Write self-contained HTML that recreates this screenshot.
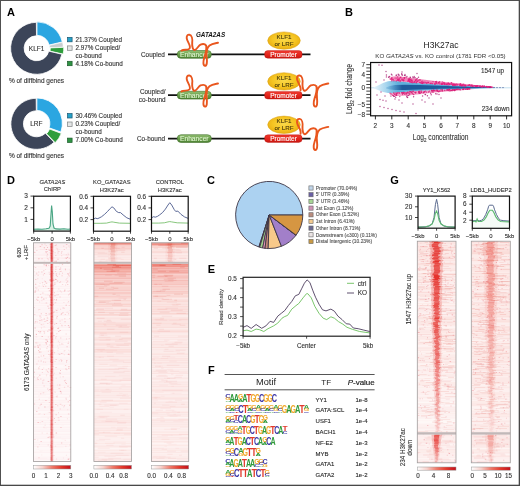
<!DOCTYPE html><html><head><meta charset="utf-8"><style>
html,body{margin:0;padding:0;background:#fff;}
svg{display:block;filter:blur(0.35px)}
text{font-family:"Liberation Sans",sans-serif;}
</style></head><body>
<svg width="520" height="486" viewBox="0 0 520 486">
<defs>
<linearGradient id="cbar" x1="0" x2="1" y1="0" y2="0"><stop offset="0" stop-color="#ffffff"/><stop offset="0.25" stop-color="#f8d2cc"/><stop offset="0.5" stop-color="#f07a6a"/><stop offset="0.75" stop-color="#e4392c"/><stop offset="1" stop-color="#c40f1a"/></linearGradient>
<linearGradient id="eg" x1="0" x2="0" y1="0" y2="1"><stop offset="0" stop-color="#94c274"/><stop offset="0.5" stop-color="#6a9e4c"/><stop offset="1" stop-color="#4c8232"/></linearGradient>
<linearGradient id="pg" x1="0" x2="0" y1="0" y2="1"><stop offset="0" stop-color="#ee3a30"/><stop offset="0.6" stop-color="#e2231a"/><stop offset="1" stop-color="#c81812"/></linearGradient>
<radialGradient id="yg" cx="0.5" cy="0.45" r="0.6"><stop offset="0" stop-color="#fad94a"/><stop offset="0.6" stop-color="#f5c421"/><stop offset="1" stop-color="#e6a90f"/></radialGradient>
</defs>
<rect x="0" y="0" width="520" height="486" fill="#fff"/>

<text x="7" y="16" font-size="11" text-anchor="start" fill="#000" font-weight="bold" font-style="normal" >A</text>
<text x="345" y="16.3" font-size="11" text-anchor="start" fill="#000" font-weight="bold" font-style="normal" >B</text>
<text x="7" y="184.2" font-size="11" text-anchor="start" fill="#000" font-weight="bold" font-style="normal" >D</text>
<text x="207" y="184.2" font-size="11" text-anchor="start" fill="#000" font-weight="bold" font-style="normal" >C</text>
<text x="390.3" y="184.3" font-size="11" text-anchor="start" fill="#000" font-weight="bold" font-style="normal" >G</text>
<text x="207.8" y="273.2" font-size="11" text-anchor="start" fill="#000" font-weight="bold" font-style="normal" >E</text>
<text x="208" y="373.8" font-size="11" text-anchor="start" fill="#000" font-weight="bold" font-style="normal" >F</text>
<path d="M36.97,21.83A26,26 0 0 1 62.30,41.95L49.15,45.00A12.5,12.5 0 0 0 36.97,35.33Z" fill="#2ba6e1" stroke="#fff" stroke-width="0.8"/><path d="M62.52,42.34A26,26 0 0 1 63.17,47.14L49.68,47.70A12.5,12.5 0 0 0 49.37,45.39Z" fill="#c9cdd0" stroke="#fff" stroke-width="0.5"/><path d="M63.77,47.33A26,26 0 0 1 63.16,54.11L49.99,51.15A12.5,12.5 0 0 0 50.28,47.89Z" fill="#2f9e3c" stroke="#fff" stroke-width="0.8"/><path d="M61.92,54.22A26,26 0 1 1 36.37,22.30L36.49,35.80A12.5,12.5 0 1 0 48.77,51.15Z" fill="#3c4559" stroke="#fff" stroke-width="0.8"/><text x="36.6" y="50.599999999999994" font-size="6.5" text-anchor="middle" fill="#333" font-weight="normal" font-style="normal" stroke="#333" stroke-width="0.12" >KLF1</text>
<path d="M36.89,97.95A25.5,25.5 0 0 1 60.90,132.03L49.13,127.83A13,13 0 0 0 36.89,110.45Z" fill="#2ba6e1" stroke="#fff" stroke-width="0.8"/><path d="M60.98,132.58A25.5,25.5 0 0 1 60.85,132.93L49.14,128.56A13,13 0 0 0 49.21,128.38Z" fill="#c9cdd0" stroke="#fff" stroke-width="0.5"/><path d="M61.29,133.38A25.5,25.5 0 0 1 55.22,142.70L46.49,133.76A13,13 0 0 0 49.58,129.00Z" fill="#2f9e3c" stroke="#fff" stroke-width="0.8"/><path d="M54.05,142.20A25.5,25.5 0 1 1 36.18,98.30L36.29,110.80A13,13 0 1 0 45.40,133.18Z" fill="#3c4559" stroke="#fff" stroke-width="0.8"/><text x="36.4" y="126.1" font-size="6.5" text-anchor="middle" fill="#333" font-weight="normal" font-style="normal" stroke="#333" stroke-width="0.12" >LRF</text>
<text x="36.5" y="82.6" font-size="6.5" text-anchor="middle" fill="#333" font-weight="normal" font-style="normal" stroke="#333" stroke-width="0.12" >% of diffbind genes</text>
<text x="36.5" y="158.3" font-size="6.5" text-anchor="middle" fill="#333" font-weight="normal" font-style="normal" stroke="#333" stroke-width="0.12" >% of diffbind genes</text>
<rect x="67.5" y="37.4" width="4.6" height="4.4" fill="#27a2c8" stroke="#1a5672" stroke-width="0.7"/><text x="75.5" y="41.8" font-size="6.3" text-anchor="start" fill="#333" font-weight="normal" font-style="normal" stroke="#333" stroke-width="0.12" >21.37% Coupled</text><rect x="67.5" y="45.9" width="4.6" height="4.4" fill="#e4e6e6" stroke="#7d8283" stroke-width="0.7"/><text x="75.5" y="50.2" font-size="6.3" text-anchor="start" fill="#333" font-weight="normal" font-style="normal" stroke="#333" stroke-width="0.12" >2.97% Coupled/</text><text x="75.5" y="57.6" font-size="6.3" text-anchor="start" fill="#333" font-weight="normal" font-style="normal" stroke="#333" stroke-width="0.12" >co-bound</text><rect x="67.5" y="61.3" width="4.6" height="4.4" fill="#2f9444" stroke="#1c5a2a" stroke-width="0.7"/><text x="75.5" y="65.7" font-size="6.3" text-anchor="start" fill="#333" font-weight="normal" font-style="normal" stroke="#333" stroke-width="0.12" >4.18% Co-bound</text>
<rect x="67.5" y="113.6" width="4.6" height="4.4" fill="#27a2c8" stroke="#1a5672" stroke-width="0.7"/><text x="75.5" y="118.1" font-size="6.3" text-anchor="start" fill="#333" font-weight="normal" font-style="normal" stroke="#333" stroke-width="0.12" >30.46% Coupled</text><rect x="67.5" y="122.0" width="4.6" height="4.4" fill="#e4e6e6" stroke="#7d8283" stroke-width="0.7"/><text x="75.5" y="126.3" font-size="6.3" text-anchor="start" fill="#333" font-weight="normal" font-style="normal" stroke="#333" stroke-width="0.12" >0.23% Coupled/</text><text x="75.5" y="133.6" font-size="6.3" text-anchor="start" fill="#333" font-weight="normal" font-style="normal" stroke="#333" stroke-width="0.12" >co-bound</text><rect x="67.5" y="138.1" width="4.6" height="4.4" fill="#2f9444" stroke="#1c5a2a" stroke-width="0.7"/><text x="75.5" y="142.3" font-size="6.3" text-anchor="start" fill="#333" font-weight="normal" font-style="normal" stroke="#333" stroke-width="0.12" >7.00% Co-bound</text>
<line x1="168" y1="54.4" x2="310.5" y2="54.4" stroke="#111" stroke-width="1.7"/><rect x="177.2" y="50.5" width="34.2" height="7.8" rx="3.9" fill="url(#eg)" stroke="#3f6f2a" stroke-width="0.6"/><text x="194.3" y="56.8" font-size="6.7" text-anchor="middle" fill="#dff3cf" font-weight="normal" font-style="normal" stroke="#dff3cf" stroke-width="0.12" >Enhancer</text><rect x="264.6" y="50.6" width="37.5" height="7.6" rx="3.3" fill="url(#pg)" stroke="#b81410" stroke-width="0.4"/><text x="283.5" y="56.8" font-size="6.5" text-anchor="middle" fill="#fff" font-weight="normal" font-style="normal" stroke="#fff" stroke-width="0.12" >Promoter</text><ellipse cx="284" cy="40.599999999999994" rx="16.3" ry="8.7" fill="url(#yg)" stroke="#dba010" stroke-width="0.5"/><text x="284" y="39.099999999999994" font-size="6.2" text-anchor="middle" fill="#4a3c0c" font-weight="normal" font-style="normal" stroke="#4a3c0c" stroke-width="0.12" >KLF1</text><text x="284" y="46.0" font-size="6.2" text-anchor="middle" fill="#4a3c0c" font-weight="normal" font-style="normal" stroke="#4a3c0c" stroke-width="0.12" >or LRF</text><path d="M181.5,50.5 C184,49 187.5,50.5 189.5,48.5 C191.5,46 187,41.5 186.7,38 C186.5,35.3 187.8,34.4 189.4,34.6 C191.8,35 192.6,39 192.2,42.5 C191.9,46.5 193,50.5 195,49.8 C197,49 198.5,45.5 200.5,44.5 C202.5,43.8 205,43.8 206.2,45.5 C206.8,49.5 205.5,54 204.3,57.5 C203,61.5 203,65.5 205,65.7 C207,65.8 207.2,61.5 206.7,57.5 C206.2,53 206.8,47.5 209.5,45.3 C212,43.5 215,43.2 218,42.6" transform="translate(0,0.10000000000000142)" fill="none" stroke="#e9561e" stroke-width="1.9" stroke-linecap="round" stroke-linejoin="round"/>
<line x1="168" y1="95.2" x2="310.5" y2="95.2" stroke="#111" stroke-width="1.7"/><rect x="177.2" y="91.3" width="34.2" height="7.8" rx="3.9" fill="url(#eg)" stroke="#3f6f2a" stroke-width="0.6"/><text x="194.3" y="97.60000000000001" font-size="6.7" text-anchor="middle" fill="#dff3cf" font-weight="normal" font-style="normal" stroke="#dff3cf" stroke-width="0.12" >Enhancer</text><rect x="264.6" y="91.4" width="37.5" height="7.6" rx="3.3" fill="url(#pg)" stroke="#b81410" stroke-width="0.4"/><text x="283.5" y="97.60000000000001" font-size="6.5" text-anchor="middle" fill="#fff" font-weight="normal" font-style="normal" stroke="#fff" stroke-width="0.12" >Promoter</text><ellipse cx="284" cy="81.4" rx="16.3" ry="8.7" fill="url(#yg)" stroke="#dba010" stroke-width="0.5"/><text x="284" y="79.9" font-size="6.2" text-anchor="middle" fill="#4a3c0c" font-weight="normal" font-style="normal" stroke="#4a3c0c" stroke-width="0.12" >KLF1</text><text x="284" y="86.8" font-size="6.2" text-anchor="middle" fill="#4a3c0c" font-weight="normal" font-style="normal" stroke="#4a3c0c" stroke-width="0.12" >or LRF</text><path d="M181.5,50.5 C184,49 187.5,50.5 189.5,48.5 C191.5,46 187,41.5 186.7,38 C186.5,35.3 187.8,34.4 189.4,34.6 C191.8,35 192.6,39 192.2,42.5 C191.9,46.5 193,50.5 195,49.8 C197,49 198.5,45.5 200.5,44.5 C202.5,43.8 205,43.8 206.2,45.5 C206.8,49.5 205.5,54 204.3,57.5 C203,61.5 203,65.5 205,65.7 C207,65.8 207.2,61.5 206.7,57.5 C206.2,53 206.8,47.5 209.5,45.3 C212,43.5 215,43.2 218,42.6" transform="translate(0,40.900000000000006)" fill="none" stroke="#e9561e" stroke-width="1.9" stroke-linecap="round" stroke-linejoin="round"/><path d="M190.2,49.5 C191.5,46 187,41.5 186.7,38 C186.5,35.3 187.8,34.4 189.4,34.6 C191.8,35 192.6,39 192.2,42.5 C191.9,46.5 193,50.5 195,49.8 C197,49 198.5,45.5 200.5,44.5 C202.5,43.8 205,43.8 206.2,45.5 C206.8,49.5 205.5,54 204.3,57.5 C203,61.5 203,65.5 205,65.7 C207,65.8 207.2,61.5 206.7,57.5 C206.2,53 206.8,47.5 209.5,45.3 C212,43.5 215,43.2 218,42.6" transform="translate(110.3,40.900000000000006)" fill="none" stroke="#e9561e" stroke-width="1.9" stroke-linecap="round" stroke-linejoin="round"/>
<line x1="168" y1="138.6" x2="310.5" y2="138.6" stroke="#111" stroke-width="1.7"/><rect x="177.2" y="134.7" width="34.2" height="7.8" rx="3.9" fill="url(#eg)" stroke="#3f6f2a" stroke-width="0.6"/><text x="194.3" y="141.0" font-size="6.7" text-anchor="middle" fill="#dff3cf" font-weight="normal" font-style="normal" stroke="#dff3cf" stroke-width="0.12" >Enhancer</text><rect x="264.6" y="134.79999999999998" width="37.5" height="7.6" rx="3.3" fill="url(#pg)" stroke="#b81410" stroke-width="0.4"/><text x="283.5" y="141.0" font-size="6.5" text-anchor="middle" fill="#fff" font-weight="normal" font-style="normal" stroke="#fff" stroke-width="0.12" >Promoter</text><ellipse cx="284" cy="124.8" rx="16.3" ry="8.7" fill="url(#yg)" stroke="#dba010" stroke-width="0.5"/><text x="284" y="123.3" font-size="6.2" text-anchor="middle" fill="#4a3c0c" font-weight="normal" font-style="normal" stroke="#4a3c0c" stroke-width="0.12" >KLF1</text><text x="284" y="130.2" font-size="6.2" text-anchor="middle" fill="#4a3c0c" font-weight="normal" font-style="normal" stroke="#4a3c0c" stroke-width="0.12" >or LRF</text><path d="M190.2,49.5 C191.5,46 187,41.5 186.7,38 C186.5,35.3 187.8,34.4 189.4,34.6 C191.8,35 192.6,39 192.2,42.5 C191.9,46.5 193,50.5 195,49.8 C197,49 198.5,45.5 200.5,44.5 C202.5,43.8 205,43.8 206.2,45.5 C206.8,49.5 205.5,54 204.3,57.5 C203,61.5 203,65.5 205,65.7 C207,65.8 207.2,61.5 206.7,57.5 C206.2,53 206.8,47.5 209.5,45.3 C212,43.5 215,43.2 218,42.6" transform="translate(110.3,84.3)" fill="none" stroke="#e9561e" stroke-width="1.9" stroke-linecap="round" stroke-linejoin="round"/>
<text x="164.8" y="56.6" font-size="6.4" text-anchor="end" fill="#333" font-weight="normal" font-style="normal" stroke="#333" stroke-width="0.12" >Coupled</text>
<text x="165.5" y="94.2" font-size="6.4" text-anchor="end" fill="#333" font-weight="normal" font-style="normal" stroke="#333" stroke-width="0.12" >Coupled/</text>
<text x="165.5" y="101.6" font-size="6.4" text-anchor="end" fill="#333" font-weight="normal" font-style="normal" stroke="#333" stroke-width="0.12" >co-bound</text>
<text x="165.0" y="140.8" font-size="6.4" text-anchor="end" fill="#333" font-weight="normal" font-style="normal" stroke="#333" stroke-width="0.12" >Co-bound</text>
<text x="210.5" y="37.2" font-size="6.3" text-anchor="middle" fill="#111" font-weight="bold" font-style="italic" >GATA2AS</text>
<text x="441" y="48" font-size="8.5" text-anchor="middle" fill="#222" font-weight="normal" font-style="normal" >H3K27ac</text>
<text x="440.5" y="58.2" font-size="6.2" text-anchor="middle" fill="#333">KO <tspan font-style="italic">GATA2AS</tspan> vs. KO control (1781 FDR &lt;0.05)</text>
<defs><linearGradient id="lb" x1="374" x2="398" y1="0" y2="0" gradientUnits="userSpaceOnUse"><stop offset="0" stop-color="#e4f2fa"/><stop offset="0.5" stop-color="#a8d6ee"/><stop offset="1" stop-color="#5fb0dc"/></linearGradient><linearGradient id="cb" x1="386" x2="402" y1="0" y2="0" gradientUnits="userSpaceOnUse"><stop offset="0" stop-color="#4f9ccf" stop-opacity="0.3"/><stop offset="1" stop-color="#1d5c9c"/></linearGradient><linearGradient id="pk" x1="384" x2="396" y1="0" y2="0" gradientUnits="userSpaceOnUse"><stop offset="0" stop-color="#e5217f" stop-opacity="0.15"/><stop offset="1" stop-color="#e5217f" stop-opacity="0.92"/></linearGradient></defs>
<line x1="370.6" y1="87.8" x2="511.6" y2="87.8" stroke="#c4e0f0" stroke-width="1"/>
<polygon points="389,78 392,76.5 397,76.2 405,77 415,78.5 425,79.8 435,81 445,82 455,83 465,84 475,85 485,86 495,87 495,87.5 480,86.8 465,86 450,85.2 435,84.3 420,83.3 410,82.5 400,81.6 393,80.8" fill="url(#pk)" opacity="0.6"/>
<polygon points="393,93 400,92.3 410,91.4 420,90.7 435,89.9 450,89.3 465,88.8 480,88.4 470,89.6 460,90.4 450,91.2 440,92 430,93 420,94.2 410,95.2 400,96 393,96 389,95" fill="url(#pk)" opacity="0.45"/>
<polygon points="374,87.2 378,85.5 383,83 388,81.2 393,80.8 400,81.6 410,82.5 420,83.3 435,84.3 450,85.2 465,86 480,86.8 495,87.5 495,88.1 480,88.4 465,88.8 450,89.3 435,89.9 420,90.7 410,91.4 400,92.3 393,93 388,93 383,92 378,90 374,88.4" fill="url(#lb)" opacity="1"/>
<polygon points="386,87.4 390,86 395,84.9 405,84.7 420,85.1 440,85.7 460,86.4 480,87 492,87.5 492,87.9 480,88.1 460,88.4 440,88.8 420,89.4 405,89.9 395,90 390,89.4 386,88.4" fill="url(#cb)" opacity="1"/>
<circle cx="436.1" cy="83.4" r="0.7" fill="#e0207c" opacity="0.85"/>
<circle cx="484.3" cy="86.6" r="0.7" fill="#e0207c" opacity="0.85"/>
<circle cx="441.8" cy="83.9" r="0.7" fill="#e0207c" opacity="0.85"/>
<circle cx="408.8" cy="80.8" r="0.7" fill="#e0207c" opacity="0.85"/>
<circle cx="454.2" cy="85.1" r="0.7" fill="#e0207c" opacity="0.85"/>
<circle cx="399.6" cy="79.0" r="0.7" fill="#e0207c" opacity="0.85"/>
<circle cx="399.2" cy="80.9" r="0.7" fill="#e0207c" opacity="0.85"/>
<circle cx="460.7" cy="83.9" r="0.7" fill="#e0207c" opacity="0.85"/>
<circle cx="490.2" cy="87.3" r="0.7" fill="#e0207c" opacity="0.85"/>
<circle cx="456.7" cy="85.0" r="0.7" fill="#e0207c" opacity="0.85"/>
<circle cx="406.1" cy="77.6" r="0.7" fill="#e0207c" opacity="0.85"/>
<circle cx="443.9" cy="82.4" r="0.7" fill="#e0207c" opacity="0.85"/>
<circle cx="409.4" cy="79.7" r="0.7" fill="#e0207c" opacity="0.85"/>
<circle cx="393.1" cy="79.2" r="0.7" fill="#e0207c" opacity="0.85"/>
<circle cx="434.9" cy="84.0" r="0.7" fill="#e0207c" opacity="0.85"/>
<circle cx="443.0" cy="84.1" r="0.7" fill="#e0207c" opacity="0.85"/>
<circle cx="441.0" cy="84.0" r="0.7" fill="#e0207c" opacity="0.85"/>
<circle cx="436.6" cy="82.7" r="0.7" fill="#e0207c" opacity="0.85"/>
<circle cx="491.8" cy="87.3" r="0.7" fill="#e0207c" opacity="0.85"/>
<circle cx="475.7" cy="86.3" r="0.7" fill="#e0207c" opacity="0.85"/>
<circle cx="422.2" cy="81.1" r="0.7" fill="#e0207c" opacity="0.85"/>
<circle cx="419.5" cy="79.9" r="0.7" fill="#e0207c" opacity="0.85"/>
<circle cx="468.2" cy="85.4" r="0.7" fill="#e0207c" opacity="0.85"/>
<circle cx="476.4" cy="86.0" r="0.7" fill="#e0207c" opacity="0.85"/>
<circle cx="487.7" cy="87.1" r="0.7" fill="#e0207c" opacity="0.85"/>
<circle cx="390.1" cy="78.9" r="0.7" fill="#e0207c" opacity="0.85"/>
<circle cx="482.8" cy="86.5" r="0.7" fill="#e0207c" opacity="0.85"/>
<circle cx="490.0" cy="86.9" r="0.7" fill="#e0207c" opacity="0.85"/>
<circle cx="397.4" cy="80.1" r="0.7" fill="#e0207c" opacity="0.85"/>
<circle cx="469.4" cy="85.3" r="0.7" fill="#e0207c" opacity="0.85"/>
<circle cx="398.9" cy="79.0" r="0.7" fill="#e0207c" opacity="0.85"/>
<circle cx="488.3" cy="87.1" r="0.7" fill="#e0207c" opacity="0.85"/>
<circle cx="402.0" cy="78.9" r="0.7" fill="#e0207c" opacity="0.85"/>
<circle cx="400.3" cy="77.5" r="0.7" fill="#e0207c" opacity="0.85"/>
<circle cx="471.3" cy="85.2" r="0.7" fill="#e0207c" opacity="0.85"/>
<circle cx="447.0" cy="83.9" r="0.7" fill="#e0207c" opacity="0.85"/>
<circle cx="409.4" cy="81.6" r="0.7" fill="#e0207c" opacity="0.85"/>
<circle cx="403.4" cy="80.7" r="0.7" fill="#e0207c" opacity="0.85"/>
<circle cx="401.9" cy="79.7" r="0.7" fill="#e0207c" opacity="0.85"/>
<circle cx="411.7" cy="80.1" r="0.7" fill="#e0207c" opacity="0.85"/>
<circle cx="489.0" cy="87.1" r="0.7" fill="#e0207c" opacity="0.85"/>
<circle cx="421.0" cy="83.1" r="0.7" fill="#e0207c" opacity="0.85"/>
<circle cx="411.5" cy="80.6" r="0.7" fill="#e0207c" opacity="0.85"/>
<circle cx="477.1" cy="86.3" r="0.7" fill="#e0207c" opacity="0.85"/>
<circle cx="400.2" cy="81.6" r="0.7" fill="#e0207c" opacity="0.85"/>
<circle cx="411.8" cy="80.1" r="0.7" fill="#e0207c" opacity="0.85"/>
<circle cx="468.8" cy="85.3" r="0.7" fill="#e0207c" opacity="0.85"/>
<circle cx="420.2" cy="80.0" r="0.7" fill="#e0207c" opacity="0.85"/>
<circle cx="399.2" cy="80.1" r="0.7" fill="#e0207c" opacity="0.85"/>
<circle cx="414.8" cy="81.7" r="0.7" fill="#e0207c" opacity="0.85"/>
<circle cx="427.9" cy="82.4" r="0.7" fill="#e0207c" opacity="0.85"/>
<circle cx="487.8" cy="86.9" r="0.7" fill="#e0207c" opacity="0.85"/>
<circle cx="448.6" cy="84.9" r="0.7" fill="#e0207c" opacity="0.85"/>
<circle cx="408.6" cy="79.1" r="0.7" fill="#e0207c" opacity="0.85"/>
<circle cx="482.7" cy="86.8" r="0.7" fill="#e0207c" opacity="0.85"/>
<circle cx="415.4" cy="80.2" r="0.7" fill="#e0207c" opacity="0.85"/>
<circle cx="465.4" cy="86.0" r="0.7" fill="#e0207c" opacity="0.85"/>
<circle cx="410.1" cy="82.4" r="0.7" fill="#e0207c" opacity="0.85"/>
<circle cx="480.0" cy="86.5" r="0.7" fill="#e0207c" opacity="0.85"/>
<circle cx="433.0" cy="81.6" r="0.7" fill="#e0207c" opacity="0.85"/>
<circle cx="393.9" cy="80.8" r="0.7" fill="#e0207c" opacity="0.85"/>
<circle cx="414.3" cy="82.0" r="0.7" fill="#e0207c" opacity="0.85"/>
<circle cx="416.2" cy="82.5" r="0.7" fill="#e0207c" opacity="0.85"/>
<circle cx="450.8" cy="83.9" r="0.7" fill="#e0207c" opacity="0.85"/>
<circle cx="407.9" cy="81.4" r="0.7" fill="#e0207c" opacity="0.85"/>
<circle cx="397.0" cy="78.3" r="0.7" fill="#e0207c" opacity="0.85"/>
<circle cx="447.1" cy="84.8" r="0.7" fill="#e0207c" opacity="0.85"/>
<circle cx="452.7" cy="84.0" r="0.7" fill="#e0207c" opacity="0.85"/>
<circle cx="483.6" cy="86.3" r="0.7" fill="#e0207c" opacity="0.85"/>
<circle cx="391.7" cy="78.6" r="0.7" fill="#e0207c" opacity="0.85"/>
<circle cx="435.5" cy="81.7" r="0.7" fill="#e0207c" opacity="0.85"/>
<circle cx="408.0" cy="80.1" r="0.7" fill="#e0207c" opacity="0.85"/>
<circle cx="448.4" cy="83.2" r="0.7" fill="#e0207c" opacity="0.85"/>
<circle cx="426.9" cy="83.5" r="0.7" fill="#e0207c" opacity="0.85"/>
<circle cx="490.0" cy="87.1" r="0.7" fill="#e0207c" opacity="0.85"/>
<circle cx="460.5" cy="85.2" r="0.7" fill="#e0207c" opacity="0.85"/>
<circle cx="404.3" cy="77.6" r="0.7" fill="#e0207c" opacity="0.85"/>
<circle cx="391.8" cy="80.7" r="0.7" fill="#e0207c" opacity="0.85"/>
<circle cx="461.5" cy="85.8" r="0.7" fill="#e0207c" opacity="0.85"/>
<circle cx="392.2" cy="79.8" r="0.7" fill="#e0207c" opacity="0.85"/>
<circle cx="439.2" cy="84.0" r="0.7" fill="#e0207c" opacity="0.85"/>
<circle cx="422.5" cy="83.5" r="0.7" fill="#e0207c" opacity="0.85"/>
<circle cx="397.7" cy="79.8" r="0.7" fill="#e0207c" opacity="0.85"/>
<circle cx="465.2" cy="85.9" r="0.7" fill="#e0207c" opacity="0.85"/>
<circle cx="465.2" cy="85.6" r="0.7" fill="#e0207c" opacity="0.85"/>
<circle cx="470.9" cy="86.2" r="0.7" fill="#e0207c" opacity="0.85"/>
<circle cx="425.9" cy="82.9" r="0.7" fill="#e0207c" opacity="0.85"/>
<circle cx="481.9" cy="86.8" r="0.7" fill="#e0207c" opacity="0.85"/>
<circle cx="432.5" cy="83.7" r="0.7" fill="#e0207c" opacity="0.85"/>
<circle cx="478.1" cy="86.3" r="0.7" fill="#e0207c" opacity="0.85"/>
<circle cx="453.7" cy="84.3" r="0.7" fill="#e0207c" opacity="0.85"/>
<circle cx="449.4" cy="84.5" r="0.7" fill="#e0207c" opacity="0.85"/>
<circle cx="398.2" cy="80.2" r="0.7" fill="#e0207c" opacity="0.85"/>
<circle cx="491.3" cy="87.3" r="0.7" fill="#e0207c" opacity="0.85"/>
<circle cx="464.3" cy="85.1" r="0.7" fill="#e0207c" opacity="0.85"/>
<circle cx="465.0" cy="85.4" r="0.7" fill="#e0207c" opacity="0.85"/>
<circle cx="434.9" cy="84.0" r="0.7" fill="#e0207c" opacity="0.85"/>
<circle cx="398.5" cy="80.6" r="0.7" fill="#e0207c" opacity="0.85"/>
<circle cx="393.0" cy="79.7" r="0.7" fill="#e0207c" opacity="0.85"/>
<circle cx="439.1" cy="82.7" r="0.7" fill="#e0207c" opacity="0.85"/>
<circle cx="461.2" cy="85.1" r="0.7" fill="#e0207c" opacity="0.85"/>
<circle cx="452.7" cy="85.2" r="0.7" fill="#e0207c" opacity="0.85"/>
<circle cx="416.1" cy="78.9" r="0.7" fill="#e0207c" opacity="0.85"/>
<circle cx="420.7" cy="82.5" r="0.7" fill="#e0207c" opacity="0.85"/>
<circle cx="410.7" cy="79.5" r="0.7" fill="#e0207c" opacity="0.85"/>
<circle cx="482.4" cy="86.7" r="0.7" fill="#e0207c" opacity="0.85"/>
<circle cx="435.1" cy="84.1" r="0.7" fill="#e0207c" opacity="0.85"/>
<circle cx="423.3" cy="82.7" r="0.7" fill="#e0207c" opacity="0.85"/>
<circle cx="410.2" cy="80.6" r="0.7" fill="#e0207c" opacity="0.85"/>
<circle cx="472.2" cy="86.3" r="0.7" fill="#e0207c" opacity="0.85"/>
<circle cx="479.8" cy="86.2" r="0.7" fill="#e0207c" opacity="0.85"/>
<circle cx="449.5" cy="83.8" r="0.7" fill="#e0207c" opacity="0.85"/>
<circle cx="403.9" cy="80.2" r="0.7" fill="#e0207c" opacity="0.85"/>
<circle cx="475.4" cy="86.4" r="0.7" fill="#e0207c" opacity="0.85"/>
<circle cx="462.5" cy="85.8" r="0.7" fill="#e0207c" opacity="0.85"/>
<circle cx="418.2" cy="80.4" r="0.7" fill="#e0207c" opacity="0.85"/>
<circle cx="436.0" cy="82.6" r="0.7" fill="#e0207c" opacity="0.85"/>
<circle cx="411.8" cy="80.7" r="0.7" fill="#e0207c" opacity="0.85"/>
<circle cx="453.8" cy="84.5" r="0.7" fill="#e0207c" opacity="0.85"/>
<circle cx="422.2" cy="83.0" r="0.7" fill="#e0207c" opacity="0.85"/>
<circle cx="490.2" cy="87.0" r="0.7" fill="#e0207c" opacity="0.85"/>
<circle cx="397.6" cy="76.9" r="0.7" fill="#e0207c" opacity="0.85"/>
<circle cx="479.0" cy="85.6" r="0.7" fill="#e0207c" opacity="0.85"/>
<circle cx="462.3" cy="85.2" r="0.7" fill="#e0207c" opacity="0.85"/>
<circle cx="421.5" cy="82.9" r="0.7" fill="#e0207c" opacity="0.85"/>
<circle cx="391.9" cy="77.8" r="0.7" fill="#e0207c" opacity="0.85"/>
<circle cx="436.4" cy="81.5" r="0.7" fill="#e0207c" opacity="0.85"/>
<circle cx="474.6" cy="85.6" r="0.7" fill="#e0207c" opacity="0.85"/>
<circle cx="404.4" cy="77.7" r="0.7" fill="#e0207c" opacity="0.85"/>
<circle cx="454.2" cy="84.5" r="0.7" fill="#e0207c" opacity="0.85"/>
<circle cx="454.3" cy="84.9" r="0.7" fill="#e0207c" opacity="0.85"/>
<circle cx="472.4" cy="86.4" r="0.7" fill="#e0207c" opacity="0.85"/>
<circle cx="459.8" cy="84.3" r="0.7" fill="#e0207c" opacity="0.85"/>
<circle cx="438.5" cy="82.5" r="0.7" fill="#e0207c" opacity="0.85"/>
<circle cx="391.1" cy="79.5" r="0.7" fill="#e0207c" opacity="0.85"/>
<circle cx="462.8" cy="84.5" r="0.7" fill="#e0207c" opacity="0.85"/>
<circle cx="417.8" cy="81.1" r="0.7" fill="#e0207c" opacity="0.85"/>
<circle cx="461.1" cy="85.1" r="0.7" fill="#e0207c" opacity="0.85"/>
<circle cx="452.7" cy="84.9" r="0.7" fill="#e0207c" opacity="0.85"/>
<circle cx="430.1" cy="83.5" r="0.7" fill="#e0207c" opacity="0.85"/>
<circle cx="482.4" cy="86.0" r="0.7" fill="#e0207c" opacity="0.85"/>
<circle cx="485.1" cy="86.9" r="0.7" fill="#e0207c" opacity="0.85"/>
<circle cx="403.3" cy="80.0" r="0.7" fill="#e0207c" opacity="0.85"/>
<circle cx="453.8" cy="85.3" r="0.7" fill="#e0207c" opacity="0.85"/>
<circle cx="428.4" cy="82.8" r="0.7" fill="#e0207c" opacity="0.85"/>
<circle cx="479.7" cy="86.6" r="0.7" fill="#e0207c" opacity="0.85"/>
<circle cx="486.3" cy="86.7" r="0.7" fill="#e0207c" opacity="0.85"/>
<circle cx="456.4" cy="84.1" r="0.7" fill="#e0207c" opacity="0.85"/>
<circle cx="463.6" cy="85.7" r="0.7" fill="#e0207c" opacity="0.85"/>
<circle cx="455.4" cy="85.0" r="0.7" fill="#e0207c" opacity="0.85"/>
<circle cx="411.8" cy="82.4" r="0.7" fill="#e0207c" opacity="0.85"/>
<circle cx="490.0" cy="87.3" r="0.7" fill="#e0207c" opacity="0.85"/>
<circle cx="444.8" cy="84.5" r="0.7" fill="#e0207c" opacity="0.85"/>
<circle cx="422.7" cy="83.3" r="0.7" fill="#e0207c" opacity="0.85"/>
<circle cx="477.3" cy="86.0" r="0.7" fill="#e0207c" opacity="0.85"/>
<circle cx="398.4" cy="79.5" r="0.7" fill="#e0207c" opacity="0.85"/>
<circle cx="446.1" cy="84.6" r="0.7" fill="#e0207c" opacity="0.85"/>
<circle cx="439.7" cy="81.8" r="0.7" fill="#e0207c" opacity="0.85"/>
<circle cx="472.5" cy="85.1" r="0.7" fill="#e0207c" opacity="0.85"/>
<circle cx="471.6" cy="85.2" r="0.7" fill="#e0207c" opacity="0.85"/>
<circle cx="424.2" cy="83.1" r="0.7" fill="#e0207c" opacity="0.85"/>
<circle cx="404.3" cy="78.5" r="0.7" fill="#e0207c" opacity="0.85"/>
<circle cx="442.7" cy="84.2" r="0.7" fill="#e0207c" opacity="0.85"/>
<circle cx="475.7" cy="86.3" r="0.7" fill="#e0207c" opacity="0.85"/>
<circle cx="486.5" cy="86.8" r="0.7" fill="#e0207c" opacity="0.85"/>
<circle cx="486.8" cy="86.4" r="0.7" fill="#e0207c" opacity="0.85"/>
<circle cx="412.6" cy="81.2" r="0.7" fill="#e0207c" opacity="0.85"/>
<circle cx="419.6" cy="82.5" r="0.7" fill="#e0207c" opacity="0.85"/>
<circle cx="455.2" cy="84.7" r="0.7" fill="#e0207c" opacity="0.85"/>
<circle cx="476.0" cy="86.2" r="0.7" fill="#e0207c" opacity="0.85"/>
<circle cx="421.8" cy="81.6" r="0.7" fill="#e0207c" opacity="0.85"/>
<circle cx="476.2" cy="86.5" r="0.7" fill="#e0207c" opacity="0.85"/>
<circle cx="411.2" cy="82.2" r="0.7" fill="#e0207c" opacity="0.85"/>
<circle cx="488.8" cy="86.9" r="0.7" fill="#e0207c" opacity="0.85"/>
<circle cx="448.4" cy="83.4" r="0.7" fill="#e0207c" opacity="0.85"/>
<circle cx="444.7" cy="83.9" r="0.7" fill="#e0207c" opacity="0.85"/>
<circle cx="451.7" cy="83.0" r="0.7" fill="#e0207c" opacity="0.85"/>
<circle cx="488.9" cy="86.9" r="0.7" fill="#e0207c" opacity="0.85"/>
<circle cx="430.9" cy="83.6" r="0.7" fill="#e0207c" opacity="0.85"/>
<circle cx="447.4" cy="84.1" r="0.7" fill="#e0207c" opacity="0.85"/>
<circle cx="460.5" cy="84.0" r="0.7" fill="#e0207c" opacity="0.85"/>
<circle cx="444.9" cy="83.7" r="0.7" fill="#e0207c" opacity="0.85"/>
<circle cx="487.6" cy="87.1" r="0.7" fill="#e0207c" opacity="0.85"/>
<circle cx="417.5" cy="81.5" r="0.7" fill="#e0207c" opacity="0.85"/>
<circle cx="403.0" cy="79.9" r="0.7" fill="#e0207c" opacity="0.85"/>
<circle cx="473.2" cy="86.3" r="0.7" fill="#e0207c" opacity="0.85"/>
<circle cx="438.6" cy="82.9" r="0.7" fill="#e0207c" opacity="0.85"/>
<circle cx="409.5" cy="81.3" r="0.7" fill="#e0207c" opacity="0.85"/>
<circle cx="484.4" cy="86.3" r="0.7" fill="#e0207c" opacity="0.85"/>
<circle cx="469.5" cy="84.6" r="0.7" fill="#e0207c" opacity="0.85"/>
<circle cx="409.8" cy="79.7" r="0.7" fill="#e0207c" opacity="0.85"/>
<circle cx="460.1" cy="84.6" r="0.7" fill="#e0207c" opacity="0.85"/>
<circle cx="426.2" cy="82.8" r="0.7" fill="#e0207c" opacity="0.85"/>
<circle cx="400.7" cy="80.8" r="0.7" fill="#e0207c" opacity="0.85"/>
<circle cx="402.5" cy="80.1" r="0.7" fill="#e0207c" opacity="0.85"/>
<circle cx="415.6" cy="80.2" r="0.7" fill="#e0207c" opacity="0.85"/>
<circle cx="444.1" cy="83.7" r="0.7" fill="#e0207c" opacity="0.85"/>
<circle cx="428.3" cy="82.4" r="0.7" fill="#e0207c" opacity="0.85"/>
<circle cx="444.0" cy="82.9" r="0.7" fill="#e0207c" opacity="0.85"/>
<circle cx="410.8" cy="81.4" r="0.7" fill="#e0207c" opacity="0.85"/>
<circle cx="455.1" cy="84.7" r="0.7" fill="#e0207c" opacity="0.85"/>
<circle cx="476.8" cy="86.3" r="0.7" fill="#e0207c" opacity="0.85"/>
<circle cx="477.4" cy="85.8" r="0.7" fill="#e0207c" opacity="0.85"/>
<circle cx="465.6" cy="85.8" r="0.7" fill="#e0207c" opacity="0.85"/>
<circle cx="482.1" cy="86.3" r="0.7" fill="#e0207c" opacity="0.85"/>
<circle cx="422.1" cy="83.3" r="0.7" fill="#e0207c" opacity="0.85"/>
<circle cx="412.3" cy="82.7" r="0.7" fill="#e0207c" opacity="0.85"/>
<circle cx="480.5" cy="85.9" r="0.7" fill="#e0207c" opacity="0.85"/>
<circle cx="414.4" cy="82.1" r="0.7" fill="#e0207c" opacity="0.85"/>
<circle cx="416.5" cy="79.8" r="0.7" fill="#e0207c" opacity="0.85"/>
<circle cx="474.9" cy="85.9" r="0.7" fill="#e0207c" opacity="0.85"/>
<circle cx="470.6" cy="85.1" r="0.7" fill="#e0207c" opacity="0.85"/>
<circle cx="431.1" cy="83.3" r="0.7" fill="#e0207c" opacity="0.85"/>
<circle cx="391.8" cy="78.2" r="0.7" fill="#e0207c" opacity="0.85"/>
<circle cx="459.6" cy="85.6" r="0.7" fill="#e0207c" opacity="0.85"/>
<circle cx="488.8" cy="86.6" r="0.7" fill="#e0207c" opacity="0.85"/>
<circle cx="441.6" cy="84.2" r="0.7" fill="#e0207c" opacity="0.85"/>
<circle cx="441.3" cy="84.1" r="0.7" fill="#e0207c" opacity="0.85"/>
<circle cx="409.3" cy="78.6" r="0.7" fill="#e0207c" opacity="0.85"/>
<circle cx="400.8" cy="77.3" r="0.7" fill="#e0207c" opacity="0.85"/>
<circle cx="446.3" cy="84.0" r="0.7" fill="#e0207c" opacity="0.85"/>
<circle cx="448.0" cy="83.2" r="0.7" fill="#e0207c" opacity="0.85"/>
<circle cx="408.8" cy="79.4" r="0.7" fill="#e0207c" opacity="0.85"/>
<circle cx="475.7" cy="86.6" r="0.7" fill="#e0207c" opacity="0.85"/>
<circle cx="484.5" cy="86.2" r="0.7" fill="#e0207c" opacity="0.85"/>
<circle cx="396.3" cy="81.0" r="0.7" fill="#e0207c" opacity="0.85"/>
<circle cx="437.1" cy="83.9" r="0.7" fill="#e0207c" opacity="0.85"/>
<circle cx="423.3" cy="82.1" r="0.7" fill="#e0207c" opacity="0.85"/>
<circle cx="442.6" cy="83.6" r="0.7" fill="#e0207c" opacity="0.85"/>
<circle cx="451.3" cy="82.8" r="0.7" fill="#e0207c" opacity="0.85"/>
<circle cx="461.5" cy="85.6" r="0.7" fill="#e0207c" opacity="0.85"/>
<circle cx="408.5" cy="80.5" r="0.7" fill="#e0207c" opacity="0.85"/>
<circle cx="465.4" cy="85.2" r="0.7" fill="#e0207c" opacity="0.85"/>
<circle cx="409.9" cy="79.3" r="0.7" fill="#e0207c" opacity="0.85"/>
<circle cx="442.3" cy="82.0" r="0.7" fill="#e0207c" opacity="0.85"/>
<circle cx="481.1" cy="86.7" r="0.7" fill="#e0207c" opacity="0.85"/>
<circle cx="461.9" cy="85.6" r="0.7" fill="#e0207c" opacity="0.85"/>
<circle cx="454.2" cy="84.4" r="0.7" fill="#e0207c" opacity="0.85"/>
<circle cx="451.2" cy="84.4" r="0.7" fill="#e0207c" opacity="0.85"/>
<circle cx="490.2" cy="87.2" r="0.7" fill="#e0207c" opacity="0.85"/>
<circle cx="416.3" cy="82.8" r="0.7" fill="#e0207c" opacity="0.85"/>
<circle cx="465.9" cy="85.8" r="0.7" fill="#e0207c" opacity="0.85"/>
<circle cx="473.1" cy="85.8" r="0.7" fill="#e0207c" opacity="0.85"/>
<circle cx="481.4" cy="86.8" r="0.7" fill="#e0207c" opacity="0.85"/>
<circle cx="460.9" cy="85.5" r="0.7" fill="#e0207c" opacity="0.85"/>
<circle cx="468.1" cy="85.4" r="0.7" fill="#e0207c" opacity="0.85"/>
<circle cx="463.7" cy="84.3" r="0.7" fill="#e0207c" opacity="0.85"/>
<circle cx="424.9" cy="82.2" r="0.7" fill="#e0207c" opacity="0.85"/>
<circle cx="391.1" cy="79.1" r="0.7" fill="#e0207c" opacity="0.85"/>
<circle cx="455.1" cy="84.9" r="0.7" fill="#e0207c" opacity="0.85"/>
<circle cx="413.7" cy="82.6" r="0.7" fill="#e0207c" opacity="0.85"/>
<circle cx="457.9" cy="84.5" r="0.7" fill="#e0207c" opacity="0.85"/>
<circle cx="457.3" cy="84.9" r="0.7" fill="#e0207c" opacity="0.85"/>
<circle cx="444.4" cy="83.6" r="0.7" fill="#e0207c" opacity="0.85"/>
<circle cx="492.0" cy="87.2" r="0.7" fill="#e0207c" opacity="0.85"/>
<circle cx="461.5" cy="85.5" r="0.7" fill="#e0207c" opacity="0.85"/>
<circle cx="490.0" cy="86.6" r="0.7" fill="#e0207c" opacity="0.85"/>
<circle cx="452.8" cy="84.9" r="0.7" fill="#e0207c" opacity="0.85"/>
<circle cx="416.2" cy="81.2" r="0.7" fill="#e0207c" opacity="0.85"/>
<circle cx="395.1" cy="78.1" r="0.7" fill="#e0207c" opacity="0.85"/>
<circle cx="420.1" cy="93.3" r="0.7" fill="#d82078" opacity="0.85"/>
<circle cx="410.1" cy="91.6" r="0.7" fill="#d82078" opacity="0.85"/>
<circle cx="434.0" cy="90.8" r="0.7" fill="#d82078" opacity="0.85"/>
<circle cx="467.4" cy="89.0" r="0.7" fill="#d82078" opacity="0.85"/>
<circle cx="469.6" cy="88.9" r="0.7" fill="#d82078" opacity="0.85"/>
<circle cx="454.8" cy="90.5" r="0.7" fill="#d82078" opacity="0.85"/>
<circle cx="437.8" cy="90.2" r="0.7" fill="#d82078" opacity="0.85"/>
<circle cx="393.6" cy="93.1" r="0.7" fill="#d82078" opacity="0.85"/>
<circle cx="402.8" cy="93.4" r="0.7" fill="#d82078" opacity="0.85"/>
<circle cx="403.5" cy="93.3" r="0.7" fill="#d82078" opacity="0.85"/>
<circle cx="438.9" cy="91.7" r="0.7" fill="#d82078" opacity="0.85"/>
<circle cx="465.6" cy="89.3" r="0.7" fill="#d82078" opacity="0.85"/>
<circle cx="432.1" cy="90.8" r="0.7" fill="#d82078" opacity="0.85"/>
<circle cx="419.2" cy="92.6" r="0.7" fill="#d82078" opacity="0.85"/>
<circle cx="442.4" cy="90.3" r="0.7" fill="#d82078" opacity="0.85"/>
<circle cx="412.7" cy="91.9" r="0.7" fill="#d82078" opacity="0.85"/>
<circle cx="413.7" cy="94.5" r="0.7" fill="#d82078" opacity="0.85"/>
<circle cx="409.6" cy="94.7" r="0.7" fill="#d82078" opacity="0.85"/>
<circle cx="402.5" cy="92.7" r="0.7" fill="#d82078" opacity="0.85"/>
<circle cx="421.2" cy="90.9" r="0.7" fill="#d82078" opacity="0.85"/>
<circle cx="449.9" cy="90.9" r="0.7" fill="#d82078" opacity="0.85"/>
<circle cx="469.1" cy="88.7" r="0.7" fill="#d82078" opacity="0.85"/>
<circle cx="395.9" cy="92.9" r="0.7" fill="#d82078" opacity="0.85"/>
<circle cx="424.4" cy="91.6" r="0.7" fill="#d82078" opacity="0.85"/>
<circle cx="467.9" cy="89.3" r="0.7" fill="#d82078" opacity="0.85"/>
<circle cx="431.9" cy="90.2" r="0.7" fill="#d82078" opacity="0.85"/>
<circle cx="447.8" cy="90.1" r="0.7" fill="#d82078" opacity="0.85"/>
<circle cx="468.3" cy="88.8" r="0.7" fill="#d82078" opacity="0.85"/>
<circle cx="438.3" cy="91.5" r="0.7" fill="#d82078" opacity="0.85"/>
<circle cx="439.9" cy="90.6" r="0.7" fill="#d82078" opacity="0.85"/>
<circle cx="406.3" cy="94.9" r="0.7" fill="#d82078" opacity="0.85"/>
<circle cx="432.2" cy="92.0" r="0.7" fill="#d82078" opacity="0.85"/>
<circle cx="425.4" cy="91.1" r="0.7" fill="#d82078" opacity="0.85"/>
<circle cx="426.4" cy="92.1" r="0.7" fill="#d82078" opacity="0.85"/>
<circle cx="436.6" cy="90.9" r="0.7" fill="#d82078" opacity="0.85"/>
<circle cx="452.2" cy="89.8" r="0.7" fill="#d82078" opacity="0.85"/>
<circle cx="469.8" cy="88.7" r="0.7" fill="#d82078" opacity="0.85"/>
<circle cx="448.7" cy="90.5" r="0.7" fill="#d82078" opacity="0.85"/>
<circle cx="399.1" cy="92.6" r="0.7" fill="#d82078" opacity="0.85"/>
<circle cx="452.7" cy="89.6" r="0.7" fill="#d82078" opacity="0.85"/>
<circle cx="418.7" cy="92.7" r="0.7" fill="#d82078" opacity="0.85"/>
<circle cx="444.8" cy="90.1" r="0.7" fill="#d82078" opacity="0.85"/>
<circle cx="437.3" cy="90.4" r="0.7" fill="#d82078" opacity="0.85"/>
<circle cx="450.3" cy="90.5" r="0.7" fill="#d82078" opacity="0.85"/>
<circle cx="409.9" cy="91.5" r="0.7" fill="#d82078" opacity="0.85"/>
<circle cx="463.3" cy="89.0" r="0.7" fill="#d82078" opacity="0.85"/>
<circle cx="393.2" cy="95.4" r="0.7" fill="#d82078" opacity="0.85"/>
<circle cx="411.7" cy="92.8" r="0.7" fill="#d82078" opacity="0.85"/>
<circle cx="439.9" cy="91.4" r="0.7" fill="#d82078" opacity="0.85"/>
<circle cx="433.3" cy="92.1" r="0.7" fill="#d82078" opacity="0.85"/>
<circle cx="396.9" cy="93.3" r="0.7" fill="#d82078" opacity="0.85"/>
<circle cx="434.1" cy="90.6" r="0.7" fill="#d82078" opacity="0.85"/>
<circle cx="419.9" cy="92.0" r="0.7" fill="#d82078" opacity="0.85"/>
<circle cx="406.9" cy="93.5" r="0.7" fill="#d82078" opacity="0.85"/>
<circle cx="449.6" cy="89.5" r="0.7" fill="#d82078" opacity="0.85"/>
<circle cx="395.9" cy="95.1" r="0.7" fill="#d82078" opacity="0.85"/>
<circle cx="454.7" cy="89.6" r="0.7" fill="#d82078" opacity="0.85"/>
<circle cx="451.5" cy="90.4" r="0.7" fill="#d82078" opacity="0.85"/>
<circle cx="423.9" cy="92.3" r="0.7" fill="#d82078" opacity="0.85"/>
<circle cx="454.8" cy="89.9" r="0.7" fill="#d82078" opacity="0.85"/>
<circle cx="442.3" cy="89.6" r="0.7" fill="#d82078" opacity="0.85"/>
<circle cx="416.0" cy="92.1" r="0.7" fill="#d82078" opacity="0.85"/>
<circle cx="449.7" cy="89.4" r="0.7" fill="#d82078" opacity="0.85"/>
<circle cx="424.2" cy="91.9" r="0.7" fill="#d82078" opacity="0.85"/>
<circle cx="397.8" cy="92.8" r="0.7" fill="#d82078" opacity="0.85"/>
<circle cx="396.3" cy="95.3" r="0.7" fill="#d82078" opacity="0.85"/>
<circle cx="435.1" cy="90.8" r="0.7" fill="#d82078" opacity="0.85"/>
<circle cx="444.8" cy="90.6" r="0.7" fill="#d82078" opacity="0.85"/>
<circle cx="452.0" cy="90.7" r="0.7" fill="#d82078" opacity="0.85"/>
<circle cx="407.1" cy="92.5" r="0.7" fill="#d82078" opacity="0.85"/>
<circle cx="396.5" cy="94.4" r="0.7" fill="#d82078" opacity="0.85"/>
<circle cx="448.0" cy="89.8" r="0.7" fill="#d82078" opacity="0.85"/>
<circle cx="412.6" cy="93.8" r="0.7" fill="#d82078" opacity="0.85"/>
<circle cx="418.6" cy="91.4" r="0.7" fill="#d82078" opacity="0.85"/>
<circle cx="419.3" cy="93.3" r="0.7" fill="#d82078" opacity="0.85"/>
<circle cx="446.7" cy="90.0" r="0.7" fill="#d82078" opacity="0.85"/>
<circle cx="463.5" cy="88.9" r="0.7" fill="#d82078" opacity="0.85"/>
<circle cx="463.1" cy="89.4" r="0.7" fill="#d82078" opacity="0.85"/>
<circle cx="454.2" cy="90.0" r="0.7" fill="#d82078" opacity="0.85"/>
<circle cx="415.4" cy="92.6" r="0.7" fill="#d82078" opacity="0.85"/>
<circle cx="464.8" cy="88.9" r="0.7" fill="#d82078" opacity="0.85"/>
<circle cx="409.9" cy="93.1" r="0.7" fill="#d82078" opacity="0.85"/>
<circle cx="419.2" cy="92.4" r="0.7" fill="#d82078" opacity="0.85"/>
<circle cx="421.6" cy="92.1" r="0.7" fill="#d82078" opacity="0.85"/>
<circle cx="405.6" cy="92.9" r="0.7" fill="#d82078" opacity="0.85"/>
<circle cx="453.8" cy="89.7" r="0.7" fill="#d82078" opacity="0.85"/>
<circle cx="456.9" cy="89.5" r="0.7" fill="#d82078" opacity="0.85"/>
<circle cx="404.1" cy="92.5" r="0.7" fill="#d82078" opacity="0.85"/>
<circle cx="460.5" cy="89.7" r="0.7" fill="#d82078" opacity="0.85"/>
<circle cx="391.8" cy="93.9" r="0.7" fill="#d82078" opacity="0.85"/>
<circle cx="433.5" cy="90.7" r="0.7" fill="#d82078" opacity="0.85"/>
<circle cx="467.3" cy="89.0" r="0.7" fill="#d82078" opacity="0.85"/>
<circle cx="454.3" cy="90.5" r="0.7" fill="#d82078" opacity="0.85"/>
<circle cx="433.7" cy="90.3" r="0.7" fill="#d82078" opacity="0.85"/>
<circle cx="396.7" cy="95.2" r="0.7" fill="#d82078" opacity="0.85"/>
<circle cx="449.0" cy="89.5" r="0.7" fill="#d82078" opacity="0.85"/>
<circle cx="396.8" cy="93.4" r="0.7" fill="#d82078" opacity="0.85"/>
<circle cx="401.5" cy="92.8" r="0.7" fill="#d82078" opacity="0.85"/>
<circle cx="441.9" cy="90.9" r="0.7" fill="#d82078" opacity="0.85"/>
<circle cx="407.6" cy="92.2" r="0.7" fill="#d82078" opacity="0.85"/>
<circle cx="431.7" cy="90.5" r="0.7" fill="#d82078" opacity="0.85"/>
<circle cx="421.6" cy="92.2" r="0.7" fill="#d82078" opacity="0.85"/>
<circle cx="467.5" cy="89.0" r="0.7" fill="#d82078" opacity="0.85"/>
<circle cx="429.5" cy="91.1" r="0.7" fill="#d82078" opacity="0.85"/>
<circle cx="447.7" cy="89.8" r="0.7" fill="#d82078" opacity="0.85"/>
<circle cx="463.2" cy="89.4" r="0.7" fill="#d82078" opacity="0.85"/>
<circle cx="456.1" cy="89.4" r="0.7" fill="#d82078" opacity="0.85"/>
<circle cx="458.3" cy="89.2" r="0.7" fill="#d82078" opacity="0.85"/>
<circle cx="456.7" cy="89.2" r="0.7" fill="#d82078" opacity="0.85"/>
<circle cx="466.6" cy="89.0" r="0.7" fill="#d82078" opacity="0.85"/>
<circle cx="431.9" cy="90.6" r="0.7" fill="#d82078" opacity="0.85"/>
<circle cx="454.2" cy="89.9" r="0.7" fill="#d82078" opacity="0.85"/>
<circle cx="423.6" cy="92.7" r="0.7" fill="#d82078" opacity="0.85"/>
<circle cx="449.3" cy="89.3" r="0.7" fill="#d82078" opacity="0.85"/>
<circle cx="420.0" cy="93.0" r="0.7" fill="#d82078" opacity="0.85"/>
<circle cx="406.3" cy="93.2" r="0.7" fill="#d82078" opacity="0.85"/>
<circle cx="413.4" cy="91.2" r="0.7" fill="#d82078" opacity="0.85"/>
<circle cx="394.7" cy="94.4" r="0.7" fill="#d82078" opacity="0.85"/>
<circle cx="399.2" cy="93.2" r="0.7" fill="#d82078" opacity="0.85"/>
<circle cx="452.1" cy="90.4" r="0.7" fill="#d82078" opacity="0.85"/>
<circle cx="395.0" cy="94.0" r="0.7" fill="#d82078" opacity="0.85"/>
<circle cx="436.7" cy="90.0" r="0.7" fill="#d82078" opacity="0.85"/>
<circle cx="392.9" cy="95.2" r="0.7" fill="#d82078" opacity="0.85"/>
<circle cx="404.8" cy="94.1" r="0.7" fill="#d82078" opacity="0.85"/>
<circle cx="408.8" cy="92.2" r="0.7" fill="#d82078" opacity="0.85"/>
<circle cx="437.6" cy="91.2" r="0.7" fill="#d82078" opacity="0.85"/>
<circle cx="404.8" cy="93.9" r="0.7" fill="#d82078" opacity="0.85"/>
<circle cx="403.8" cy="92.5" r="0.7" fill="#d82078" opacity="0.85"/>
<circle cx="414.9" cy="92.2" r="0.7" fill="#d82078" opacity="0.85"/>
<circle cx="455.4" cy="89.7" r="0.7" fill="#d82078" opacity="0.85"/>
<circle cx="410.8" cy="91.6" r="0.7" fill="#d82078" opacity="0.85"/>
<circle cx="463.1" cy="89.5" r="0.7" fill="#d82078" opacity="0.85"/>
<circle cx="433.8" cy="90.0" r="0.7" fill="#d82078" opacity="0.85"/>
<circle cx="428.6" cy="92.0" r="0.7" fill="#d82078" opacity="0.85"/>
<circle cx="394.0" cy="93.0" r="0.7" fill="#d82078" opacity="0.85"/>
<circle cx="454.1" cy="89.9" r="0.7" fill="#d82078" opacity="0.85"/>
<circle cx="432.2" cy="90.9" r="0.7" fill="#d82078" opacity="0.85"/>
<circle cx="412.0" cy="91.3" r="0.7" fill="#d82078" opacity="0.85"/>
<circle cx="442.6" cy="90.9" r="0.7" fill="#d82078" opacity="0.85"/>
<circle cx="390.9" cy="93.9" r="0.7" fill="#d82078" opacity="0.85"/>
<circle cx="419.7" cy="91.2" r="0.7" fill="#d82078" opacity="0.85"/>
<circle cx="447.1" cy="89.9" r="0.7" fill="#d82078" opacity="0.85"/>
<circle cx="402.6" cy="94.6" r="0.7" fill="#d82078" opacity="0.85"/>
<circle cx="415.7" cy="93.0" r="0.7" fill="#d82078" opacity="0.85"/>
<circle cx="459.5" cy="89.5" r="0.7" fill="#d82078" opacity="0.85"/>
<circle cx="441.0" cy="89.7" r="0.7" fill="#d82078" opacity="0.85"/>
<circle cx="411.3" cy="92.5" r="0.7" fill="#d82078" opacity="0.85"/>
<circle cx="402.1" cy="92.7" r="0.7" fill="#d82078" opacity="0.85"/>
<circle cx="390.1" cy="93.3" r="0.7" fill="#d82078" opacity="0.85"/>
<circle cx="457.7" cy="89.2" r="0.7" fill="#d82078" opacity="0.85"/>
<circle cx="388.8" cy="77.2" r="0.7" fill="#b02a7a" opacity="0.85"/>
<circle cx="410.4" cy="77.5" r="0.7" fill="#b02a7a" opacity="0.85"/>
<circle cx="402.3" cy="75.3" r="0.7" fill="#b02a7a" opacity="0.85"/>
<circle cx="418.5" cy="77.2" r="0.7" fill="#b02a7a" opacity="0.85"/>
<circle cx="415.1" cy="77.6" r="0.7" fill="#b02a7a" opacity="0.85"/>
<circle cx="412.8" cy="76.9" r="0.7" fill="#b02a7a" opacity="0.85"/>
<circle cx="417.2" cy="78.5" r="0.7" fill="#b02a7a" opacity="0.85"/>
<circle cx="414.1" cy="77.7" r="0.7" fill="#b02a7a" opacity="0.85"/>
<circle cx="404.5" cy="75.4" r="0.7" fill="#b02a7a" opacity="0.85"/>
<circle cx="391.4" cy="74.3" r="0.7" fill="#b02a7a" opacity="0.85"/>
<circle cx="396.6" cy="75.3" r="0.7" fill="#b02a7a" opacity="0.85"/>
<circle cx="388.6" cy="77.1" r="0.7" fill="#b02a7a" opacity="0.85"/>
<circle cx="401.9" cy="74.5" r="0.7" fill="#b02a7a" opacity="0.85"/>
<circle cx="398.2" cy="74.3" r="0.7" fill="#b02a7a" opacity="0.85"/>
<circle cx="389.6" cy="76.5" r="0.7" fill="#b02a7a" opacity="0.85"/>
<circle cx="401.7" cy="73.8" r="0.7" fill="#b02a7a" opacity="0.85"/>
<circle cx="414.2" cy="76.4" r="0.7" fill="#b02a7a" opacity="0.85"/>
<circle cx="386.4" cy="76.9" r="0.7" fill="#b02a7a" opacity="0.85"/>
<circle cx="410.1" cy="77.1" r="0.7" fill="#b02a7a" opacity="0.85"/>
<circle cx="405.2" cy="75.7" r="0.7" fill="#b02a7a" opacity="0.85"/>
<circle cx="386.4" cy="75.0" r="0.7" fill="#b02a7a" opacity="0.85"/>
<circle cx="413.2" cy="77.6" r="0.7" fill="#b02a7a" opacity="0.85"/>
<circle cx="406.9" cy="76.4" r="0.7" fill="#b02a7a" opacity="0.85"/>
<circle cx="398.8" cy="74.8" r="0.7" fill="#b02a7a" opacity="0.85"/>
<circle cx="396.1" cy="75.2" r="0.7" fill="#b02a7a" opacity="0.85"/>
<circle cx="407.2" cy="97.4" r="0.7" fill="#b02a7a" opacity="0.85"/>
<circle cx="399.8" cy="96.6" r="0.7" fill="#b02a7a" opacity="0.85"/>
<circle cx="425.5" cy="94.5" r="0.7" fill="#b02a7a" opacity="0.85"/>
<circle cx="437.0" cy="94.0" r="0.7" fill="#b02a7a" opacity="0.85"/>
<circle cx="425.1" cy="94.6" r="0.7" fill="#b02a7a" opacity="0.85"/>
<circle cx="430.7" cy="93.2" r="0.7" fill="#b02a7a" opacity="0.85"/>
<circle cx="393.6" cy="96.3" r="0.7" fill="#b02a7a" opacity="0.85"/>
<circle cx="422.6" cy="96.0" r="0.7" fill="#b02a7a" opacity="0.85"/>
<circle cx="395.7" cy="97.2" r="0.7" fill="#b02a7a" opacity="0.85"/>
<circle cx="431.2" cy="94.7" r="0.7" fill="#b02a7a" opacity="0.85"/>
<circle cx="390.9" cy="96.1" r="0.7" fill="#b02a7a" opacity="0.85"/>
<circle cx="394.5" cy="96.4" r="0.7" fill="#b02a7a" opacity="0.85"/>
<circle cx="408.0" cy="95.6" r="0.7" fill="#b02a7a" opacity="0.85"/>
<circle cx="435.7" cy="93.7" r="0.7" fill="#b02a7a" opacity="0.85"/>
<circle cx="413.6" cy="96.8" r="0.7" fill="#b02a7a" opacity="0.85"/>
<circle cx="427.4" cy="95.8" r="0.7" fill="#b02a7a" opacity="0.85"/>
<circle cx="406.8" cy="96.4" r="0.7" fill="#b02a7a" opacity="0.85"/>
<circle cx="408.3" cy="95.4" r="0.7" fill="#b02a7a" opacity="0.85"/>
<circle cx="407.6" cy="97.5" r="0.7" fill="#b02a7a" opacity="0.85"/>
<circle cx="439.0" cy="94.5" r="0.7" fill="#b02a7a" opacity="0.85"/>
<circle cx="380.0" cy="99.5" r="0.7" fill="#a8307a" opacity="0.85"/>
<circle cx="383.0" cy="100.2" r="0.7" fill="#a8307a" opacity="0.85"/>
<circle cx="386.0" cy="101.0" r="0.7" fill="#a8307a" opacity="0.85"/>
<circle cx="380.0" cy="106.5" r="0.7" fill="#a8307a" opacity="0.85"/>
<circle cx="384.0" cy="107.5" r="0.7" fill="#a8307a" opacity="0.85"/>
<circle cx="388.0" cy="108.5" r="0.7" fill="#a8307a" opacity="0.85"/>
<circle cx="392.0" cy="109.5" r="0.7" fill="#a8307a" opacity="0.85"/>
<circle cx="396.0" cy="110.5" r="0.7" fill="#a8307a" opacity="0.85"/>
<circle cx="400.0" cy="111.3" r="0.7" fill="#a8307a" opacity="0.85"/>
<circle cx="404.0" cy="112.0" r="0.7" fill="#a8307a" opacity="0.85"/>
<circle cx="379.0" cy="65.0" r="0.7" fill="#a8307a" opacity="0.85"/>
<circle cx="382.0" cy="65.3" r="0.7" fill="#a8307a" opacity="0.85"/>
<circle cx="386.0" cy="71.5" r="0.7" fill="#a8307a" opacity="0.85"/>
<circle cx="402.0" cy="72.0" r="0.7" fill="#a8307a" opacity="0.85"/>
<circle cx="405.0" cy="74.5" r="0.7" fill="#a8307a" opacity="0.85"/>
<circle cx="392.0" cy="75.0" r="0.7" fill="#a8307a" opacity="0.85"/>
<circle cx="399.0" cy="75.5" r="0.7" fill="#a8307a" opacity="0.85"/>
<circle cx="417.0" cy="73.5" r="0.7" fill="#a8307a" opacity="0.85"/>
<circle cx="409.0" cy="93.5" r="0.7" fill="#a8307a" opacity="0.85"/>
<circle cx="402.0" cy="103.0" r="0.7" fill="#a8307a" opacity="0.85"/>
<circle cx="422.0" cy="100.0" r="0.7" fill="#a8307a" opacity="0.85"/>
<circle cx="425.0" cy="102.0" r="0.7" fill="#a8307a" opacity="0.85"/>
<circle cx="429.0" cy="98.0" r="0.7" fill="#a8307a" opacity="0.85"/>
<circle cx="413.0" cy="104.0" r="0.7" fill="#a8307a" opacity="0.85"/>
<circle cx="441.0" cy="98.0" r="0.7" fill="#a8307a" opacity="0.85"/>
<circle cx="377.0" cy="95.0" r="0.7" fill="#a8307a" opacity="0.85"/>
<circle cx="376.0" cy="82.0" r="0.7" fill="#a8307a" opacity="0.85"/>
<circle cx="395.0" cy="99.0" r="0.7" fill="#a8307a" opacity="0.85"/>
<circle cx="399.0" cy="100.0" r="0.7" fill="#a8307a" opacity="0.85"/>
<circle cx="416.0" cy="113.5" r="0.7" fill="#a8307a" opacity="0.85"/>
<circle cx="433.0" cy="104.0" r="0.7" fill="#a8307a" opacity="0.85"/>
<circle cx="384.0" cy="80.0" r="0.7" fill="#a8307a" opacity="0.85"/>
<circle cx="385.0" cy="96.0" r="0.7" fill="#a8307a" opacity="0.85"/>
<circle cx="381.0" cy="92.0" r="0.7" fill="#a8307a" opacity="0.85"/>
<circle cx="490" cy="87.6" r="0.55" fill="#3a4a8a"/>
<circle cx="494" cy="87.6" r="0.55" fill="#3a4a8a"/>
<circle cx="497" cy="87.6" r="0.55" fill="#3a4a8a"/>
<circle cx="500" cy="87.6" r="0.55" fill="#3a4a8a"/>
<circle cx="503" cy="87.6" r="0.55" fill="#3a4a8a"/>
<rect x="370.6" y="62.5" width="141.0" height="53.3" fill="none" stroke="#111" stroke-width="1.2"/>
<line x1="366.3" y1="114.30" x2="370.6" y2="114.30" stroke="#111" stroke-width="0.8"/>
<line x1="366.3" y1="110.99" x2="370.6" y2="110.99" stroke="#111" stroke-width="0.8"/>
<line x1="366.3" y1="107.68" x2="370.6" y2="107.68" stroke="#111" stroke-width="0.8"/>
<line x1="366.3" y1="104.36" x2="370.6" y2="104.36" stroke="#111" stroke-width="0.8"/>
<line x1="366.3" y1="101.05" x2="370.6" y2="101.05" stroke="#111" stroke-width="0.8"/>
<line x1="366.3" y1="97.74" x2="370.6" y2="97.74" stroke="#111" stroke-width="0.8"/>
<line x1="366.3" y1="94.43" x2="370.6" y2="94.43" stroke="#111" stroke-width="0.8"/>
<line x1="366.3" y1="91.11" x2="370.6" y2="91.11" stroke="#111" stroke-width="0.8"/>
<line x1="366.3" y1="87.80" x2="370.6" y2="87.80" stroke="#111" stroke-width="0.8"/>
<line x1="366.3" y1="84.49" x2="370.6" y2="84.49" stroke="#111" stroke-width="0.8"/>
<line x1="366.3" y1="81.17" x2="370.6" y2="81.17" stroke="#111" stroke-width="0.8"/>
<line x1="366.3" y1="77.86" x2="370.6" y2="77.86" stroke="#111" stroke-width="0.8"/>
<line x1="366.3" y1="74.55" x2="370.6" y2="74.55" stroke="#111" stroke-width="0.8"/>
<line x1="366.3" y1="71.23" x2="370.6" y2="71.23" stroke="#111" stroke-width="0.8"/>
<line x1="366.3" y1="67.92" x2="370.6" y2="67.92" stroke="#111" stroke-width="0.8"/>
<line x1="366.3" y1="64.61" x2="370.6" y2="64.61" stroke="#111" stroke-width="0.8"/>
<text x="365" y="66.809" font-size="6.4" text-anchor="end" fill="#333" font-weight="normal" font-style="normal" stroke="#333" stroke-width="0.12" >7</text>
<text x="365" y="76.748" font-size="6.4" text-anchor="end" fill="#333" font-weight="normal" font-style="normal" stroke="#333" stroke-width="0.12" >4</text>
<text x="365" y="90.0" font-size="6.4" text-anchor="end" fill="#333" font-weight="normal" font-style="normal" stroke="#333" stroke-width="0.12" >0</text>
<text x="365" y="106.565" font-size="6.4" text-anchor="end" fill="#333" font-weight="normal" font-style="normal" stroke="#333" stroke-width="0.12" >−5</text>
<text x="365" y="116.504" font-size="6.4" text-anchor="end" fill="#333" font-weight="normal" font-style="normal" stroke="#333" stroke-width="0.12" >−8</text>
<line x1="375.40" y1="115.8" x2="375.40" y2="119.39999999999999" stroke="#111" stroke-width="0.9"/>
<text x="375.4" y="127.7" font-size="6.4" text-anchor="middle" fill="#333" font-weight="normal" font-style="normal" stroke="#333" stroke-width="0.12" >2</text>
<line x1="391.80" y1="115.8" x2="391.80" y2="119.39999999999999" stroke="#111" stroke-width="0.9"/>
<text x="391.79999999999995" y="127.7" font-size="6.4" text-anchor="middle" fill="#333" font-weight="normal" font-style="normal" stroke="#333" stroke-width="0.12" >3</text>
<line x1="408.20" y1="115.8" x2="408.20" y2="119.39999999999999" stroke="#111" stroke-width="0.9"/>
<text x="408.2" y="127.7" font-size="6.4" text-anchor="middle" fill="#333" font-weight="normal" font-style="normal" stroke="#333" stroke-width="0.12" >4</text>
<line x1="424.60" y1="115.8" x2="424.60" y2="119.39999999999999" stroke="#111" stroke-width="0.9"/>
<text x="424.59999999999997" y="127.7" font-size="6.4" text-anchor="middle" fill="#333" font-weight="normal" font-style="normal" stroke="#333" stroke-width="0.12" >5</text>
<line x1="441.00" y1="115.8" x2="441.00" y2="119.39999999999999" stroke="#111" stroke-width="0.9"/>
<text x="441.0" y="127.7" font-size="6.4" text-anchor="middle" fill="#333" font-weight="normal" font-style="normal" stroke="#333" stroke-width="0.12" >6</text>
<line x1="457.40" y1="115.8" x2="457.40" y2="119.39999999999999" stroke="#111" stroke-width="0.9"/>
<text x="457.4" y="127.7" font-size="6.4" text-anchor="middle" fill="#333" font-weight="normal" font-style="normal" stroke="#333" stroke-width="0.12" >7</text>
<line x1="473.80" y1="115.8" x2="473.80" y2="119.39999999999999" stroke="#111" stroke-width="0.9"/>
<text x="473.79999999999995" y="127.7" font-size="6.4" text-anchor="middle" fill="#333" font-weight="normal" font-style="normal" stroke="#333" stroke-width="0.12" >8</text>
<line x1="490.20" y1="115.8" x2="490.20" y2="119.39999999999999" stroke="#111" stroke-width="0.9"/>
<text x="490.19999999999993" y="127.7" font-size="6.4" text-anchor="middle" fill="#333" font-weight="normal" font-style="normal" stroke="#333" stroke-width="0.12" >9</text>
<line x1="506.60" y1="115.8" x2="506.60" y2="119.39999999999999" stroke="#111" stroke-width="0.9"/>
<text x="506.59999999999997" y="127.7" font-size="6.4" text-anchor="middle" fill="#333" font-weight="normal" font-style="normal" stroke="#333" stroke-width="0.12" >10</text>
<text x="481" y="72.6" font-size="6.4" text-anchor="start" fill="#333" font-weight="normal" font-style="normal" stroke="#333" stroke-width="0.12" >1547 up</text>
<text x="509.5" y="111.3" font-size="6.4" text-anchor="end" fill="#333" font-weight="normal" font-style="normal" stroke="#333" stroke-width="0.12" >234 down</text>
<text x="440.6" y="139.6" font-size="8.2" text-anchor="middle" fill="#333" stroke="#333" stroke-width="0.1" textLength="55.5" lengthAdjust="spacingAndGlyphs">Log<tspan font-size="5.6" dy="2">2</tspan><tspan dy="-2"> concentration</tspan></text>
<text transform="translate(352,89) rotate(-90)" x="0" y="0" font-size="8.2" text-anchor="middle" fill="#333" stroke="#333" stroke-width="0.1" textLength="50" lengthAdjust="spacingAndGlyphs">Log<tspan font-size="5.6" dy="2">2</tspan><tspan dy="-2"> fold change</tspan></text>
<text x="52.4" y="184" font-size="5.8" text-anchor="middle" fill="#333" font-weight="normal" font-style="italic" stroke="#333" stroke-width="0.12" >GATA2AS</text>
<text x="52.4" y="191.4" font-size="5.8" text-anchor="middle" fill="#333" font-weight="normal" font-style="normal" stroke="#333" stroke-width="0.12" >ChIRP</text>
<text x="111.8" y="183.8" font-size="5.8" text-anchor="middle" fill="#333" font-weight="normal" font-style="normal" stroke="#333" stroke-width="0.12" >KO_GATA2AS</text>
<text x="111.8" y="191.5" font-size="5.8" text-anchor="middle" fill="#333" font-weight="normal" font-style="normal" stroke="#333" stroke-width="0.12" >H3K27ac</text>
<text x="169.8" y="183.8" font-size="5.8" text-anchor="middle" fill="#333" font-weight="normal" font-style="normal" stroke="#333" stroke-width="0.12" >CONTROL</text>
<text x="169.8" y="191.5" font-size="5.8" text-anchor="middle" fill="#333" font-weight="normal" font-style="normal" stroke="#333" stroke-width="0.12" >H3K27ac</text>
<polygon points="33.7,229.3 38,229.0 42,229.2 46,228.8 49,228.3 50.2,226 51,214 51.6,205.6 52.3,212 53,224 54,228 56,228.9 60,229.1 64,228.8 68,229.2 70.4,229 70.4,231.1 33.7,231.1" fill="#d8f1e4"/>
<polyline points="33.7,229.3 38,229.0 42,229.2 46,228.8 49,228.3 50.2,226 51,214 51.6,205.6 52.3,212 53,224 54,228 56,228.9 60,229.1 64,228.8 68,229.2 70.4,229" fill="none" stroke="#4aa584" stroke-width="1.1"/>
<rect x="33.7" y="196.2" width="36.7" height="34.900000000000006" fill="none" stroke="#111" stroke-width="1.2"/>
<line x1="30.5" y1="196.1" x2="33.7" y2="196.1" stroke="#111" stroke-width="0.8"/>
<text x="27.8" y="198.45" font-size="6.5" text-anchor="end" fill="#333" font-weight="normal" font-style="normal" stroke="#333" stroke-width="0.12" >3</text>
<line x1="30.5" y1="207.8" x2="33.7" y2="207.8" stroke="#111" stroke-width="0.8"/>
<text x="27.8" y="210.1" font-size="6.5" text-anchor="end" fill="#333" font-weight="normal" font-style="normal" stroke="#333" stroke-width="0.12" >2</text>
<line x1="30.5" y1="219.4" x2="33.7" y2="219.4" stroke="#111" stroke-width="0.8"/>
<text x="27.8" y="221.75" font-size="6.5" text-anchor="end" fill="#333" font-weight="normal" font-style="normal" stroke="#333" stroke-width="0.12" >1</text>
<line x1="33.7" y1="231.1" x2="33.7" y2="233.6" stroke="#111" stroke-width="0.8"/><line x1="52.1" y1="231.1" x2="52.1" y2="233.6" stroke="#111" stroke-width="0.8"/><line x1="70.4" y1="231.1" x2="70.4" y2="233.6" stroke="#111" stroke-width="0.8"/><text x="33.7" y="241.1" font-size="5.9" text-anchor="middle" fill="#333" font-weight="normal" font-style="normal" stroke="#333" stroke-width="0.12" >−5kb</text><text x="52.050000000000004" y="241.1" font-size="5.9" text-anchor="middle" fill="#333" font-weight="normal" font-style="normal" stroke="#333" stroke-width="0.12" >0</text><text x="70.4" y="241.1" font-size="5.9" text-anchor="middle" fill="#333" font-weight="normal" font-style="normal" stroke="#333" stroke-width="0.12" >5kb</text>
<polyline points="93.5,223.3 100.9,223.3 106.5,223.1 110.2,222.2 112.0,221.9 113.8,222.2 119.4,223.1 130.5,223.3" fill="none" stroke="#79bf6e" stroke-width="0.9"/><polyline points="93.5,219.0 95.7,218.1 97.2,218.7 99.0,218.1 101.6,216.7 104.6,214.3 107.6,211.4 110.2,208.5 112.0,206.8 113.8,207.9 116.4,211.4 118.7,212.6 120.5,212.6 123.1,214.9 126.8,217.8 130.5,219.3" fill="none" stroke="#4c5a8c" stroke-width="0.9"/><rect x="93.5" y="196.3" width="37.0" height="34.89999999999998" fill="none" stroke="#111" stroke-width="1.2"/><line x1="90.5" y1="196.3" x2="93.5" y2="196.3" stroke="#111" stroke-width="0.8"/><text x="88.1" y="198.60000000000002" font-size="6.4" text-anchor="end" fill="#333" font-weight="normal" font-style="normal" stroke="#333" stroke-width="0.12" >0.6</text><line x1="90.5" y1="207.9" x2="93.5" y2="207.9" stroke="#111" stroke-width="0.8"/><text x="88.1" y="210.23333333333335" font-size="6.4" text-anchor="end" fill="#333" font-weight="normal" font-style="normal" stroke="#333" stroke-width="0.12" >0.4</text><line x1="90.5" y1="219.6" x2="93.5" y2="219.6" stroke="#111" stroke-width="0.8"/><text x="88.1" y="221.86666666666667" font-size="6.4" text-anchor="end" fill="#333" font-weight="normal" font-style="normal" stroke="#333" stroke-width="0.12" >0.2</text><line x1="93.5" y1="231.2" x2="93.5" y2="233.7" stroke="#111" stroke-width="0.8"/><line x1="112.0" y1="231.2" x2="112.0" y2="233.7" stroke="#111" stroke-width="0.8"/><line x1="130.5" y1="231.2" x2="130.5" y2="233.7" stroke="#111" stroke-width="0.8"/><text x="93.5" y="241.2" font-size="5.9" text-anchor="middle" fill="#333" font-weight="normal" font-style="normal" stroke="#333" stroke-width="0.12" >−5kb</text><text x="112.0" y="241.2" font-size="5.9" text-anchor="middle" fill="#333" font-weight="normal" font-style="normal" stroke="#333" stroke-width="0.12" >0</text><text x="130.5" y="241.2" font-size="5.9" text-anchor="middle" fill="#333" font-weight="normal" font-style="normal" stroke="#333" stroke-width="0.12" >5kb</text>
<polyline points="151.5,223.1 158.8,223.1 164.3,222.8 168.0,221.9 169.8,221.6 171.7,221.9 177.2,222.8 188.2,223.1" fill="none" stroke="#79bf6e" stroke-width="0.9"/><polyline points="151.5,217.8 153.7,216.7 155.2,217.2 157.4,216.4 159.6,214.9 162.5,212.6 165.4,209.1 168.0,205.0 169.8,202.7 171.7,205.0 174.3,209.7 175.7,211.4 177.9,211.1 180.9,214.3 184.5,216.9 188.2,218.4" fill="none" stroke="#4c5a8c" stroke-width="0.9"/><rect x="151.5" y="196.3" width="36.69999999999999" height="34.89999999999998" fill="none" stroke="#111" stroke-width="1.2"/><line x1="148.5" y1="196.3" x2="151.5" y2="196.3" stroke="#111" stroke-width="0.8"/><text x="146.1" y="198.60000000000002" font-size="6.4" text-anchor="end" fill="#333" font-weight="normal" font-style="normal" stroke="#333" stroke-width="0.12" >0.6</text><line x1="148.5" y1="207.9" x2="151.5" y2="207.9" stroke="#111" stroke-width="0.8"/><text x="146.1" y="210.23333333333335" font-size="6.4" text-anchor="end" fill="#333" font-weight="normal" font-style="normal" stroke="#333" stroke-width="0.12" >0.4</text><line x1="148.5" y1="219.6" x2="151.5" y2="219.6" stroke="#111" stroke-width="0.8"/><text x="146.1" y="221.86666666666667" font-size="6.4" text-anchor="end" fill="#333" font-weight="normal" font-style="normal" stroke="#333" stroke-width="0.12" >0.2</text><line x1="151.5" y1="231.2" x2="151.5" y2="233.7" stroke="#111" stroke-width="0.8"/><line x1="169.8" y1="231.2" x2="169.8" y2="233.7" stroke="#111" stroke-width="0.8"/><line x1="188.2" y1="231.2" x2="188.2" y2="233.7" stroke="#111" stroke-width="0.8"/><text x="151.5" y="241.2" font-size="5.9" text-anchor="middle" fill="#333" font-weight="normal" font-style="normal" stroke="#333" stroke-width="0.12" >−5kb</text><text x="169.85" y="241.2" font-size="5.9" text-anchor="middle" fill="#333" font-weight="normal" font-style="normal" stroke="#333" stroke-width="0.12" >0</text><text x="188.2" y="241.2" font-size="5.9" text-anchor="middle" fill="#333" font-weight="normal" font-style="normal" stroke="#333" stroke-width="0.12" >5kb</text>
<rect x="33.4" y="242.8" width="37.4" height="218.7" fill="#fff"/><path d="M33.4 242.8h37.4v1.1h-37.4zM33.4 243.8h37.4v1.1h-37.4zM33.4 245.8h37.4v1.1h-37.4zM33.4 249.8h37.4v1.1h-37.4zM33.4 250.8h37.4v1.1h-37.4zM33.4 251.8h37.4v1.1h-37.4zM33.4 252.8h37.4v1.1h-37.4zM33.4 253.8h37.4v1.1h-37.4zM33.4 256.8h37.4v1.1h-37.4zM33.4 258.8h37.4v1.1h-37.4zM33.4 259.8h37.4v1.1h-37.4z" fill="#e04a55" fill-opacity="0.06"/><path d="M50.0 242.8h3.4v1.1h-3.4zM49.9 243.8h3.4v1.1h-3.4zM50.0 246.8h3.4v1.1h-3.4zM50.0 248.8h3.4v1.1h-3.4zM50.0 249.8h3.4v1.1h-3.4zM50.0 252.8h3.4v1.1h-3.4zM50.0 254.8h3.4v1.1h-3.4zM50.1 255.8h3.4v1.1h-3.4zM50.0 256.8h3.4v1.1h-3.4zM50.0 257.8h3.4v1.1h-3.4z" fill="#dd3b3b" fill-opacity="0.28"/><path d="M50.9 242.8h1.7v1.1h-1.7zM50.8 246.8h1.7v1.1h-1.7zM50.8 248.8h1.7v1.1h-1.7zM50.8 249.8h1.7v1.1h-1.7zM50.8 252.8h1.7v1.1h-1.7zM50.8 254.8h1.7v1.1h-1.7zM50.9 255.8h1.7v1.1h-1.7zM50.9 256.8h1.7v1.1h-1.7zM50.9 257.8h1.7v1.1h-1.7z" fill="#dd3b3b" fill-opacity="0.9"/><path d="M50.8 243.8h1.7v1.1h-1.7z" fill="#dd3b3b" fill-opacity="0.88"/><path d="M33.4 244.8h37.4v1.1h-37.4zM33.4 246.8h37.4v1.1h-37.4zM33.4 248.8h37.4v1.1h-37.4zM33.4 254.8h37.4v1.1h-37.4zM33.4 257.8h37.4v1.1h-37.4z" fill="#e04a55" fill-opacity="0.08"/><path d="M50.0 244.8h3.4v1.1h-3.4zM50.1 259.8h3.4v1.1h-3.4z" fill="#dd3b3b" fill-opacity="0.24"/><path d="M50.9 244.8h1.7v1.1h-1.7z" fill="#dd3b3b" fill-opacity="0.76"/><path d="M49.7 245.8h8.4v0.9h-8.4zM37.8 251.8h2.7v0.9h-2.7zM42.7 252.8h11.1v0.9h-11.1zM50.7 254.8h2.1v0.9h-2.1zM49.1 256.8h10.6v0.9h-10.6zM61.7 257.8h3.0v0.9h-3.0zM35.7 259.8h3.7v0.9h-3.7z" fill="#dc3a2e" fill-opacity="0.02"/><path d="M50.0 245.8h3.4v1.1h-3.4zM50.0 250.8h3.4v1.1h-3.4zM50.0 258.8h3.4v1.1h-3.4zM50.0 260.8h3.4v1.1h-3.4z" fill="#dd3b3b" fill-opacity="0.26"/><path d="M50.8 245.8h1.7v1.1h-1.7zM50.9 250.8h1.7v1.1h-1.7z" fill="#dd3b3b" fill-opacity="0.82"/><path d="M33.4 247.8h37.4v1.1h-37.4zM33.4 255.8h37.4v1.1h-37.4zM33.4 260.8h37.4v1.1h-37.4z" fill="#e04a55" fill-opacity="0.04"/><path d="M50.0 247.8h3.4v1.1h-3.4zM50.0 251.8h3.4v1.1h-3.4zM50.0 253.8h3.4v1.1h-3.4z" fill="#dd3b3b" fill-opacity="0.22"/><path d="M50.8 247.8h1.7v1.1h-1.7zM50.9 251.8h1.7v1.1h-1.7zM50.9 253.8h1.7v1.1h-1.7z" fill="#dd3b3b" fill-opacity="0.72"/><path d="M39.8 248.8h12.9v0.9h-12.9zM62.6 253.8h2.3v0.9h-2.3z" fill="#dc3a2e" fill-opacity="0.04"/><path d="M50.9 258.8h1.7v1.1h-1.7z" fill="#dd3b3b" fill-opacity="0.84"/><path d="M50.9 259.8h1.7v1.1h-1.7z" fill="#dd3b3b" fill-opacity="0.78"/><path d="M50.9 260.8h1.7v1.1h-1.7z" fill="#dd3b3b" fill-opacity="0.86"/><path d="M33.4 263.8h37.4v1.1h-37.4zM33.4 264.8h37.4v1.1h-37.4zM33.4 266.8h37.4v1.1h-37.4zM33.4 269.8h37.4v1.1h-37.4zM33.4 270.8h37.4v1.1h-37.4zM33.4 274.8h37.4v1.1h-37.4zM33.4 282.8h37.4v1.1h-37.4zM33.4 283.8h37.4v1.1h-37.4zM33.4 284.8h37.4v1.1h-37.4zM33.4 286.8h37.4v1.1h-37.4zM33.4 288.8h37.4v1.1h-37.4zM33.4 289.8h37.4v1.1h-37.4zM33.4 291.8h37.4v1.1h-37.4zM33.4 292.8h37.4v1.1h-37.4zM33.4 294.8h37.4v1.1h-37.4zM33.4 295.8h37.4v1.1h-37.4zM33.4 297.8h37.4v1.1h-37.4zM33.4 298.8h37.4v1.1h-37.4zM33.4 300.8h37.4v1.1h-37.4zM33.4 303.8h37.4v1.1h-37.4zM33.4 305.8h37.4v1.1h-37.4zM33.4 312.8h37.4v1.1h-37.4zM33.4 315.8h37.4v1.1h-37.4zM33.4 316.8h37.4v1.1h-37.4zM33.4 317.8h37.4v1.1h-37.4zM33.4 319.8h37.4v1.1h-37.4zM33.4 323.8h37.4v1.1h-37.4zM33.4 327.8h37.4v1.1h-37.4zM33.4 328.8h37.4v1.1h-37.4zM33.4 330.8h37.4v1.1h-37.4zM33.4 331.8h37.4v1.1h-37.4zM33.4 332.8h37.4v1.1h-37.4zM33.4 333.8h37.4v1.1h-37.4zM33.4 334.8h37.4v1.1h-37.4zM33.4 336.8h37.4v1.1h-37.4zM33.4 339.8h37.4v1.1h-37.4zM33.4 340.8h37.4v1.1h-37.4zM33.4 342.8h37.4v1.1h-37.4zM33.4 343.8h37.4v1.1h-37.4zM33.4 347.8h37.4v1.1h-37.4zM33.4 348.8h37.4v1.1h-37.4zM33.4 349.8h37.4v1.1h-37.4zM33.4 350.8h37.4v1.1h-37.4zM33.4 354.8h37.4v1.1h-37.4zM33.4 355.8h37.4v1.1h-37.4zM33.4 359.8h37.4v1.1h-37.4zM33.4 364.8h37.4v1.1h-37.4zM33.4 365.8h37.4v1.1h-37.4zM33.4 366.8h37.4v1.1h-37.4zM33.4 367.8h37.4v1.1h-37.4zM33.4 369.8h37.4v1.1h-37.4zM33.4 370.8h37.4v1.1h-37.4zM33.4 374.8h37.4v1.1h-37.4zM33.4 375.8h37.4v1.1h-37.4zM33.4 385.8h37.4v1.1h-37.4zM33.4 387.8h37.4v1.1h-37.4zM33.4 391.8h37.4v1.1h-37.4zM33.4 394.8h37.4v1.1h-37.4zM33.4 395.8h37.4v1.1h-37.4zM33.4 397.8h37.4v1.1h-37.4zM33.4 398.8h37.4v1.1h-37.4zM33.4 400.8h37.4v1.1h-37.4zM33.4 402.8h37.4v1.1h-37.4zM33.4 404.8h37.4v1.1h-37.4zM33.4 410.8h37.4v1.1h-37.4zM33.4 411.8h37.4v1.1h-37.4zM33.4 412.8h37.4v1.1h-37.4zM33.4 414.8h37.4v1.1h-37.4zM33.4 415.8h37.4v1.1h-37.4zM33.4 417.8h37.4v1.1h-37.4zM33.4 418.8h37.4v1.1h-37.4zM33.4 420.8h37.4v1.1h-37.4zM33.4 422.8h37.4v1.1h-37.4zM33.4 424.8h37.4v1.1h-37.4zM33.4 425.8h37.4v1.1h-37.4zM33.4 427.8h37.4v1.1h-37.4zM33.4 431.8h37.4v1.1h-37.4zM33.4 432.8h37.4v1.1h-37.4zM33.4 434.8h37.4v1.1h-37.4zM33.4 438.8h37.4v1.1h-37.4zM33.4 439.8h37.4v1.1h-37.4zM33.4 440.8h37.4v1.1h-37.4zM33.4 442.8h37.4v1.1h-37.4zM33.4 444.8h37.4v1.1h-37.4zM33.4 446.8h37.4v1.1h-37.4zM33.4 447.8h37.4v1.1h-37.4zM33.4 448.8h37.4v1.1h-37.4zM33.4 449.8h37.4v1.1h-37.4zM33.4 450.8h37.4v1.1h-37.4zM33.4 452.8h37.4v1.1h-37.4zM33.4 453.8h37.4v1.1h-37.4zM33.4 454.8h37.4v1.1h-37.4zM33.4 455.8h37.4v1.1h-37.4zM33.4 459.8h37.4v1.1h-37.4zM33.4 460.8h37.4v1.1h-37.4z" fill="#e04a55" fill-opacity="0.04"/><path d="M50.0 263.8h3.4v1.1h-3.4zM50.0 267.8h3.4v1.1h-3.4zM50.0 268.8h3.4v1.1h-3.4zM49.9 273.8h3.4v1.1h-3.4zM50.0 280.8h3.4v1.1h-3.4zM50.0 284.8h3.4v1.1h-3.4zM49.9 296.8h3.4v1.1h-3.4zM50.0 298.8h3.4v1.1h-3.4zM50.0 301.8h3.4v1.1h-3.4zM50.0 303.8h3.4v1.1h-3.4zM50.1 311.8h3.4v1.1h-3.4zM50.0 312.8h3.4v1.1h-3.4zM50.0 319.8h3.4v1.1h-3.4zM50.0 320.8h3.4v1.1h-3.4zM50.0 322.8h3.4v1.1h-3.4zM50.0 327.8h3.4v1.1h-3.4zM50.0 332.8h3.4v1.1h-3.4zM50.0 334.8h3.4v1.1h-3.4zM50.0 335.8h3.4v1.1h-3.4zM50.0 339.8h3.4v1.1h-3.4zM50.0 340.8h3.4v1.1h-3.4zM50.0 341.8h3.4v1.1h-3.4zM50.0 356.8h3.4v1.1h-3.4zM50.0 361.8h3.4v1.1h-3.4z" fill="#dd3b3b" fill-opacity="0.26"/><path d="M50.9 263.8h1.7v1.1h-1.7zM50.8 267.8h1.7v1.1h-1.7zM50.8 298.8h1.7v1.1h-1.7zM50.8 322.8h1.7v1.1h-1.7zM50.8 332.8h1.7v1.1h-1.7zM50.8 341.8h1.7v1.1h-1.7z" fill="#dd3b3b" fill-opacity="0.84"/><path d="M60.8 264.8h2.4v0.9h-2.4zM37.9 266.8h11.4v0.9h-11.4zM63.0 269.8h7.8v0.9h-7.8zM56.8 270.8h11.6v0.9h-11.6zM47.9 272.8h10.5v0.9h-10.5zM56.7 280.8h8.4v0.9h-8.4zM52.9 282.8h4.4v0.9h-4.4zM35.0 283.8h3.5v0.9h-3.5zM60.4 285.8h2.0v0.9h-2.0zM49.7 287.8h5.8v0.9h-5.8zM50.3 291.8h8.8v0.9h-8.8zM40.2 292.8h5.2v0.9h-5.2zM42.9 294.8h12.9v0.9h-12.9zM63.0 298.8h5.3v0.9h-5.3zM41.0 302.8h7.1v0.9h-7.1zM58.9 305.8h4.2v0.9h-4.2zM51.7 314.8h6.6v0.9h-6.6zM35.6 315.8h2.6v0.9h-2.6zM42.8 316.8h8.7v0.9h-8.7zM40.4 320.8h6.1v0.9h-6.1zM53.4 321.8h3.0v0.9h-3.0zM40.4 326.8h5.7v0.9h-5.7zM34.6 330.8h11.9v0.9h-11.9zM38.0 332.8h3.8v0.9h-3.8zM41.7 333.8h3.8v0.9h-3.8zM39.4 337.8h2.3v0.9h-2.3zM42.7 338.8h7.2v0.9h-7.2zM53.5 339.8h12.4v0.9h-12.4zM56.7 340.8h6.5v0.9h-6.5zM36.2 341.8h2.8v0.9h-2.8zM34.9 342.8h6.4v0.9h-6.4zM34.5 343.8h12.8v0.9h-12.8zM42.8 344.8h3.2v0.9h-3.2zM33.9 345.8h8.0v0.9h-8.0zM56.5 348.8h11.1v0.9h-11.1zM46.2 349.8h8.4v0.9h-8.4zM42.0 350.8h6.1v0.9h-6.1zM41.3 355.8h9.5v0.9h-9.5zM34.9 356.8h3.4v0.9h-3.4zM46.2 357.8h6.0v0.9h-6.0zM42.9 360.8h12.1v0.9h-12.1zM57.8 362.8h6.7v0.9h-6.7zM39.4 364.8h8.2v0.9h-8.2zM62.8 365.8h8.0v0.9h-8.0zM54.9 367.8h12.0v0.9h-12.0zM48.7 369.8h8.5v0.9h-8.5zM44.9 370.8h7.3v0.9h-7.3zM50.8 374.8h10.4v0.9h-10.4zM33.5 379.8h6.3v0.9h-6.3zM42.5 382.8h5.0v0.9h-5.0zM49.2 385.8h12.0v0.9h-12.0zM34.3 386.8h3.3v0.9h-3.3zM47.9 388.8h11.3v0.9h-11.3zM37.9 391.8h8.8v0.9h-8.8zM39.6 394.8h6.2v0.9h-6.2zM49.7 395.8h6.2v0.9h-6.2zM42.1 399.8h7.5v0.9h-7.5zM58.8 400.8h7.8v0.9h-7.8zM41.5 401.8h3.1v0.9h-3.1zM56.3 403.8h6.0v0.9h-6.0zM47.5 405.8h2.9v0.9h-2.9zM45.2 406.8h10.6v0.9h-10.6zM59.6 408.8h11.2v0.9h-11.2zM47.5 411.8h5.2v0.9h-5.2zM44.8 412.8h12.0v0.9h-12.0zM41.4 415.8h10.4v0.9h-10.4zM49.7 419.8h10.1v0.9h-10.1zM43.7 422.8h2.2v0.9h-2.2zM49.3 423.8h9.9v0.9h-9.9zM61.3 424.8h2.9v0.9h-2.9zM43.9 426.8h7.5v0.9h-7.5zM43.6 427.8h3.6v0.9h-3.6zM52.2 429.8h4.7v0.9h-4.7zM37.5 430.8h2.6v0.9h-2.6zM53.9 434.8h3.0v0.9h-3.0zM56.0 436.8h4.9v0.9h-4.9zM61.7 438.8h4.3v0.9h-4.3zM56.9 443.8h11.3v0.9h-11.3zM52.3 446.8h11.4v0.9h-11.4zM36.3 448.8h2.7v0.9h-2.7zM38.8 449.8h12.5v0.9h-12.5zM40.2 450.8h2.3v0.9h-2.3zM35.0 457.8h12.4v0.9h-12.4zM54.2 460.8h10.1v0.9h-10.1z" fill="#dc3a2e" fill-opacity="0.02"/><path d="M50.0 264.8h3.4v1.1h-3.4zM50.0 283.8h3.4v1.1h-3.4zM50.0 295.8h3.4v1.1h-3.4zM50.0 297.8h3.4v1.1h-3.4zM50.0 300.8h3.4v1.1h-3.4zM50.0 306.8h3.4v1.1h-3.4zM49.9 309.8h3.4v1.1h-3.4zM50.0 313.8h3.4v1.1h-3.4zM50.1 316.8h3.4v1.1h-3.4zM50.0 326.8h3.4v1.1h-3.4zM50.0 331.8h3.4v1.1h-3.4zM50.0 333.8h3.4v1.1h-3.4zM49.9 337.8h3.4v1.1h-3.4zM50.0 342.8h3.4v1.1h-3.4zM50.0 343.8h3.4v1.1h-3.4zM50.1 344.8h3.4v1.1h-3.4zM50.0 351.8h3.4v1.1h-3.4zM49.9 357.8h3.4v1.1h-3.4zM50.0 358.8h3.4v1.1h-3.4zM50.0 371.8h3.4v1.1h-3.4zM50.0 372.8h3.4v1.1h-3.4zM49.9 375.8h3.4v1.1h-3.4zM50.0 376.8h3.4v1.1h-3.4zM50.0 384.8h3.4v1.1h-3.4zM50.0 387.8h3.4v1.1h-3.4zM50.0 388.8h3.4v1.1h-3.4zM50.0 391.8h3.4v1.1h-3.4zM50.0 392.8h3.4v1.1h-3.4zM50.0 394.8h3.4v1.1h-3.4zM50.1 396.8h3.4v1.1h-3.4zM50.0 406.8h3.4v1.1h-3.4zM50.0 408.8h3.4v1.1h-3.4z" fill="#dd3b3b" fill-opacity="0.22"/><path d="M50.9 264.8h1.7v1.1h-1.7zM50.8 283.8h1.7v1.1h-1.7zM50.9 297.8h1.7v1.1h-1.7zM50.8 300.8h1.7v1.1h-1.7zM50.8 306.8h1.7v1.1h-1.7zM50.9 316.8h1.7v1.1h-1.7zM50.9 331.8h1.7v1.1h-1.7zM50.8 333.8h1.7v1.1h-1.7zM50.8 375.8h1.7v1.1h-1.7zM50.8 388.8h1.7v1.1h-1.7zM50.9 392.8h1.7v1.1h-1.7zM50.9 396.8h1.7v1.1h-1.7z" fill="#dd3b3b" fill-opacity="0.72"/><path d="M33.4 265.8h37.4v1.1h-37.4zM33.4 267.8h37.4v1.1h-37.4zM33.4 268.8h37.4v1.1h-37.4zM33.4 271.8h37.4v1.1h-37.4zM33.4 272.8h37.4v1.1h-37.4zM33.4 273.8h37.4v1.1h-37.4zM33.4 275.8h37.4v1.1h-37.4zM33.4 276.8h37.4v1.1h-37.4zM33.4 277.8h37.4v1.1h-37.4zM33.4 278.8h37.4v1.1h-37.4zM33.4 279.8h37.4v1.1h-37.4zM33.4 280.8h37.4v1.1h-37.4zM33.4 281.8h37.4v1.1h-37.4zM33.4 285.8h37.4v1.1h-37.4zM33.4 287.8h37.4v1.1h-37.4zM33.4 290.8h37.4v1.1h-37.4zM33.4 293.8h37.4v1.1h-37.4zM33.4 296.8h37.4v1.1h-37.4zM33.4 299.8h37.4v1.1h-37.4zM33.4 301.8h37.4v1.1h-37.4zM33.4 302.8h37.4v1.1h-37.4zM33.4 304.8h37.4v1.1h-37.4zM33.4 306.8h37.4v1.1h-37.4zM33.4 307.8h37.4v1.1h-37.4zM33.4 308.8h37.4v1.1h-37.4zM33.4 309.8h37.4v1.1h-37.4zM33.4 310.8h37.4v1.1h-37.4zM33.4 311.8h37.4v1.1h-37.4zM33.4 313.8h37.4v1.1h-37.4zM33.4 314.8h37.4v1.1h-37.4zM33.4 318.8h37.4v1.1h-37.4zM33.4 320.8h37.4v1.1h-37.4zM33.4 321.8h37.4v1.1h-37.4zM33.4 322.8h37.4v1.1h-37.4zM33.4 324.8h37.4v1.1h-37.4zM33.4 325.8h37.4v1.1h-37.4zM33.4 326.8h37.4v1.1h-37.4zM33.4 329.8h37.4v1.1h-37.4zM33.4 335.8h37.4v1.1h-37.4zM33.4 337.8h37.4v1.1h-37.4zM33.4 338.8h37.4v1.1h-37.4zM33.4 341.8h37.4v1.1h-37.4zM33.4 344.8h37.4v1.1h-37.4zM33.4 345.8h37.4v1.1h-37.4zM33.4 346.8h37.4v1.1h-37.4zM33.4 351.8h37.4v1.1h-37.4zM33.4 352.8h37.4v1.1h-37.4zM33.4 353.8h37.4v1.1h-37.4zM33.4 356.8h37.4v1.1h-37.4zM33.4 357.8h37.4v1.1h-37.4zM33.4 358.8h37.4v1.1h-37.4zM33.4 360.8h37.4v1.1h-37.4zM33.4 361.8h37.4v1.1h-37.4zM33.4 362.8h37.4v1.1h-37.4zM33.4 363.8h37.4v1.1h-37.4zM33.4 368.8h37.4v1.1h-37.4zM33.4 371.8h37.4v1.1h-37.4zM33.4 372.8h37.4v1.1h-37.4zM33.4 373.8h37.4v1.1h-37.4zM33.4 376.8h37.4v1.1h-37.4zM33.4 377.8h37.4v1.1h-37.4zM33.4 378.8h37.4v1.1h-37.4zM33.4 379.8h37.4v1.1h-37.4zM33.4 380.8h37.4v1.1h-37.4zM33.4 381.8h37.4v1.1h-37.4zM33.4 382.8h37.4v1.1h-37.4zM33.4 383.8h37.4v1.1h-37.4zM33.4 384.8h37.4v1.1h-37.4zM33.4 386.8h37.4v1.1h-37.4zM33.4 388.8h37.4v1.1h-37.4zM33.4 389.8h37.4v1.1h-37.4zM33.4 390.8h37.4v1.1h-37.4zM33.4 392.8h37.4v1.1h-37.4zM33.4 393.8h37.4v1.1h-37.4zM33.4 396.8h37.4v1.1h-37.4zM33.4 399.8h37.4v1.1h-37.4zM33.4 401.8h37.4v1.1h-37.4zM33.4 403.8h37.4v1.1h-37.4zM33.4 405.8h37.4v1.1h-37.4zM33.4 406.8h37.4v1.1h-37.4zM33.4 407.8h37.4v1.1h-37.4zM33.4 408.8h37.4v1.1h-37.4zM33.4 409.8h37.4v1.1h-37.4zM33.4 413.8h37.4v1.1h-37.4zM33.4 416.8h37.4v1.1h-37.4zM33.4 419.8h37.4v1.1h-37.4zM33.4 421.8h37.4v1.1h-37.4zM33.4 423.8h37.4v1.1h-37.4zM33.4 426.8h37.4v1.1h-37.4zM33.4 428.8h37.4v1.1h-37.4zM33.4 429.8h37.4v1.1h-37.4zM33.4 430.8h37.4v1.1h-37.4zM33.4 433.8h37.4v1.1h-37.4zM33.4 435.8h37.4v1.1h-37.4zM33.4 436.8h37.4v1.1h-37.4zM33.4 437.8h37.4v1.1h-37.4zM33.4 441.8h37.4v1.1h-37.4zM33.4 443.8h37.4v1.1h-37.4zM33.4 445.8h37.4v1.1h-37.4zM33.4 451.8h37.4v1.1h-37.4zM33.4 456.8h37.4v1.1h-37.4zM33.4 457.8h37.4v1.1h-37.4zM33.4 458.8h37.4v1.1h-37.4z" fill="#e04a55" fill-opacity="0.06"/><path d="M50.0 265.8h3.4v1.1h-3.4zM50.0 266.8h3.4v1.1h-3.4zM50.0 270.8h3.4v1.1h-3.4zM50.0 272.8h3.4v1.1h-3.4zM50.0 274.8h3.4v1.1h-3.4zM50.0 275.8h3.4v1.1h-3.4zM50.0 276.8h3.4v1.1h-3.4zM50.1 277.8h3.4v1.1h-3.4zM50.0 278.8h3.4v1.1h-3.4zM50.0 279.8h3.4v1.1h-3.4zM50.1 287.8h3.4v1.1h-3.4zM50.0 289.8h3.4v1.1h-3.4zM50.0 290.8h3.4v1.1h-3.4zM50.0 291.8h3.4v1.1h-3.4zM50.0 292.8h3.4v1.1h-3.4zM50.0 293.8h3.4v1.1h-3.4zM50.0 299.8h3.4v1.1h-3.4zM50.0 304.8h3.4v1.1h-3.4zM50.0 315.8h3.4v1.1h-3.4z" fill="#dd3b3b" fill-opacity="0.28"/><path d="M50.9 265.8h1.7v1.1h-1.7zM50.8 266.8h1.7v1.1h-1.7zM50.9 270.8h1.7v1.1h-1.7zM50.8 272.8h1.7v1.1h-1.7zM50.8 274.8h1.7v1.1h-1.7zM50.8 276.8h1.7v1.1h-1.7zM50.9 277.8h1.7v1.1h-1.7zM50.8 278.8h1.7v1.1h-1.7zM50.9 279.8h1.7v1.1h-1.7zM50.9 287.8h1.7v1.1h-1.7zM50.9 289.8h1.7v1.1h-1.7zM50.8 290.8h1.7v1.1h-1.7zM50.9 291.8h1.7v1.1h-1.7zM50.8 292.8h1.7v1.1h-1.7zM50.8 293.8h1.7v1.1h-1.7zM50.8 304.8h1.7v1.1h-1.7z" fill="#dd3b3b" fill-opacity="0.9"/><path d="M50.8 268.8h1.7v1.1h-1.7zM50.9 311.8h1.7v1.1h-1.7zM50.8 312.8h1.7v1.1h-1.7zM50.8 319.8h1.7v1.1h-1.7zM50.8 320.8h1.7v1.1h-1.7zM50.9 327.8h1.7v1.1h-1.7z" fill="#dd3b3b" fill-opacity="0.82"/><path d="M50.0 269.8h3.4v1.1h-3.4zM50.0 271.8h3.4v1.1h-3.4zM50.0 285.8h3.4v1.1h-3.4zM50.0 288.8h3.4v1.1h-3.4zM50.0 294.8h3.4v1.1h-3.4zM50.0 302.8h3.4v1.1h-3.4zM50.0 307.8h3.4v1.1h-3.4zM50.0 317.8h3.4v1.1h-3.4zM50.0 318.8h3.4v1.1h-3.4zM50.0 328.8h3.4v1.1h-3.4zM50.0 336.8h3.4v1.1h-3.4zM50.0 338.8h3.4v1.1h-3.4zM49.9 349.8h3.4v1.1h-3.4zM50.0 352.8h3.4v1.1h-3.4zM50.0 353.8h3.4v1.1h-3.4zM49.9 355.8h3.4v1.1h-3.4zM50.0 359.8h3.4v1.1h-3.4zM50.0 368.8h3.4v1.1h-3.4zM50.0 370.8h3.4v1.1h-3.4zM50.0 374.8h3.4v1.1h-3.4zM50.0 378.8h3.4v1.1h-3.4zM50.0 379.8h3.4v1.1h-3.4z" fill="#dd3b3b" fill-opacity="0.24"/><path d="M50.8 269.8h1.7v1.1h-1.7zM50.8 285.8h1.7v1.1h-1.7zM50.8 336.8h1.7v1.1h-1.7zM50.9 338.8h1.7v1.1h-1.7zM50.8 352.8h1.7v1.1h-1.7zM50.8 370.8h1.7v1.1h-1.7z" fill="#dd3b3b" fill-opacity="0.78"/><path d="M50.9 271.8h1.7v1.1h-1.7zM50.8 294.8h1.7v1.1h-1.7zM50.8 296.8h1.7v1.1h-1.7zM50.9 302.8h1.7v1.1h-1.7zM50.8 303.8h1.7v1.1h-1.7zM50.8 317.8h1.7v1.1h-1.7zM50.9 318.8h1.7v1.1h-1.7zM50.9 356.8h1.7v1.1h-1.7zM50.8 359.8h1.7v1.1h-1.7zM50.9 361.8h1.7v1.1h-1.7z" fill="#dd3b3b" fill-opacity="0.8"/><path d="M50.8 273.8h1.7v1.1h-1.7zM50.8 280.8h1.7v1.1h-1.7zM50.8 284.8h1.7v1.1h-1.7zM50.8 301.8h1.7v1.1h-1.7zM50.8 334.8h1.7v1.1h-1.7zM50.8 335.8h1.7v1.1h-1.7zM50.8 339.8h1.7v1.1h-1.7zM50.9 340.8h1.7v1.1h-1.7z" fill="#dd3b3b" fill-opacity="0.86"/><path d="M50.8 275.8h1.7v1.1h-1.7zM50.8 299.8h1.7v1.1h-1.7zM50.9 315.8h1.7v1.1h-1.7z" fill="#dd3b3b" fill-opacity="0.88"/><path d="M50.0 281.8h3.4v1.1h-3.4zM50.0 282.8h3.4v1.1h-3.4zM50.0 286.8h3.4v1.1h-3.4zM50.0 305.8h3.4v1.1h-3.4zM50.0 308.8h3.4v1.1h-3.4zM50.0 310.8h3.4v1.1h-3.4zM50.0 314.8h3.4v1.1h-3.4zM50.0 321.8h3.4v1.1h-3.4zM49.9 323.8h3.4v1.1h-3.4zM50.0 324.8h3.4v1.1h-3.4zM50.0 325.8h3.4v1.1h-3.4zM50.0 329.8h3.4v1.1h-3.4zM50.0 345.8h3.4v1.1h-3.4zM50.0 346.8h3.4v1.1h-3.4zM50.0 350.8h3.4v1.1h-3.4zM50.0 360.8h3.4v1.1h-3.4zM50.0 363.8h3.4v1.1h-3.4zM50.0 365.8h3.4v1.1h-3.4zM50.0 367.8h3.4v1.1h-3.4zM50.0 369.8h3.4v1.1h-3.4zM50.0 385.8h3.4v1.1h-3.4zM50.0 389.8h3.4v1.1h-3.4zM50.0 398.8h3.4v1.1h-3.4zM50.0 399.8h3.4v1.1h-3.4zM50.1 401.8h3.4v1.1h-3.4zM50.1 405.8h3.4v1.1h-3.4zM50.0 409.8h3.4v1.1h-3.4zM50.0 419.8h3.4v1.1h-3.4zM50.1 423.8h3.4v1.1h-3.4zM50.0 428.8h3.4v1.1h-3.4zM50.0 431.8h3.4v1.1h-3.4zM50.0 433.8h3.4v1.1h-3.4zM49.9 446.8h3.4v1.1h-3.4z" fill="#dd3b3b" fill-opacity="0.2"/><path d="M50.9 281.8h1.7v1.1h-1.7zM50.8 286.8h1.7v1.1h-1.7zM50.8 308.8h1.7v1.1h-1.7zM50.8 360.8h1.7v1.1h-1.7zM50.8 385.8h1.7v1.1h-1.7zM50.8 398.8h1.7v1.1h-1.7zM50.8 409.8h1.7v1.1h-1.7z" fill="#dd3b3b" fill-opacity="0.66"/><path d="M50.9 282.8h1.7v1.1h-1.7zM50.8 309.8h1.7v1.1h-1.7zM50.9 321.8h1.7v1.1h-1.7zM50.8 342.8h1.7v1.1h-1.7zM50.9 343.8h1.7v1.1h-1.7zM50.9 345.8h1.7v1.1h-1.7zM50.8 372.8h1.7v1.1h-1.7zM50.9 387.8h1.7v1.1h-1.7zM50.8 389.8h1.7v1.1h-1.7zM50.9 391.8h1.7v1.1h-1.7zM50.9 394.8h1.7v1.1h-1.7zM50.9 423.8h1.7v1.1h-1.7z" fill="#dd3b3b" fill-opacity="0.68"/><path d="M50.9 288.8h1.7v1.1h-1.7zM50.8 307.8h1.7v1.1h-1.7zM50.9 328.8h1.7v1.1h-1.7zM50.8 349.8h1.7v1.1h-1.7zM50.8 355.8h1.7v1.1h-1.7zM50.8 374.8h1.7v1.1h-1.7zM50.8 378.8h1.7v1.1h-1.7z" fill="#dd3b3b" fill-opacity="0.76"/><path d="M50.8 295.8h1.7v1.1h-1.7zM50.9 344.8h1.7v1.1h-1.7zM50.9 351.8h1.7v1.1h-1.7zM50.9 353.8h1.7v1.1h-1.7zM50.9 368.8h1.7v1.1h-1.7zM50.9 379.8h1.7v1.1h-1.7z" fill="#dd3b3b" fill-opacity="0.74"/><path d="M50.9 305.8h1.7v1.1h-1.7zM50.8 323.8h1.7v1.1h-1.7zM50.9 325.8h1.7v1.1h-1.7zM50.9 346.8h1.7v1.1h-1.7zM50.8 350.8h1.7v1.1h-1.7zM50.9 363.8h1.7v1.1h-1.7zM50.9 365.8h1.7v1.1h-1.7zM50.9 405.8h1.7v1.1h-1.7zM50.8 431.8h1.7v1.1h-1.7zM50.8 433.8h1.7v1.1h-1.7z" fill="#dd3b3b" fill-opacity="0.64"/><path d="M50.9 310.8h1.7v1.1h-1.7zM50.9 314.8h1.7v1.1h-1.7zM50.8 324.8h1.7v1.1h-1.7zM50.8 329.8h1.7v1.1h-1.7zM50.9 367.8h1.7v1.1h-1.7zM50.8 369.8h1.7v1.1h-1.7zM50.9 399.8h1.7v1.1h-1.7zM50.9 401.8h1.7v1.1h-1.7zM50.8 419.8h1.7v1.1h-1.7zM50.8 428.8h1.7v1.1h-1.7zM50.8 446.8h1.7v1.1h-1.7z" fill="#dd3b3b" fill-opacity="0.62"/><path d="M50.8 313.8h1.7v1.1h-1.7zM50.8 326.8h1.7v1.1h-1.7zM50.8 337.8h1.7v1.1h-1.7zM50.8 357.8h1.7v1.1h-1.7zM50.8 358.8h1.7v1.1h-1.7zM50.9 371.8h1.7v1.1h-1.7zM50.9 376.8h1.7v1.1h-1.7zM50.9 384.8h1.7v1.1h-1.7zM50.9 406.8h1.7v1.1h-1.7zM50.8 408.8h1.7v1.1h-1.7z" fill="#dd3b3b" fill-opacity="0.7"/><path d="M50.0 330.8h3.4v1.1h-3.4zM50.0 347.8h3.4v1.1h-3.4zM50.0 348.8h3.4v1.1h-3.4zM50.0 354.8h3.4v1.1h-3.4zM50.1 362.8h3.4v1.1h-3.4zM50.0 364.8h3.4v1.1h-3.4zM50.0 377.8h3.4v1.1h-3.4zM50.0 381.8h3.4v1.1h-3.4zM50.0 382.8h3.4v1.1h-3.4zM50.0 386.8h3.4v1.1h-3.4zM50.0 390.8h3.4v1.1h-3.4zM50.0 395.8h3.4v1.1h-3.4zM50.0 397.8h3.4v1.1h-3.4zM50.0 402.8h3.4v1.1h-3.4zM50.0 403.8h3.4v1.1h-3.4zM50.0 420.8h3.4v1.1h-3.4zM49.9 421.8h3.4v1.1h-3.4zM50.0 422.8h3.4v1.1h-3.4zM50.0 424.8h3.4v1.1h-3.4zM50.0 425.8h3.4v1.1h-3.4zM50.0 426.8h3.4v1.1h-3.4zM50.0 432.8h3.4v1.1h-3.4zM50.0 434.8h3.4v1.1h-3.4zM49.9 435.8h3.4v1.1h-3.4zM49.9 436.8h3.4v1.1h-3.4zM50.0 444.8h3.4v1.1h-3.4zM50.0 445.8h3.4v1.1h-3.4zM50.0 448.8h3.4v1.1h-3.4zM50.0 456.8h3.4v1.1h-3.4zM50.0 457.8h3.4v1.1h-3.4zM50.0 458.8h3.4v1.1h-3.4z" fill="#dd3b3b" fill-opacity="0.18"/><path d="M50.9 330.8h1.7v1.1h-1.7zM50.8 348.8h1.7v1.1h-1.7zM50.8 354.8h1.7v1.1h-1.7zM50.9 377.8h1.7v1.1h-1.7zM50.9 395.8h1.7v1.1h-1.7zM50.8 420.8h1.7v1.1h-1.7zM50.8 425.8h1.7v1.1h-1.7zM50.8 434.8h1.7v1.1h-1.7zM50.8 435.8h1.7v1.1h-1.7zM50.8 445.8h1.7v1.1h-1.7zM50.8 457.8h1.7v1.1h-1.7z" fill="#dd3b3b" fill-opacity="0.58"/><path d="M50.8 347.8h1.7v1.1h-1.7zM50.9 364.8h1.7v1.1h-1.7zM50.9 381.8h1.7v1.1h-1.7zM50.8 403.8h1.7v1.1h-1.7zM50.8 422.8h1.7v1.1h-1.7zM50.8 432.8h1.7v1.1h-1.7zM50.8 436.8h1.7v1.1h-1.7zM50.8 448.8h1.7v1.1h-1.7z" fill="#dd3b3b" fill-opacity="0.6"/><path d="M50.9 362.8h1.7v1.1h-1.7zM50.8 366.8h1.7v1.1h-1.7zM50.8 373.8h1.7v1.1h-1.7zM50.8 380.8h1.7v1.1h-1.7zM50.8 390.8h1.7v1.1h-1.7zM50.8 400.8h1.7v1.1h-1.7zM50.8 404.8h1.7v1.1h-1.7zM50.8 417.8h1.7v1.1h-1.7zM50.8 426.8h1.7v1.1h-1.7zM50.9 429.8h1.7v1.1h-1.7zM50.9 442.8h1.7v1.1h-1.7zM50.8 458.8h1.7v1.1h-1.7z" fill="#dd3b3b" fill-opacity="0.54"/><path d="M50.0 366.8h3.4v1.1h-3.4zM50.0 373.8h3.4v1.1h-3.4zM50.0 380.8h3.4v1.1h-3.4zM50.0 383.8h3.4v1.1h-3.4zM50.1 393.8h3.4v1.1h-3.4zM50.0 400.8h3.4v1.1h-3.4zM49.9 404.8h3.4v1.1h-3.4zM50.1 410.8h3.4v1.1h-3.4zM50.0 411.8h3.4v1.1h-3.4zM50.0 413.8h3.4v1.1h-3.4zM50.0 415.8h3.4v1.1h-3.4zM50.0 417.8h3.4v1.1h-3.4zM50.1 418.8h3.4v1.1h-3.4zM50.0 427.8h3.4v1.1h-3.4zM50.0 429.8h3.4v1.1h-3.4zM50.0 440.8h3.4v1.1h-3.4zM50.0 442.8h3.4v1.1h-3.4zM50.0 449.8h3.4v1.1h-3.4zM50.1 451.8h3.4v1.1h-3.4zM50.0 452.8h3.4v1.1h-3.4zM50.0 453.8h3.4v1.1h-3.4zM50.1 454.8h3.4v1.1h-3.4zM50.0 459.8h3.4v1.1h-3.4z" fill="#dd3b3b" fill-opacity="0.16"/><path d="M50.9 382.8h1.7v1.1h-1.7zM50.9 386.8h1.7v1.1h-1.7zM50.9 397.8h1.7v1.1h-1.7zM50.8 402.8h1.7v1.1h-1.7zM50.8 421.8h1.7v1.1h-1.7zM50.9 424.8h1.7v1.1h-1.7zM50.8 444.8h1.7v1.1h-1.7zM50.8 456.8h1.7v1.1h-1.7z" fill="#dd3b3b" fill-opacity="0.56"/><path d="M50.8 383.8h1.7v1.1h-1.7zM50.9 393.8h1.7v1.1h-1.7zM50.9 410.8h1.7v1.1h-1.7zM50.9 418.8h1.7v1.1h-1.7zM50.9 440.8h1.7v1.1h-1.7zM50.9 449.8h1.7v1.1h-1.7zM50.8 452.8h1.7v1.1h-1.7zM50.9 459.8h1.7v1.1h-1.7z" fill="#dd3b3b" fill-opacity="0.52"/><path d="M49.9 407.8h3.4v1.1h-3.4zM50.0 412.8h3.4v1.1h-3.4zM50.1 414.8h3.4v1.1h-3.4zM50.0 416.8h3.4v1.1h-3.4zM50.0 430.8h3.4v1.1h-3.4zM50.0 437.8h3.4v1.1h-3.4zM50.0 438.8h3.4v1.1h-3.4zM50.0 439.8h3.4v1.1h-3.4zM50.0 441.8h3.4v1.1h-3.4zM50.0 443.8h3.4v1.1h-3.4zM50.0 447.8h3.4v1.1h-3.4zM50.0 450.8h3.4v1.1h-3.4zM50.1 455.8h3.4v1.1h-3.4zM50.1 460.8h3.4v1.1h-3.4z" fill="#dd3b3b" fill-opacity="0.14"/><path d="M50.8 407.8h1.7v1.1h-1.7zM50.8 412.8h1.7v1.1h-1.7zM50.9 414.8h1.7v1.1h-1.7zM50.9 416.8h1.7v1.1h-1.7zM50.8 441.8h1.7v1.1h-1.7zM50.8 443.8h1.7v1.1h-1.7zM50.9 447.8h1.7v1.1h-1.7zM50.9 455.8h1.7v1.1h-1.7z" fill="#dd3b3b" fill-opacity="0.48"/><path d="M50.8 411.8h1.7v1.1h-1.7zM50.9 413.8h1.7v1.1h-1.7zM50.9 415.8h1.7v1.1h-1.7zM50.8 427.8h1.7v1.1h-1.7zM50.9 451.8h1.7v1.1h-1.7zM50.9 453.8h1.7v1.1h-1.7zM50.9 454.8h1.7v1.1h-1.7z" fill="#dd3b3b" fill-opacity="0.5"/><path d="M50.9 430.8h1.7v1.1h-1.7zM50.8 438.8h1.7v1.1h-1.7zM50.8 450.8h1.7v1.1h-1.7z" fill="#dd3b3b" fill-opacity="0.44"/><path d="M50.8 437.8h1.7v1.1h-1.7zM50.9 439.8h1.7v1.1h-1.7z" fill="#dd3b3b" fill-opacity="0.46"/><path d="M50.9 460.8h1.7v1.1h-1.7z" fill="#dd3b3b" fill-opacity="0.42"/><path d="M49.6 279.3h1.2v1h-1.2zM67.7 401.3h1.0v1h-1.0zM51.4 416.1h0.8v1h-0.8zM48.2 263.3h1.0v1h-1.0zM68.2 313.3h0.9v1h-0.9zM58.3 327.6h0.8v1h-0.8zM37.5 421.9h1.4v1h-1.4zM40.6 360.4h1.1v1h-1.1zM58.9 384.5h1.5v1h-1.5zM39.3 320.1h1.3v1h-1.3zM50.6 285.8h1.3v1h-1.3zM68.6 326.7h1.3v1h-1.3zM60.1 267.6h1.1v1h-1.1zM34.5 292.0h1.1v1h-1.1zM42.2 282.2h0.9v1h-0.9zM68.5 245.5h0.8v1h-0.8zM49.9 424.5h0.8v1h-0.8zM55.6 432.4h1.3v1h-1.3zM56.2 262.3h1.2v1h-1.2zM53.1 335.1h1.5v1h-1.5zM42.9 286.1h0.9v1h-0.9zM53.0 273.2h1.1v1h-1.1zM36.1 334.1h0.9v1h-0.9zM45.8 282.7h1.4v1h-1.4zM59.5 372.2h0.8v1h-0.8zM41.1 319.4h1.3v1h-1.3zM56.1 317.6h1.2v1h-1.2zM58.9 353.7h1.4v1h-1.4zM54.8 422.0h0.9v1h-0.9zM56.0 299.3h1.0v1h-1.0zM48.4 353.9h1.0v1h-1.0zM56.2 310.1h1.2v1h-1.2z" fill="#e04050" fill-opacity="0.26"/><path d="M37.2 278.3h1.2v1h-1.2zM56.9 384.5h1.0v1h-1.0zM46.6 263.4h0.9v1h-0.9zM49.4 280.0h1.4v1h-1.4zM49.5 354.5h0.9v1h-0.9zM57.9 340.7h1.0v1h-1.0zM41.7 432.6h1.0v1h-1.0zM59.9 271.1h1.1v1h-1.1zM67.3 280.5h1.1v1h-1.1zM55.7 377.7h1.1v1h-1.1zM66.2 369.3h1.3v1h-1.3zM51.3 281.0h0.8v1h-0.8zM43.7 326.2h0.8v1h-0.8zM33.7 307.1h1.2v1h-1.2zM44.1 247.3h0.8v1h-0.8zM40.3 351.6h1.5v1h-1.5zM48.8 252.3h0.8v1h-0.8zM67.9 341.5h1.1v1h-1.1zM48.8 412.1h0.9v1h-0.9zM45.7 245.0h1.0v1h-1.0zM52.4 278.9h1.0v1h-1.0zM54.4 260.8h1.4v1h-1.4zM53.9 324.0h1.3v1h-1.3zM68.6 304.9h1.3v1h-1.3zM65.5 333.4h1.4v1h-1.4zM66.5 311.8h0.9v1h-0.9zM44.0 283.9h1.0v1h-1.0zM44.6 424.7h1.0v1h-1.0zM38.3 457.2h1.4v1h-1.4zM59.0 263.3h1.2v1h-1.2zM69.1 271.7h0.9v1h-0.9zM35.9 273.6h1.3v1h-1.3zM40.6 316.7h1.2v1h-1.2zM44.0 413.9h0.8v1h-0.8zM37.8 360.6h1.4v1h-1.4zM60.8 291.5h1.4v1h-1.4zM44.7 361.8h1.4v1h-1.4zM35.1 342.2h1.2v1h-1.2zM69.7 350.6h0.9v1h-0.9zM58.3 419.8h1.2v1h-1.2zM45.4 315.1h1.4v1h-1.4zM45.5 297.8h1.3v1h-1.3zM53.1 327.5h0.9v1h-0.9zM43.3 323.7h0.9v1h-0.9zM61.3 251.0h1.2v1h-1.2zM51.5 320.7h0.9v1h-0.9zM63.8 354.3h0.9v1h-0.9zM36.2 287.3h1.2v1h-1.2zM36.7 262.0h0.9v1h-0.9zM55.6 335.9h1.3v1h-1.3zM54.2 323.5h0.9v1h-0.9zM64.5 324.9h1.4v1h-1.4zM49.6 256.5h1.1v1h-1.1zM53.3 455.0h1.5v1h-1.5zM45.7 369.6h1.3v1h-1.3zM38.5 413.5h1.0v1h-1.0zM47.7 417.8h0.8v1h-0.8zM56.5 312.2h0.9v1h-0.9zM54.7 361.0h0.9v1h-0.9zM69.1 317.9h0.9v1h-0.9zM42.3 284.5h1.1v1h-1.1zM56.3 432.5h0.9v1h-0.9zM46.5 432.8h1.1v1h-1.1zM37.4 439.4h0.8v1h-0.8zM63.7 291.0h1.5v1h-1.5zM36.2 272.6h1.1v1h-1.1zM66.9 418.3h0.9v1h-0.9z" fill="#e04050" fill-opacity="0.14"/><path d="M59.6 320.4h0.9v1h-0.9zM34.3 346.6h1.4v1h-1.4zM45.3 339.3h1.0v1h-1.0zM37.4 296.7h1.5v1h-1.5zM57.5 252.4h1.0v1h-1.0zM51.3 407.0h1.2v1h-1.2zM66.6 256.9h1.5v1h-1.5zM54.4 261.4h1.0v1h-1.0zM65.8 383.0h1.2v1h-1.2zM43.9 273.0h1.2v1h-1.2zM50.6 350.9h1.1v1h-1.1zM68.2 368.0h1.2v1h-1.2zM41.2 271.5h1.3v1h-1.3zM68.0 274.6h1.1v1h-1.1zM55.6 244.5h1.4v1h-1.4zM65.9 243.9h1.5v1h-1.5zM38.7 351.5h1.5v1h-1.5zM61.2 343.6h1.3v1h-1.3zM34.9 321.3h1.5v1h-1.5zM61.9 264.0h1.2v1h-1.2zM39.9 330.9h1.3v1h-1.3zM56.8 275.9h1.0v1h-1.0zM38.0 350.0h1.1v1h-1.1zM36.2 411.1h1.2v1h-1.2zM51.6 361.6h0.8v1h-0.8zM54.2 311.6h0.9v1h-0.9zM47.3 305.7h1.3v1h-1.3zM48.7 436.5h0.9v1h-0.9zM54.3 284.0h1.2v1h-1.2zM49.5 329.5h1.4v1h-1.4zM46.8 320.0h1.3v1h-1.3zM52.0 279.6h1.2v1h-1.2zM37.2 345.2h1.3v1h-1.3zM66.5 346.3h1.2v1h-1.2zM55.6 359.0h1.1v1h-1.1zM60.9 252.7h0.9v1h-0.9zM40.4 378.5h0.9v1h-0.9zM69.1 275.5h0.8v1h-0.8zM45.3 400.1h1.3v1h-1.3zM57.3 405.3h0.9v1h-0.9zM62.0 272.7h0.8v1h-0.8zM60.3 416.1h1.3v1h-1.3zM44.7 281.0h1.0v1h-1.0zM50.9 430.7h1.4v1h-1.4zM35.2 279.0h1.1v1h-1.1zM39.0 374.7h1.5v1h-1.5zM69.6 444.5h1.0v1h-1.0zM65.5 304.7h1.5v1h-1.5zM33.4 266.2h0.9v1h-0.9zM56.8 280.5h1.3v1h-1.3zM47.2 388.4h1.0v1h-1.0zM53.9 292.3h1.0v1h-1.0zM58.0 330.9h1.4v1h-1.4zM64.4 321.3h1.3v1h-1.3zM47.9 350.7h0.9v1h-0.9zM39.6 332.2h0.9v1h-0.9zM40.7 313.3h1.2v1h-1.2zM40.5 441.1h1.3v1h-1.3zM46.9 253.8h1.2v1h-1.2zM50.5 288.8h1.4v1h-1.4zM37.6 346.9h1.2v1h-1.2zM59.7 290.6h1.0v1h-1.0z" fill="#e04050" fill-opacity="0.24"/><path d="M56.7 316.0h1.1v1h-1.1zM38.2 331.1h1.1v1h-1.1zM60.0 370.0h0.9v1h-0.9zM55.8 322.9h1.3v1h-1.3zM50.4 244.2h1.4v1h-1.4zM43.1 355.2h1.1v1h-1.1zM34.7 290.6h1.5v1h-1.5zM49.3 389.0h1.3v1h-1.3zM52.9 436.4h1.4v1h-1.4zM66.0 361.6h0.9v1h-0.9zM43.1 298.4h1.4v1h-1.4zM61.0 360.6h1.1v1h-1.1zM50.1 297.2h1.1v1h-1.1zM57.3 328.1h1.4v1h-1.4zM48.2 307.7h1.2v1h-1.2zM54.4 282.5h1.0v1h-1.0zM55.4 268.8h1.0v1h-1.0zM49.3 296.2h0.9v1h-0.9zM47.7 381.0h1.5v1h-1.5zM38.2 258.3h1.4v1h-1.4zM64.0 289.8h1.3v1h-1.3zM53.9 417.9h0.9v1h-0.9zM34.9 283.8h1.4v1h-1.4zM54.2 352.3h0.9v1h-0.9zM60.6 359.2h0.8v1h-0.8zM59.5 329.9h1.3v1h-1.3zM55.8 273.3h1.0v1h-1.0zM55.8 260.7h1.2v1h-1.2zM68.1 366.3h1.5v1h-1.5zM58.9 273.6h0.9v1h-0.9zM44.2 406.6h1.3v1h-1.3zM34.0 371.8h0.8v1h-0.8zM46.9 340.7h1.0v1h-1.0zM69.8 448.8h0.9v1h-0.9zM41.5 336.1h1.4v1h-1.4zM39.7 246.0h1.4v1h-1.4zM45.9 343.4h1.2v1h-1.2zM39.2 344.6h1.2v1h-1.2zM61.2 442.4h1.0v1h-1.0zM47.6 436.9h1.0v1h-1.0zM66.5 261.0h0.9v1h-0.9zM59.8 390.8h0.9v1h-0.9zM55.3 403.9h1.1v1h-1.1zM67.9 324.9h1.2v1h-1.2zM46.5 347.8h0.8v1h-0.8zM67.2 273.3h1.5v1h-1.5zM69.1 404.7h1.3v1h-1.3zM69.4 399.9h1.1v1h-1.1zM41.1 296.8h1.3v1h-1.3zM62.7 376.3h0.8v1h-0.8zM65.9 258.1h1.0v1h-1.0zM43.5 264.3h1.4v1h-1.4z" fill="#e04050" fill-opacity="0.28"/><path d="M48.5 271.7h1.5v1h-1.5zM69.4 247.2h0.9v1h-0.9zM38.9 444.1h0.8v1h-0.8zM67.3 262.6h1.0v1h-1.0zM60.9 251.8h1.4v1h-1.4zM45.0 281.4h1.2v1h-1.2zM39.6 413.2h1.0v1h-1.0zM55.8 396.1h1.2v1h-1.2zM57.3 350.2h1.2v1h-1.2zM46.6 314.3h0.8v1h-0.8zM56.3 297.2h1.1v1h-1.1zM38.6 356.8h1.3v1h-1.3zM64.4 350.1h1.1v1h-1.1zM67.5 252.8h1.3v1h-1.3zM57.3 345.4h1.0v1h-1.0zM39.5 405.0h1.2v1h-1.2zM59.1 271.5h0.9v1h-0.9zM39.7 422.2h1.0v1h-1.0zM43.1 367.6h1.1v1h-1.1zM53.7 302.6h1.2v1h-1.2zM65.9 454.8h1.1v1h-1.1zM46.7 257.8h0.8v1h-0.8zM50.5 253.4h1.3v1h-1.3zM66.7 256.8h1.0v1h-1.0zM67.6 311.4h0.8v1h-0.8zM61.7 360.0h0.9v1h-0.9zM41.4 454.6h0.9v1h-0.9zM65.4 367.9h1.0v1h-1.0zM50.4 293.9h1.2v1h-1.2zM64.7 440.0h1.0v1h-1.0zM61.9 353.0h1.4v1h-1.4zM38.5 395.6h0.9v1h-0.9zM54.9 445.8h1.3v1h-1.3zM39.8 318.2h0.9v1h-0.9zM43.2 426.7h1.3v1h-1.3zM68.6 338.1h1.5v1h-1.5zM35.5 288.5h1.4v1h-1.4zM62.9 457.6h0.9v1h-0.9zM61.6 405.1h1.3v1h-1.3zM59.9 322.9h1.0v1h-1.0zM50.9 409.6h0.9v1h-0.9zM68.3 458.2h1.5v1h-1.5zM39.0 309.0h1.4v1h-1.4zM55.6 247.8h1.5v1h-1.5zM34.2 271.3h0.8v1h-0.8zM41.1 300.3h1.4v1h-1.4zM67.2 276.4h1.2v1h-1.2zM57.8 347.7h1.3v1h-1.3zM48.0 389.9h1.3v1h-1.3zM67.5 255.5h1.1v1h-1.1zM58.0 288.6h1.5v1h-1.5zM69.3 269.4h1.1v1h-1.1zM38.1 376.2h1.1v1h-1.1z" fill="#e04050" fill-opacity="0.1"/><path d="M63.9 386.8h1.3v1h-1.3zM44.3 243.5h1.3v1h-1.3zM52.8 410.3h1.4v1h-1.4zM36.3 342.4h1.0v1h-1.0zM66.5 277.9h0.9v1h-0.9zM61.4 275.2h1.5v1h-1.5zM34.5 322.6h0.9v1h-0.9zM38.2 368.2h1.3v1h-1.3zM60.6 270.8h1.3v1h-1.3zM43.1 379.5h1.3v1h-1.3zM52.8 284.8h1.5v1h-1.5zM35.1 286.9h0.8v1h-0.8zM39.5 282.9h1.0v1h-1.0zM48.8 401.9h1.1v1h-1.1zM47.8 336.4h1.1v1h-1.1zM57.8 417.3h1.4v1h-1.4zM47.1 323.1h1.3v1h-1.3zM38.2 309.3h0.9v1h-0.9zM64.1 307.8h0.9v1h-0.9zM36.3 250.0h1.1v1h-1.1zM48.1 329.2h1.4v1h-1.4zM59.3 344.3h1.1v1h-1.1zM65.7 254.3h1.2v1h-1.2zM59.8 403.8h1.5v1h-1.5zM68.8 257.7h1.5v1h-1.5zM61.9 284.1h1.3v1h-1.3zM53.0 374.6h1.0v1h-1.0zM34.8 266.9h1.5v1h-1.5zM41.0 327.6h0.9v1h-0.9zM65.0 284.5h1.1v1h-1.1zM39.2 351.5h1.1v1h-1.1zM41.6 421.0h1.5v1h-1.5zM48.3 259.2h0.8v1h-0.8zM64.8 257.5h1.2v1h-1.2zM53.2 275.2h0.8v1h-0.8zM40.7 324.0h0.9v1h-0.9zM65.4 279.5h1.5v1h-1.5zM54.8 278.8h1.1v1h-1.1zM35.5 333.7h1.5v1h-1.5zM50.8 265.3h1.1v1h-1.1zM47.7 444.6h1.0v1h-1.0zM48.9 250.1h1.5v1h-1.5zM69.3 292.9h1.5v1h-1.5zM49.4 321.9h1.1v1h-1.1zM45.9 320.2h0.9v1h-0.9zM54.5 252.2h1.3v1h-1.3zM39.3 365.9h0.8v1h-0.8z" fill="#e04050" fill-opacity="0.16"/><path d="M50.8 252.2h0.9v1h-0.9zM42.9 392.2h1.4v1h-1.4zM46.8 316.8h0.9v1h-0.9zM55.4 309.4h1.2v1h-1.2zM52.5 351.5h0.8v1h-0.8zM34.6 290.9h0.9v1h-0.9zM49.6 383.1h1.2v1h-1.2zM46.0 251.3h0.9v1h-0.9zM65.4 445.8h0.9v1h-0.9zM59.7 376.6h1.1v1h-1.1zM46.8 318.0h1.5v1h-1.5zM68.2 290.7h1.2v1h-1.2zM67.5 301.8h1.1v1h-1.1zM55.0 391.7h0.9v1h-0.9zM42.5 298.7h0.9v1h-0.9zM45.9 375.2h1.2v1h-1.2zM53.8 372.8h1.2v1h-1.2zM68.2 294.8h0.8v1h-0.8zM49.4 304.2h1.4v1h-1.4zM63.3 406.4h0.9v1h-0.9zM68.2 349.8h0.9v1h-0.9zM51.3 399.3h1.0v1h-1.0zM57.8 353.2h1.0v1h-1.0zM38.4 285.4h1.4v1h-1.4zM54.6 295.2h1.4v1h-1.4zM61.5 325.6h1.1v1h-1.1zM69.3 273.0h1.0v1h-1.0zM69.2 354.3h1.2v1h-1.2zM51.9 346.2h1.1v1h-1.1zM44.4 280.2h0.8v1h-0.8zM45.1 269.1h0.9v1h-0.9zM38.0 367.3h1.4v1h-1.4zM59.3 388.2h1.1v1h-1.1zM41.2 324.3h1.5v1h-1.5zM38.2 356.6h0.9v1h-0.9zM63.6 350.6h1.3v1h-1.3zM54.3 391.6h1.3v1h-1.3zM63.4 302.0h1.0v1h-1.0zM42.1 380.3h1.4v1h-1.4zM65.7 399.1h1.3v1h-1.3zM67.3 409.3h0.9v1h-0.9zM69.1 290.1h0.8v1h-0.8zM58.7 360.2h1.2v1h-1.2zM45.8 249.0h0.9v1h-0.9zM61.7 262.8h0.9v1h-0.9zM50.2 304.3h1.0v1h-1.0zM50.3 321.2h1.5v1h-1.5zM41.8 278.2h0.8v1h-0.8zM39.2 322.6h1.1v1h-1.1zM51.9 403.0h1.2v1h-1.2zM49.5 375.0h1.1v1h-1.1zM67.7 254.1h1.4v1h-1.4zM56.1 458.6h1.0v1h-1.0z" fill="#e04050" fill-opacity="0.12"/><path d="M54.6 245.0h1.3v1h-1.3zM58.1 412.3h0.9v1h-0.9zM45.5 342.2h1.3v1h-1.3zM40.2 393.2h1.1v1h-1.1zM46.0 263.5h1.1v1h-1.1zM36.4 363.5h1.1v1h-1.1zM41.9 372.0h0.8v1h-0.8zM44.4 320.9h1.2v1h-1.2zM69.4 395.4h0.9v1h-0.9zM54.9 302.3h1.4v1h-1.4zM52.6 311.8h1.4v1h-1.4zM49.4 273.8h0.9v1h-0.9zM48.6 249.6h1.1v1h-1.1zM45.7 252.3h1.4v1h-1.4zM42.1 382.4h1.2v1h-1.2zM47.3 258.2h1.1v1h-1.1zM59.7 408.5h0.9v1h-0.9zM50.0 353.8h1.3v1h-1.3zM52.7 251.2h1.2v1h-1.2zM65.0 382.0h1.1v1h-1.1zM45.8 249.1h1.1v1h-1.1zM66.0 360.1h1.5v1h-1.5zM49.1 294.9h0.9v1h-0.9zM37.9 346.6h0.9v1h-0.9zM54.1 299.1h0.8v1h-0.8zM59.3 282.0h1.0v1h-1.0zM47.9 368.2h1.3v1h-1.3zM67.0 284.0h1.4v1h-1.4zM38.3 271.5h1.0v1h-1.0zM60.9 313.0h1.5v1h-1.5zM60.6 392.6h1.3v1h-1.3zM55.8 299.4h0.9v1h-0.9zM68.0 353.5h0.9v1h-0.9zM34.3 314.1h1.0v1h-1.0zM52.9 303.9h1.0v1h-1.0zM45.0 251.3h1.0v1h-1.0zM66.0 338.5h0.9v1h-0.9zM58.8 342.3h0.8v1h-0.8zM61.7 319.4h0.8v1h-0.8zM47.6 294.5h0.8v1h-0.8zM52.5 365.9h1.1v1h-1.1zM65.5 397.8h1.2v1h-1.2zM58.5 388.1h1.0v1h-1.0zM49.8 304.3h1.0v1h-1.0zM43.1 270.3h1.3v1h-1.3zM37.5 274.7h1.3v1h-1.3zM47.0 370.7h1.0v1h-1.0zM33.5 376.4h1.3v1h-1.3zM60.9 353.0h1.1v1h-1.1zM51.4 361.9h1.1v1h-1.1zM48.3 264.9h0.9v1h-0.9zM48.9 344.6h0.8v1h-0.8zM56.7 395.5h0.9v1h-0.9zM43.0 361.5h1.0v1h-1.0zM55.4 367.1h1.4v1h-1.4zM68.8 353.8h0.8v1h-0.8zM37.7 289.4h1.3v1h-1.3zM55.1 337.5h1.2v1h-1.2zM47.0 330.8h1.5v1h-1.5zM42.3 292.5h1.2v1h-1.2z" fill="#e04050" fill-opacity="0.2"/><path d="M60.2 337.5h1.1v1h-1.1zM41.4 258.2h1.3v1h-1.3zM47.7 371.8h1.0v1h-1.0zM41.7 244.0h0.9v1h-0.9zM43.6 385.5h1.1v1h-1.1zM51.1 298.9h0.9v1h-0.9zM57.3 258.8h1.4v1h-1.4zM50.1 445.0h1.0v1h-1.0zM45.4 312.9h1.5v1h-1.5zM55.2 266.6h1.5v1h-1.5zM41.8 369.1h1.2v1h-1.2zM46.5 250.9h1.3v1h-1.3zM60.0 391.0h1.4v1h-1.4zM36.1 298.8h1.2v1h-1.2zM67.6 343.0h1.2v1h-1.2zM47.8 288.0h1.5v1h-1.5zM64.9 268.5h1.0v1h-1.0zM45.2 285.8h1.1v1h-1.1zM54.8 271.1h1.4v1h-1.4zM46.1 339.4h1.3v1h-1.3zM65.5 368.8h0.9v1h-0.9zM56.4 294.4h1.0v1h-1.0zM64.9 269.2h1.1v1h-1.1zM39.4 348.6h1.5v1h-1.5zM47.3 345.9h0.8v1h-0.8zM59.6 268.9h0.8v1h-0.8zM48.7 290.2h1.3v1h-1.3zM56.8 248.5h1.4v1h-1.4zM63.8 249.1h1.0v1h-1.0zM43.8 332.5h1.3v1h-1.3zM51.6 337.9h1.1v1h-1.1zM39.3 315.6h1.4v1h-1.4zM41.4 244.3h1.1v1h-1.1zM67.3 263.0h1.4v1h-1.4zM59.5 372.9h1.3v1h-1.3zM47.2 341.0h0.9v1h-0.9zM55.5 414.2h1.4v1h-1.4zM50.3 354.6h1.1v1h-1.1zM51.7 361.4h0.8v1h-0.8zM63.8 405.2h1.3v1h-1.3zM33.7 251.7h1.2v1h-1.2zM63.9 380.3h1.2v1h-1.2zM34.1 403.6h1.0v1h-1.0zM59.6 296.6h1.0v1h-1.0zM50.6 293.9h1.1v1h-1.1zM36.9 377.5h1.2v1h-1.2zM64.8 313.9h0.9v1h-0.9zM46.6 255.5h0.9v1h-0.9zM67.4 385.7h1.2v1h-1.2zM62.3 312.2h1.3v1h-1.3z" fill="#e04050" fill-opacity="0.22"/><path d="M61.3 255.2h0.9v1h-0.9zM41.0 261.9h1.3v1h-1.3zM45.3 264.2h1.3v1h-1.3zM64.2 318.3h1.2v1h-1.2zM57.4 250.5h1.0v1h-1.0zM59.1 268.7h1.3v1h-1.3zM43.6 247.3h1.4v1h-1.4zM54.1 295.3h1.4v1h-1.4zM66.0 282.3h1.4v1h-1.4zM67.9 413.5h1.4v1h-1.4zM43.5 318.7h1.3v1h-1.3zM60.7 313.9h1.3v1h-1.3zM61.2 324.7h1.3v1h-1.3zM60.0 281.3h1.1v1h-1.1zM42.9 274.4h1.1v1h-1.1zM37.2 446.4h1.3v1h-1.3zM45.7 302.6h1.4v1h-1.4zM45.8 265.5h1.3v1h-1.3zM60.1 308.7h1.0v1h-1.0zM43.9 318.0h0.8v1h-0.8zM43.4 331.0h1.3v1h-1.3zM56.6 396.4h0.9v1h-0.9zM34.4 251.9h1.2v1h-1.2zM58.2 251.1h1.4v1h-1.4zM65.2 379.8h0.9v1h-0.9zM40.5 355.6h1.3v1h-1.3zM37.2 321.6h0.8v1h-0.8zM56.2 333.3h1.2v1h-1.2zM66.9 280.8h1.2v1h-1.2zM64.9 365.1h1.3v1h-1.3zM40.3 294.0h0.8v1h-0.8zM38.8 398.8h1.0v1h-1.0zM69.7 387.0h1.5v1h-1.5zM60.2 427.0h1.5v1h-1.5zM39.2 301.6h0.9v1h-0.9zM68.2 300.9h0.9v1h-0.9zM65.8 247.4h1.1v1h-1.1zM63.2 245.8h1.1v1h-1.1zM44.6 357.9h0.9v1h-0.9zM57.7 294.3h1.3v1h-1.3zM49.3 279.5h1.5v1h-1.5zM45.3 342.3h1.2v1h-1.2zM34.2 439.1h1.4v1h-1.4zM38.1 407.5h1.3v1h-1.3zM68.5 294.0h1.1v1h-1.1zM55.1 254.9h1.3v1h-1.3zM50.0 361.0h1.0v1h-1.0zM52.8 434.4h1.1v1h-1.1z" fill="#e04050" fill-opacity="0.18"/><path d="M49.8 290.0h1.1v1h-1.1zM48.9 244.3h0.9v1h-0.9zM66.7 260.8h1.2v1h-1.2zM43.8 260.5h1.3v1h-1.3zM39.3 316.5h1.5v1h-1.5zM48.6 397.8h0.9v1h-0.9zM42.7 392.4h0.8v1h-0.8zM46.8 317.3h1.5v1h-1.5zM67.1 290.5h1.2v1h-1.2zM45.5 294.5h0.9v1h-0.9zM35.4 336.2h1.2v1h-1.2zM62.5 343.7h1.4v1h-1.4zM34.5 274.9h1.0v1h-1.0zM41.2 298.2h0.8v1h-0.8zM46.2 374.0h1.0v1h-1.0zM57.6 266.1h1.5v1h-1.5zM34.7 247.6h1.3v1h-1.3zM51.7 427.0h1.5v1h-1.5zM64.9 289.5h0.9v1h-0.9zM36.0 336.6h1.4v1h-1.4zM43.7 413.6h0.9v1h-0.9zM57.3 290.4h1.0v1h-1.0zM58.8 248.7h0.9v1h-0.9zM57.3 308.4h1.0v1h-1.0zM69.3 310.0h1.1v1h-1.1zM53.1 257.2h1.3v1h-1.3z" fill="#e04050" fill-opacity="0.08"/><path d="M55.8 274.7h1.3v1h-1.3zM37.3 299.8h1.0v1h-1.0zM51.2 309.8h1.5v1h-1.5zM40.5 403.7h1.3v1h-1.3zM67.7 458.8h1.4v1h-1.4zM34.6 327.4h1.1v1h-1.1zM55.2 278.9h1.5v1h-1.5zM62.6 307.4h1.2v1h-1.2zM67.8 354.0h0.9v1h-0.9zM45.7 265.0h1.3v1h-1.3zM53.0 279.7h1.4v1h-1.4zM37.6 378.9h1.0v1h-1.0zM48.6 313.6h1.2v1h-1.2zM50.8 284.4h1.4v1h-1.4zM47.0 246.9h0.9v1h-0.9z" fill="#e04050" fill-opacity="0.3"/><rect x="33.4" y="261.8" width="37.4" height="2.0" fill="#c2b8b8"/><rect x="33.4" y="242.8" width="37.4" height="218.7" fill="none" stroke="#a09c9c" stroke-width="0.8"/>
<rect x="93.9" y="242.8" width="37.599999999999994" height="218.7" fill="#fff"/><path d="M93.9 242.8h37.6v1.1h-37.6z" fill="#e6402e" fill-opacity="0.58"/><path d="M108.4 242.8h9.0v1.1h-9.0zM108.1 245.8h9.0v1.1h-9.0zM108.4 246.8h9.0v1.1h-9.0zM108.5 250.8h9.0v1.1h-9.0z" fill="#e0402e" fill-opacity="0.06"/><path d="M110.7 242.8h4.5v1.1h-4.5zM110.3 245.8h4.5v1.1h-4.5z" fill="#e0402e" fill-opacity="0.22"/><path d="M93.9 243.8h37.6v1.1h-37.6z" fill="#e6402e" fill-opacity="0.42"/><path d="M108.5 243.8h9.0v1.1h-9.0zM108.5 244.8h9.0v1.1h-9.0z" fill="#e0402e" fill-opacity="0.08"/><path d="M110.9 243.8h4.5v1.1h-4.5z" fill="#e0402e" fill-opacity="0.24"/><path d="M93.9 244.8h37.6v1.1h-37.6zM93.9 246.8h37.6v1.1h-37.6zM93.9 247.8h37.6v1.1h-37.6z" fill="#e6402e" fill-opacity="0.22"/><path d="M110.9 244.8h4.5v1.1h-4.5z" fill="#e0402e" fill-opacity="0.26"/><path d="M93.9 245.8h37.6v1.1h-37.6zM93.9 248.8h37.6v1.1h-37.6z" fill="#e6402e" fill-opacity="0.18"/><path d="M121.6 246.8h3.0v0.9h-3.0zM112.3 247.8h7.4v0.9h-7.4zM115.9 249.8h9.4v0.9h-9.4zM121.2 251.8h3.4v0.9h-3.4z" fill="#dc3a2e" fill-opacity="0.1"/><path d="M110.7 246.8h4.5v1.1h-4.5z" fill="#e0402e" fill-opacity="0.2"/><path d="M101.4 247.8h2.4v0.9h-2.4z" fill="#dc3a2e" fill-opacity="0.14"/><path d="M108.1 247.8h9.0v1.1h-9.0zM108.1 248.8h9.0v1.1h-9.0zM108.4 249.8h9.0v1.1h-9.0zM108.4 251.8h9.0v1.1h-9.0zM108.0 252.8h9.0v1.1h-9.0zM108.3 253.8h9.0v1.1h-9.0zM108.4 254.8h9.0v1.1h-9.0zM108.0 255.8h9.0v1.1h-9.0zM108.3 256.8h9.0v1.1h-9.0zM108.3 257.8h9.0v1.1h-9.0zM108.5 259.8h9.0v1.1h-9.0zM108.5 260.8h9.0v1.1h-9.0z" fill="#e0402e" fill-opacity="0.04"/><path d="M110.2 247.8h4.5v1.1h-4.5zM110.3 248.8h4.5v1.1h-4.5zM110.8 249.8h4.5v1.1h-4.5z" fill="#e0402e" fill-opacity="0.16"/><path d="M104.3 248.8h8.0v0.9h-8.0zM108.2 257.8h13.0v0.9h-13.0zM100.6 258.8h4.3v0.9h-4.3zM105.7 259.8h7.6v0.9h-7.6zM98.7 260.8h2.9v0.9h-2.9z" fill="#dc3a2e" fill-opacity="0.06"/><path d="M93.9 249.8h37.6v1.1h-37.6zM93.9 258.8h37.6v1.1h-37.6z" fill="#e6402e" fill-opacity="0.12"/><path d="M93.9 250.8h37.6v1.1h-37.6zM93.9 251.8h37.6v1.1h-37.6zM93.9 252.8h37.6v1.1h-37.6zM93.9 253.8h37.6v1.1h-37.6z" fill="#e6402e" fill-opacity="0.14"/><path d="M108.0 250.8h6.0v0.9h-6.0zM94.4 251.8h10.5v0.9h-10.5zM120.7 258.8h3.0v0.9h-3.0z" fill="#dc3a2e" fill-opacity="0.04"/><path d="M110.9 250.8h4.5v1.1h-4.5z" fill="#e0402e" fill-opacity="0.18"/><path d="M110.8 251.8h4.5v1.1h-4.5zM110.8 254.8h4.5v1.1h-4.5zM110.6 256.8h4.5v1.1h-4.5zM110.6 257.8h4.5v1.1h-4.5zM110.9 260.8h4.5v1.1h-4.5z" fill="#e0402e" fill-opacity="0.12"/><path d="M97.7 252.8h9.7v0.9h-9.7zM97.5 255.8h10.9v0.9h-10.9zM99.5 260.8h8.2v0.9h-8.2z" fill="#dc3a2e" fill-opacity="0.08"/><path d="M110.1 252.8h4.5v1.1h-4.5zM110.6 253.8h4.5v1.1h-4.5z" fill="#e0402e" fill-opacity="0.14"/><path d="M93.9 254.8h37.6v1.1h-37.6zM93.9 256.8h37.6v1.1h-37.6zM93.9 260.8h37.6v1.1h-37.6z" fill="#e6402e" fill-opacity="0.1"/><path d="M93.9 255.8h37.6v1.1h-37.6zM93.9 257.8h37.6v1.1h-37.6z" fill="#e6402e" fill-opacity="0.08"/><path d="M110.1 255.8h4.5v1.1h-4.5zM110.7 258.8h4.5v1.1h-4.5zM110.9 259.8h4.5v1.1h-4.5z" fill="#e0402e" fill-opacity="0.1"/><path d="M108.3 258.8h9.0v1.1h-9.0z" fill="#e0402e" fill-opacity="0.02"/><path d="M93.9 259.8h37.6v1.1h-37.6z" fill="#e6402e" fill-opacity="0.06"/><path d="M93.9 263.8h37.6v1.1h-37.6zM93.9 268.8h37.6v1.1h-37.6z" fill="#e6402e" fill-opacity="0.38"/><path d="M107.4 263.8h8.7v0.9h-8.7z" fill="#dc3a2e" fill-opacity="0.42"/><path d="M93.9 264.8h37.6v1.1h-37.6z" fill="#e6402e" fill-opacity="0.58"/><path d="M122.8 264.8h8.6v0.9h-8.6zM115.6 265.8h3.4v0.9h-3.4z" fill="#dc3a2e" fill-opacity="0.36"/><path d="M112.9 264.8h10.1v0.9h-10.1z" fill="#dc3a2e" fill-opacity="0.4"/><path d="M93.9 265.8h37.6v1.1h-37.6zM93.9 266.8h37.6v1.1h-37.6z" fill="#e6402e" fill-opacity="0.52"/><path d="M112.0 266.8h9.1v0.9h-9.1z" fill="#dc3a2e" fill-opacity="0.3"/><path d="M93.9 267.8h37.6v1.1h-37.6z" fill="#e6402e" fill-opacity="0.46"/><path d="M99.9 267.8h2.0v0.9h-2.0z" fill="#dc3a2e" fill-opacity="0.32"/><path d="M103.7 268.8h9.3v0.9h-9.3zM111.4 269.8h8.1v0.9h-8.1zM104.0 280.8h8.6v0.9h-8.6z" fill="#dc3a2e" fill-opacity="0.18"/><path d="M93.9 269.8h37.6v1.1h-37.6zM93.9 270.8h37.6v1.1h-37.6z" fill="#e6402e" fill-opacity="0.4"/><path d="M110.5 270.8h8.7v0.9h-8.7zM112.4 282.8h10.1v0.9h-10.1zM109.5 282.8h9.1v0.9h-9.1zM113.5 287.8h4.8v0.9h-4.8z" fill="#dc3a2e" fill-opacity="0.16"/><path d="M106.6 270.8h8.6v0.9h-8.6z" fill="#dc3a2e" fill-opacity="0.24"/><path d="M93.9 271.8h37.6v1.1h-37.6z" fill="#e6402e" fill-opacity="0.32"/><path d="M93.9 272.8h37.6v1.1h-37.6zM93.9 275.8h37.6v1.1h-37.6zM93.9 291.8h37.6v1.1h-37.6zM93.9 295.8h37.6v1.1h-37.6z" fill="#e6402e" fill-opacity="0.22"/><path d="M117.1 272.8h9.2v0.9h-9.2zM104.1 284.8h5.5v0.9h-5.5zM105.9 288.8h8.0v0.9h-8.0zM94.4 295.8h3.9v0.9h-3.9zM114.3 302.8h6.9v0.9h-6.9zM112.0 304.8h10.6v0.9h-10.6zM119.7 312.8h8.7v0.9h-8.7z" fill="#dc3a2e" fill-opacity="0.12"/><path d="M93.9 273.8h37.6v1.1h-37.6z" fill="#e6402e" fill-opacity="0.36"/><path d="M93.9 274.8h37.6v1.1h-37.6zM93.9 278.8h37.6v1.1h-37.6zM93.9 279.8h37.6v1.1h-37.6zM93.9 281.8h37.6v1.1h-37.6zM93.9 288.8h37.6v1.1h-37.6zM93.9 289.8h37.6v1.1h-37.6zM93.9 292.8h37.6v1.1h-37.6z" fill="#e6402e" fill-opacity="0.24"/><path d="M105.1 274.8h6.7v0.9h-6.7zM114.6 274.8h11.4v0.9h-11.4zM95.7 285.8h11.5v0.9h-11.5zM111.1 286.8h2.9v0.9h-2.9zM123.5 298.8h2.5v0.9h-2.5zM111.6 299.8h9.5v0.9h-9.5zM121.0 308.8h6.3v0.9h-6.3zM96.0 308.8h8.0v0.9h-8.0zM98.1 311.8h6.8v0.9h-6.8zM109.2 312.8h4.7v0.9h-4.7zM118.9 314.8h9.5v0.9h-9.5zM96.7 317.8h7.9v0.9h-7.9zM106.8 319.8h3.9v0.9h-3.9z" fill="#dc3a2e" fill-opacity="0.1"/><path d="M118.8 275.8h7.3v0.9h-7.3zM114.0 281.8h10.6v0.9h-10.6zM95.4 283.8h9.1v0.9h-9.1zM98.9 287.8h5.2v0.9h-5.2zM112.5 293.8h3.1v0.9h-3.1zM98.7 301.8h6.9v0.9h-6.9z" fill="#dc3a2e" fill-opacity="0.14"/><path d="M93.9 276.8h37.6v1.1h-37.6zM93.9 277.8h37.6v1.1h-37.6z" fill="#e6402e" fill-opacity="0.3"/><path d="M93.9 280.8h37.6v1.1h-37.6zM93.9 285.8h37.6v1.1h-37.6zM93.9 287.8h37.6v1.1h-37.6zM93.9 293.8h37.6v1.1h-37.6zM93.9 296.8h37.6v1.1h-37.6zM93.9 299.8h37.6v1.1h-37.6zM93.9 304.8h37.6v1.1h-37.6zM93.9 305.8h37.6v1.1h-37.6zM93.9 309.8h37.6v1.1h-37.6zM93.9 311.8h37.6v1.1h-37.6zM93.9 313.8h37.6v1.1h-37.6z" fill="#e6402e" fill-opacity="0.18"/><path d="M93.9 282.8h37.6v1.1h-37.6z" fill="#e6402e" fill-opacity="0.26"/><path d="M93.9 283.8h37.6v1.1h-37.6z" fill="#e6402e" fill-opacity="0.28"/><path d="M100.4 283.8h9.4v0.9h-9.4zM116.4 294.8h3.7v0.9h-3.7zM114.4 299.8h6.3v0.9h-6.3zM99.2 300.8h11.7v0.9h-11.7zM95.9 301.8h13.0v0.9h-13.0zM106.2 302.8h8.8v0.9h-8.8zM104.6 307.8h8.5v0.9h-8.5zM120.3 309.8h11.2v0.9h-11.2zM120.7 318.8h10.8v0.9h-10.8zM103.8 320.8h8.1v0.9h-8.1zM115.8 324.8h11.4v0.9h-11.4zM118.4 326.8h10.8v0.9h-10.8zM106.9 328.8h7.7v0.9h-7.7zM119.8 331.8h8.5v0.9h-8.5zM99.5 334.8h4.3v0.9h-4.3zM115.1 335.8h6.0v0.9h-6.0zM98.5 336.8h12.0v0.9h-12.0zM121.5 337.8h10.0v0.9h-10.0zM118.9 338.8h3.7v0.9h-3.7zM114.9 340.8h12.7v0.9h-12.7zM106.5 343.8h3.7v0.9h-3.7zM116.3 344.8h12.6v0.9h-12.6zM106.8 345.8h6.7v0.9h-6.7zM95.5 348.8h9.4v0.9h-9.4zM118.4 367.8h8.9v0.9h-8.9zM109.3 368.8h10.0v0.9h-10.0zM113.5 371.8h11.0v0.9h-11.0zM99.7 382.8h12.7v0.9h-12.7zM101.4 399.8h11.6v0.9h-11.6zM109.9 404.8h8.7v0.9h-8.7zM120.3 414.8h4.5v0.9h-4.5zM105.4 420.8h12.9v0.9h-12.9zM94.8 442.8h2.5v0.9h-2.5z" fill="#dc3a2e" fill-opacity="0.08"/><path d="M93.9 284.8h37.6v1.1h-37.6zM93.9 297.8h37.6v1.1h-37.6zM93.9 314.8h37.6v1.1h-37.6zM93.9 323.8h37.6v1.1h-37.6zM93.9 325.8h37.6v1.1h-37.6zM93.9 331.8h37.6v1.1h-37.6z" fill="#e6402e" fill-opacity="0.16"/><path d="M93.9 286.8h37.6v1.1h-37.6zM93.9 303.8h37.6v1.1h-37.6z" fill="#e6402e" fill-opacity="0.2"/><path d="M93.9 290.8h37.6v1.1h-37.6zM93.9 294.8h37.6v1.1h-37.6zM93.9 300.8h37.6v1.1h-37.6zM93.9 302.8h37.6v1.1h-37.6zM93.9 322.8h37.6v1.1h-37.6zM93.9 327.8h37.6v1.1h-37.6zM93.9 328.8h37.6v1.1h-37.6zM93.9 332.8h37.6v1.1h-37.6zM93.9 337.8h37.6v1.1h-37.6zM93.9 338.8h37.6v1.1h-37.6zM93.9 343.8h37.6v1.1h-37.6zM93.9 348.8h37.6v1.1h-37.6zM93.9 350.8h37.6v1.1h-37.6z" fill="#e6402e" fill-opacity="0.14"/><path d="M118.6 297.8h8.5v0.9h-8.5zM96.5 307.8h7.9v0.9h-7.9zM97.8 320.8h4.1v0.9h-4.1zM104.0 324.8h2.5v0.9h-2.5zM119.7 325.8h2.2v0.9h-2.2zM99.9 332.8h6.8v0.9h-6.8zM101.2 334.8h6.1v0.9h-6.1zM99.4 339.8h11.0v0.9h-11.0zM124.0 342.8h7.5v0.9h-7.5zM110.3 346.8h9.2v0.9h-9.2zM106.2 349.8h11.0v0.9h-11.0zM97.4 349.8h9.9v0.9h-9.9zM100.3 350.8h2.3v0.9h-2.3zM106.7 351.8h6.2v0.9h-6.2zM116.0 352.8h7.4v0.9h-7.4zM107.2 355.8h6.7v0.9h-6.7zM98.7 356.8h5.3v0.9h-5.3zM109.4 358.8h9.3v0.9h-9.3zM112.5 360.8h11.7v0.9h-11.7zM123.2 361.8h8.3v0.9h-8.3zM99.3 363.8h8.4v0.9h-8.4zM109.6 364.8h7.6v0.9h-7.6zM98.3 368.8h11.3v0.9h-11.3zM123.5 370.8h6.2v0.9h-6.2zM122.7 377.8h8.8v0.9h-8.8zM100.8 378.8h5.9v0.9h-5.9zM119.7 379.8h11.8v0.9h-11.8zM111.3 380.8h10.0v0.9h-10.0zM99.5 382.8h8.2v0.9h-8.2zM106.1 383.8h3.9v0.9h-3.9zM105.6 388.8h3.7v0.9h-3.7zM100.3 389.8h11.3v0.9h-11.3zM101.7 391.8h9.1v0.9h-9.1zM116.5 394.8h9.2v0.9h-9.2zM120.0 397.8h11.0v0.9h-11.0zM120.6 397.8h7.5v0.9h-7.5zM99.8 401.8h6.8v0.9h-6.8zM119.2 402.8h8.4v0.9h-8.4zM98.5 403.8h2.8v0.9h-2.8zM104.4 404.8h12.2v0.9h-12.2zM99.4 405.8h9.9v0.9h-9.9zM96.5 408.8h6.5v0.9h-6.5zM98.5 415.8h10.8v0.9h-10.8zM99.6 416.8h7.7v0.9h-7.7zM105.9 418.8h11.2v0.9h-11.2zM117.6 421.8h8.8v0.9h-8.8zM117.0 422.8h8.9v0.9h-8.9zM116.9 428.8h5.9v0.9h-5.9zM116.2 429.8h6.5v0.9h-6.5zM94.0 430.8h4.8v0.9h-4.8zM102.8 431.8h7.7v0.9h-7.7zM94.2 433.8h4.8v0.9h-4.8zM123.9 433.8h7.6v0.9h-7.6zM104.7 435.8h12.5v0.9h-12.5zM121.2 437.8h3.0v0.9h-3.0zM99.2 438.8h11.2v0.9h-11.2zM106.3 444.8h7.1v0.9h-7.1zM119.2 445.8h12.3v0.9h-12.3zM97.7 447.8h12.0v0.9h-12.0zM119.2 449.8h7.2v0.9h-7.2zM110.5 452.8h12.9v0.9h-12.9zM115.6 454.8h13.1v0.9h-13.1zM110.8 455.8h4.9v0.9h-4.9zM104.4 455.8h6.3v0.9h-6.3zM94.4 456.8h4.3v0.9h-4.3zM108.2 457.8h12.8v0.9h-12.8zM101.7 458.8h11.6v0.9h-11.6zM98.0 459.8h9.0v0.9h-9.0zM104.1 460.8h12.7v0.9h-12.7z" fill="#dc3a2e" fill-opacity="0.06"/><path d="M93.9 298.8h37.6v1.1h-37.6zM93.9 301.8h37.6v1.1h-37.6zM93.9 306.8h37.6v1.1h-37.6zM93.9 307.8h37.6v1.1h-37.6zM93.9 308.8h37.6v1.1h-37.6zM93.9 317.8h37.6v1.1h-37.6zM93.9 319.8h37.6v1.1h-37.6zM93.9 320.8h37.6v1.1h-37.6zM93.9 321.8h37.6v1.1h-37.6zM93.9 324.8h37.6v1.1h-37.6zM93.9 326.8h37.6v1.1h-37.6zM93.9 330.8h37.6v1.1h-37.6zM93.9 333.8h37.6v1.1h-37.6zM93.9 339.8h37.6v1.1h-37.6zM93.9 341.8h37.6v1.1h-37.6zM93.9 342.8h37.6v1.1h-37.6zM93.9 344.8h37.6v1.1h-37.6zM93.9 346.8h37.6v1.1h-37.6zM93.9 349.8h37.6v1.1h-37.6zM93.9 351.8h37.6v1.1h-37.6zM93.9 355.8h37.6v1.1h-37.6zM93.9 359.8h37.6v1.1h-37.6zM93.9 379.8h37.6v1.1h-37.6zM93.9 390.8h37.6v1.1h-37.6zM93.9 400.8h37.6v1.1h-37.6zM93.9 420.8h37.6v1.1h-37.6zM93.9 421.8h37.6v1.1h-37.6zM93.9 429.8h37.6v1.1h-37.6zM93.9 432.8h37.6v1.1h-37.6z" fill="#e6402e" fill-opacity="0.12"/><path d="M93.9 310.8h37.6v1.1h-37.6zM93.9 312.8h37.6v1.1h-37.6zM93.9 315.8h37.6v1.1h-37.6zM93.9 316.8h37.6v1.1h-37.6zM93.9 318.8h37.6v1.1h-37.6zM93.9 329.8h37.6v1.1h-37.6zM93.9 335.8h37.6v1.1h-37.6zM93.9 336.8h37.6v1.1h-37.6zM93.9 352.8h37.6v1.1h-37.6zM93.9 353.8h37.6v1.1h-37.6zM93.9 357.8h37.6v1.1h-37.6zM93.9 358.8h37.6v1.1h-37.6zM93.9 361.8h37.6v1.1h-37.6zM93.9 363.8h37.6v1.1h-37.6zM93.9 365.8h37.6v1.1h-37.6zM93.9 368.8h37.6v1.1h-37.6zM93.9 370.8h37.6v1.1h-37.6zM93.9 372.8h37.6v1.1h-37.6zM93.9 374.8h37.6v1.1h-37.6zM93.9 375.8h37.6v1.1h-37.6zM93.9 377.8h37.6v1.1h-37.6zM93.9 378.8h37.6v1.1h-37.6zM93.9 383.8h37.6v1.1h-37.6zM93.9 386.8h37.6v1.1h-37.6zM93.9 388.8h37.6v1.1h-37.6zM93.9 391.8h37.6v1.1h-37.6zM93.9 392.8h37.6v1.1h-37.6zM93.9 393.8h37.6v1.1h-37.6zM93.9 394.8h37.6v1.1h-37.6zM93.9 396.8h37.6v1.1h-37.6zM93.9 399.8h37.6v1.1h-37.6zM93.9 403.8h37.6v1.1h-37.6zM93.9 407.8h37.6v1.1h-37.6zM93.9 408.8h37.6v1.1h-37.6zM93.9 413.8h37.6v1.1h-37.6zM93.9 414.8h37.6v1.1h-37.6zM93.9 415.8h37.6v1.1h-37.6zM93.9 417.8h37.6v1.1h-37.6zM93.9 419.8h37.6v1.1h-37.6zM93.9 423.8h37.6v1.1h-37.6zM93.9 424.8h37.6v1.1h-37.6zM93.9 426.8h37.6v1.1h-37.6zM93.9 427.8h37.6v1.1h-37.6zM93.9 431.8h37.6v1.1h-37.6zM93.9 433.8h37.6v1.1h-37.6zM93.9 434.8h37.6v1.1h-37.6zM93.9 442.8h37.6v1.1h-37.6zM93.9 445.8h37.6v1.1h-37.6zM93.9 449.8h37.6v1.1h-37.6zM93.9 451.8h37.6v1.1h-37.6zM93.9 452.8h37.6v1.1h-37.6zM93.9 454.8h37.6v1.1h-37.6zM93.9 458.8h37.6v1.1h-37.6zM93.9 460.8h37.6v1.1h-37.6z" fill="#e6402e" fill-opacity="0.1"/><path d="M106.2 321.8h9.4v0.9h-9.4zM103.1 323.8h2.9v0.9h-2.9zM105.7 338.8h5.0v0.9h-5.0zM95.3 356.8h5.7v0.9h-5.7zM122.4 365.8h5.9v0.9h-5.9zM114.6 367.8h10.0v0.9h-10.0zM118.8 374.8h11.7v0.9h-11.7zM104.9 375.8h10.5v0.9h-10.5zM121.6 384.8h3.9v0.9h-3.9zM120.6 385.8h10.9v0.9h-10.9zM118.8 387.8h2.9v0.9h-2.9zM94.5 389.8h4.8v0.9h-4.8zM119.1 392.8h3.6v0.9h-3.6zM122.8 393.8h5.3v0.9h-5.3zM96.4 394.8h3.2v0.9h-3.2zM122.0 395.8h7.1v0.9h-7.1zM109.3 406.8h4.5v0.9h-4.5zM123.7 408.8h4.8v0.9h-4.8zM99.9 411.8h12.1v0.9h-12.1zM97.1 416.8h7.4v0.9h-7.4zM94.1 418.8h2.3v0.9h-2.3zM101.4 420.8h10.9v0.9h-10.9zM116.9 426.8h10.3v0.9h-10.3zM111.0 426.8h4.5v0.9h-4.5zM98.7 431.8h5.7v0.9h-5.7zM114.0 432.8h6.0v0.9h-6.0zM96.0 439.8h8.8v0.9h-8.8zM113.3 441.8h12.6v0.9h-12.6zM105.0 442.8h9.7v0.9h-9.7zM121.3 443.8h4.4v0.9h-4.4zM119.6 446.8h8.1v0.9h-8.1zM120.8 449.8h3.4v0.9h-3.4zM97.9 451.8h7.5v0.9h-7.5zM123.3 458.8h8.2v0.9h-8.2z" fill="#dc3a2e" fill-opacity="0.04"/><path d="M93.9 334.8h37.6v1.1h-37.6zM93.9 340.8h37.6v1.1h-37.6zM93.9 345.8h37.6v1.1h-37.6zM93.9 347.8h37.6v1.1h-37.6zM93.9 354.8h37.6v1.1h-37.6zM93.9 356.8h37.6v1.1h-37.6zM93.9 360.8h37.6v1.1h-37.6zM93.9 362.8h37.6v1.1h-37.6zM93.9 366.8h37.6v1.1h-37.6zM93.9 367.8h37.6v1.1h-37.6zM93.9 369.8h37.6v1.1h-37.6zM93.9 371.8h37.6v1.1h-37.6zM93.9 373.8h37.6v1.1h-37.6zM93.9 376.8h37.6v1.1h-37.6zM93.9 380.8h37.6v1.1h-37.6zM93.9 381.8h37.6v1.1h-37.6zM93.9 382.8h37.6v1.1h-37.6zM93.9 384.8h37.6v1.1h-37.6zM93.9 385.8h37.6v1.1h-37.6zM93.9 387.8h37.6v1.1h-37.6zM93.9 389.8h37.6v1.1h-37.6zM93.9 395.8h37.6v1.1h-37.6zM93.9 397.8h37.6v1.1h-37.6zM93.9 402.8h37.6v1.1h-37.6zM93.9 404.8h37.6v1.1h-37.6zM93.9 405.8h37.6v1.1h-37.6zM93.9 409.8h37.6v1.1h-37.6zM93.9 410.8h37.6v1.1h-37.6zM93.9 411.8h37.6v1.1h-37.6zM93.9 412.8h37.6v1.1h-37.6zM93.9 416.8h37.6v1.1h-37.6zM93.9 418.8h37.6v1.1h-37.6zM93.9 422.8h37.6v1.1h-37.6zM93.9 428.8h37.6v1.1h-37.6zM93.9 436.8h37.6v1.1h-37.6zM93.9 438.8h37.6v1.1h-37.6zM93.9 439.8h37.6v1.1h-37.6zM93.9 440.8h37.6v1.1h-37.6zM93.9 444.8h37.6v1.1h-37.6zM93.9 446.8h37.6v1.1h-37.6zM93.9 453.8h37.6v1.1h-37.6zM93.9 455.8h37.6v1.1h-37.6zM93.9 456.8h37.6v1.1h-37.6zM93.9 457.8h37.6v1.1h-37.6zM93.9 459.8h37.6v1.1h-37.6z" fill="#e6402e" fill-opacity="0.08"/><path d="M93.9 364.8h37.6v1.1h-37.6zM93.9 398.8h37.6v1.1h-37.6zM93.9 401.8h37.6v1.1h-37.6zM93.9 406.8h37.6v1.1h-37.6zM93.9 425.8h37.6v1.1h-37.6zM93.9 430.8h37.6v1.1h-37.6zM93.9 435.8h37.6v1.1h-37.6zM93.9 437.8h37.6v1.1h-37.6zM93.9 441.8h37.6v1.1h-37.6zM93.9 443.8h37.6v1.1h-37.6zM93.9 447.8h37.6v1.1h-37.6zM93.9 448.8h37.6v1.1h-37.6zM93.9 450.8h37.6v1.1h-37.6z" fill="#e6402e" fill-opacity="0.06"/><rect x="93.9" y="261.8" width="37.599999999999994" height="2.0" fill="#c2b8b8"/><rect x="93.9" y="242.8" width="37.599999999999994" height="218.7" fill="none" stroke="#a09c9c" stroke-width="0.8"/>
<rect x="151.4" y="242.8" width="37.29999999999998" height="218.7" fill="#fff"/><path d="M151.4 242.8h37.3v1.1h-37.3zM151.4 243.8h37.3v1.1h-37.3z" fill="#e6402e" fill-opacity="0.54"/><path d="M181.0 242.8h7.7v0.9h-7.7z" fill="#dc3a2e" fill-opacity="0.36"/><path d="M165.5 242.8h9.0v1.1h-9.0zM165.5 243.8h9.0v1.1h-9.0z" fill="#e0402e" fill-opacity="0.08"/><path d="M167.7 242.8h4.5v1.1h-4.5zM167.6 243.8h4.5v1.1h-4.5z" fill="#e0402e" fill-opacity="0.28"/><path d="M151.4 244.8h37.3v1.1h-37.3z" fill="#e6402e" fill-opacity="0.32"/><path d="M158.3 244.8h12.6v0.9h-12.6z" fill="#dc3a2e" fill-opacity="0.26"/><path d="M165.5 244.8h9.0v1.1h-9.0zM165.6 245.8h9.0v1.1h-9.0zM165.4 246.8h9.0v1.1h-9.0zM165.4 247.8h9.0v1.1h-9.0zM165.8 248.8h9.0v1.1h-9.0zM165.8 249.8h9.0v1.1h-9.0zM165.3 251.8h9.0v1.1h-9.0z" fill="#e0402e" fill-opacity="0.06"/><path d="M167.7 244.8h4.5v1.1h-4.5zM168.0 245.8h4.5v1.1h-4.5zM167.5 246.8h4.5v1.1h-4.5z" fill="#e0402e" fill-opacity="0.2"/><path d="M151.4 245.8h37.3v1.1h-37.3z" fill="#e6402e" fill-opacity="0.18"/><path d="M170.0 245.8h9.0v0.9h-9.0zM178.8 245.8h9.9v0.9h-9.9z" fill="#dc3a2e" fill-opacity="0.2"/><path d="M151.4 246.8h37.3v1.1h-37.3z" fill="#e6402e" fill-opacity="0.2"/><path d="M176.0 246.8h11.4v0.9h-11.4z" fill="#dc3a2e" fill-opacity="0.14"/><path d="M151.4 247.8h37.3v1.1h-37.3zM151.4 248.8h37.3v1.1h-37.3zM151.4 254.8h37.3v1.1h-37.3zM151.4 256.8h37.3v1.1h-37.3zM151.4 257.8h37.3v1.1h-37.3zM151.4 260.8h37.3v1.1h-37.3z" fill="#e6402e" fill-opacity="0.12"/><path d="M153.9 247.8h4.1v0.9h-4.1zM175.2 249.8h6.0v0.9h-6.0z" fill="#dc3a2e" fill-opacity="0.1"/><path d="M162.2 247.8h6.9v0.9h-6.9zM170.5 251.8h11.5v0.9h-11.5zM154.0 257.8h2.9v0.9h-2.9zM179.1 257.8h7.2v0.9h-7.2zM174.4 258.8h2.2v0.9h-2.2z" fill="#dc3a2e" fill-opacity="0.08"/><path d="M167.5 247.8h4.5v1.1h-4.5z" fill="#e0402e" fill-opacity="0.22"/><path d="M168.3 248.8h11.2v0.9h-11.2zM170.1 258.8h5.9v0.9h-5.9zM168.1 260.8h2.9v0.9h-2.9z" fill="#dc3a2e" fill-opacity="0.06"/><path d="M168.2 248.8h4.5v1.1h-4.5zM168.2 249.8h4.5v1.1h-4.5zM167.4 251.8h4.5v1.1h-4.5z" fill="#e0402e" fill-opacity="0.16"/><path d="M151.4 249.8h37.3v1.1h-37.3zM151.4 252.8h37.3v1.1h-37.3zM151.4 255.8h37.3v1.1h-37.3zM151.4 258.8h37.3v1.1h-37.3zM151.4 259.8h37.3v1.1h-37.3z" fill="#e6402e" fill-opacity="0.1"/><path d="M151.4 250.8h37.3v1.1h-37.3z" fill="#e6402e" fill-opacity="0.14"/><path d="M165.8 250.8h9.0v1.1h-9.0zM165.5 252.8h9.0v1.1h-9.0zM165.7 253.8h9.0v1.1h-9.0zM165.6 254.8h9.0v1.1h-9.0zM165.7 255.8h9.0v1.1h-9.0zM165.6 256.8h9.0v1.1h-9.0zM165.5 257.8h9.0v1.1h-9.0zM165.3 259.8h9.0v1.1h-9.0zM165.8 260.8h9.0v1.1h-9.0z" fill="#e0402e" fill-opacity="0.04"/><path d="M168.3 250.8h4.5v1.1h-4.5zM167.7 257.8h4.5v1.1h-4.5zM168.2 260.8h4.5v1.1h-4.5z" fill="#e0402e" fill-opacity="0.12"/><path d="M151.4 251.8h37.3v1.1h-37.3z" fill="#e6402e" fill-opacity="0.16"/><path d="M176.6 252.8h5.2v0.9h-5.2zM165.6 254.8h4.1v0.9h-4.1z" fill="#dc3a2e" fill-opacity="0.04"/><path d="M167.7 252.8h4.5v1.1h-4.5zM168.0 253.8h4.5v1.1h-4.5zM167.9 254.8h4.5v1.1h-4.5zM168.0 255.8h4.5v1.1h-4.5z" fill="#e0402e" fill-opacity="0.14"/><path d="M151.4 253.8h37.3v1.1h-37.3z" fill="#e6402e" fill-opacity="0.08"/><path d="M167.8 256.8h4.5v1.1h-4.5zM167.5 258.8h4.5v1.1h-4.5zM167.4 259.8h4.5v1.1h-4.5z" fill="#e0402e" fill-opacity="0.1"/><path d="M165.4 258.8h9.0v1.1h-9.0z" fill="#e0402e" fill-opacity="0.02"/><path d="M151.4 263.8h37.3v1.1h-37.3z" fill="#e6402e" fill-opacity="0.54"/><path d="M172.5 263.8h8.7v0.9h-8.7z" fill="#dc3a2e" fill-opacity="0.32"/><path d="M151.4 264.8h37.3v1.1h-37.3z" fill="#e6402e" fill-opacity="0.48"/><path d="M159.6 264.8h6.3v0.9h-6.3z" fill="#dc3a2e" fill-opacity="0.38"/><path d="M152.6 264.8h12.2v0.9h-12.2z" fill="#dc3a2e" fill-opacity="0.34"/><path d="M151.4 265.8h37.3v1.1h-37.3z" fill="#e6402e" fill-opacity="0.52"/><path d="M151.4 266.8h37.3v1.1h-37.3z" fill="#e6402e" fill-opacity="0.32"/><path d="M180.1 266.8h4.5v0.9h-4.5zM157.5 275.8h10.0v0.9h-10.0zM154.3 283.8h3.2v0.9h-3.2z" fill="#dc3a2e" fill-opacity="0.18"/><path d="M151.4 267.8h37.3v1.1h-37.3z" fill="#e6402e" fill-opacity="0.38"/><path d="M151.4 268.8h37.3v1.1h-37.3zM151.4 269.8h37.3v1.1h-37.3z" fill="#e6402e" fill-opacity="0.36"/><path d="M152.5 268.8h5.3v0.9h-5.3zM163.8 278.8h9.8v0.9h-9.8zM164.5 278.8h2.9v0.9h-2.9zM162.5 288.8h7.4v0.9h-7.4z" fill="#dc3a2e" fill-opacity="0.16"/><path d="M151.4 270.8h37.3v1.1h-37.3z" fill="#e6402e" fill-opacity="0.34"/><path d="M169.3 270.8h9.8v0.9h-9.8z" fill="#dc3a2e" fill-opacity="0.22"/><path d="M157.8 270.8h8.2v0.9h-8.2zM163.8 274.8h9.4v0.9h-9.4z" fill="#dc3a2e" fill-opacity="0.2"/><path d="M151.4 271.8h37.3v1.1h-37.3z" fill="#e6402e" fill-opacity="0.4"/><path d="M151.4 272.8h37.3v1.1h-37.3zM151.4 279.8h37.3v1.1h-37.3z" fill="#e6402e" fill-opacity="0.3"/><path d="M151.4 273.8h37.3v1.1h-37.3zM151.4 274.8h37.3v1.1h-37.3zM151.4 285.8h37.3v1.1h-37.3zM151.4 290.8h37.3v1.1h-37.3z" fill="#e6402e" fill-opacity="0.24"/><path d="M151.8 274.8h3.5v0.9h-3.5zM164.9 275.8h7.7v0.9h-7.7zM180.5 293.8h2.5v0.9h-2.5zM174.1 293.8h6.1v0.9h-6.1zM153.0 295.8h5.1v0.9h-5.1zM174.3 299.8h2.8v0.9h-2.8z" fill="#dc3a2e" fill-opacity="0.14"/><path d="M151.4 275.8h37.3v1.1h-37.3zM151.4 277.8h37.3v1.1h-37.3z" fill="#e6402e" fill-opacity="0.26"/><path d="M151.4 276.8h37.3v1.1h-37.3zM151.4 281.8h37.3v1.1h-37.3zM151.4 282.8h37.3v1.1h-37.3zM151.4 283.8h37.3v1.1h-37.3z" fill="#e6402e" fill-opacity="0.28"/><path d="M152.3 276.8h2.7v0.9h-2.7zM158.5 283.8h3.5v0.9h-3.5zM160.1 289.8h5.8v0.9h-5.8zM153.1 290.8h11.9v0.9h-11.9zM151.8 297.8h11.6v0.9h-11.6zM175.5 303.8h5.2v0.9h-5.2zM157.4 308.8h9.9v0.9h-9.9zM170.9 309.8h11.8v0.9h-11.8zM159.7 311.8h9.8v0.9h-9.8zM176.5 312.8h9.4v0.9h-9.4zM152.6 322.8h8.9v0.9h-8.9zM179.7 324.8h5.7v0.9h-5.7z" fill="#dc3a2e" fill-opacity="0.1"/><path d="M167.5 277.8h8.5v0.9h-8.5zM168.3 279.8h8.2v0.9h-8.2zM164.7 280.8h8.7v0.9h-8.7zM161.8 285.8h6.5v0.9h-6.5zM166.6 294.8h3.7v0.9h-3.7zM154.5 295.8h11.9v0.9h-11.9zM161.5 298.8h10.6v0.9h-10.6z" fill="#dc3a2e" fill-opacity="0.12"/><path d="M151.4 278.8h37.3v1.1h-37.3zM151.4 287.8h37.3v1.1h-37.3zM151.4 295.8h37.3v1.1h-37.3zM151.4 312.8h37.3v1.1h-37.3z" fill="#e6402e" fill-opacity="0.18"/><path d="M151.4 280.8h37.3v1.1h-37.3zM151.4 292.8h37.3v1.1h-37.3z" fill="#e6402e" fill-opacity="0.22"/><path d="M151.4 284.8h37.3v1.1h-37.3zM151.4 294.8h37.3v1.1h-37.3zM151.4 300.8h37.3v1.1h-37.3zM151.4 305.8h37.3v1.1h-37.3zM151.4 307.8h37.3v1.1h-37.3zM151.4 308.8h37.3v1.1h-37.3zM151.4 310.8h37.3v1.1h-37.3zM151.4 330.8h37.3v1.1h-37.3z" fill="#e6402e" fill-opacity="0.16"/><path d="M151.4 286.8h37.3v1.1h-37.3zM151.4 288.8h37.3v1.1h-37.3zM151.4 291.8h37.3v1.1h-37.3z" fill="#e6402e" fill-opacity="0.2"/><path d="M151.4 289.8h37.3v1.1h-37.3zM151.4 293.8h37.3v1.1h-37.3zM151.4 296.8h37.3v1.1h-37.3zM151.4 299.8h37.3v1.1h-37.3zM151.4 301.8h37.3v1.1h-37.3zM151.4 302.8h37.3v1.1h-37.3zM151.4 303.8h37.3v1.1h-37.3zM151.4 313.8h37.3v1.1h-37.3zM151.4 317.8h37.3v1.1h-37.3zM151.4 318.8h37.3v1.1h-37.3zM151.4 320.8h37.3v1.1h-37.3zM151.4 321.8h37.3v1.1h-37.3zM151.4 322.8h37.3v1.1h-37.3zM151.4 325.8h37.3v1.1h-37.3zM151.4 326.8h37.3v1.1h-37.3zM151.4 346.8h37.3v1.1h-37.3z" fill="#e6402e" fill-opacity="0.14"/><path d="M156.3 290.8h4.7v0.9h-4.7zM162.6 298.8h6.4v0.9h-6.4zM165.5 307.8h12.6v0.9h-12.6zM161.7 315.8h10.5v0.9h-10.5zM160.2 317.8h3.9v0.9h-3.9zM154.5 318.8h9.2v0.9h-9.2zM173.1 322.8h3.5v0.9h-3.5zM171.7 323.8h9.1v0.9h-9.1zM156.3 324.8h4.2v0.9h-4.2zM158.7 328.8h5.4v0.9h-5.4zM157.6 330.8h12.5v0.9h-12.5zM154.1 335.8h4.9v0.9h-4.9zM174.5 341.8h7.9v0.9h-7.9zM168.3 343.8h9.1v0.9h-9.1zM165.4 343.8h12.3v0.9h-12.3zM168.5 345.8h5.3v0.9h-5.3zM164.5 348.8h3.9v0.9h-3.9zM175.6 349.8h10.0v0.9h-10.0zM163.6 350.8h9.8v0.9h-9.8zM178.9 352.8h2.8v0.9h-2.8zM176.8 352.8h7.8v0.9h-7.8zM161.9 355.8h8.3v0.9h-8.3zM166.7 364.8h12.7v0.9h-12.7zM155.0 365.8h5.7v0.9h-5.7zM155.7 369.8h11.3v0.9h-11.3zM158.4 371.8h9.0v0.9h-9.0zM156.2 375.8h11.6v0.9h-11.6zM174.3 376.8h7.6v0.9h-7.6zM167.0 377.8h8.6v0.9h-8.6zM161.4 379.8h6.1v0.9h-6.1zM166.0 380.8h11.1v0.9h-11.1zM181.1 403.8h3.7v0.9h-3.7z" fill="#dc3a2e" fill-opacity="0.08"/><path d="M151.4 297.8h37.3v1.1h-37.3zM151.4 298.8h37.3v1.1h-37.3zM151.4 306.8h37.3v1.1h-37.3zM151.4 309.8h37.3v1.1h-37.3zM151.4 319.8h37.3v1.1h-37.3zM151.4 323.8h37.3v1.1h-37.3zM151.4 329.8h37.3v1.1h-37.3zM151.4 331.8h37.3v1.1h-37.3zM151.4 336.8h37.3v1.1h-37.3zM151.4 341.8h37.3v1.1h-37.3zM151.4 342.8h37.3v1.1h-37.3zM151.4 343.8h37.3v1.1h-37.3zM151.4 353.8h37.3v1.1h-37.3zM151.4 357.8h37.3v1.1h-37.3zM151.4 359.8h37.3v1.1h-37.3zM151.4 361.8h37.3v1.1h-37.3zM151.4 366.8h37.3v1.1h-37.3zM151.4 372.8h37.3v1.1h-37.3zM151.4 385.8h37.3v1.1h-37.3zM151.4 389.8h37.3v1.1h-37.3zM151.4 397.8h37.3v1.1h-37.3zM151.4 406.8h37.3v1.1h-37.3zM151.4 411.8h37.3v1.1h-37.3zM151.4 419.8h37.3v1.1h-37.3zM151.4 433.8h37.3v1.1h-37.3z" fill="#e6402e" fill-opacity="0.12"/><path d="M157.4 300.8h3.7v0.9h-3.7zM166.8 301.8h10.0v0.9h-10.0zM171.7 303.8h3.3v0.9h-3.3zM172.3 304.8h6.2v0.9h-6.2zM178.9 318.8h8.8v0.9h-8.8zM155.6 319.8h11.5v0.9h-11.5zM151.9 327.8h5.5v0.9h-5.5zM177.9 335.8h10.8v0.9h-10.8zM177.4 339.8h10.0v0.9h-10.0zM164.2 339.8h5.3v0.9h-5.3zM152.9 340.8h10.0v0.9h-10.0zM163.0 340.8h4.4v0.9h-4.4zM160.7 357.8h7.4v0.9h-7.4zM152.1 358.8h2.9v0.9h-2.9zM169.3 360.8h7.4v0.9h-7.4zM154.1 362.8h2.1v0.9h-2.1zM161.1 367.8h2.5v0.9h-2.5zM170.3 370.8h8.8v0.9h-8.8zM171.2 373.8h2.2v0.9h-2.2zM158.3 374.8h8.1v0.9h-8.1zM175.5 374.8h7.5v0.9h-7.5zM164.0 377.8h6.0v0.9h-6.0zM169.1 382.8h8.2v0.9h-8.2zM172.8 389.8h9.9v0.9h-9.9zM162.3 389.8h12.1v0.9h-12.1zM172.3 392.8h2.2v0.9h-2.2zM151.9 396.8h8.6v0.9h-8.6zM175.0 399.8h7.0v0.9h-7.0zM165.5 401.8h11.5v0.9h-11.5zM153.9 402.8h2.0v0.9h-2.0zM162.1 404.8h7.4v0.9h-7.4zM169.8 405.8h5.8v0.9h-5.8zM160.3 407.8h10.5v0.9h-10.5zM165.7 409.8h8.6v0.9h-8.6zM155.6 409.8h7.2v0.9h-7.2zM177.3 411.8h2.7v0.9h-2.7zM151.6 412.8h6.6v0.9h-6.6zM168.2 414.8h12.6v0.9h-12.6zM167.4 414.8h11.1v0.9h-11.1zM160.4 416.8h3.1v0.9h-3.1zM156.6 417.8h7.8v0.9h-7.8zM160.3 420.8h4.6v0.9h-4.6zM171.0 428.8h5.7v0.9h-5.7zM178.9 433.8h9.8v0.9h-9.8zM161.7 434.8h10.8v0.9h-10.8zM161.5 438.8h7.8v0.9h-7.8zM166.5 442.8h4.9v0.9h-4.9zM161.7 448.8h5.1v0.9h-5.1zM167.1 450.8h8.7v0.9h-8.7zM180.7 450.8h8.0v0.9h-8.0zM167.3 453.8h5.4v0.9h-5.4zM179.0 454.8h2.8v0.9h-2.8zM152.6 456.8h5.0v0.9h-5.0zM158.5 456.8h12.1v0.9h-12.1zM156.4 457.8h8.1v0.9h-8.1zM168.2 457.8h7.9v0.9h-7.9z" fill="#dc3a2e" fill-opacity="0.06"/><path d="M151.4 304.8h37.3v1.1h-37.3zM151.4 311.8h37.3v1.1h-37.3zM151.4 314.8h37.3v1.1h-37.3zM151.4 315.8h37.3v1.1h-37.3zM151.4 316.8h37.3v1.1h-37.3zM151.4 324.8h37.3v1.1h-37.3zM151.4 327.8h37.3v1.1h-37.3zM151.4 328.8h37.3v1.1h-37.3zM151.4 333.8h37.3v1.1h-37.3zM151.4 334.8h37.3v1.1h-37.3zM151.4 338.8h37.3v1.1h-37.3zM151.4 344.8h37.3v1.1h-37.3zM151.4 347.8h37.3v1.1h-37.3zM151.4 348.8h37.3v1.1h-37.3zM151.4 350.8h37.3v1.1h-37.3zM151.4 351.8h37.3v1.1h-37.3zM151.4 352.8h37.3v1.1h-37.3zM151.4 354.8h37.3v1.1h-37.3zM151.4 355.8h37.3v1.1h-37.3zM151.4 358.8h37.3v1.1h-37.3zM151.4 362.8h37.3v1.1h-37.3zM151.4 364.8h37.3v1.1h-37.3zM151.4 369.8h37.3v1.1h-37.3zM151.4 370.8h37.3v1.1h-37.3zM151.4 377.8h37.3v1.1h-37.3zM151.4 381.8h37.3v1.1h-37.3zM151.4 383.8h37.3v1.1h-37.3zM151.4 387.8h37.3v1.1h-37.3zM151.4 388.8h37.3v1.1h-37.3zM151.4 390.8h37.3v1.1h-37.3zM151.4 393.8h37.3v1.1h-37.3zM151.4 395.8h37.3v1.1h-37.3zM151.4 396.8h37.3v1.1h-37.3zM151.4 398.8h37.3v1.1h-37.3zM151.4 401.8h37.3v1.1h-37.3zM151.4 403.8h37.3v1.1h-37.3zM151.4 405.8h37.3v1.1h-37.3zM151.4 412.8h37.3v1.1h-37.3zM151.4 413.8h37.3v1.1h-37.3zM151.4 415.8h37.3v1.1h-37.3zM151.4 418.8h37.3v1.1h-37.3zM151.4 421.8h37.3v1.1h-37.3zM151.4 423.8h37.3v1.1h-37.3zM151.4 425.8h37.3v1.1h-37.3zM151.4 431.8h37.3v1.1h-37.3zM151.4 436.8h37.3v1.1h-37.3zM151.4 438.8h37.3v1.1h-37.3zM151.4 440.8h37.3v1.1h-37.3zM151.4 444.8h37.3v1.1h-37.3zM151.4 448.8h37.3v1.1h-37.3zM151.4 449.8h37.3v1.1h-37.3zM151.4 451.8h37.3v1.1h-37.3zM151.4 455.8h37.3v1.1h-37.3zM151.4 456.8h37.3v1.1h-37.3zM151.4 457.8h37.3v1.1h-37.3zM151.4 460.8h37.3v1.1h-37.3z" fill="#e6402e" fill-opacity="0.1"/><path d="M169.3 319.8h12.2v0.9h-12.2zM153.6 332.8h6.6v0.9h-6.6zM171.7 342.8h9.9v0.9h-9.9zM161.0 344.8h2.7v0.9h-2.7zM173.3 350.8h6.7v0.9h-6.7zM167.2 356.8h8.1v0.9h-8.1zM153.5 356.8h5.2v0.9h-5.2zM157.1 362.8h4.8v0.9h-4.8zM159.1 365.8h4.0v0.9h-4.0zM166.8 368.8h6.0v0.9h-6.0zM167.7 369.8h5.7v0.9h-5.7zM153.6 370.8h12.6v0.9h-12.6zM179.2 371.8h8.0v0.9h-8.0zM152.1 378.8h11.5v0.9h-11.5zM158.8 380.8h8.6v0.9h-8.6zM164.0 381.8h7.4v0.9h-7.4zM170.5 383.8h10.7v0.9h-10.7zM159.4 384.8h8.4v0.9h-8.4zM171.4 385.8h2.6v0.9h-2.6zM155.0 391.8h8.6v0.9h-8.6zM170.5 392.8h10.9v0.9h-10.9zM160.7 395.8h3.7v0.9h-3.7zM154.4 396.8h3.1v0.9h-3.1zM154.4 397.8h2.8v0.9h-2.8zM152.2 399.8h5.9v0.9h-5.9zM168.4 400.8h4.3v0.9h-4.3zM171.8 410.8h4.7v0.9h-4.7zM166.3 412.8h3.1v0.9h-3.1zM173.6 413.8h2.4v0.9h-2.4zM169.5 415.8h7.9v0.9h-7.9zM178.3 418.8h10.0v0.9h-10.0zM173.3 420.8h10.2v0.9h-10.2zM180.0 426.8h8.7v0.9h-8.7zM170.8 427.8h9.5v0.9h-9.5zM164.1 428.8h12.9v0.9h-12.9zM171.6 434.8h10.1v0.9h-10.1zM157.2 435.8h10.6v0.9h-10.6zM179.3 437.8h9.4v0.9h-9.4zM163.8 441.8h9.8v0.9h-9.8zM168.3 443.8h8.4v0.9h-8.4zM164.4 445.8h2.6v0.9h-2.6zM153.1 447.8h10.7v0.9h-10.7zM175.6 447.8h3.4v0.9h-3.4zM153.1 455.8h12.6v0.9h-12.6zM176.7 458.8h11.1v0.9h-11.1z" fill="#dc3a2e" fill-opacity="0.04"/><path d="M151.4 332.8h37.3v1.1h-37.3zM151.4 335.8h37.3v1.1h-37.3zM151.4 337.8h37.3v1.1h-37.3zM151.4 339.8h37.3v1.1h-37.3zM151.4 340.8h37.3v1.1h-37.3zM151.4 345.8h37.3v1.1h-37.3zM151.4 349.8h37.3v1.1h-37.3zM151.4 356.8h37.3v1.1h-37.3zM151.4 360.8h37.3v1.1h-37.3zM151.4 363.8h37.3v1.1h-37.3zM151.4 365.8h37.3v1.1h-37.3zM151.4 367.8h37.3v1.1h-37.3zM151.4 368.8h37.3v1.1h-37.3zM151.4 371.8h37.3v1.1h-37.3zM151.4 373.8h37.3v1.1h-37.3zM151.4 374.8h37.3v1.1h-37.3zM151.4 376.8h37.3v1.1h-37.3zM151.4 378.8h37.3v1.1h-37.3zM151.4 380.8h37.3v1.1h-37.3zM151.4 382.8h37.3v1.1h-37.3zM151.4 384.8h37.3v1.1h-37.3zM151.4 386.8h37.3v1.1h-37.3zM151.4 391.8h37.3v1.1h-37.3zM151.4 394.8h37.3v1.1h-37.3zM151.4 399.8h37.3v1.1h-37.3zM151.4 400.8h37.3v1.1h-37.3zM151.4 402.8h37.3v1.1h-37.3zM151.4 404.8h37.3v1.1h-37.3zM151.4 407.8h37.3v1.1h-37.3zM151.4 408.8h37.3v1.1h-37.3zM151.4 409.8h37.3v1.1h-37.3zM151.4 410.8h37.3v1.1h-37.3zM151.4 414.8h37.3v1.1h-37.3zM151.4 420.8h37.3v1.1h-37.3zM151.4 422.8h37.3v1.1h-37.3zM151.4 424.8h37.3v1.1h-37.3zM151.4 427.8h37.3v1.1h-37.3zM151.4 428.8h37.3v1.1h-37.3zM151.4 430.8h37.3v1.1h-37.3zM151.4 434.8h37.3v1.1h-37.3zM151.4 437.8h37.3v1.1h-37.3zM151.4 441.8h37.3v1.1h-37.3zM151.4 446.8h37.3v1.1h-37.3zM151.4 447.8h37.3v1.1h-37.3zM151.4 452.8h37.3v1.1h-37.3zM151.4 453.8h37.3v1.1h-37.3zM151.4 458.8h37.3v1.1h-37.3zM151.4 459.8h37.3v1.1h-37.3z" fill="#e6402e" fill-opacity="0.08"/><path d="M151.4 375.8h37.3v1.1h-37.3zM151.4 379.8h37.3v1.1h-37.3zM151.4 392.8h37.3v1.1h-37.3zM151.4 416.8h37.3v1.1h-37.3zM151.4 417.8h37.3v1.1h-37.3zM151.4 426.8h37.3v1.1h-37.3zM151.4 429.8h37.3v1.1h-37.3zM151.4 432.8h37.3v1.1h-37.3zM151.4 435.8h37.3v1.1h-37.3zM151.4 439.8h37.3v1.1h-37.3zM151.4 442.8h37.3v1.1h-37.3zM151.4 443.8h37.3v1.1h-37.3zM151.4 445.8h37.3v1.1h-37.3zM151.4 450.8h37.3v1.1h-37.3zM151.4 454.8h37.3v1.1h-37.3z" fill="#e6402e" fill-opacity="0.06"/><rect x="151.4" y="261.8" width="37.29999999999998" height="2.0" fill="#c2b8b8"/><rect x="151.4" y="242.8" width="37.29999999999998" height="218.7" fill="none" stroke="#a09c9c" stroke-width="0.8"/>
<rect x="33.4" y="465.3" width="37.4" height="3.7" fill="url(#cbar)" stroke="#999" stroke-width="0.5"/>
<rect x="93.9" y="465.3" width="37.599999999999994" height="3.7" fill="url(#cbar)" stroke="#999" stroke-width="0.5"/>
<rect x="151.4" y="465.3" width="37.29999999999998" height="3.7" fill="url(#cbar)" stroke="#999" stroke-width="0.5"/>
<text x="33.4" y="478.1" font-size="6.3" text-anchor="middle" fill="#333" font-weight="normal" font-style="normal" stroke="#333" stroke-width="0.12" >0</text>
<text x="45.9" y="478.1" font-size="6.3" text-anchor="middle" fill="#333" font-weight="normal" font-style="normal" stroke="#333" stroke-width="0.12" >1</text>
<text x="58.4" y="478.1" font-size="6.3" text-anchor="middle" fill="#333" font-weight="normal" font-style="normal" stroke="#333" stroke-width="0.12" >2</text>
<text x="70.8" y="478.1" font-size="6.3" text-anchor="middle" fill="#333" font-weight="normal" font-style="normal" stroke="#333" stroke-width="0.12" >3</text>
<text x="93.9" y="478.1" font-size="6.3" text-anchor="middle" fill="#333" font-weight="normal" font-style="normal" stroke="#333" stroke-width="0.12" >0.0</text>
<text x="110.1" y="478.1" font-size="6.3" text-anchor="middle" fill="#333" font-weight="normal" font-style="normal" stroke="#333" stroke-width="0.12" >0.4</text>
<text x="123.6" y="478.1" font-size="6.3" text-anchor="middle" fill="#333" font-weight="normal" font-style="normal" stroke="#333" stroke-width="0.12" >0.8</text>
<text x="151.6" y="478.1" font-size="6.3" text-anchor="middle" fill="#333" font-weight="normal" font-style="normal" stroke="#333" stroke-width="0.12" >0.0</text>
<text x="168.4" y="478.1" font-size="6.3" text-anchor="middle" fill="#333" font-weight="normal" font-style="normal" stroke="#333" stroke-width="0.12" >0.4</text>
<text x="181.6" y="478.1" font-size="6.3" text-anchor="middle" fill="#333" font-weight="normal" font-style="normal" stroke="#333" stroke-width="0.12" >0.8</text>
<text transform="translate(21.2,252.6) rotate(-90)" font-size="6.1" text-anchor="middle" fill="#333" stroke="#333" stroke-width="0.12">620</text>
<text transform="translate(27.8,252.6) rotate(-90)" font-size="6.1" text-anchor="middle" fill="#333" stroke="#333" stroke-width="0.12">+LRF</text>
<text transform="translate(29.3,362.3) rotate(-90)" font-size="6.3" text-anchor="middle" fill="#333" stroke="#333" stroke-width="0.1">6173 <tspan font-style="italic">GATA2AS</tspan> only</text>
<path d="M269.2,215.0L302.80,215.00A33.6,33.6 0 1 0 258.90,246.98Z" fill="#acd2f1" stroke="#3d3545" stroke-width="0.9" stroke-linejoin="round"/>
<path d="M269.2,215.0L258.90,246.98A33.6,33.6 0 0 0 259.68,247.22Z" fill="#5c4f94" stroke="#3d3545" stroke-width="0.9" stroke-linejoin="round"/>
<path d="M269.2,215.0L259.68,247.22A33.6,33.6 0 0 0 262.68,247.96Z" fill="#9fd08c" stroke="#3d3545" stroke-width="0.9" stroke-linejoin="round"/>
<path d="M269.2,215.0L262.68,247.96A33.6,33.6 0 0 0 265.01,248.34Z" fill="#e596b6" stroke="#3d3545" stroke-width="0.9" stroke-linejoin="round"/>
<path d="M269.2,215.0L265.01,248.34A33.6,33.6 0 0 0 268.21,248.59Z" fill="#c78a7a" stroke="#3d3545" stroke-width="0.9" stroke-linejoin="round"/>
<path d="M269.2,215.0L268.21,248.59A33.6,33.6 0 0 0 281.45,246.29Z" fill="#f8c98a" stroke="#3d3545" stroke-width="0.9" stroke-linejoin="round"/>
<path d="M269.2,215.0L281.45,246.29A33.6,33.6 0 0 0 295.94,235.34Z" fill="#a27fc9" stroke="#3d3545" stroke-width="0.9" stroke-linejoin="round"/>
<path d="M269.2,215.0L295.94,235.34A33.6,33.6 0 0 0 296.08,235.16Z" fill="#e6dada" stroke="#3d3545" stroke-width="0.9" stroke-linejoin="round"/>
<path d="M269.2,215.0L296.08,235.16A33.6,33.6 0 0 0 302.80,215.02Z" fill="#d69642" stroke="#3d3545" stroke-width="0.9" stroke-linejoin="round"/>
<rect x="308.9" y="185.9" width="4.2" height="4.2" fill="#c2d6ea" stroke="#666" stroke-width="0.6"/>
<text x="315.8" y="189.7" font-size="4.9" text-anchor="start" fill="#555" font-weight="normal" font-style="normal" stroke="#555" stroke-width="0.12" >Promoter (70.04%)</text>
<rect x="308.9" y="192.6" width="4.2" height="4.2" fill="#6a5fa6" stroke="#666" stroke-width="0.6"/>
<text x="315.8" y="196.39" font-size="4.9" text-anchor="start" fill="#555" font-weight="normal" font-style="normal" stroke="#555" stroke-width="0.12" >5′ UTR (0.39%)</text>
<rect x="308.9" y="199.3" width="4.2" height="4.2" fill="#a7d595" stroke="#666" stroke-width="0.6"/>
<text x="315.8" y="203.07999999999998" font-size="4.9" text-anchor="start" fill="#555" font-weight="normal" font-style="normal" stroke="#555" stroke-width="0.12" >3′ UTR (1.46%)</text>
<rect x="308.9" y="206.0" width="4.2" height="4.2" fill="#cf93b5" stroke="#666" stroke-width="0.6"/>
<text x="315.8" y="209.76999999999998" font-size="4.9" text-anchor="start" fill="#555" font-weight="normal" font-style="normal" stroke="#555" stroke-width="0.12" >1st Exon (1.12%)</text>
<rect x="308.9" y="212.7" width="4.2" height="4.2" fill="#b98c7e" stroke="#666" stroke-width="0.6"/>
<text x="315.8" y="216.45999999999998" font-size="4.9" text-anchor="start" fill="#555" font-weight="normal" font-style="normal" stroke="#555" stroke-width="0.12" >Other Exon (1.52%)</text>
<rect x="308.9" y="219.3" width="4.2" height="4.2" fill="#f2c98f" stroke="#666" stroke-width="0.6"/>
<text x="315.8" y="223.14999999999998" font-size="4.9" text-anchor="start" fill="#555" font-weight="normal" font-style="normal" stroke="#555" stroke-width="0.12" >1st Intron (6.41%)</text>
<rect x="308.9" y="226.0" width="4.2" height="4.2" fill="#6c6a92" stroke="#666" stroke-width="0.6"/>
<text x="315.8" y="229.83999999999997" font-size="4.9" text-anchor="start" fill="#555" font-weight="normal" font-style="normal" stroke="#555" stroke-width="0.12" >Other Intron (8.71%)</text>
<rect x="308.9" y="232.7" width="4.2" height="4.2" fill="#ebe4e4" stroke="#666" stroke-width="0.6"/>
<text x="315.8" y="236.53" font-size="4.9" text-anchor="start" fill="#555" font-weight="normal" font-style="normal" stroke="#555" stroke-width="0.12" >Downstream (≤300) (0.11%)</text>
<rect x="308.9" y="239.4" width="4.2" height="4.2" fill="#c99a45" stroke="#666" stroke-width="0.6"/>
<text x="315.8" y="243.22" font-size="4.9" text-anchor="start" fill="#555" font-weight="normal" font-style="normal" stroke="#555" stroke-width="0.12" >Distal Intergenic (10.23%)</text>
<polyline points="243.1,330.8 247,330.1 251.2,331.5 256.1,329.1 259.6,329.7 263.8,331.5 268,328.7 273.6,325.9 277.8,323.1 282,318.2 284.8,316.5 287.6,315.4 291.8,309.1 296,305.6 298.8,303.5 303,297.9 306.5,293.7 307.8,293.7 311.3,297.9 314.8,306.3 319,313.3 323.2,318.2 326.7,319.6 330.9,316.8 334.4,318.2 338.6,321.7 342.8,324.1 347,327.3 352.6,329.4 359.6,331.5 369.7,332.9" fill="none" stroke="#6cc05c" stroke-width="0.9" stroke-linejoin="round"/>
<polyline points="243.1,327.3 247,325.6 251.2,328.4 256.1,324.5 261.7,328.3 265.9,325.9 270.1,321.3 273.6,322.4 277.8,316.1 281.3,313.3 284.8,310.5 288.3,305.6 291.8,301.4 295.3,295.8 298.8,294.4 301.6,288.8 304.4,283.2 307.1,279.9 309.9,282.5 312.7,290.2 315.5,297.2 319,304.2 322.5,309.8 326,310.9 330.9,309.1 334.4,311.2 337.9,316.1 342.1,319.6 346.3,323.8 349.8,324.1 353.3,328 358.2,328.7 363.8,330.1 369.7,331.5" fill="none" stroke="#4d3d5e" stroke-width="0.9" stroke-linejoin="round"/>
<rect x="243.1" y="277.3" width="127.00000000000003" height="58.89999999999998" fill="none" stroke="#222" stroke-width="1.2"/>
<line x1="240.1" y1="335.6" x2="243.1" y2="335.6" stroke="#222" stroke-width="0.8"/>
<text x="236.9" y="337.90000000000003" font-size="6.4" text-anchor="end" fill="#333" font-weight="normal" font-style="normal" stroke="#333" stroke-width="0.12" >0.2</text>
<line x1="240.1" y1="326.1" x2="243.1" y2="326.1" stroke="#222" stroke-width="0.8"/>
<line x1="240.1" y1="316.6" x2="243.1" y2="316.6" stroke="#222" stroke-width="0.8"/>
<text x="236.9" y="318.90000000000003" font-size="6.4" text-anchor="end" fill="#333" font-weight="normal" font-style="normal" stroke="#333" stroke-width="0.12" >0.3</text>
<line x1="240.1" y1="307.1" x2="243.1" y2="307.1" stroke="#222" stroke-width="0.8"/>
<line x1="240.1" y1="297.6" x2="243.1" y2="297.6" stroke="#222" stroke-width="0.8"/>
<text x="236.9" y="299.90000000000003" font-size="6.4" text-anchor="end" fill="#333" font-weight="normal" font-style="normal" stroke="#333" stroke-width="0.12" >0.4</text>
<line x1="240.1" y1="288.1" x2="243.1" y2="288.1" stroke="#222" stroke-width="0.8"/>
<line x1="240.1" y1="278.6" x2="243.1" y2="278.6" stroke="#222" stroke-width="0.8"/>
<text x="236.9" y="280.90000000000003" font-size="6.4" text-anchor="end" fill="#333" font-weight="normal" font-style="normal" stroke="#333" stroke-width="0.12" >0.5</text>
<line x1="243.1" y1="336.2" x2="243.1" y2="338.7" stroke="#222" stroke-width="0.8"/>
<line x1="306.6" y1="336.2" x2="306.6" y2="338.7" stroke="#222" stroke-width="0.8"/>
<line x1="370.1" y1="336.2" x2="370.1" y2="338.7" stroke="#222" stroke-width="0.8"/>
<text x="243.2" y="348" font-size="6.3" text-anchor="middle" fill="#333" font-weight="normal" font-style="normal" stroke="#333" stroke-width="0.12" >−5kb</text>
<text x="306.5" y="348" font-size="6.3" text-anchor="middle" fill="#333" font-weight="normal" font-style="normal" stroke="#333" stroke-width="0.12" >Center</text>
<text x="368.2" y="348" font-size="6.3" text-anchor="middle" fill="#333" font-weight="normal" font-style="normal" stroke="#333" stroke-width="0.12" >5kb</text>
<text transform="translate(223.3,307) rotate(-90)" font-size="6.2" text-anchor="middle" fill="#333" stroke="#333" stroke-width="0.1">Read density</text>
<line x1="347" y1="283.3" x2="354" y2="283.3" stroke="#6cc05c" stroke-width="0.9"/>
<line x1="347" y1="293" x2="354" y2="293" stroke="#4d3d5e" stroke-width="0.9"/>
<text x="357.8" y="285.7" font-size="6.4" text-anchor="start" fill="#333" font-weight="normal" font-style="normal" stroke="#333" stroke-width="0.12" >ctrl</text>
<text x="357.8" y="295.4" font-size="6.4" text-anchor="start" fill="#333" font-weight="normal" font-style="normal" stroke="#333" stroke-width="0.12" >KO</text>
<line x1="224.6" y1="374.5" x2="374.6" y2="374.5" stroke="#555" stroke-width="1"/>
<line x1="224.6" y1="389.8" x2="374.6" y2="389.8" stroke="#555" stroke-width="1"/>
<text x="266" y="385" font-size="8.2" text-anchor="middle" fill="#222" font-weight="normal" font-style="normal" textLength="20" lengthAdjust="spacingAndGlyphs">Motif</text>
<text x="326.2" y="385" font-size="8" text-anchor="middle" fill="#222" font-weight="normal" font-style="normal" >TF</text>
<text x="361.2" y="385" font-size="8" text-anchor="middle" fill="#222" stroke="#222" stroke-width="0.18"><tspan font-style="italic">P</tspan>-value</text>
<text transform="translate(225.20,397.92) scale(0.733,0.503)" font-size="10" font-weight="bold" fill="#3b35a6">C</text><text transform="translate(225.20,400.19) scale(0.680,0.302)" font-size="10" font-weight="bold" fill="#f0a728">G</text><text transform="translate(225.20,401.70) scale(0.733,0.201)" font-size="10" font-weight="bold" fill="#2f9a3a">A</text><text transform="translate(229.43,401.70) scale(0.733,1.070)" font-size="10" font-weight="bold" fill="#2f9a3a">A</text><text transform="translate(233.67,401.70) scale(0.733,1.070)" font-size="10" font-weight="bold" fill="#2f9a3a">A</text><text transform="translate(237.90,398.86) scale(0.680,0.629)" font-size="10" font-weight="bold" fill="#f0a728">G</text><text transform="translate(237.90,401.70) scale(0.733,0.378)" font-size="10" font-weight="bold" fill="#2f9a3a">A</text><text transform="translate(242.13,401.70) scale(0.733,1.070)" font-size="10" font-weight="bold" fill="#2f9a3a">A</text><text transform="translate(246.37,401.70) scale(0.866,1.070)" font-size="10" font-weight="bold" fill="#e13a2c">T</text><text transform="translate(250.60,401.70) scale(0.680,1.070)" font-size="10" font-weight="bold" fill="#f0a728">G</text><text transform="translate(254.83,401.70) scale(0.680,1.070)" font-size="10" font-weight="bold" fill="#f0a728">G</text><text transform="translate(259.07,401.70) scale(0.733,1.070)" font-size="10" font-weight="bold" fill="#3b35a6">C</text><text transform="translate(263.30,401.70) scale(0.680,1.070)" font-size="10" font-weight="bold" fill="#f0a728">G</text><text transform="translate(267.53,401.70) scale(0.680,1.070)" font-size="10" font-weight="bold" fill="#f0a728">G</text><text transform="translate(271.77,401.70) scale(0.733,1.070)" font-size="10" font-weight="bold" fill="#3b35a6">C</text>
<text x="315.6" y="401.5" font-size="6" text-anchor="start" fill="#2a2a2a" font-weight="normal" font-style="normal" stroke="#2a2a2a" stroke-width="0.12" >YY1</text>
<text x="361.5" y="401.5" font-size="6" text-anchor="middle" fill="#2a2a2a" font-weight="normal" font-style="normal" stroke="#2a2a2a" stroke-width="0.12" >1e-8</text>
<text transform="translate(225.20,408.72) scale(0.700,0.503)" font-size="10" font-weight="bold" fill="#f0a728">G</text><text transform="translate(225.20,410.99) scale(0.754,0.302)" font-size="10" font-weight="bold" fill="#3b35a6">C</text><text transform="translate(225.20,412.50) scale(0.754,0.201)" font-size="10" font-weight="bold" fill="#2f9a3a">A</text><text transform="translate(229.56,408.72) scale(0.700,0.503)" font-size="10" font-weight="bold" fill="#f0a728">G</text><text transform="translate(229.56,410.99) scale(0.754,0.302)" font-size="10" font-weight="bold" fill="#2f9a3a">A</text><text transform="translate(229.56,412.50) scale(0.754,0.201)" font-size="10" font-weight="bold" fill="#3b35a6">C</text><text transform="translate(233.92,408.72) scale(0.700,0.503)" font-size="10" font-weight="bold" fill="#f0a728">G</text><text transform="translate(233.92,410.99) scale(0.754,0.302)" font-size="10" font-weight="bold" fill="#3b35a6">C</text><text transform="translate(233.92,412.50) scale(0.892,0.201)" font-size="10" font-weight="bold" fill="#e13a2c">T</text><text transform="translate(238.27,412.50) scale(0.754,1.070)" font-size="10" font-weight="bold" fill="#3b35a6">C</text><text transform="translate(242.63,412.50) scale(0.892,1.070)" font-size="10" font-weight="bold" fill="#e13a2c">T</text><text transform="translate(246.99,408.72) scale(0.700,0.503)" font-size="10" font-weight="bold" fill="#f0a728">G</text><text transform="translate(246.99,410.99) scale(0.754,0.302)" font-size="10" font-weight="bold" fill="#2f9a3a">A</text><text transform="translate(246.99,412.50) scale(0.754,0.201)" font-size="10" font-weight="bold" fill="#3b35a6">C</text><text transform="translate(251.35,408.72) scale(0.700,0.503)" font-size="10" font-weight="bold" fill="#f0a728">G</text><text transform="translate(251.35,410.99) scale(0.754,0.302)" font-size="10" font-weight="bold" fill="#3b35a6">C</text><text transform="translate(251.35,412.50) scale(0.754,0.201)" font-size="10" font-weight="bold" fill="#2f9a3a">A</text><text transform="translate(255.71,408.72) scale(0.754,0.503)" font-size="10" font-weight="bold" fill="#2f9a3a">A</text><text transform="translate(255.71,410.99) scale(0.700,0.302)" font-size="10" font-weight="bold" fill="#f0a728">G</text><text transform="translate(255.71,412.50) scale(0.754,0.201)" font-size="10" font-weight="bold" fill="#3b35a6">C</text><text transform="translate(260.06,408.72) scale(0.700,0.503)" font-size="10" font-weight="bold" fill="#f0a728">G</text><text transform="translate(260.06,410.99) scale(0.754,0.302)" font-size="10" font-weight="bold" fill="#3b35a6">C</text><text transform="translate(260.06,412.50) scale(0.754,0.201)" font-size="10" font-weight="bold" fill="#2f9a3a">A</text><text transform="translate(264.42,408.72) scale(0.700,0.503)" font-size="10" font-weight="bold" fill="#f0a728">G</text><text transform="translate(264.42,410.99) scale(0.754,0.302)" font-size="10" font-weight="bold" fill="#2f9a3a">A</text><text transform="translate(264.42,412.50) scale(0.754,0.201)" font-size="10" font-weight="bold" fill="#3b35a6">C</text><text transform="translate(268.78,408.72) scale(0.700,0.503)" font-size="10" font-weight="bold" fill="#f0a728">G</text><text transform="translate(268.78,410.99) scale(0.754,0.302)" font-size="10" font-weight="bold" fill="#3b35a6">C</text><text transform="translate(268.78,412.50) scale(0.754,0.201)" font-size="10" font-weight="bold" fill="#2f9a3a">A</text><text transform="translate(273.14,408.72) scale(0.754,0.503)" font-size="10" font-weight="bold" fill="#2f9a3a">A</text><text transform="translate(273.14,410.99) scale(0.700,0.302)" font-size="10" font-weight="bold" fill="#f0a728">G</text><text transform="translate(273.14,412.50) scale(0.754,0.201)" font-size="10" font-weight="bold" fill="#3b35a6">C</text><text transform="translate(277.49,408.72) scale(0.700,0.503)" font-size="10" font-weight="bold" fill="#f0a728">G</text><text transform="translate(277.49,410.99) scale(0.754,0.302)" font-size="10" font-weight="bold" fill="#3b35a6">C</text><text transform="translate(277.49,412.50) scale(0.754,0.201)" font-size="10" font-weight="bold" fill="#2f9a3a">A</text><text transform="translate(281.85,412.50) scale(0.700,1.070)" font-size="10" font-weight="bold" fill="#f0a728">G</text><text transform="translate(286.21,412.50) scale(0.754,1.070)" font-size="10" font-weight="bold" fill="#2f9a3a">A</text><text transform="translate(290.57,412.50) scale(0.700,1.070)" font-size="10" font-weight="bold" fill="#f0a728">G</text><text transform="translate(294.93,412.50) scale(0.754,1.070)" font-size="10" font-weight="bold" fill="#2f9a3a">A</text><text transform="translate(299.28,412.50) scale(0.892,1.070)" font-size="10" font-weight="bold" fill="#e13a2c">T</text><text transform="translate(303.64,408.72) scale(0.754,0.503)" font-size="10" font-weight="bold" fill="#2f9a3a">A</text><text transform="translate(303.64,410.99) scale(0.700,0.302)" font-size="10" font-weight="bold" fill="#f0a728">G</text><text transform="translate(303.64,412.50) scale(0.754,0.201)" font-size="10" font-weight="bold" fill="#3b35a6">C</text>
<text x="315.6" y="412.3" font-size="6" text-anchor="start" fill="#2a2a2a" font-weight="normal" font-style="normal" stroke="#2a2a2a" stroke-width="0.12" >GATA:SCL</text>
<text x="361.5" y="412.3" font-size="6" text-anchor="middle" fill="#2a2a2a" font-weight="normal" font-style="normal" stroke="#2a2a2a" stroke-width="0.12" >1e-4</text>
<text transform="translate(225.20,419.52) scale(0.672,0.503)" font-size="10" font-weight="bold" fill="#f0a728">G</text><text transform="translate(225.20,421.79) scale(0.724,0.302)" font-size="10" font-weight="bold" fill="#2f9a3a">A</text><text transform="translate(225.20,423.30) scale(0.724,0.201)" font-size="10" font-weight="bold" fill="#3b35a6">C</text><text transform="translate(229.38,419.52) scale(0.672,0.503)" font-size="10" font-weight="bold" fill="#f0a728">G</text><text transform="translate(229.38,421.79) scale(0.724,0.302)" font-size="10" font-weight="bold" fill="#3b35a6">C</text><text transform="translate(229.38,423.30) scale(0.724,0.201)" font-size="10" font-weight="bold" fill="#2f9a3a">A</text><text transform="translate(233.56,420.46) scale(0.855,0.629)" font-size="10" font-weight="bold" fill="#e13a2c">T</text><text transform="translate(233.56,423.30) scale(0.724,0.378)" font-size="10" font-weight="bold" fill="#3b35a6">C</text><text transform="translate(237.74,423.30) scale(0.724,1.070)" font-size="10" font-weight="bold" fill="#3b35a6">C</text><text transform="translate(241.92,423.30) scale(0.724,1.070)" font-size="10" font-weight="bold" fill="#2f9a3a">A</text><text transform="translate(246.10,423.30) scale(0.724,1.070)" font-size="10" font-weight="bold" fill="#3b35a6">C</text><text transform="translate(250.28,423.30) scale(0.672,1.070)" font-size="10" font-weight="bold" fill="#f0a728">G</text><text transform="translate(254.46,423.30) scale(0.855,1.070)" font-size="10" font-weight="bold" fill="#e13a2c">T</text><text transform="translate(258.64,423.30) scale(0.672,1.070)" font-size="10" font-weight="bold" fill="#f0a728">G</text><text transform="translate(262.82,420.46) scale(0.672,0.629)" font-size="10" font-weight="bold" fill="#f0a728">G</text><text transform="translate(262.82,423.30) scale(0.724,0.378)" font-size="10" font-weight="bold" fill="#2f9a3a">A</text>
<text x="315.6" y="423.1" font-size="6" text-anchor="start" fill="#2a2a2a" font-weight="normal" font-style="normal" stroke="#2a2a2a" stroke-width="0.12" >USF1</text>
<text x="361.5" y="423.1" font-size="6" text-anchor="middle" fill="#2a2a2a" font-weight="normal" font-style="normal" stroke="#2a2a2a" stroke-width="0.12" >1e-4</text>
<text transform="translate(225.20,430.32) scale(0.657,0.503)" font-size="10" font-weight="bold" fill="#f0a728">G</text><text transform="translate(225.20,432.59) scale(0.708,0.302)" font-size="10" font-weight="bold" fill="#3b35a6">C</text><text transform="translate(225.20,434.10) scale(0.708,0.201)" font-size="10" font-weight="bold" fill="#2f9a3a">A</text><text transform="translate(229.29,430.32) scale(0.657,0.503)" font-size="10" font-weight="bold" fill="#f0a728">G</text><text transform="translate(229.29,432.59) scale(0.708,0.302)" font-size="10" font-weight="bold" fill="#2f9a3a">A</text><text transform="translate(229.29,434.10) scale(0.708,0.201)" font-size="10" font-weight="bold" fill="#3b35a6">C</text><text transform="translate(233.37,430.32) scale(0.657,0.503)" font-size="10" font-weight="bold" fill="#f0a728">G</text><text transform="translate(233.37,432.59) scale(0.708,0.302)" font-size="10" font-weight="bold" fill="#3b35a6">C</text><text transform="translate(233.37,434.10) scale(0.708,0.201)" font-size="10" font-weight="bold" fill="#2f9a3a">A</text><text transform="translate(237.46,430.32) scale(0.708,0.503)" font-size="10" font-weight="bold" fill="#2f9a3a">A</text><text transform="translate(237.46,432.59) scale(0.657,0.302)" font-size="10" font-weight="bold" fill="#f0a728">G</text><text transform="translate(237.46,434.10) scale(0.708,0.201)" font-size="10" font-weight="bold" fill="#3b35a6">C</text><text transform="translate(241.55,434.10) scale(0.836,1.070)" font-size="10" font-weight="bold" fill="#e13a2c">T</text><text transform="translate(245.63,434.10) scale(0.657,1.070)" font-size="10" font-weight="bold" fill="#f0a728">G</text><text transform="translate(249.72,434.10) scale(0.708,1.070)" font-size="10" font-weight="bold" fill="#3b35a6">C</text><text transform="translate(253.81,434.10) scale(0.836,1.070)" font-size="10" font-weight="bold" fill="#e13a2c">T</text><text transform="translate(257.89,434.10) scale(0.657,1.070)" font-size="10" font-weight="bold" fill="#f0a728">G</text><text transform="translate(261.98,434.10) scale(0.708,1.070)" font-size="10" font-weight="bold" fill="#2f9a3a">A</text><text transform="translate(266.07,434.10) scale(0.657,1.070)" font-size="10" font-weight="bold" fill="#f0a728">G</text><text transform="translate(270.15,434.10) scale(0.836,1.070)" font-size="10" font-weight="bold" fill="#e13a2c">T</text><text transform="translate(274.24,434.10) scale(0.708,1.070)" font-size="10" font-weight="bold" fill="#3b35a6">C</text><text transform="translate(278.33,434.10) scale(0.708,1.070)" font-size="10" font-weight="bold" fill="#2f9a3a">A</text><text transform="translate(282.41,431.26) scale(0.836,0.629)" font-size="10" font-weight="bold" fill="#e13a2c">T</text><text transform="translate(282.41,434.10) scale(0.708,0.378)" font-size="10" font-weight="bold" fill="#3b35a6">C</text>
<text x="315.6" y="433.9" font-size="6" text-anchor="start" fill="#2a2a2a" font-weight="normal" font-style="normal" stroke="#2a2a2a" stroke-width="0.12" >BACH1</text>
<text x="361.5" y="433.9" font-size="6" text-anchor="middle" fill="#2a2a2a" font-weight="normal" font-style="normal" stroke="#2a2a2a" stroke-width="0.12" >1e-4</text>
<text transform="translate(225.20,441.12) scale(0.660,0.503)" font-size="10" font-weight="bold" fill="#f0a728">G</text><text transform="translate(225.20,443.39) scale(0.711,0.302)" font-size="10" font-weight="bold" fill="#2f9a3a">A</text><text transform="translate(225.20,444.90) scale(0.711,0.201)" font-size="10" font-weight="bold" fill="#3b35a6">C</text><text transform="translate(229.31,444.90) scale(0.711,1.070)" font-size="10" font-weight="bold" fill="#2f9a3a">A</text><text transform="translate(233.42,444.90) scale(0.840,1.070)" font-size="10" font-weight="bold" fill="#e13a2c">T</text><text transform="translate(237.52,444.90) scale(0.660,1.070)" font-size="10" font-weight="bold" fill="#f0a728">G</text><text transform="translate(241.63,444.90) scale(0.711,1.070)" font-size="10" font-weight="bold" fill="#2f9a3a">A</text><text transform="translate(245.74,444.90) scale(0.711,1.070)" font-size="10" font-weight="bold" fill="#3b35a6">C</text><text transform="translate(249.85,444.90) scale(0.840,1.070)" font-size="10" font-weight="bold" fill="#e13a2c">T</text><text transform="translate(253.96,444.90) scale(0.711,1.070)" font-size="10" font-weight="bold" fill="#3b35a6">C</text><text transform="translate(258.07,444.90) scale(0.711,1.070)" font-size="10" font-weight="bold" fill="#2f9a3a">A</text><text transform="translate(262.18,442.06) scale(0.660,0.629)" font-size="10" font-weight="bold" fill="#f0a728">G</text><text transform="translate(262.18,444.90) scale(0.711,0.378)" font-size="10" font-weight="bold" fill="#2f9a3a">A</text><text transform="translate(266.28,444.90) scale(0.711,1.070)" font-size="10" font-weight="bold" fill="#3b35a6">C</text><text transform="translate(270.39,444.90) scale(0.711,1.070)" font-size="10" font-weight="bold" fill="#2f9a3a">A</text>
<text x="315.6" y="444.7" font-size="6" text-anchor="start" fill="#2a2a2a" font-weight="normal" font-style="normal" stroke="#2a2a2a" stroke-width="0.12" >NF-E2</text>
<text x="361.5" y="444.7" font-size="6" text-anchor="middle" fill="#2a2a2a" font-weight="normal" font-style="normal" stroke="#2a2a2a" stroke-width="0.12" >1e-3</text>
<text transform="translate(225.20,451.92) scale(0.695,0.503)" font-size="10" font-weight="bold" fill="#f0a728">G</text><text transform="translate(225.20,454.19) scale(0.749,0.302)" font-size="10" font-weight="bold" fill="#3b35a6">C</text><text transform="translate(225.20,455.70) scale(0.749,0.201)" font-size="10" font-weight="bold" fill="#2f9a3a">A</text><text transform="translate(229.52,452.86) scale(0.695,0.629)" font-size="10" font-weight="bold" fill="#f0a728">G</text><text transform="translate(229.52,455.70) scale(0.749,0.378)" font-size="10" font-weight="bold" fill="#3b35a6">C</text><text transform="translate(233.85,455.70) scale(0.749,1.070)" font-size="10" font-weight="bold" fill="#3b35a6">C</text><text transform="translate(238.18,452.86) scale(0.749,0.629)" font-size="10" font-weight="bold" fill="#2f9a3a">A</text><text transform="translate(238.18,455.70) scale(0.695,0.378)" font-size="10" font-weight="bold" fill="#f0a728">G</text><text transform="translate(242.50,455.70) scale(0.695,1.070)" font-size="10" font-weight="bold" fill="#f0a728">G</text><text transform="translate(246.82,455.70) scale(0.885,1.070)" font-size="10" font-weight="bold" fill="#e13a2c">T</text><text transform="translate(251.15,455.70) scale(0.885,1.070)" font-size="10" font-weight="bold" fill="#e13a2c">T</text><text transform="translate(255.48,452.86) scale(0.695,0.629)" font-size="10" font-weight="bold" fill="#f0a728">G</text><text transform="translate(255.48,455.70) scale(0.749,0.378)" font-size="10" font-weight="bold" fill="#2f9a3a">A</text>
<text x="315.6" y="455.5" font-size="6" text-anchor="start" fill="#2a2a2a" font-weight="normal" font-style="normal" stroke="#2a2a2a" stroke-width="0.12" >MYB</text>
<text x="361.5" y="455.5" font-size="6" text-anchor="middle" fill="#2a2a2a" font-weight="normal" font-style="normal" stroke="#2a2a2a" stroke-width="0.12" >1e-2</text>
<text transform="translate(225.20,462.72) scale(0.718,0.503)" font-size="10" font-weight="bold" fill="#3b35a6">C</text><text transform="translate(225.20,464.99) scale(0.718,0.302)" font-size="10" font-weight="bold" fill="#2f9a3a">A</text><text transform="translate(225.20,466.50) scale(0.667,0.201)" font-size="10" font-weight="bold" fill="#f0a728">G</text><text transform="translate(229.35,466.50) scale(0.718,1.070)" font-size="10" font-weight="bold" fill="#2f9a3a">A</text><text transform="translate(233.50,466.50) scale(0.667,1.070)" font-size="10" font-weight="bold" fill="#f0a728">G</text><text transform="translate(237.65,466.50) scale(0.718,1.070)" font-size="10" font-weight="bold" fill="#2f9a3a">A</text><text transform="translate(241.80,466.50) scale(0.849,1.070)" font-size="10" font-weight="bold" fill="#e13a2c">T</text><text transform="translate(245.95,466.50) scale(0.718,1.070)" font-size="10" font-weight="bold" fill="#2f9a3a">A</text><text transform="translate(250.10,466.50) scale(0.718,1.070)" font-size="10" font-weight="bold" fill="#2f9a3a">A</text><text transform="translate(254.25,463.66) scale(0.667,0.629)" font-size="10" font-weight="bold" fill="#f0a728">G</text><text transform="translate(254.25,466.50) scale(0.718,0.378)" font-size="10" font-weight="bold" fill="#3b35a6">C</text><text transform="translate(258.40,462.72) scale(0.667,0.503)" font-size="10" font-weight="bold" fill="#f0a728">G</text><text transform="translate(258.40,464.99) scale(0.718,0.302)" font-size="10" font-weight="bold" fill="#3b35a6">C</text><text transform="translate(258.40,466.50) scale(0.718,0.201)" font-size="10" font-weight="bold" fill="#2f9a3a">A</text><text transform="translate(262.55,463.66) scale(0.718,0.629)" font-size="10" font-weight="bold" fill="#3b35a6">C</text><text transform="translate(262.55,466.50) scale(0.667,0.378)" font-size="10" font-weight="bold" fill="#f0a728">G</text>
<text x="315.6" y="466.3" font-size="6" text-anchor="start" fill="#2a2a2a" font-weight="normal" font-style="normal" stroke="#2a2a2a" stroke-width="0.12" >GATA1</text>
<text x="361.5" y="466.3" font-size="6" text-anchor="middle" fill="#2a2a2a" font-weight="normal" font-style="normal" stroke="#2a2a2a" stroke-width="0.12" >1e-2</text>
<text transform="translate(225.20,473.52) scale(0.758,0.503)" font-size="10" font-weight="bold" fill="#2f9a3a">A</text><text transform="translate(225.20,475.79) scale(0.704,0.302)" font-size="10" font-weight="bold" fill="#f0a728">G</text><text transform="translate(225.20,477.30) scale(0.758,0.201)" font-size="10" font-weight="bold" fill="#3b35a6">C</text><text transform="translate(229.58,473.52) scale(0.704,0.503)" font-size="10" font-weight="bold" fill="#f0a728">G</text><text transform="translate(229.58,475.79) scale(0.758,0.302)" font-size="10" font-weight="bold" fill="#3b35a6">C</text><text transform="translate(229.58,477.30) scale(0.896,0.201)" font-size="10" font-weight="bold" fill="#e13a2c">T</text><text transform="translate(233.96,477.30) scale(0.758,1.070)" font-size="10" font-weight="bold" fill="#3b35a6">C</text><text transform="translate(238.34,477.30) scale(0.896,1.070)" font-size="10" font-weight="bold" fill="#e13a2c">T</text><text transform="translate(242.72,477.30) scale(0.896,1.070)" font-size="10" font-weight="bold" fill="#e13a2c">T</text><text transform="translate(247.10,477.30) scale(0.758,1.070)" font-size="10" font-weight="bold" fill="#2f9a3a">A</text><text transform="translate(251.48,477.30) scale(0.896,1.070)" font-size="10" font-weight="bold" fill="#e13a2c">T</text><text transform="translate(255.86,477.30) scale(0.758,1.070)" font-size="10" font-weight="bold" fill="#3b35a6">C</text><text transform="translate(260.24,477.30) scale(0.896,1.070)" font-size="10" font-weight="bold" fill="#e13a2c">T</text><text transform="translate(264.62,473.52) scale(0.704,0.503)" font-size="10" font-weight="bold" fill="#f0a728">G</text><text transform="translate(264.62,475.79) scale(0.758,0.302)" font-size="10" font-weight="bold" fill="#3b35a6">C</text><text transform="translate(264.62,477.30) scale(0.758,0.201)" font-size="10" font-weight="bold" fill="#2f9a3a">A</text>
<text x="315.6" y="477.1" font-size="6" text-anchor="start" fill="#2a2a2a" font-weight="normal" font-style="normal" stroke="#2a2a2a" stroke-width="0.12" >GATA2</text>
<text x="361.5" y="477.1" font-size="6" text-anchor="middle" fill="#2a2a2a" font-weight="normal" font-style="normal" stroke="#2a2a2a" stroke-width="0.12" >1e-2</text>
<text x="436.5" y="191.5" font-size="5.8" text-anchor="middle" fill="#333" font-weight="normal" font-style="normal" stroke="#333" stroke-width="0.12" >YY1_K562</text>
<text x="491" y="191.5" font-size="5.8" text-anchor="middle" fill="#333" font-weight="normal" font-style="normal" stroke="#333" stroke-width="0.12" >LDB1_HUDEP2</text>
<polygon points="418.0,227.1 425.4,226.7 429.1,225.8 432.1,224.1 434.0,219.6 435.4,213.2 436.6,211.1 437.7,213.8 439.1,220.2 441.0,224.1 444.0,225.8 447.7,226.7 455.1,227.1 455.1,228.2 418,228.2" fill="#eef8f1" opacity="0.6"/><polyline points="418.0,227.1 425.4,226.8 429.1,226.1 432.1,223.9 434.0,217.5 435.4,204.7 436.6,199.3 437.7,204.7 439.1,217.5 441.0,223.9 444.0,226.1 447.7,226.8 455.1,227.1" fill="none" stroke="#5b6b8f" stroke-width="1"/><polyline points="418.0,227.1 425.4,226.7 429.1,225.8 432.1,224.1 434.0,219.6 435.4,213.2 436.6,211.1 437.7,213.8 439.1,220.2 441.0,224.1 444.0,225.8 447.7,226.7 455.1,227.1" fill="none" stroke="#5cb870" stroke-width="1.1"/><rect x="418" y="196.1" width="37.10000000000002" height="32.099999999999994" fill="none" stroke="#111" stroke-width="1.2"/><line x1="415" y1="196.1" x2="418" y2="196.1" stroke="#111" stroke-width="0.8"/><text x="412.2" y="198.4" font-size="6.4" text-anchor="end" fill="#333" font-weight="normal" font-style="normal" stroke="#333" stroke-width="0.12" >30</text><line x1="415" y1="206.8" x2="418" y2="206.8" stroke="#111" stroke-width="0.8"/><text x="412.2" y="209.1" font-size="6.4" text-anchor="end" fill="#333" font-weight="normal" font-style="normal" stroke="#333" stroke-width="0.12" >20</text><line x1="415" y1="217.5" x2="418" y2="217.5" stroke="#111" stroke-width="0.8"/><text x="412.2" y="219.8" font-size="6.4" text-anchor="end" fill="#333" font-weight="normal" font-style="normal" stroke="#333" stroke-width="0.12" >10</text><line x1="418.0" y1="228.2" x2="418.0" y2="230.7" stroke="#111" stroke-width="0.8"/><line x1="436.6" y1="228.2" x2="436.6" y2="230.7" stroke="#111" stroke-width="0.8"/><line x1="455.1" y1="228.2" x2="455.1" y2="230.7" stroke="#111" stroke-width="0.8"/><text x="418" y="238.2" font-size="5.9" text-anchor="middle" fill="#333" font-weight="normal" font-style="normal" stroke="#333" stroke-width="0.12" >−5kb</text><text x="436.55" y="238.2" font-size="5.9" text-anchor="middle" fill="#333" font-weight="normal" font-style="normal" stroke="#333" stroke-width="0.12" >0</text><text x="455.1" y="238.2" font-size="5.9" text-anchor="middle" fill="#333" font-weight="normal" font-style="normal" stroke="#333" stroke-width="0.12" >5kb</text>
<polygon points="472.3,221.9 474.5,221.1 476.0,221.9 477.1,219.0 478.3,221.5 481.6,221.5 484.2,219.8 486.4,216.6 488.3,212.6 489.8,210.2 492.4,210.2 493.9,212.6 495.7,216.6 498.0,219.8 500.6,221.5 509.5,221.9 509.5,228.3 472.3,228.3" fill="#eef8f1" opacity="0.6"/><polyline points="472.3,220.7 479.7,220.7 481.6,220.2 483.5,218.6 485.7,214.6 487.6,209.8 488.7,206.2 489.4,205.2 492.8,205.2 493.5,206.2 494.6,209.8 496.5,214.6 498.7,218.6 500.6,220.2 503.9,220.7 509.5,221.1" fill="none" stroke="#5b6b8f" stroke-width="1"/><polyline points="472.3,221.9 474.5,221.1 476.0,221.9 477.1,219.0 478.3,221.5 481.6,221.5 484.2,219.8 486.4,216.6 488.3,212.6 489.8,210.2 492.4,210.2 493.9,212.6 495.7,216.6 498.0,219.8 500.6,221.5 509.5,221.9" fill="none" stroke="#5cb870" stroke-width="1.1"/><rect x="472.3" y="196.1" width="37.19999999999999" height="32.20000000000002" fill="none" stroke="#111" stroke-width="1.2"/><line x1="469.3" y1="196.1" x2="472.3" y2="196.1" stroke="#111" stroke-width="0.8"/><text x="466.5" y="198.4" font-size="6.4" text-anchor="end" fill="#333" font-weight="normal" font-style="normal" stroke="#333" stroke-width="0.12" >8</text><line x1="469.3" y1="204.2" x2="472.3" y2="204.2" stroke="#111" stroke-width="0.8"/><text x="466.5" y="206.45000000000002" font-size="6.4" text-anchor="end" fill="#333" font-weight="normal" font-style="normal" stroke="#333" stroke-width="0.12" >6</text><line x1="469.3" y1="212.2" x2="472.3" y2="212.2" stroke="#111" stroke-width="0.8"/><text x="466.5" y="214.5" font-size="6.4" text-anchor="end" fill="#333" font-weight="normal" font-style="normal" stroke="#333" stroke-width="0.12" >4</text><line x1="469.3" y1="220.2" x2="472.3" y2="220.2" stroke="#111" stroke-width="0.8"/><text x="466.5" y="222.55" font-size="6.4" text-anchor="end" fill="#333" font-weight="normal" font-style="normal" stroke="#333" stroke-width="0.12" >2</text><line x1="472.3" y1="228.3" x2="472.3" y2="230.8" stroke="#111" stroke-width="0.8"/><line x1="490.9" y1="228.3" x2="490.9" y2="230.8" stroke="#111" stroke-width="0.8"/><line x1="509.5" y1="228.3" x2="509.5" y2="230.8" stroke="#111" stroke-width="0.8"/><text x="472.3" y="238.3" font-size="5.9" text-anchor="middle" fill="#333" font-weight="normal" font-style="normal" stroke="#333" stroke-width="0.12" >−5kb</text><text x="490.9" y="238.3" font-size="5.9" text-anchor="middle" fill="#333" font-weight="normal" font-style="normal" stroke="#333" stroke-width="0.12" >0</text><text x="509.5" y="238.3" font-size="5.9" text-anchor="middle" fill="#333" font-weight="normal" font-style="normal" stroke="#333" stroke-width="0.12" >5kb</text>
<rect x="417.3" y="241.2" width="38.69999999999999" height="221.60000000000002" fill="#fff"/><path d="M417.3 241.2h38.7v1.1h-38.7zM417.3 245.2h38.7v1.1h-38.7zM417.3 246.2h38.7v1.1h-38.7zM417.3 248.2h38.7v1.1h-38.7zM417.3 252.2h38.7v1.1h-38.7zM417.3 253.2h38.7v1.1h-38.7zM417.3 254.2h38.7v1.1h-38.7zM417.3 255.2h38.7v1.1h-38.7zM417.3 257.2h38.7v1.1h-38.7zM417.3 258.2h38.7v1.1h-38.7zM417.3 259.2h38.7v1.1h-38.7zM417.3 262.2h38.7v1.1h-38.7zM417.3 268.2h38.7v1.1h-38.7zM417.3 269.2h38.7v1.1h-38.7zM417.3 274.2h38.7v1.1h-38.7zM417.3 280.2h38.7v1.1h-38.7zM417.3 289.2h38.7v1.1h-38.7zM417.3 291.2h38.7v1.1h-38.7zM417.3 293.2h38.7v1.1h-38.7zM417.3 303.2h38.7v1.1h-38.7zM417.3 314.2h38.7v1.1h-38.7zM417.3 316.2h38.7v1.1h-38.7zM417.3 322.2h38.7v1.1h-38.7zM417.3 323.2h38.7v1.1h-38.7zM417.3 324.2h38.7v1.1h-38.7zM417.3 330.2h38.7v1.1h-38.7zM417.3 331.2h38.7v1.1h-38.7zM417.3 332.2h38.7v1.1h-38.7zM417.3 334.2h38.7v1.1h-38.7zM417.3 338.2h38.7v1.1h-38.7zM417.3 342.2h38.7v1.1h-38.7zM417.3 343.2h38.7v1.1h-38.7zM417.3 347.2h38.7v1.1h-38.7zM417.3 348.2h38.7v1.1h-38.7zM417.3 350.2h38.7v1.1h-38.7zM417.3 357.2h38.7v1.1h-38.7zM417.3 359.2h38.7v1.1h-38.7zM417.3 361.2h38.7v1.1h-38.7zM417.3 362.2h38.7v1.1h-38.7zM417.3 370.2h38.7v1.1h-38.7zM417.3 382.2h38.7v1.1h-38.7z" fill="#e6402e" fill-opacity="0.12"/><path d="M421.6 241.2h12.0v0.9h-12.0zM441.5 254.2h4.6v0.9h-4.6zM420.5 263.2h11.2v0.9h-11.2zM417.6 269.2h12.6v0.9h-12.6zM421.3 277.2h5.4v0.9h-5.4zM443.7 280.2h4.4v0.9h-4.4zM434.6 282.2h10.1v0.9h-10.1zM433.3 284.2h12.3v0.9h-12.3zM418.2 287.2h5.4v0.9h-5.4zM441.4 290.2h10.4v0.9h-10.4zM420.0 296.2h12.5v0.9h-12.5zM418.0 298.2h8.9v0.9h-8.9zM434.2 299.2h11.4v0.9h-11.4zM441.9 301.2h5.1v0.9h-5.1zM422.4 305.2h5.9v0.9h-5.9zM420.2 307.2h4.5v0.9h-4.5zM439.9 314.2h7.1v0.9h-7.1zM433.3 315.2h6.0v0.9h-6.0zM435.5 319.2h8.3v0.9h-8.3zM421.1 321.2h3.5v0.9h-3.5zM446.9 322.2h5.6v0.9h-5.6zM420.8 324.2h3.9v0.9h-3.9zM418.9 327.2h13.3v0.9h-13.3zM419.8 329.2h5.3v0.9h-5.3zM439.9 330.2h10.7v0.9h-10.7zM417.9 334.2h13.1v0.9h-13.1zM435.1 340.2h9.5v0.9h-9.5zM419.6 342.2h13.4v0.9h-13.4zM428.2 345.2h5.2v0.9h-5.2zM432.6 349.2h3.9v0.9h-3.9zM439.1 358.2h12.1v0.9h-12.1zM420.0 358.2h4.2v0.9h-4.2zM444.1 359.2h4.8v0.9h-4.8zM418.2 360.2h6.8v0.9h-6.8zM444.5 369.2h8.7v0.9h-8.7zM429.3 369.2h7.5v0.9h-7.5zM429.4 371.2h4.9v0.9h-4.9zM432.6 382.2h6.2v0.9h-6.2zM432.5 390.2h5.4v0.9h-5.4zM425.7 394.2h2.9v0.9h-2.9zM431.5 398.2h3.9v0.9h-3.9zM445.7 399.2h4.0v0.9h-4.0zM435.7 402.2h7.8v0.9h-7.8zM426.8 411.2h10.4v0.9h-10.4zM429.8 412.2h7.5v0.9h-7.5zM439.4 414.2h4.4v0.9h-4.4zM421.0 416.2h4.8v0.9h-4.8zM432.3 421.2h4.3v0.9h-4.3zM446.9 422.2h6.6v0.9h-6.6zM447.6 422.2h8.4v0.9h-8.4zM436.2 423.2h12.1v0.9h-12.1zM417.3 431.2h10.9v0.9h-10.9z" fill="#dc3a2e" fill-opacity="0.08"/><path d="M429.0 241.2h13.0v1.1h-13.0zM430.3 242.2h13.0v1.1h-13.0zM429.3 246.2h12.8v1.1h-12.8zM430.6 251.2h12.6v1.1h-12.6zM430.4 253.2h12.5v1.1h-12.5zM429.3 255.2h12.4v1.1h-12.4zM429.4 258.2h12.3v1.1h-12.3zM430.9 260.2h12.2v1.1h-12.2zM430.0 261.2h12.2v1.1h-12.2zM431.0 263.2h12.1v1.1h-12.1zM429.9 274.2h11.7v1.1h-11.7zM430.7 275.2h11.6v1.1h-11.6zM430.9 276.2h11.6v1.1h-11.6zM430.5 277.2h11.5v1.1h-11.5zM431.2 278.2h11.5v1.1h-11.5zM430.1 279.2h11.4v1.1h-11.4zM430.0 281.2h11.4v1.1h-11.4zM431.1 282.2h11.3v1.1h-11.3zM431.6 286.2h11.2v1.1h-11.2zM431.4 293.2h10.9v1.1h-10.9zM436.0 392.2h3.4v1.1h-3.4zM437.0 401.2h3.2v1.1h-3.2zM435.7 405.2h3.2v1.1h-3.2zM435.3 409.2h3.1v1.1h-3.1zM436.9 411.2h3.0v1.1h-3.0zM435.2 413.2h3.0v1.1h-3.0zM436.8 414.2h3.0v1.1h-3.0z" fill="#e4251f" fill-opacity="0.28"/><path d="M431.8 241.2h6.5v1.1h-6.5zM434.0 242.2h6.5v1.1h-6.5zM432.0 258.2h6.2v1.1h-6.2zM432.4 281.2h5.7v1.1h-5.7zM434.4 293.2h5.4v1.1h-5.4z" fill="#e4251f" fill-opacity="0.88"/><path d="M417.3 242.2h38.7v1.1h-38.7zM417.3 243.2h38.7v1.1h-38.7zM417.3 250.2h38.7v1.1h-38.7zM417.3 260.2h38.7v1.1h-38.7zM417.3 270.2h38.7v1.1h-38.7zM417.3 273.2h38.7v1.1h-38.7zM417.3 279.2h38.7v1.1h-38.7zM417.3 284.2h38.7v1.1h-38.7zM417.3 287.2h38.7v1.1h-38.7zM417.3 288.2h38.7v1.1h-38.7zM417.3 294.2h38.7v1.1h-38.7zM417.3 295.2h38.7v1.1h-38.7zM417.3 299.2h38.7v1.1h-38.7zM417.3 305.2h38.7v1.1h-38.7zM417.3 309.2h38.7v1.1h-38.7zM417.3 317.2h38.7v1.1h-38.7zM417.3 318.2h38.7v1.1h-38.7zM417.3 321.2h38.7v1.1h-38.7zM417.3 336.2h38.7v1.1h-38.7z" fill="#e6402e" fill-opacity="0.14"/><path d="M429.0 242.2h10.1v0.9h-10.1zM424.7 242.2h3.3v0.9h-3.3zM442.0 249.2h5.8v0.9h-5.8zM441.5 250.2h11.3v0.9h-11.3zM419.4 259.2h4.2v0.9h-4.2zM419.3 259.2h6.1v0.9h-6.1zM423.8 265.2h5.2v0.9h-5.2zM417.9 268.2h8.4v0.9h-8.4zM429.2 270.2h4.1v0.9h-4.1zM421.5 273.2h4.4v0.9h-4.4zM433.7 276.2h12.8v0.9h-12.8zM422.7 278.2h3.7v0.9h-3.7zM438.0 278.2h8.0v0.9h-8.0zM423.4 280.2h2.7v0.9h-2.7zM437.4 286.2h11.2v0.9h-11.2zM435.2 287.2h4.3v0.9h-4.3zM444.6 288.2h8.1v0.9h-8.1zM439.4 302.2h10.0v0.9h-10.0zM432.2 305.2h11.8v0.9h-11.8zM435.2 309.2h6.9v0.9h-6.9zM440.3 311.2h5.9v0.9h-5.9zM418.7 313.2h2.6v0.9h-2.6zM428.4 316.2h8.4v0.9h-8.4zM433.2 325.2h8.5v0.9h-8.5zM443.3 329.2h5.6v0.9h-5.6zM444.7 335.2h10.7v0.9h-10.7zM444.7 339.2h10.4v0.9h-10.4zM439.1 340.2h12.1v0.9h-12.1zM424.9 342.2h6.3v0.9h-6.3zM442.9 343.2h7.8v0.9h-7.8zM443.7 348.2h8.9v0.9h-8.9zM430.4 362.2h12.4v0.9h-12.4zM439.9 367.2h12.6v0.9h-12.6zM448.1 377.2h5.9v0.9h-5.9zM440.5 391.2h8.5v0.9h-8.5z" fill="#dc3a2e" fill-opacity="0.14"/><path d="M440.4 243.2h3.2v0.9h-3.2zM419.2 252.2h4.4v0.9h-4.4zM436.0 265.2h7.7v0.9h-7.7zM427.5 272.2h10.6v0.9h-10.6zM429.0 279.2h13.1v0.9h-13.1zM436.3 280.2h13.0v0.9h-13.0zM417.9 286.2h7.0v0.9h-7.0zM438.4 289.2h10.9v0.9h-10.9zM417.5 292.2h12.1v0.9h-12.1zM419.9 299.2h6.2v0.9h-6.2zM432.1 303.2h5.0v0.9h-5.0zM419.9 305.2h2.1v0.9h-2.1zM440.0 310.2h9.9v0.9h-9.9zM439.9 310.2h7.2v0.9h-7.2zM448.2 310.2h7.1v0.9h-7.1zM446.3 313.2h9.7v0.9h-9.7zM419.0 315.2h6.7v0.9h-6.7zM436.0 327.2h4.5v0.9h-4.5zM419.0 328.2h4.7v0.9h-4.7zM448.0 343.2h8.0v0.9h-8.0zM440.6 346.2h10.7v0.9h-10.7zM436.9 348.2h8.9v0.9h-8.9zM446.2 351.2h7.2v0.9h-7.2zM430.3 353.2h12.6v0.9h-12.6zM430.0 355.2h5.5v0.9h-5.5zM424.7 356.2h6.8v0.9h-6.8zM435.0 359.2h2.4v0.9h-2.4zM448.2 365.2h6.2v0.9h-6.2zM420.4 365.2h6.8v0.9h-6.8zM441.4 366.2h13.0v0.9h-13.0zM448.1 368.2h4.7v0.9h-4.7zM440.9 370.2h7.0v0.9h-7.0zM445.0 372.2h9.8v0.9h-9.8zM420.1 380.2h10.0v0.9h-10.0zM437.9 381.2h12.8v0.9h-12.8zM425.8 382.2h11.5v0.9h-11.5zM446.1 386.2h9.9v0.9h-9.9zM447.3 387.2h8.7v0.9h-8.7zM446.7 389.2h9.3v0.9h-9.3zM426.8 391.2h2.8v0.9h-2.8zM445.2 393.2h10.8v0.9h-10.8zM444.9 396.2h11.1v0.9h-11.1zM427.4 398.2h4.4v0.9h-4.4zM433.6 400.2h4.7v0.9h-4.7zM429.1 401.2h10.0v0.9h-10.0zM434.6 408.2h2.6v0.9h-2.6zM421.5 410.2h5.7v0.9h-5.7zM435.3 411.2h12.5v0.9h-12.5zM427.9 415.2h5.6v0.9h-5.6zM440.1 419.2h10.2v0.9h-10.2zM446.8 421.2h4.9v0.9h-4.9zM432.2 422.2h11.0v0.9h-11.0z" fill="#dc3a2e" fill-opacity="0.12"/><path d="M429.6 243.2h12.9v1.1h-12.9zM429.0 245.2h12.8v1.1h-12.8zM430.1 249.2h12.7v1.1h-12.7zM429.7 252.2h12.6v1.1h-12.6zM430.7 256.2h12.4v1.1h-12.4zM430.2 259.2h12.3v1.1h-12.3zM431.0 264.2h12.1v1.1h-12.1zM430.7 267.2h11.9v1.1h-11.9zM430.1 273.2h11.7v1.1h-11.7zM430.7 280.2h11.4v1.1h-11.4zM430.5 285.2h11.2v1.1h-11.2zM430.8 287.2h11.1v1.1h-11.1zM431.1 295.2h10.8v1.1h-10.8zM431.7 296.2h10.8v1.1h-10.8zM431.1 310.2h10.2v1.1h-10.2zM432.0 320.2h9.8v1.1h-9.8zM432.1 325.2h9.6v1.1h-9.6zM431.4 326.2h9.5v1.1h-9.5zM432.5 327.2h9.5v1.1h-9.5zM431.7 330.2h9.4v1.1h-9.4zM431.7 332.2h9.3v1.1h-9.3zM432.5 337.2h9.1v1.1h-9.1zM435.4 416.2h2.9v1.1h-2.9z" fill="#e4251f" fill-opacity="0.22"/><path d="M432.7 243.2h6.5v1.1h-6.5zM431.7 245.2h6.4v1.1h-6.4zM433.4 249.2h6.3v1.1h-6.3zM432.7 252.2h6.3v1.1h-6.3zM434.0 267.2h6.0v1.1h-6.0zM432.7 273.2h5.8v1.1h-5.8zM433.0 285.2h5.6v1.1h-5.6zM434.5 325.2h4.8v1.1h-4.8zM433.4 326.2h4.8v1.1h-4.8zM433.7 330.2h4.7v1.1h-4.7zM433.7 332.2h4.6v1.1h-4.6z" fill="#e4251f" fill-opacity="0.72"/><path d="M417.3 244.2h38.7v1.1h-38.7zM417.3 251.2h38.7v1.1h-38.7zM417.3 265.2h38.7v1.1h-38.7zM417.3 266.2h38.7v1.1h-38.7zM417.3 267.2h38.7v1.1h-38.7zM417.3 275.2h38.7v1.1h-38.7zM417.3 278.2h38.7v1.1h-38.7zM417.3 281.2h38.7v1.1h-38.7zM417.3 286.2h38.7v1.1h-38.7zM417.3 297.2h38.7v1.1h-38.7zM417.3 300.2h38.7v1.1h-38.7zM417.3 311.2h38.7v1.1h-38.7zM417.3 319.2h38.7v1.1h-38.7zM417.3 320.2h38.7v1.1h-38.7zM417.3 325.2h38.7v1.1h-38.7zM417.3 328.2h38.7v1.1h-38.7zM417.3 329.2h38.7v1.1h-38.7zM417.3 333.2h38.7v1.1h-38.7zM417.3 337.2h38.7v1.1h-38.7zM417.3 339.2h38.7v1.1h-38.7zM417.3 341.2h38.7v1.1h-38.7zM417.3 344.2h38.7v1.1h-38.7zM417.3 349.2h38.7v1.1h-38.7zM417.3 352.2h38.7v1.1h-38.7zM417.3 354.2h38.7v1.1h-38.7zM417.3 355.2h38.7v1.1h-38.7zM417.3 356.2h38.7v1.1h-38.7zM417.3 358.2h38.7v1.1h-38.7zM417.3 365.2h38.7v1.1h-38.7zM417.3 366.2h38.7v1.1h-38.7zM417.3 374.2h38.7v1.1h-38.7zM417.3 375.2h38.7v1.1h-38.7zM417.3 378.2h38.7v1.1h-38.7zM417.3 383.2h38.7v1.1h-38.7zM417.3 384.2h38.7v1.1h-38.7zM417.3 385.2h38.7v1.1h-38.7zM417.3 387.2h38.7v1.1h-38.7zM417.3 397.2h38.7v1.1h-38.7zM417.3 403.2h38.7v1.1h-38.7zM417.3 407.2h38.7v1.1h-38.7zM417.3 409.2h38.7v1.1h-38.7zM417.3 411.2h38.7v1.1h-38.7zM417.3 413.2h38.7v1.1h-38.7zM417.3 427.2h38.7v1.1h-38.7zM417.3 431.2h38.7v1.1h-38.7z" fill="#e6402e" fill-opacity="0.1"/><path d="M426.0 244.2h11.3v0.9h-11.3zM430.4 245.2h12.5v0.9h-12.5zM435.2 245.2h12.3v0.9h-12.3zM429.6 246.2h9.4v0.9h-9.4zM434.5 247.2h9.0v0.9h-9.0zM448.1 247.2h7.9v0.9h-7.9zM431.0 249.2h5.7v0.9h-5.7zM440.1 250.2h6.9v0.9h-6.9zM418.9 251.2h13.3v0.9h-13.3zM418.8 254.2h8.1v0.9h-8.1zM439.7 257.2h10.3v0.9h-10.3zM424.5 261.2h11.0v0.9h-11.0zM437.0 262.2h4.7v0.9h-4.7zM443.7 263.2h9.0v0.9h-9.0zM429.8 266.2h5.8v0.9h-5.8zM439.3 266.2h9.6v0.9h-9.6zM443.1 268.2h7.9v0.9h-7.9zM438.7 270.2h6.1v0.9h-6.1zM443.7 277.2h8.7v0.9h-8.7zM440.4 288.2h12.3v0.9h-12.3zM432.1 293.2h12.2v0.9h-12.2zM441.2 295.2h12.0v0.9h-12.0zM441.6 308.2h8.3v0.9h-8.3zM442.8 311.2h2.8v0.9h-2.8zM446.6 312.2h9.4v0.9h-9.4zM425.5 314.2h4.7v0.9h-4.7zM423.1 317.2h3.4v0.9h-3.4zM429.3 317.2h9.3v0.9h-9.3zM426.3 318.2h6.9v0.9h-6.9zM440.6 319.2h11.6v0.9h-11.6zM448.3 332.2h5.8v0.9h-5.8zM441.2 335.2h13.1v0.9h-13.1zM439.0 336.2h9.8v0.9h-9.8zM437.5 338.2h10.4v0.9h-10.4zM443.8 349.2h10.0v0.9h-10.0zM425.6 353.2h7.3v0.9h-7.3zM437.6 355.2h3.1v0.9h-3.1zM434.8 361.2h3.5v0.9h-3.5zM428.9 364.2h7.1v0.9h-7.1zM444.4 364.2h3.5v0.9h-3.5zM443.0 367.2h13.0v0.9h-13.0zM433.5 369.2h10.7v0.9h-10.7zM418.9 374.2h7.7v0.9h-7.7zM439.2 375.2h7.1v0.9h-7.1zM419.9 381.2h4.5v0.9h-4.5zM444.2 384.2h5.6v0.9h-5.6zM441.7 385.2h7.9v0.9h-7.9zM422.4 385.2h6.1v0.9h-6.1zM443.5 386.2h7.6v0.9h-7.6zM434.1 388.2h5.1v0.9h-5.1zM420.8 392.2h6.3v0.9h-6.3zM426.9 397.2h4.2v0.9h-4.2zM441.2 402.2h8.5v0.9h-8.5zM445.4 403.2h8.7v0.9h-8.7zM422.5 405.2h7.2v0.9h-7.2zM418.2 407.2h11.6v0.9h-11.6zM421.7 411.2h12.0v0.9h-12.0zM425.0 412.2h6.1v0.9h-6.1zM429.7 414.2h12.7v0.9h-12.7zM421.0 415.2h9.3v0.9h-9.3zM437.8 416.2h2.7v0.9h-2.7zM441.0 417.2h5.3v0.9h-5.3zM433.6 420.2h9.3v0.9h-9.3zM446.0 425.2h6.6v0.9h-6.6zM443.3 429.2h10.6v0.9h-10.6z" fill="#dc3a2e" fill-opacity="0.1"/><path d="M429.0 244.2h12.9v1.1h-12.9zM429.8 248.2h12.7v1.1h-12.7zM430.6 250.2h12.6v1.1h-12.6zM429.5 254.2h12.5v1.1h-12.5zM430.0 257.2h12.3v1.1h-12.3zM429.8 262.2h12.1v1.1h-12.1zM430.5 265.2h12.0v1.1h-12.0zM431.0 270.2h11.8v1.1h-11.8zM430.7 272.2h11.7v1.1h-11.7zM430.6 283.2h11.3v1.1h-11.3zM430.9 284.2h11.2v1.1h-11.2zM431.1 297.2h10.7v1.1h-10.7zM431.5 304.2h10.4v1.1h-10.4zM431.4 306.2h10.3v1.1h-10.3zM431.5 313.2h10.1v1.1h-10.1zM432.1 317.2h9.9v1.1h-9.9zM431.8 318.2h9.9v1.1h-9.9zM435.7 398.2h3.3v1.1h-3.3zM436.1 400.2h3.3v1.1h-3.3zM434.8 408.2h3.1v1.1h-3.1zM435.9 410.2h3.0v1.1h-3.0zM434.8 412.2h3.0v1.1h-3.0z" fill="#e4251f" fill-opacity="0.26"/><path d="M431.8 244.2h6.4v1.1h-6.4zM432.9 248.2h6.4v1.1h-6.4zM434.3 250.2h6.3v1.1h-6.3zM432.5 262.2h6.1v1.1h-6.1zM433.7 297.2h5.4v1.1h-5.4z" fill="#e4251f" fill-opacity="0.82"/><path d="M419.9 246.2h7.7v0.9h-7.7z" fill="#dc3a2e" fill-opacity="0.2"/><path d="M432.1 246.2h6.4v1.1h-6.4zM434.2 251.2h6.3v1.1h-6.3zM433.8 253.2h6.3v1.1h-6.3zM431.9 255.2h6.2v1.1h-6.2zM434.5 260.2h6.1v1.1h-6.1zM432.9 261.2h6.1v1.1h-6.1zM434.5 263.2h6.1v1.1h-6.1zM432.4 274.2h5.8v1.1h-5.8zM433.7 275.2h5.8v1.1h-5.8zM434.0 276.2h5.8v1.1h-5.8zM433.3 277.2h5.8v1.1h-5.8zM434.5 278.2h5.7v1.1h-5.7zM432.5 279.2h5.7v1.1h-5.7zM434.2 282.2h5.7v1.1h-5.7zM434.9 286.2h5.6v1.1h-5.6z" fill="#e4251f" fill-opacity="0.9"/><path d="M417.3 247.2h38.7v1.1h-38.7zM417.3 249.2h38.7v1.1h-38.7zM417.3 256.2h38.7v1.1h-38.7zM417.3 263.2h38.7v1.1h-38.7zM417.3 264.2h38.7v1.1h-38.7zM417.3 276.2h38.7v1.1h-38.7z" fill="#e6402e" fill-opacity="0.16"/><path d="M430.5 247.2h12.8v1.1h-12.8zM430.6 266.2h12.0v1.1h-12.0zM430.8 268.2h11.9v1.1h-11.9zM430.7 269.2h11.9v1.1h-11.9zM430.9 271.2h11.8v1.1h-11.8zM431.2 288.2h11.1v1.1h-11.1zM431.2 289.2h11.0v1.1h-11.0zM431.0 292.2h10.9v1.1h-10.9zM431.3 298.2h10.7v1.1h-10.7zM430.9 300.2h10.6v1.1h-10.6zM431.6 303.2h10.5v1.1h-10.5zM430.8 305.2h10.4v1.1h-10.4zM431.0 307.2h10.3v1.1h-10.3zM432.0 308.2h10.3v1.1h-10.3zM431.2 322.2h9.7v1.1h-9.7zM431.3 324.2h9.6v1.1h-9.6zM432.3 329.2h9.4v1.1h-9.4zM436.4 406.2h3.1v1.1h-3.1zM437.1 407.2h3.1v1.1h-3.1zM436.3 418.2h2.9v1.1h-2.9z" fill="#e4251f" fill-opacity="0.24"/><path d="M434.2 247.2h6.4v1.1h-6.4zM434.0 268.2h5.9v1.1h-5.9zM434.1 289.2h5.5v1.1h-5.5zM433.3 300.2h5.3v1.1h-5.3zM433.2 324.2h4.8v1.1h-4.8z" fill="#e4251f" fill-opacity="0.76"/><path d="M428.6 248.2h9.8v0.9h-9.8zM428.0 248.2h12.0v0.9h-12.0zM420.0 253.2h8.4v0.9h-8.4zM431.3 253.2h10.1v0.9h-10.1zM444.8 253.2h4.0v0.9h-4.0zM442.8 258.2h10.4v0.9h-10.4zM425.8 263.2h5.5v0.9h-5.5zM422.4 269.2h3.1v0.9h-3.1zM432.1 271.2h12.0v0.9h-12.0zM423.1 273.2h11.0v0.9h-11.0zM428.3 276.2h12.3v0.9h-12.3zM432.2 279.2h4.1v0.9h-4.1zM417.9 282.2h11.7v0.9h-11.7zM431.5 284.2h5.3v0.9h-5.3zM447.2 292.2h8.8v0.9h-8.8zM441.9 294.2h9.0v0.9h-9.0zM430.1 294.2h7.2v0.9h-7.2zM439.2 297.2h13.2v0.9h-13.2zM442.3 299.2h6.1v0.9h-6.1zM424.6 301.2h3.8v0.9h-3.8zM418.6 308.2h10.0v0.9h-10.0zM429.2 318.2h13.4v0.9h-13.4zM428.5 323.2h5.2v0.9h-5.2zM443.6 325.2h3.2v0.9h-3.2zM444.7 341.2h11.3v0.9h-11.3zM446.1 344.2h6.9v0.9h-6.9z" fill="#dc3a2e" fill-opacity="0.16"/><path d="M438.0 251.2h4.0v0.9h-4.0zM422.7 255.2h7.6v0.9h-7.6zM436.0 258.2h6.3v0.9h-6.3zM441.5 260.2h2.1v0.9h-2.1zM420.7 261.2h3.4v0.9h-3.4zM443.5 274.2h12.5v0.9h-12.5zM422.8 281.2h9.3v0.9h-9.3zM437.1 281.2h5.7v0.9h-5.7zM446.8 286.2h6.7v0.9h-6.7zM441.2 293.2h3.9v0.9h-3.9zM438.9 298.2h4.9v0.9h-4.9z" fill="#dc3a2e" fill-opacity="0.18"/><path d="M432.3 254.2h6.2v1.1h-6.2zM433.1 257.2h6.2v1.1h-6.2zM434.4 270.2h5.9v1.1h-5.9zM433.7 272.2h5.9v1.1h-5.9zM433.3 283.2h5.6v1.1h-5.6zM434.1 304.2h5.2v1.1h-5.2z" fill="#e4251f" fill-opacity="0.84"/><path d="M434.2 256.2h6.2v1.1h-6.2zM434.5 264.2h6.0v1.1h-6.0zM433.4 287.2h5.6v1.1h-5.6zM433.8 295.2h5.4v1.1h-5.4zM433.4 310.2h5.1v1.1h-5.1zM434.5 320.2h4.9v1.1h-4.9zM435.1 327.2h4.7v1.1h-4.7z" fill="#e4251f" fill-opacity="0.7"/><path d="M433.3 259.2h6.1v1.1h-6.1zM433.5 280.2h5.7v1.1h-5.7zM432.7 294.2h5.4v1.1h-5.4zM434.7 296.2h5.4v1.1h-5.4zM433.8 302.2h5.3v1.1h-5.3zM435.3 314.2h5.0v1.1h-5.0zM435.5 321.2h4.9v1.1h-4.9zM434.8 337.2h4.5v1.1h-4.5z" fill="#e4251f" fill-opacity="0.68"/><path d="M417.3 261.2h38.7v1.1h-38.7zM417.3 272.2h38.7v1.1h-38.7zM417.3 277.2h38.7v1.1h-38.7zM417.3 282.2h38.7v1.1h-38.7zM417.3 283.2h38.7v1.1h-38.7zM417.3 285.2h38.7v1.1h-38.7zM417.3 290.2h38.7v1.1h-38.7zM417.3 292.2h38.7v1.1h-38.7zM417.3 298.2h38.7v1.1h-38.7zM417.3 301.2h38.7v1.1h-38.7zM417.3 306.2h38.7v1.1h-38.7zM417.3 307.2h38.7v1.1h-38.7zM417.3 308.2h38.7v1.1h-38.7zM417.3 310.2h38.7v1.1h-38.7zM417.3 312.2h38.7v1.1h-38.7zM417.3 313.2h38.7v1.1h-38.7zM417.3 315.2h38.7v1.1h-38.7zM417.3 335.2h38.7v1.1h-38.7zM417.3 346.2h38.7v1.1h-38.7zM417.3 360.2h38.7v1.1h-38.7zM417.3 367.2h38.7v1.1h-38.7zM417.3 368.2h38.7v1.1h-38.7zM417.3 369.2h38.7v1.1h-38.7zM417.3 371.2h38.7v1.1h-38.7zM417.3 372.2h38.7v1.1h-38.7zM417.3 373.2h38.7v1.1h-38.7zM417.3 380.2h38.7v1.1h-38.7zM417.3 389.2h38.7v1.1h-38.7zM417.3 390.2h38.7v1.1h-38.7zM417.3 391.2h38.7v1.1h-38.7zM417.3 392.2h38.7v1.1h-38.7zM417.3 393.2h38.7v1.1h-38.7zM417.3 394.2h38.7v1.1h-38.7zM417.3 396.2h38.7v1.1h-38.7zM417.3 400.2h38.7v1.1h-38.7zM417.3 404.2h38.7v1.1h-38.7zM417.3 406.2h38.7v1.1h-38.7zM417.3 408.2h38.7v1.1h-38.7zM417.3 410.2h38.7v1.1h-38.7zM417.3 415.2h38.7v1.1h-38.7zM417.3 417.2h38.7v1.1h-38.7zM417.3 424.2h38.7v1.1h-38.7zM417.3 425.2h38.7v1.1h-38.7zM417.3 426.2h38.7v1.1h-38.7zM417.3 428.2h38.7v1.1h-38.7z" fill="#e6402e" fill-opacity="0.08"/><path d="M433.6 265.2h6.0v1.1h-6.0zM433.8 284.2h5.6v1.1h-5.6zM433.9 306.2h5.2v1.1h-5.2z" fill="#e4251f" fill-opacity="0.86"/><path d="M433.7 266.2h6.0v1.1h-6.0zM433.8 269.2h5.9v1.1h-5.9zM434.1 288.2h5.5v1.1h-5.5zM433.7 292.2h5.5v1.1h-5.5zM433.9 298.2h5.3v1.1h-5.3zM434.4 303.2h5.2v1.1h-5.2zM434.8 308.2h5.1v1.1h-5.1z" fill="#e4251f" fill-opacity="0.78"/><path d="M417.3 271.2h38.7v1.1h-38.7zM417.3 296.2h38.7v1.1h-38.7zM417.3 302.2h38.7v1.1h-38.7zM417.3 304.2h38.7v1.1h-38.7zM417.3 326.2h38.7v1.1h-38.7zM417.3 327.2h38.7v1.1h-38.7zM417.3 340.2h38.7v1.1h-38.7zM417.3 345.2h38.7v1.1h-38.7zM417.3 351.2h38.7v1.1h-38.7zM417.3 353.2h38.7v1.1h-38.7zM417.3 363.2h38.7v1.1h-38.7zM417.3 364.2h38.7v1.1h-38.7zM417.3 376.2h38.7v1.1h-38.7zM417.3 377.2h38.7v1.1h-38.7zM417.3 379.2h38.7v1.1h-38.7zM417.3 381.2h38.7v1.1h-38.7zM417.3 386.2h38.7v1.1h-38.7zM417.3 388.2h38.7v1.1h-38.7zM417.3 395.2h38.7v1.1h-38.7zM417.3 398.2h38.7v1.1h-38.7zM417.3 399.2h38.7v1.1h-38.7zM417.3 401.2h38.7v1.1h-38.7zM417.3 412.2h38.7v1.1h-38.7zM417.3 414.2h38.7v1.1h-38.7zM417.3 416.2h38.7v1.1h-38.7zM417.3 418.2h38.7v1.1h-38.7zM417.3 420.2h38.7v1.1h-38.7zM417.3 423.2h38.7v1.1h-38.7zM417.3 429.2h38.7v1.1h-38.7zM417.3 430.2h38.7v1.1h-38.7z" fill="#e6402e" fill-opacity="0.06"/><path d="M434.1 271.2h5.9v1.1h-5.9zM433.3 307.2h5.2v1.1h-5.2zM433.2 322.2h4.8v1.1h-4.8zM434.8 329.2h4.7v1.1h-4.7z" fill="#e4251f" fill-opacity="0.74"/><path d="M431.1 290.2h11.0v1.1h-11.0zM431.2 291.2h11.0v1.1h-11.0zM430.4 294.2h10.8v1.1h-10.8zM431.1 299.2h10.6v1.1h-10.6zM431.6 301.2h10.5v1.1h-10.5zM431.2 302.2h10.5v1.1h-10.5zM431.7 312.2h10.1v1.1h-10.1zM432.4 314.2h10.0v1.1h-10.0zM432.1 316.2h9.9v1.1h-9.9zM432.6 321.2h9.7v1.1h-9.7zM431.2 323.2h9.7v1.1h-9.7zM431.9 331.2h9.3v1.1h-9.3zM432.2 334.2h9.2v1.1h-9.2zM433.0 336.2h9.1v1.1h-9.1zM431.7 338.2h9.0v1.1h-9.0zM432.2 341.2h8.9v1.1h-8.9zM432.6 343.2h8.8v1.1h-8.8zM432.2 346.2h8.7v1.1h-8.7zM433.1 353.2h8.4v1.1h-8.4zM433.0 354.2h8.4v1.1h-8.4zM436.8 415.2h2.9v1.1h-2.9z" fill="#e4251f" fill-opacity="0.2"/><path d="M433.9 290.2h5.5v1.1h-5.5zM433.6 299.2h5.3v1.1h-5.3zM434.2 312.2h5.1v1.1h-5.1zM434.4 334.2h4.6v1.1h-4.6zM435.7 336.2h4.6v1.1h-4.6zM433.5 338.2h4.5v1.1h-4.5zM435.3 353.2h4.2v1.1h-4.2z" fill="#e4251f" fill-opacity="0.66"/><path d="M434.0 291.2h5.5v1.1h-5.5zM433.1 323.2h4.8v1.1h-4.8zM434.8 343.2h4.4v1.1h-4.4zM434.1 346.2h4.4v1.1h-4.4z" fill="#e4251f" fill-opacity="0.62"/><path d="M434.5 301.2h5.3v1.1h-5.3zM434.8 316.2h5.0v1.1h-5.0zM434.1 331.2h4.7v1.1h-4.7zM434.2 341.2h4.5v1.1h-4.5zM435.2 354.2h4.2v1.1h-4.2z" fill="#e4251f" fill-opacity="0.64"/><path d="M432.9 305.2h5.2v1.1h-5.2zM433.8 313.2h5.0v1.1h-5.0zM434.7 317.2h4.9v1.1h-4.9zM434.2 318.2h4.9v1.1h-4.9z" fill="#e4251f" fill-opacity="0.8"/><path d="M431.3 309.2h10.2v1.1h-10.2zM432.1 311.2h10.1v1.1h-10.1zM431.2 315.2h10.0v1.1h-10.0zM431.4 319.2h9.8v1.1h-9.8zM431.4 328.2h9.4v1.1h-9.4zM431.8 340.2h9.0v1.1h-9.0zM432.5 345.2h8.8v1.1h-8.8zM432.8 347.2h8.7v1.1h-8.7zM432.7 349.2h8.6v1.1h-8.6zM433.4 360.2h8.1v1.1h-8.1zM432.7 363.2h8.0v1.1h-8.0zM433.7 364.2h8.0v1.1h-8.0zM435.7 417.2h2.9v1.1h-2.9zM437.0 419.2h2.9v1.1h-2.9zM437.2 420.2h2.8v1.1h-2.8zM435.8 421.2h2.8v1.1h-2.8zM437.5 423.2h2.8v1.1h-2.8zM436.8 424.2h2.8v1.1h-2.8zM435.1 425.2h2.7v1.1h-2.7zM436.7 427.2h2.7v1.1h-2.7z" fill="#e4251f" fill-opacity="0.18"/><path d="M433.7 309.2h5.1v1.1h-5.1zM435.0 311.2h5.1v1.1h-5.1zM433.3 315.2h5.0v1.1h-5.0zM434.9 349.2h4.3v1.1h-4.3z" fill="#e4251f" fill-opacity="0.6"/><path d="M433.5 319.2h4.9v1.1h-4.9zM433.2 328.2h4.7v1.1h-4.7zM434.7 345.2h4.4v1.1h-4.4zM435.6 360.2h4.1v1.1h-4.1zM434.4 363.2h4.0v1.1h-4.0z" fill="#e4251f" fill-opacity="0.58"/><path d="M440.2 329.2h12.2v0.9h-12.2zM431.9 331.2h8.8v0.9h-8.8zM425.7 339.2h8.2v0.9h-8.2zM436.2 351.2h5.9v0.9h-5.9zM429.5 362.2h10.9v0.9h-10.9zM444.8 363.2h4.9v0.9h-4.9zM425.0 366.2h3.5v0.9h-3.5zM436.3 371.2h5.1v0.9h-5.1zM442.7 376.2h11.8v0.9h-11.8zM424.4 378.2h6.3v0.9h-6.3zM439.6 380.2h12.2v0.9h-12.2zM430.4 397.2h5.2v0.9h-5.2zM439.3 398.2h10.7v0.9h-10.7zM431.8 404.2h5.7v0.9h-5.7zM430.2 406.2h7.6v0.9h-7.6zM426.1 409.2h9.5v0.9h-9.5zM432.6 410.2h13.3v0.9h-13.3zM425.2 418.2h6.4v0.9h-6.4zM433.3 430.2h5.3v0.9h-5.3zM424.9 430.2h10.4v0.9h-10.4z" fill="#dc3a2e" fill-opacity="0.06"/><path d="M432.4 333.2h9.2v1.1h-9.2zM432.5 335.2h9.2v1.1h-9.2zM433.2 339.2h9.0v1.1h-9.0zM432.7 342.2h8.9v1.1h-8.9zM433.2 344.2h8.8v1.1h-8.8zM433.3 348.2h8.6v1.1h-8.6zM432.0 350.2h8.5v1.1h-8.5zM432.8 351.2h8.5v1.1h-8.5zM432.6 352.2h8.5v1.1h-8.5zM433.4 355.2h8.3v1.1h-8.3zM433.1 357.2h8.3v1.1h-8.3zM432.9 358.2h8.2v1.1h-8.2zM433.4 361.2h8.1v1.1h-8.1zM433.7 362.2h8.1v1.1h-8.1zM433.7 367.2h7.9v1.1h-7.9zM433.1 371.2h7.7v1.1h-7.7zM433.5 375.2h7.5v1.1h-7.5zM434.1 379.2h7.4v1.1h-7.4zM435.2 422.2h2.8v1.1h-2.8zM436.1 426.2h2.7v1.1h-2.7zM435.5 431.2h2.6v1.1h-2.6z" fill="#e4251f" fill-opacity="0.16"/><path d="M434.8 333.2h4.6v1.1h-4.6zM434.9 335.2h4.6v1.1h-4.6zM435.9 344.2h4.4v1.1h-4.4zM435.8 348.2h4.3v1.1h-4.3zM435.0 351.2h4.3v1.1h-4.3zM435.6 361.2h4.0v1.1h-4.0zM436.1 362.2h4.0v1.1h-4.0zM435.9 367.2h3.9v1.1h-3.9z" fill="#e4251f" fill-opacity="0.54"/><path d="M435.9 339.2h4.5v1.1h-4.5zM433.6 350.2h4.3v1.1h-4.3zM434.8 371.2h3.8v1.1h-3.8z" fill="#e4251f" fill-opacity="0.52"/><path d="M433.7 340.2h4.5v1.1h-4.5zM435.0 347.2h4.3v1.1h-4.3zM436.1 364.2h4.0v1.1h-4.0z" fill="#e4251f" fill-opacity="0.56"/><path d="M435.1 342.2h4.4v1.1h-4.4zM434.5 352.2h4.2v1.1h-4.2zM435.9 355.2h4.2v1.1h-4.2zM435.3 357.2h4.1v1.1h-4.1zM434.8 358.2h4.1v1.1h-4.1zM435.4 375.2h3.8v1.1h-3.8z" fill="#e4251f" fill-opacity="0.5"/><path d="M432.9 356.2h8.3v1.1h-8.3zM432.3 359.2h8.2v1.1h-8.2zM433.0 365.2h7.9v1.1h-7.9zM433.1 366.2h7.9v1.1h-7.9zM433.8 368.2h7.8v1.1h-7.8zM433.2 369.2h7.8v1.1h-7.8zM433.5 374.2h7.6v1.1h-7.6zM434.0 380.2h7.3v1.1h-7.3zM433.7 383.2h7.2v1.1h-7.2zM433.4 390.2h6.9v1.1h-6.9z" fill="#e4251f" fill-opacity="0.14"/><path d="M435.0 356.2h4.2v1.1h-4.2zM436.3 379.2h3.7v1.1h-3.7z" fill="#e4251f" fill-opacity="0.48"/><path d="M433.8 359.2h4.1v1.1h-4.1zM434.8 365.2h4.0v1.1h-4.0zM435.0 366.2h3.9v1.1h-3.9zM435.1 369.2h3.9v1.1h-3.9z" fill="#e4251f" fill-opacity="0.44"/><path d="M436.2 368.2h3.9v1.1h-3.9zM435.5 374.2h3.8v1.1h-3.8zM436.1 380.2h3.7v1.1h-3.7zM435.5 383.2h3.6v1.1h-3.6z" fill="#e4251f" fill-opacity="0.46"/><path d="M433.2 370.2h7.7v1.1h-7.7zM434.0 372.2h7.7v1.1h-7.7zM433.0 373.2h7.6v1.1h-7.6zM434.0 376.2h7.5v1.1h-7.5zM432.8 377.2h7.4v1.1h-7.4zM433.3 378.2h7.4v1.1h-7.4zM433.2 381.2h7.3v1.1h-7.3zM433.0 384.2h7.2v1.1h-7.2zM433.4 386.2h7.1v1.1h-7.1zM434.4 388.2h7.0v1.1h-7.0zM433.7 389.2h7.0v1.1h-7.0zM434.2 393.2h6.8v1.1h-6.8zM434.1 394.2h6.8v1.1h-6.8zM436.3 428.2h2.7v1.1h-2.7zM436.2 429.2h2.7v1.1h-2.7zM437.4 430.2h2.6v1.1h-2.6z" fill="#e4251f" fill-opacity="0.12"/><path d="M435.2 370.2h3.9v1.1h-3.9zM434.3 377.2h3.7v1.1h-3.7zM434.7 381.2h3.6v1.1h-3.6z" fill="#e4251f" fill-opacity="0.38"/><path d="M436.4 372.2h3.8v1.1h-3.8zM436.2 376.2h3.7v1.1h-3.7zM435.0 378.2h3.7v1.1h-3.7zM434.4 384.2h3.6v1.1h-3.6zM436.6 388.2h3.5v1.1h-3.5zM436.1 393.2h3.4v1.1h-3.4zM435.8 394.2h3.4v1.1h-3.4z" fill="#e4251f" fill-opacity="0.4"/><path d="M434.6 373.2h3.8v1.1h-3.8zM434.8 390.2h3.5v1.1h-3.5z" fill="#e4251f" fill-opacity="0.42"/><path d="M434.2 382.2h7.2v1.1h-7.2zM434.0 385.2h7.1v1.1h-7.1zM433.4 387.2h7.0v1.1h-7.0zM434.3 391.2h6.9v1.1h-6.9zM434.0 395.2h6.7v1.1h-6.7zM433.7 396.2h6.7v1.1h-6.7zM434.5 397.2h6.6v1.1h-6.6zM434.4 399.2h6.5v1.1h-6.5zM434.2 402.2h6.4v1.1h-6.4zM434.2 403.2h6.4v1.1h-6.4zM433.6 404.2h6.3v1.1h-6.3z" fill="#e4251f" fill-opacity="0.1"/><path d="M436.5 382.2h3.6v1.1h-3.6zM434.9 387.2h3.5v1.1h-3.5zM435.8 403.2h3.2v1.1h-3.2zM434.7 404.2h3.2v1.1h-3.2z" fill="#e4251f" fill-opacity="0.32"/><path d="M436.0 385.2h3.6v1.1h-3.6zM435.6 395.2h3.4v1.1h-3.4zM436.4 397.2h3.3v1.1h-3.3zM436.3 399.2h3.3v1.1h-3.3z" fill="#e4251f" fill-opacity="0.34"/><path d="M434.9 386.2h3.5v1.1h-3.5zM435.3 389.2h3.5v1.1h-3.5z" fill="#e4251f" fill-opacity="0.36"/><path d="M436.3 391.2h3.4v1.1h-3.4zM435.2 396.2h3.3v1.1h-3.3zM435.8 402.2h3.2v1.1h-3.2z" fill="#e4251f" fill-opacity="0.3"/><path d="M434.1 392.2h6.8v1.1h-6.8zM434.0 398.2h6.6v1.1h-6.6zM434.3 400.2h6.5v1.1h-6.5zM434.9 401.2h6.5v1.1h-6.5zM434.2 405.2h6.3v1.1h-6.3zM434.6 406.2h6.3v1.1h-6.3zM435.1 407.2h6.2v1.1h-6.2zM433.7 408.2h6.2v1.1h-6.2zM434.0 409.2h6.1v1.1h-6.1zM434.4 410.2h6.1v1.1h-6.1zM435.0 411.2h6.1v1.1h-6.1zM433.8 412.2h6.0v1.1h-6.0zM434.0 413.2h6.0v1.1h-6.0zM435.0 414.2h5.9v1.1h-5.9zM434.8 418.2h5.8v1.1h-5.8z" fill="#e4251f" fill-opacity="0.08"/><path d="M417.3 402.2h38.7v1.1h-38.7zM417.3 405.2h38.7v1.1h-38.7zM417.3 419.2h38.7v1.1h-38.7zM417.3 421.2h38.7v1.1h-38.7zM417.3 422.2h38.7v1.1h-38.7z" fill="#e6402e" fill-opacity="0.04"/><path d="M435.0 415.2h5.9v1.1h-5.9zM434.2 416.2h5.9v1.1h-5.9zM434.4 417.2h5.8v1.1h-5.8zM435.2 419.2h5.7v1.1h-5.7zM435.3 420.2h5.7v1.1h-5.7zM434.5 421.2h5.6v1.1h-5.6zM434.2 422.2h5.6v1.1h-5.6zM435.6 423.2h5.6v1.1h-5.6zM435.2 424.2h5.5v1.1h-5.5zM434.2 425.2h5.5v1.1h-5.5zM434.8 426.2h5.4v1.1h-5.4zM435.2 427.2h5.4v1.1h-5.4z" fill="#e4251f" fill-opacity="0.06"/><path d="M435.0 428.2h5.4v1.1h-5.4zM434.9 429.2h5.3v1.1h-5.3zM435.6 430.2h5.3v1.1h-5.3zM434.5 431.2h5.2v1.1h-5.2z" fill="#e4251f" fill-opacity="0.04"/><path d="M417.3 434.6h38.7v1.1h-38.7zM417.3 436.6h38.7v1.1h-38.7zM417.3 439.6h38.7v1.1h-38.7zM417.3 444.6h38.7v1.1h-38.7zM417.3 450.6h38.7v1.1h-38.7zM417.3 452.6h38.7v1.1h-38.7zM417.3 454.6h38.7v1.1h-38.7zM417.3 457.6h38.7v1.1h-38.7zM417.3 458.6h38.7v1.1h-38.7z" fill="#e6402e" fill-opacity="0.06"/><path d="M441.7 434.6h10.3v0.9h-10.3zM446.4 434.6h5.6v0.9h-5.6zM430.5 438.6h11.6v0.9h-11.6zM425.9 438.6h12.1v0.9h-12.1zM426.6 439.6h8.0v0.9h-8.0zM444.7 441.6h11.3v0.9h-11.3zM436.0 442.6h13.1v0.9h-13.1zM420.0 442.6h2.1v0.9h-2.1zM418.0 444.6h7.3v0.9h-7.3zM446.4 446.6h8.7v0.9h-8.7zM436.8 447.6h5.5v0.9h-5.5zM440.5 448.6h3.0v0.9h-3.0zM429.3 449.6h10.7v0.9h-10.7zM427.1 451.6h6.8v0.9h-6.8zM430.6 451.6h13.4v0.9h-13.4zM435.5 454.6h3.1v0.9h-3.1zM438.9 458.6h10.2v0.9h-10.2zM437.3 459.6h13.5v0.9h-13.5z" fill="#dc3a2e" fill-opacity="0.06"/><path d="M435.7 434.6h9.5v0.9h-9.5zM427.6 436.6h3.1v0.9h-3.1zM436.3 436.6h7.9v0.9h-7.9zM424.5 437.6h12.2v0.9h-12.2zM418.1 443.6h2.5v0.9h-2.5zM426.2 450.6h5.0v0.9h-5.0zM429.1 453.6h7.1v0.9h-7.1zM423.1 454.6h11.8v0.9h-11.8z" fill="#dc3a2e" fill-opacity="0.1"/><path d="M431.6 434.6h10.4v1.1h-10.4zM435.6 455.6h2.8v1.1h-2.8zM435.4 456.6h2.7v1.1h-2.7zM435.2 457.6h2.5v1.1h-2.5z" fill="#e4251f" fill-opacity="0.24"/><path d="M434.3 434.6h5.2v1.1h-5.2z" fill="#e4251f" fill-opacity="0.76"/><path d="M417.3 435.6h38.7v1.1h-38.7zM417.3 437.6h38.7v1.1h-38.7zM417.3 438.6h38.7v1.1h-38.7zM417.3 442.6h38.7v1.1h-38.7zM417.3 445.6h38.7v1.1h-38.7zM417.3 446.6h38.7v1.1h-38.7zM417.3 447.6h38.7v1.1h-38.7zM417.3 448.6h38.7v1.1h-38.7zM417.3 453.6h38.7v1.1h-38.7zM417.3 455.6h38.7v1.1h-38.7zM417.3 456.6h38.7v1.1h-38.7zM417.3 459.6h38.7v1.1h-38.7zM417.3 460.6h38.7v1.1h-38.7z" fill="#e6402e" fill-opacity="0.08"/><path d="M431.5 435.6h10.2v1.1h-10.2zM431.9 440.6h9.0v1.1h-9.0zM432.1 442.6h8.6v1.1h-8.6zM435.6 459.6h2.3v1.1h-2.3zM435.0 460.6h2.2v1.1h-2.2z" fill="#e4251f" fill-opacity="0.2"/><path d="M434.0 435.6h5.1v1.1h-5.1z" fill="#e4251f" fill-opacity="0.66"/><path d="M431.6 436.6h9.9v1.1h-9.9zM431.8 437.6h9.7v1.1h-9.7zM431.6 438.6h9.5v1.1h-9.5zM432.2 444.6h8.1v1.1h-8.1zM435.6 458.6h2.4v1.1h-2.4z" fill="#e4251f" fill-opacity="0.18"/><path d="M434.1 436.6h5.0v1.1h-5.0zM433.8 438.6h4.7v1.1h-4.7z" fill="#e4251f" fill-opacity="0.6"/><path d="M434.3 437.6h4.9v1.1h-4.9z" fill="#e4251f" fill-opacity="0.56"/><path d="M431.8 439.6h9.2v1.1h-9.2z" fill="#e4251f" fill-opacity="0.22"/><path d="M434.0 439.6h4.6v1.1h-4.6z" fill="#e4251f" fill-opacity="0.74"/><path d="M417.3 440.6h38.7v1.1h-38.7zM417.3 441.6h38.7v1.1h-38.7zM417.3 449.6h38.7v1.1h-38.7zM417.3 451.6h38.7v1.1h-38.7zM417.3 461.6h38.7v1.1h-38.7z" fill="#e6402e" fill-opacity="0.1"/><path d="M442.3 440.6h10.7v0.9h-10.7zM429.9 447.6h12.2v0.9h-12.2zM435.8 448.6h2.8v0.9h-2.8zM429.1 458.6h13.2v0.9h-13.2zM422.6 461.6h6.2v0.9h-6.2z" fill="#dc3a2e" fill-opacity="0.12"/><path d="M434.0 440.6h4.5v1.1h-4.5zM434.1 442.6h4.3v1.1h-4.3z" fill="#e4251f" fill-opacity="0.62"/><path d="M432.5 441.6h8.8v1.1h-8.8zM433.0 447.6h7.4v1.1h-7.4zM435.2 461.6h2.1v1.1h-2.1z" fill="#e4251f" fill-opacity="0.16"/><path d="M434.9 441.6h4.4v1.1h-4.4z" fill="#e4251f" fill-opacity="0.54"/><path d="M417.3 443.6h38.7v1.1h-38.7z" fill="#e6402e" fill-opacity="0.04"/><path d="M432.6 443.6h8.3v1.1h-8.3zM432.5 445.6h7.9v1.1h-7.9zM432.5 446.6h7.6v1.1h-7.6zM433.6 450.6h6.7v1.1h-6.7z" fill="#e4251f" fill-opacity="0.14"/><path d="M434.7 443.6h4.2v1.1h-4.2zM434.3 445.6h3.9v1.1h-3.9z" fill="#e4251f" fill-opacity="0.42"/><path d="M440.0 444.6h10.0v0.9h-10.0zM430.9 445.6h6.5v0.9h-6.5zM427.3 456.6h11.1v0.9h-11.1zM432.5 461.6h4.1v0.9h-4.1z" fill="#dc3a2e" fill-opacity="0.08"/><path d="M434.0 444.6h4.0v1.1h-4.0z" fill="#e4251f" fill-opacity="0.58"/><path d="M434.2 446.6h3.8v1.1h-3.8z" fill="#e4251f" fill-opacity="0.48"/><path d="M434.8 447.6h3.7v1.1h-3.7z" fill="#e4251f" fill-opacity="0.5"/><path d="M433.3 448.6h7.2v1.1h-7.2zM433.0 449.6h6.9v1.1h-6.9z" fill="#e4251f" fill-opacity="0.12"/><path d="M435.3 448.6h3.6v1.1h-3.6zM434.6 449.6h3.5v1.1h-3.5z" fill="#e4251f" fill-opacity="0.4"/><path d="M435.5 450.6h3.4v1.1h-3.4z" fill="#e4251f" fill-opacity="0.46"/><path d="M433.3 451.6h6.5v1.1h-6.5zM433.2 452.6h6.3v1.1h-6.3zM434.0 453.6h6.0v1.1h-6.0zM433.8 454.6h5.8v1.1h-5.8z" fill="#e4251f" fill-opacity="0.1"/><path d="M434.9 451.6h3.2v1.1h-3.2zM435.8 453.6h3.0v1.1h-3.0zM435.3 454.6h2.9v1.1h-2.9z" fill="#e4251f" fill-opacity="0.32"/><path d="M434.6 452.6h3.1v1.1h-3.1z" fill="#e4251f" fill-opacity="0.34"/><path d="M434.1 455.6h5.6v1.1h-5.6zM434.0 456.6h5.3v1.1h-5.3zM434.0 457.6h5.1v1.1h-5.1z" fill="#e4251f" fill-opacity="0.08"/><path d="M434.3 458.6h4.9v1.1h-4.9zM434.4 459.6h4.6v1.1h-4.6zM434.1 460.6h4.4v1.1h-4.4z" fill="#e4251f" fill-opacity="0.06"/><path d="M434.3 461.6h4.2v1.1h-4.2z" fill="#e4251f" fill-opacity="0.04"/><path d="M453.9 388.3h1.5v1h-1.5zM434.0 446.6h1.3v1h-1.3zM446.7 454.8h1.3v1h-1.3zM428.7 443.5h1.1v1h-1.1zM424.4 309.9h1.4v1h-1.4zM427.3 249.0h1.0v1h-1.0zM446.2 332.5h1.0v1h-1.0zM435.9 241.2h0.9v1h-0.9zM439.7 406.7h0.9v1h-0.9zM432.4 389.8h1.5v1h-1.5zM450.0 298.4h0.9v1h-0.9zM428.3 298.0h1.4v1h-1.4zM449.3 288.7h1.2v1h-1.2zM438.6 439.2h1.1v1h-1.1zM445.5 308.2h1.2v1h-1.2zM444.2 298.3h1.3v1h-1.3zM433.2 284.0h1.4v1h-1.4zM448.5 331.9h1.1v1h-1.1zM451.5 299.5h1.5v1h-1.5zM419.7 360.0h1.1v1h-1.1zM426.9 260.5h1.2v1h-1.2zM432.9 246.6h1.0v1h-1.0zM438.3 270.9h0.9v1h-0.9zM424.1 321.7h1.4v1h-1.4zM441.9 262.7h1.1v1h-1.1zM438.2 410.0h1.4v1h-1.4zM445.6 295.3h1.0v1h-1.0zM451.7 339.9h1.2v1h-1.2zM454.1 459.6h1.1v1h-1.1zM448.0 330.9h1.0v1h-1.0zM427.6 271.1h1.1v1h-1.1zM450.4 283.9h0.9v1h-0.9zM435.6 297.2h1.0v1h-1.0zM438.0 291.2h1.0v1h-1.0zM451.6 314.3h1.5v1h-1.5zM452.6 256.1h1.2v1h-1.2z" fill="#e04050" fill-opacity="0.18"/><path d="M438.2 393.9h1.1v1h-1.1zM432.0 399.4h1.1v1h-1.1zM422.5 245.9h1.4v1h-1.4zM446.6 356.1h1.3v1h-1.3zM451.8 292.8h1.1v1h-1.1zM418.1 316.2h1.0v1h-1.0zM420.7 255.7h1.1v1h-1.1zM425.9 309.1h1.3v1h-1.3zM443.7 321.8h0.9v1h-0.9zM424.3 386.0h1.2v1h-1.2zM445.6 416.3h1.0v1h-1.0zM424.5 326.7h0.9v1h-0.9zM437.6 451.3h1.0v1h-1.0zM447.4 282.5h1.5v1h-1.5zM419.2 266.8h1.3v1h-1.3zM418.7 269.4h1.5v1h-1.5zM426.0 250.7h1.0v1h-1.0zM451.8 314.5h1.0v1h-1.0zM436.3 354.6h1.3v1h-1.3zM436.2 389.6h1.3v1h-1.3zM445.5 298.7h0.8v1h-0.8zM453.9 282.3h0.9v1h-0.9zM425.0 295.6h1.1v1h-1.1zM418.7 289.0h0.8v1h-0.8zM426.0 285.9h1.4v1h-1.4zM432.6 290.3h1.3v1h-1.3zM430.9 257.2h1.4v1h-1.4zM436.2 277.4h1.0v1h-1.0zM440.0 277.6h1.0v1h-1.0zM427.3 304.6h1.1v1h-1.1zM422.8 259.1h0.9v1h-0.9zM438.1 351.9h1.0v1h-1.0zM431.9 328.6h1.4v1h-1.4zM420.1 290.8h1.4v1h-1.4zM444.7 284.0h1.1v1h-1.1zM452.7 334.8h1.4v1h-1.4zM417.9 356.9h0.9v1h-0.9zM430.7 352.0h0.9v1h-0.9z" fill="#e04050" fill-opacity="0.22"/><path d="M445.2 426.9h1.5v1h-1.5zM421.0 283.2h0.9v1h-0.9zM426.2 311.3h1.3v1h-1.3zM453.5 257.3h1.5v1h-1.5zM428.2 375.1h1.2v1h-1.2zM449.7 310.0h1.4v1h-1.4zM443.7 368.1h0.9v1h-0.9zM449.9 361.3h1.4v1h-1.4zM429.2 386.4h0.9v1h-0.9zM422.8 433.9h1.3v1h-1.3zM422.0 304.3h1.2v1h-1.2zM453.1 347.3h0.8v1h-0.8zM421.6 371.8h1.4v1h-1.4zM434.0 265.0h1.3v1h-1.3zM420.3 242.8h1.1v1h-1.1zM435.2 332.0h1.5v1h-1.5zM427.4 408.8h1.3v1h-1.3zM424.4 280.3h1.4v1h-1.4zM454.8 273.8h1.0v1h-1.0zM439.3 352.7h1.0v1h-1.0zM449.6 440.5h1.4v1h-1.4zM429.1 340.8h1.0v1h-1.0zM446.9 283.5h1.0v1h-1.0zM441.1 336.8h1.0v1h-1.0zM430.0 294.1h1.3v1h-1.3zM417.6 330.2h1.0v1h-1.0zM420.0 350.9h0.8v1h-0.8zM425.5 258.0h1.0v1h-1.0zM417.9 412.9h0.9v1h-0.9zM431.6 292.4h1.3v1h-1.3zM451.6 300.3h1.5v1h-1.5zM443.8 405.3h0.8v1h-0.8zM454.7 428.8h1.3v1h-1.3zM433.7 459.5h1.0v1h-1.0zM442.1 242.8h0.9v1h-0.9zM438.4 410.3h1.4v1h-1.4z" fill="#e04050" fill-opacity="0.1"/><path d="M442.2 379.0h1.0v1h-1.0zM433.9 263.3h1.3v1h-1.3zM425.4 439.7h1.0v1h-1.0zM431.0 408.7h1.2v1h-1.2zM452.5 274.9h1.1v1h-1.1zM419.3 280.2h1.1v1h-1.1zM431.4 281.2h1.1v1h-1.1zM448.9 256.5h0.9v1h-0.9zM419.7 248.3h1.1v1h-1.1zM432.6 275.0h0.8v1h-0.8zM438.5 356.2h1.4v1h-1.4zM417.4 309.7h1.3v1h-1.3zM418.8 452.1h1.5v1h-1.5zM437.1 263.2h1.0v1h-1.0zM430.7 384.1h1.4v1h-1.4zM452.9 437.4h1.1v1h-1.1zM442.6 335.9h1.1v1h-1.1zM449.8 261.6h1.1v1h-1.1zM427.3 324.7h0.9v1h-0.9zM417.7 419.9h0.9v1h-0.9zM452.3 348.5h1.2v1h-1.2z" fill="#e04050" fill-opacity="0.08"/><path d="M438.7 287.5h0.8v1h-0.8zM438.5 365.7h1.4v1h-1.4zM428.7 308.2h1.0v1h-1.0zM445.5 336.7h1.4v1h-1.4zM434.4 446.0h1.4v1h-1.4zM436.9 267.0h1.5v1h-1.5zM428.3 385.1h1.1v1h-1.1zM429.1 341.4h1.4v1h-1.4zM438.8 273.2h1.4v1h-1.4zM419.3 250.0h1.1v1h-1.1zM450.2 270.5h1.2v1h-1.2zM426.0 288.1h1.4v1h-1.4zM436.3 343.3h1.4v1h-1.4zM444.3 412.0h1.5v1h-1.5zM452.9 444.2h0.9v1h-0.9zM427.1 368.4h1.0v1h-1.0zM434.6 359.8h1.4v1h-1.4zM432.1 319.5h1.2v1h-1.2zM433.2 342.1h1.4v1h-1.4zM432.9 315.8h1.2v1h-1.2zM453.6 373.0h1.5v1h-1.5zM437.4 243.1h1.3v1h-1.3zM441.9 271.3h1.3v1h-1.3zM445.6 292.6h0.8v1h-0.8zM442.1 408.2h1.5v1h-1.5zM441.2 360.3h1.2v1h-1.2zM430.3 280.0h1.3v1h-1.3zM430.0 318.2h0.8v1h-0.8zM440.6 431.3h1.5v1h-1.5zM440.0 395.3h0.9v1h-0.9zM435.0 381.5h1.0v1h-1.0zM450.4 325.3h1.1v1h-1.1zM450.3 292.2h1.2v1h-1.2zM435.9 440.2h1.5v1h-1.5zM432.6 403.7h1.2v1h-1.2zM422.9 369.3h1.1v1h-1.1z" fill="#e04050" fill-opacity="0.12"/><path d="M445.2 279.3h0.8v1h-0.8zM425.3 299.0h1.3v1h-1.3zM427.0 337.2h1.0v1h-1.0zM439.6 251.6h1.0v1h-1.0zM429.1 312.4h1.4v1h-1.4zM450.6 243.4h1.3v1h-1.3zM418.5 332.0h1.2v1h-1.2zM444.6 291.5h1.0v1h-1.0zM445.4 336.3h1.4v1h-1.4zM436.1 438.8h1.0v1h-1.0zM446.2 431.5h1.3v1h-1.3zM448.5 411.7h1.2v1h-1.2zM431.9 292.5h1.5v1h-1.5zM449.6 361.1h1.2v1h-1.2zM435.8 325.3h1.3v1h-1.3zM450.9 279.9h1.4v1h-1.4zM454.0 256.4h1.0v1h-1.0zM421.7 289.2h1.1v1h-1.1zM436.7 303.0h1.1v1h-1.1zM445.2 281.5h0.9v1h-0.9zM425.1 267.8h1.3v1h-1.3zM453.4 320.8h1.4v1h-1.4zM449.0 453.1h1.1v1h-1.1zM454.3 371.5h1.4v1h-1.4zM432.4 384.6h1.3v1h-1.3zM424.9 276.0h1.2v1h-1.2zM422.7 391.5h1.3v1h-1.3zM446.9 314.3h1.0v1h-1.0zM443.1 364.1h0.9v1h-0.9zM445.6 285.4h1.1v1h-1.1zM427.3 274.0h1.4v1h-1.4zM417.6 452.3h0.9v1h-0.9zM432.1 251.5h1.3v1h-1.3zM443.8 426.5h0.9v1h-0.9zM454.5 338.8h1.4v1h-1.4zM423.3 282.0h0.9v1h-0.9z" fill="#e04050" fill-opacity="0.28"/><path d="M426.1 255.2h1.5v1h-1.5zM424.3 406.3h1.2v1h-1.2zM445.6 325.4h1.1v1h-1.1zM435.5 253.8h0.8v1h-0.8zM454.7 460.6h1.3v1h-1.3zM435.1 363.5h1.4v1h-1.4zM435.0 312.8h1.3v1h-1.3zM449.9 246.4h1.2v1h-1.2zM441.6 433.9h0.8v1h-0.8zM423.6 439.3h1.4v1h-1.4zM417.7 268.6h0.8v1h-0.8zM425.8 442.7h1.1v1h-1.1zM430.8 341.4h0.9v1h-0.9z" fill="#e04050" fill-opacity="0.3"/><path d="M422.1 359.8h0.9v1h-0.9zM436.5 355.2h0.9v1h-0.9zM417.9 319.9h1.1v1h-1.1zM441.1 394.8h1.2v1h-1.2zM450.4 350.5h0.9v1h-0.9zM435.7 411.8h0.8v1h-0.8zM434.4 265.7h1.0v1h-1.0zM434.7 335.8h0.8v1h-0.8zM453.7 393.2h1.3v1h-1.3zM445.1 285.7h0.8v1h-0.8zM434.6 415.0h1.2v1h-1.2zM423.6 287.5h1.0v1h-1.0zM445.3 442.9h1.3v1h-1.3zM426.7 442.7h0.9v1h-0.9zM421.7 259.0h1.2v1h-1.2zM443.6 261.8h1.3v1h-1.3zM435.7 383.4h1.3v1h-1.3zM438.9 284.2h1.2v1h-1.2zM447.6 249.4h1.0v1h-1.0zM423.4 360.6h1.4v1h-1.4zM432.7 295.9h1.4v1h-1.4zM422.7 278.6h1.3v1h-1.3zM437.0 407.7h1.2v1h-1.2zM417.7 245.7h0.9v1h-0.9zM434.3 392.4h1.3v1h-1.3zM429.8 308.7h1.1v1h-1.1zM420.5 334.7h1.3v1h-1.3zM442.6 345.4h1.1v1h-1.1zM440.3 387.6h1.2v1h-1.2zM422.8 261.2h1.1v1h-1.1z" fill="#e04050" fill-opacity="0.14"/><path d="M419.2 315.2h1.3v1h-1.3zM450.7 384.5h1.3v1h-1.3zM439.6 307.5h0.8v1h-0.8zM418.2 414.9h1.1v1h-1.1zM450.7 300.1h1.3v1h-1.3zM424.8 393.5h1.1v1h-1.1zM451.2 251.1h1.5v1h-1.5zM430.1 330.0h1.1v1h-1.1zM452.3 454.8h1.0v1h-1.0zM432.6 343.0h1.0v1h-1.0zM432.4 382.9h1.3v1h-1.3zM429.4 368.5h0.8v1h-0.8zM441.4 328.3h0.9v1h-0.9zM454.1 350.7h0.8v1h-0.8zM448.1 452.7h1.4v1h-1.4zM441.0 316.2h1.1v1h-1.1zM450.4 405.5h1.3v1h-1.3zM417.6 280.7h1.0v1h-1.0zM453.6 315.8h1.2v1h-1.2zM438.8 289.2h1.4v1h-1.4zM420.1 313.4h1.1v1h-1.1zM440.6 450.1h1.2v1h-1.2zM431.5 458.8h0.9v1h-0.9zM451.3 391.7h1.2v1h-1.2zM437.1 295.7h1.1v1h-1.1zM418.6 339.7h0.8v1h-0.8zM421.9 398.3h0.9v1h-0.9zM441.8 370.7h0.8v1h-0.8zM450.9 434.8h1.0v1h-1.0zM432.6 350.7h1.1v1h-1.1zM428.7 316.3h1.1v1h-1.1zM435.1 250.0h1.1v1h-1.1zM426.1 363.9h1.3v1h-1.3zM420.9 407.7h1.1v1h-1.1z" fill="#e04050" fill-opacity="0.2"/><path d="M437.8 255.7h1.0v1h-1.0zM450.4 248.5h0.8v1h-0.8zM418.0 357.5h1.2v1h-1.2zM418.9 383.7h1.2v1h-1.2zM454.1 245.6h1.5v1h-1.5zM419.4 398.3h1.5v1h-1.5zM448.3 386.5h1.2v1h-1.2zM448.9 256.9h1.4v1h-1.4zM429.7 292.5h1.4v1h-1.4zM418.9 307.6h1.2v1h-1.2zM441.2 316.4h1.2v1h-1.2zM447.0 449.2h1.4v1h-1.4zM438.9 287.2h1.3v1h-1.3zM436.0 291.1h1.0v1h-1.0zM440.1 310.2h1.2v1h-1.2zM427.2 447.0h1.4v1h-1.4zM421.0 353.4h0.9v1h-0.9zM423.3 314.0h0.8v1h-0.8zM451.8 254.6h0.9v1h-0.9zM430.9 279.9h1.2v1h-1.2zM433.9 342.0h1.3v1h-1.3zM429.5 304.9h0.9v1h-0.9zM446.5 371.3h1.1v1h-1.1zM439.2 271.1h1.2v1h-1.2zM432.6 360.7h1.3v1h-1.3z" fill="#e04050" fill-opacity="0.16"/><path d="M439.7 367.0h1.4v1h-1.4zM448.6 354.2h1.3v1h-1.3zM431.3 275.2h1.5v1h-1.5zM429.0 278.8h1.1v1h-1.1zM451.1 252.6h0.9v1h-0.9zM417.5 332.1h1.2v1h-1.2zM424.5 369.5h1.1v1h-1.1zM439.5 264.1h1.4v1h-1.4zM424.0 320.0h1.1v1h-1.1zM447.1 385.7h1.5v1h-1.5zM442.8 257.8h1.4v1h-1.4zM450.3 309.8h1.1v1h-1.1zM444.4 383.5h1.5v1h-1.5zM434.5 295.2h1.1v1h-1.1zM431.1 299.5h1.4v1h-1.4zM418.1 369.8h1.2v1h-1.2zM426.6 319.3h1.0v1h-1.0zM447.6 388.2h0.9v1h-0.9zM434.6 331.8h1.3v1h-1.3zM439.2 335.2h1.4v1h-1.4zM420.1 404.9h1.1v1h-1.1zM438.3 279.3h1.5v1h-1.5zM453.8 253.0h1.4v1h-1.4zM426.4 386.5h1.3v1h-1.3zM423.5 343.0h1.2v1h-1.2zM418.0 375.0h1.4v1h-1.4zM453.3 301.6h1.0v1h-1.0zM442.9 248.7h1.0v1h-1.0zM425.4 267.0h1.3v1h-1.3zM454.2 287.0h0.8v1h-0.8z" fill="#e04050" fill-opacity="0.26"/><path d="M431.5 287.3h1.3v1h-1.3zM438.8 275.1h0.9v1h-0.9zM429.4 370.8h0.9v1h-0.9zM427.2 270.0h1.4v1h-1.4zM419.6 328.8h0.9v1h-0.9zM419.8 248.9h0.9v1h-0.9zM421.7 379.6h0.8v1h-0.8zM441.2 461.3h1.4v1h-1.4zM438.3 302.0h1.0v1h-1.0zM428.1 291.6h1.1v1h-1.1zM452.3 278.2h0.9v1h-0.9zM444.6 243.1h1.0v1h-1.0zM427.3 284.9h1.2v1h-1.2zM439.0 331.8h1.3v1h-1.3zM422.9 324.5h0.9v1h-0.9zM452.8 401.6h1.4v1h-1.4zM428.9 357.9h1.0v1h-1.0zM452.8 284.9h0.9v1h-0.9zM453.0 422.6h1.5v1h-1.5zM439.2 287.4h1.2v1h-1.2zM438.6 383.4h1.1v1h-1.1zM428.3 276.0h1.3v1h-1.3zM444.2 318.4h1.2v1h-1.2zM427.0 424.9h1.4v1h-1.4zM427.8 298.2h1.2v1h-1.2zM425.9 416.5h1.2v1h-1.2z" fill="#e04050" fill-opacity="0.24"/><rect x="417.3" y="432.2" width="38.69999999999999" height="2.400000000000034" fill="#c2b8b8"/><rect x="417.3" y="241.2" width="38.69999999999999" height="221.60000000000002" fill="none" stroke="#a09c9c" stroke-width="0.8"/>
<rect x="471.3" y="241.2" width="39.0" height="221.60000000000002" fill="#fff"/><path d="M471.3 241.2h39.0v1.1h-39.0zM471.3 243.2h39.0v1.1h-39.0zM471.3 254.2h39.0v1.1h-39.0zM471.3 255.2h39.0v1.1h-39.0zM471.3 256.2h39.0v1.1h-39.0zM471.3 257.2h39.0v1.1h-39.0zM471.3 262.2h39.0v1.1h-39.0zM471.3 266.2h39.0v1.1h-39.0zM471.3 267.2h39.0v1.1h-39.0zM471.3 272.2h39.0v1.1h-39.0zM471.3 274.2h39.0v1.1h-39.0zM471.3 277.2h39.0v1.1h-39.0zM471.3 282.2h39.0v1.1h-39.0zM471.3 290.2h39.0v1.1h-39.0zM471.3 299.2h39.0v1.1h-39.0zM471.3 300.2h39.0v1.1h-39.0zM471.3 304.2h39.0v1.1h-39.0zM471.3 306.2h39.0v1.1h-39.0zM471.3 307.2h39.0v1.1h-39.0zM471.3 317.2h39.0v1.1h-39.0zM471.3 322.2h39.0v1.1h-39.0zM471.3 324.2h39.0v1.1h-39.0zM471.3 334.2h39.0v1.1h-39.0zM471.3 338.2h39.0v1.1h-39.0zM471.3 339.2h39.0v1.1h-39.0zM471.3 344.2h39.0v1.1h-39.0zM471.3 345.2h39.0v1.1h-39.0zM471.3 351.2h39.0v1.1h-39.0zM471.3 354.2h39.0v1.1h-39.0zM471.3 357.2h39.0v1.1h-39.0zM471.3 360.2h39.0v1.1h-39.0zM471.3 366.2h39.0v1.1h-39.0zM471.3 370.2h39.0v1.1h-39.0zM471.3 374.2h39.0v1.1h-39.0zM471.3 386.2h39.0v1.1h-39.0zM471.3 395.2h39.0v1.1h-39.0zM471.3 399.2h39.0v1.1h-39.0zM471.3 402.2h39.0v1.1h-39.0zM471.3 410.2h39.0v1.1h-39.0zM471.3 411.2h39.0v1.1h-39.0zM471.3 415.2h39.0v1.1h-39.0zM471.3 420.2h39.0v1.1h-39.0zM471.3 426.2h39.0v1.1h-39.0zM471.3 427.2h39.0v1.1h-39.0zM471.3 428.2h39.0v1.1h-39.0zM471.3 429.2h39.0v1.1h-39.0zM471.3 431.2h39.0v1.1h-39.0z" fill="#e6402e" fill-opacity="0.1"/><path d="M492.7 241.2h9.9v0.9h-9.9zM487.4 242.2h3.2v0.9h-3.2zM475.9 249.2h10.2v0.9h-10.2zM477.5 252.2h9.0v0.9h-9.0zM478.7 252.2h2.2v0.9h-2.2zM498.5 253.2h3.9v0.9h-3.9zM489.6 255.2h11.9v0.9h-11.9zM493.1 257.2h2.0v0.9h-2.0zM494.3 258.2h6.7v0.9h-6.7zM499.1 262.2h4.7v0.9h-4.7zM485.0 265.2h8.4v0.9h-8.4zM475.2 281.2h3.0v0.9h-3.0zM500.6 285.2h3.6v0.9h-3.6zM495.4 292.2h11.2v0.9h-11.2zM482.7 301.2h6.8v0.9h-6.8zM483.9 302.2h10.9v0.9h-10.9zM500.6 305.2h3.9v0.9h-3.9zM490.9 307.2h8.6v0.9h-8.6zM476.3 314.2h10.2v0.9h-10.2zM472.8 315.2h5.5v0.9h-5.5zM491.8 319.2h3.4v0.9h-3.4zM500.9 325.2h4.3v0.9h-4.3zM489.7 326.2h9.9v0.9h-9.9zM474.6 331.2h9.8v0.9h-9.8zM482.0 332.2h11.6v0.9h-11.6zM501.0 332.2h6.5v0.9h-6.5zM489.7 345.2h13.5v0.9h-13.5zM475.4 349.2h7.0v0.9h-7.0zM475.9 352.2h2.4v0.9h-2.4zM501.3 353.2h7.0v0.9h-7.0zM499.7 353.2h5.1v0.9h-5.1zM494.1 360.2h9.4v0.9h-9.4zM474.8 361.2h10.9v0.9h-10.9zM484.3 362.2h8.1v0.9h-8.1zM475.3 363.2h6.3v0.9h-6.3zM494.4 366.2h6.2v0.9h-6.2zM475.0 369.2h2.5v0.9h-2.5zM502.0 371.2h4.3v0.9h-4.3zM473.0 374.2h2.3v0.9h-2.3zM484.9 374.2h3.5v0.9h-3.5zM492.4 375.2h10.4v0.9h-10.4zM481.6 376.2h7.7v0.9h-7.7zM486.7 377.2h8.4v0.9h-8.4zM485.5 378.2h6.8v0.9h-6.8zM487.7 390.2h5.4v0.9h-5.4zM489.5 399.2h7.4v0.9h-7.4zM495.6 404.2h11.7v0.9h-11.7zM491.1 405.2h7.3v0.9h-7.3zM481.2 413.2h12.1v0.9h-12.1zM493.1 419.2h8.7v0.9h-8.7zM495.3 428.2h11.7v0.9h-11.7z" fill="#dc3a2e" fill-opacity="0.12"/><path d="M482.1 241.2h2.3v0.9h-2.3zM493.8 256.2h13.4v0.9h-13.4zM501.0 259.2h9.3v0.9h-9.3zM481.3 261.2h10.8v0.9h-10.8zM488.6 265.2h10.2v0.9h-10.2zM497.1 266.2h6.9v0.9h-6.9zM471.4 267.2h8.4v0.9h-8.4zM502.3 269.2h8.0v0.9h-8.0zM487.4 273.2h10.6v0.9h-10.6zM495.2 287.2h2.4v0.9h-2.4zM497.6 297.2h8.9v0.9h-8.9zM493.4 300.2h5.4v0.9h-5.4zM479.5 312.2h3.3v0.9h-3.3zM471.4 313.2h5.1v0.9h-5.1zM473.6 321.2h7.8v0.9h-7.8zM478.7 322.2h2.4v0.9h-2.4zM481.5 324.2h8.2v0.9h-8.2zM486.9 325.2h7.2v0.9h-7.2zM497.7 330.2h6.4v0.9h-6.4zM497.1 334.2h13.1v0.9h-13.1zM484.6 335.2h11.4v0.9h-11.4zM483.6 336.2h11.8v0.9h-11.8zM490.6 344.2h5.4v0.9h-5.4zM495.4 349.2h8.3v0.9h-8.3zM482.6 352.2h10.5v0.9h-10.5zM496.3 354.2h6.1v0.9h-6.1zM482.3 357.2h2.7v0.9h-2.7zM472.7 362.2h2.9v0.9h-2.9zM472.2 374.2h11.1v0.9h-11.1zM483.1 377.2h12.5v0.9h-12.5zM474.7 378.2h6.2v0.9h-6.2zM482.1 381.2h12.8v0.9h-12.8zM488.3 382.2h11.1v0.9h-11.1zM472.0 385.2h8.2v0.9h-8.2zM494.9 389.2h8.8v0.9h-8.8zM498.1 396.2h3.7v0.9h-3.7zM477.7 400.2h7.2v0.9h-7.2zM500.4 401.2h9.9v0.9h-9.9zM487.7 403.2h4.7v0.9h-4.7zM499.8 407.2h10.2v0.9h-10.2zM474.4 409.2h12.4v0.9h-12.4zM481.4 411.2h13.3v0.9h-13.3zM475.2 413.2h10.7v0.9h-10.7zM495.2 416.2h4.7v0.9h-4.7zM477.3 417.2h12.6v0.9h-12.6zM496.2 417.2h3.7v0.9h-3.7zM472.4 428.2h10.9v0.9h-10.9zM471.9 429.2h3.5v0.9h-3.5z" fill="#dc3a2e" fill-opacity="0.14"/><path d="M483.5 241.2h15.0v1.1h-15.0zM483.1 242.2h15.0v1.1h-15.0zM482.8 246.2h14.8v1.1h-14.8zM483.4 249.2h14.6v1.1h-14.6zM482.6 251.2h14.5v1.1h-14.5zM482.6 254.2h14.4v1.1h-14.4zM483.1 259.2h14.2v1.1h-14.2zM483.5 260.2h14.1v1.1h-14.1zM483.5 264.2h13.9v1.1h-13.9zM484.1 266.2h13.8v1.1h-13.8zM483.0 267.2h13.8v1.1h-13.8zM483.4 272.2h13.5v1.1h-13.5zM484.5 278.2h13.3v1.1h-13.3zM484.4 279.2h13.2v1.1h-13.2zM484.8 283.2h13.0v1.1h-13.0zM483.5 286.2h12.9v1.1h-12.9zM484.2 289.2h12.7v1.1h-12.7zM483.7 291.2h12.6v1.1h-12.6zM484.7 294.2h12.5v1.1h-12.5zM483.7 295.2h12.5v1.1h-12.5zM484.1 297.2h12.4v1.1h-12.4zM485.4 300.2h12.2v1.1h-12.2zM485.0 306.2h11.9v1.1h-11.9zM484.5 310.2h11.7v1.1h-11.7zM485.3 312.2h11.7v1.1h-11.7zM489.1 392.2h3.9v1.1h-3.9zM490.6 395.2h3.9v1.1h-3.9zM488.7 396.2h3.8v1.1h-3.8zM489.2 397.2h3.8v1.1h-3.8zM490.7 398.2h3.8v1.1h-3.8zM490.3 400.2h3.8v1.1h-3.8zM488.6 403.2h3.7v1.1h-3.7zM490.0 406.2h3.6v1.1h-3.6zM488.7 408.2h3.6v1.1h-3.6zM490.6 411.2h3.5v1.1h-3.5zM490.2 412.2h3.5v1.1h-3.5z" fill="#e8463a" fill-opacity="0.12"/><path d="M487.7 241.2h7.5v1.1h-7.5zM485.5 250.2h7.3v1.1h-7.3zM485.9 251.2h7.3v1.1h-7.3zM485.9 254.2h7.2v1.1h-7.2zM487.9 266.2h6.9v1.1h-6.9zM486.7 269.2h6.8v1.1h-6.8zM487.8 280.2h6.6v1.1h-6.6zM487.5 282.2h6.5v1.1h-6.5zM487.3 289.2h6.4v1.1h-6.4zM486.9 297.2h6.2v1.1h-6.2zM488.9 300.2h6.1v1.1h-6.1zM488.1 302.2h6.1v1.1h-6.1zM487.1 310.2h5.9v1.1h-5.9zM488.4 312.2h5.8v1.1h-5.8z" fill="#e8463a" fill-opacity="0.36"/><path d="M471.3 242.2h39.0v1.1h-39.0zM471.3 250.2h39.0v1.1h-39.0zM471.3 276.2h39.0v1.1h-39.0zM471.3 284.2h39.0v1.1h-39.0zM471.3 296.2h39.0v1.1h-39.0zM471.3 297.2h39.0v1.1h-39.0zM471.3 302.2h39.0v1.1h-39.0zM471.3 308.2h39.0v1.1h-39.0zM471.3 309.2h39.0v1.1h-39.0zM471.3 316.2h39.0v1.1h-39.0zM471.3 321.2h39.0v1.1h-39.0zM471.3 326.2h39.0v1.1h-39.0zM471.3 327.2h39.0v1.1h-39.0zM471.3 329.2h39.0v1.1h-39.0zM471.3 330.2h39.0v1.1h-39.0zM471.3 343.2h39.0v1.1h-39.0zM471.3 361.2h39.0v1.1h-39.0z" fill="#e6402e" fill-opacity="0.16"/><path d="M499.9 242.2h9.4v0.9h-9.4zM482.1 243.2h6.4v0.9h-6.4zM489.0 250.2h5.5v0.9h-5.5zM481.0 254.2h8.2v0.9h-8.2zM500.5 264.2h9.8v0.9h-9.8zM490.2 274.2h5.1v0.9h-5.1zM500.8 281.2h9.5v0.9h-9.5zM483.7 283.2h8.3v0.9h-8.3zM475.8 286.2h6.3v0.9h-6.3zM499.3 301.2h11.0v0.9h-11.0zM493.8 310.2h2.0v0.9h-2.0zM479.4 322.2h10.4v0.9h-10.4zM478.4 324.2h12.8v0.9h-12.8zM471.8 333.2h2.8v0.9h-2.8zM487.8 340.2h9.5v0.9h-9.5zM471.4 341.2h7.0v0.9h-7.0zM479.8 346.2h10.0v0.9h-10.0zM473.9 348.2h9.6v0.9h-9.6zM492.8 350.2h11.2v0.9h-11.2zM492.6 358.2h2.4v0.9h-2.4zM477.9 359.2h12.2v0.9h-12.2zM477.3 364.2h7.0v0.9h-7.0zM477.1 366.2h12.5v0.9h-12.5zM485.1 367.2h11.5v0.9h-11.5zM474.9 368.2h12.4v0.9h-12.4zM472.7 369.2h3.9v0.9h-3.9zM492.4 370.2h3.7v0.9h-3.7zM487.6 384.2h5.8v0.9h-5.8zM485.4 384.2h2.7v0.9h-2.7zM473.8 384.2h6.9v0.9h-6.9zM474.4 394.2h4.2v0.9h-4.2z" fill="#dc3a2e" fill-opacity="0.16"/><path d="M487.0 242.2h7.5v1.1h-7.5zM487.1 260.2h7.1v1.1h-7.1zM487.0 264.2h7.0v1.1h-7.0zM486.0 267.2h6.9v1.1h-6.9zM486.5 272.2h6.8v1.1h-6.8zM488.0 279.2h6.6v1.1h-6.6zM486.2 286.2h6.4v1.1h-6.4zM486.4 291.2h6.3v1.1h-6.3zM488.1 306.2h6.0v1.1h-6.0z" fill="#e8463a" fill-opacity="0.38"/><path d="M482.2 243.2h14.9v1.1h-14.9zM483.4 247.2h14.7v1.1h-14.7zM483.1 253.2h14.4v1.1h-14.4zM483.9 256.2h14.3v1.1h-14.3zM488.8 386.2h4.1v1.1h-4.1zM488.4 390.2h4.0v1.1h-4.0zM488.7 401.2h3.7v1.1h-3.7zM488.9 404.2h3.7v1.1h-3.7zM489.8 407.2h3.6v1.1h-3.6zM490.0 410.2h3.5v1.1h-3.5z" fill="#e8463a" fill-opacity="0.14"/><path d="M485.4 243.2h7.5v1.1h-7.5zM487.4 247.2h7.4v1.1h-7.4zM487.9 256.2h7.1v1.1h-7.1z" fill="#e8463a" fill-opacity="0.44"/><path d="M471.3 244.2h39.0v1.1h-39.0zM471.3 249.2h39.0v1.1h-39.0zM471.3 251.2h39.0v1.1h-39.0zM471.3 252.2h39.0v1.1h-39.0zM471.3 260.2h39.0v1.1h-39.0zM471.3 273.2h39.0v1.1h-39.0zM471.3 281.2h39.0v1.1h-39.0zM471.3 285.2h39.0v1.1h-39.0zM471.3 293.2h39.0v1.1h-39.0z" fill="#e6402e" fill-opacity="0.18"/><path d="M474.3 244.2h9.9v0.9h-9.9zM495.4 249.2h9.0v0.9h-9.0zM485.9 251.2h12.1v0.9h-12.1zM481.4 255.2h4.0v0.9h-4.0zM495.0 266.2h9.4v0.9h-9.4zM486.1 275.2h6.1v0.9h-6.1zM492.6 276.2h13.4v0.9h-13.4zM497.8 281.2h10.9v0.9h-10.9zM486.5 286.2h11.6v0.9h-11.6zM496.2 294.2h4.1v0.9h-4.1zM489.7 296.2h11.1v0.9h-11.1zM501.0 302.2h9.3v0.9h-9.3zM472.9 304.2h2.1v0.9h-2.1zM481.0 313.2h4.1v0.9h-4.1zM478.5 318.2h5.2v0.9h-5.2zM490.7 325.2h4.5v0.9h-4.5zM489.8 328.2h5.0v0.9h-5.0zM473.5 334.2h4.0v0.9h-4.0zM475.2 337.2h5.4v0.9h-5.4zM481.3 339.2h3.7v0.9h-3.7zM481.5 342.2h11.8v0.9h-11.8zM501.4 343.2h8.9v0.9h-8.9zM471.5 346.2h12.9v0.9h-12.9zM486.6 348.2h6.9v0.9h-6.9zM481.6 357.2h8.6v0.9h-8.6zM486.9 364.2h11.0v0.9h-11.0zM489.6 365.2h7.0v0.9h-7.0zM474.4 372.2h11.3v0.9h-11.3zM481.5 379.2h12.9v0.9h-12.9zM477.1 382.2h6.5v0.9h-6.5zM500.0 385.2h7.1v0.9h-7.1zM476.0 387.2h9.3v0.9h-9.3zM474.6 387.2h6.3v0.9h-6.3zM490.1 388.2h9.5v0.9h-9.5zM484.7 391.2h7.0v0.9h-7.0zM476.5 391.2h3.8v0.9h-3.8zM499.4 391.2h3.1v0.9h-3.1zM479.9 392.2h8.5v0.9h-8.5zM475.3 397.2h6.3v0.9h-6.3zM480.0 398.2h6.4v0.9h-6.4zM485.7 401.2h12.2v0.9h-12.2zM496.7 408.2h12.4v0.9h-12.4zM485.0 410.2h13.6v0.9h-13.6zM492.7 412.2h6.7v0.9h-6.7zM474.6 414.2h5.5v0.9h-5.5zM471.7 421.2h3.1v0.9h-3.1zM472.9 421.2h13.6v0.9h-13.6zM483.3 423.2h10.5v0.9h-10.5zM497.9 426.2h11.1v0.9h-11.1z" fill="#dc3a2e" fill-opacity="0.1"/><path d="M483.1 244.2h14.9v1.1h-14.9zM483.0 245.2h14.8v1.1h-14.8zM482.4 248.2h14.7v1.1h-14.7zM482.3 250.2h14.6v1.1h-14.6zM482.8 252.2h14.5v1.1h-14.5zM483.8 255.2h14.3v1.1h-14.3zM483.9 257.2h14.2v1.1h-14.2zM483.6 258.2h14.2v1.1h-14.2zM483.1 261.2h14.1v1.1h-14.1zM482.8 262.2h14.0v1.1h-14.0zM483.1 263.2h14.0v1.1h-14.0zM483.3 265.2h13.9v1.1h-13.9zM483.5 268.2h13.7v1.1h-13.7zM483.4 269.2h13.7v1.1h-13.7zM483.7 270.2h13.6v1.1h-13.6zM483.7 271.2h13.6v1.1h-13.6zM483.6 273.2h13.5v1.1h-13.5zM484.5 274.2h13.4v1.1h-13.4zM484.3 275.2h13.4v1.1h-13.4zM484.6 276.2h13.4v1.1h-13.4zM483.5 277.2h13.3v1.1h-13.3zM484.3 280.2h13.2v1.1h-13.2zM483.4 281.2h13.1v1.1h-13.1zM484.2 282.2h13.1v1.1h-13.1zM484.9 284.2h13.0v1.1h-13.0zM484.2 285.2h12.9v1.1h-12.9zM484.3 287.2h12.8v1.1h-12.8zM484.9 288.2h12.8v1.1h-12.8zM484.9 290.2h12.7v1.1h-12.7zM483.6 292.2h12.6v1.1h-12.6zM484.6 293.2h12.5v1.1h-12.5zM484.4 296.2h12.4v1.1h-12.4zM485.1 298.2h12.3v1.1h-12.3zM484.4 299.2h12.3v1.1h-12.3zM485.0 302.2h12.1v1.1h-12.1zM485.1 303.2h12.1v1.1h-12.1zM485.2 304.2h12.0v1.1h-12.0zM484.6 305.2h12.0v1.1h-12.0zM484.3 307.2h11.9v1.1h-11.9zM485.2 309.2h11.8v1.1h-11.8zM485.7 313.2h11.6v1.1h-11.6zM485.1 314.2h11.6v1.1h-11.6zM485.8 317.2h11.4v1.1h-11.4zM485.9 320.2h11.3v1.1h-11.3zM485.7 323.2h11.1v1.1h-11.1zM485.2 325.2h11.0v1.1h-11.0zM485.5 327.2h10.9v1.1h-10.9zM485.4 330.2h10.8v1.1h-10.8zM485.7 335.2h10.6v1.1h-10.6zM486.1 340.2h10.3v1.1h-10.3zM490.7 405.2h3.6v1.1h-3.6zM490.1 409.2h3.5v1.1h-3.5zM488.8 413.2h3.4v1.1h-3.4zM489.1 415.2h3.4v1.1h-3.4zM490.1 418.2h3.3v1.1h-3.3zM490.5 419.2h3.3v1.1h-3.3zM491.4 422.2h3.2v1.1h-3.2z" fill="#e8463a" fill-opacity="0.1"/><path d="M487.0 244.2h7.4v1.1h-7.4zM485.6 248.2h7.3v1.1h-7.3zM486.5 261.2h7.0v1.1h-7.0zM485.9 262.2h7.0v1.1h-7.0zM486.6 265.2h6.9v1.1h-6.9zM486.8 268.2h6.9v1.1h-6.9zM487.1 271.2h6.8v1.1h-6.8zM486.6 277.2h6.7v1.1h-6.7zM487.5 285.2h6.5v1.1h-6.5zM488.5 290.2h6.3v1.1h-6.3zM486.3 292.2h6.3v1.1h-6.3zM487.8 293.2h6.3v1.1h-6.3zM488.5 298.2h6.2v1.1h-6.2zM488.3 303.2h6.0v1.1h-6.0zM488.4 304.2h6.0v1.1h-6.0zM488.1 314.2h5.8v1.1h-5.8zM489.1 317.2h5.7v1.1h-5.7zM488.3 327.2h5.5v1.1h-5.5zM487.9 330.2h5.4v1.1h-5.4zM488.3 335.2h5.3v1.1h-5.3zM488.8 340.2h5.2v1.1h-5.2z" fill="#e8463a" fill-opacity="0.3"/><path d="M471.3 245.2h39.0v1.1h-39.0zM471.3 253.2h39.0v1.1h-39.0z" fill="#e6402e" fill-opacity="0.2"/><path d="M486.8 245.2h7.4v1.1h-7.4zM486.3 252.2h7.2v1.1h-7.2zM487.8 255.2h7.2v1.1h-7.2zM487.3 258.2h7.1v1.1h-7.1zM486.3 263.2h7.0v1.1h-7.0zM486.8 273.2h6.7v1.1h-6.7zM488.3 274.2h6.7v1.1h-6.7zM488.6 288.2h6.4v1.1h-6.4zM487.3 299.2h6.1v1.1h-6.1zM487.0 307.2h5.9v1.1h-5.9zM488.3 309.2h5.9v1.1h-5.9zM489.1 313.2h5.8v1.1h-5.8zM489.2 320.2h5.6v1.1h-5.6zM487.8 325.2h5.5v1.1h-5.5z" fill="#e8463a" fill-opacity="0.32"/><path d="M471.3 246.2h39.0v1.1h-39.0zM471.3 247.2h39.0v1.1h-39.0zM471.3 258.2h39.0v1.1h-39.0zM471.3 270.2h39.0v1.1h-39.0zM471.3 271.2h39.0v1.1h-39.0zM471.3 275.2h39.0v1.1h-39.0zM471.3 278.2h39.0v1.1h-39.0zM471.3 283.2h39.0v1.1h-39.0zM471.3 287.2h39.0v1.1h-39.0zM471.3 294.2h39.0v1.1h-39.0zM471.3 298.2h39.0v1.1h-39.0zM471.3 305.2h39.0v1.1h-39.0zM471.3 312.2h39.0v1.1h-39.0zM471.3 314.2h39.0v1.1h-39.0zM471.3 328.2h39.0v1.1h-39.0zM471.3 331.2h39.0v1.1h-39.0zM471.3 337.2h39.0v1.1h-39.0zM471.3 341.2h39.0v1.1h-39.0zM471.3 350.2h39.0v1.1h-39.0zM471.3 355.2h39.0v1.1h-39.0zM471.3 358.2h39.0v1.1h-39.0zM471.3 359.2h39.0v1.1h-39.0zM471.3 362.2h39.0v1.1h-39.0zM471.3 367.2h39.0v1.1h-39.0zM471.3 375.2h39.0v1.1h-39.0zM471.3 377.2h39.0v1.1h-39.0zM471.3 378.2h39.0v1.1h-39.0zM471.3 379.2h39.0v1.1h-39.0zM471.3 380.2h39.0v1.1h-39.0zM471.3 381.2h39.0v1.1h-39.0zM471.3 382.2h39.0v1.1h-39.0zM471.3 387.2h39.0v1.1h-39.0zM471.3 392.2h39.0v1.1h-39.0zM471.3 393.2h39.0v1.1h-39.0zM471.3 394.2h39.0v1.1h-39.0zM471.3 396.2h39.0v1.1h-39.0zM471.3 401.2h39.0v1.1h-39.0zM471.3 403.2h39.0v1.1h-39.0zM471.3 404.2h39.0v1.1h-39.0zM471.3 405.2h39.0v1.1h-39.0zM471.3 413.2h39.0v1.1h-39.0zM471.3 414.2h39.0v1.1h-39.0zM471.3 416.2h39.0v1.1h-39.0zM471.3 421.2h39.0v1.1h-39.0zM471.3 424.2h39.0v1.1h-39.0zM471.3 425.2h39.0v1.1h-39.0z" fill="#e6402e" fill-opacity="0.12"/><path d="M479.9 246.2h3.1v0.9h-3.1zM500.6 254.2h3.2v0.9h-3.2zM495.0 257.2h6.4v0.9h-6.4zM486.5 260.2h11.7v0.9h-11.7zM477.7 260.2h10.3v0.9h-10.3zM486.6 265.2h2.4v0.9h-2.4zM493.9 275.2h12.7v0.9h-12.7zM491.7 278.2h10.5v0.9h-10.5zM498.3 285.2h6.7v0.9h-6.7zM484.5 288.2h8.7v0.9h-8.7z" fill="#dc3a2e" fill-opacity="0.2"/><path d="M486.3 246.2h7.4v1.1h-7.4zM487.3 249.2h7.3v1.1h-7.3zM486.4 259.2h7.1v1.1h-7.1zM487.9 294.2h6.3v1.1h-6.3zM486.3 295.2h6.2v1.1h-6.2z" fill="#e8463a" fill-opacity="0.4"/><path d="M483.1 247.2h11.2v0.9h-11.2zM476.7 248.2h8.5v0.9h-8.5zM490.9 248.2h9.7v0.9h-9.7zM481.7 250.2h5.0v0.9h-5.0zM478.7 268.2h2.5v0.9h-2.5zM474.8 271.2h11.5v0.9h-11.5zM481.8 273.2h9.7v0.9h-9.7zM474.0 279.2h5.5v0.9h-5.5zM479.5 282.2h12.3v0.9h-12.3zM474.3 282.2h9.2v0.9h-9.2zM476.3 283.2h7.5v0.9h-7.5zM493.9 284.2h12.3v0.9h-12.3zM488.7 291.2h11.6v0.9h-11.6zM473.9 294.2h7.6v0.9h-7.6zM482.4 294.2h4.9v0.9h-4.9zM474.7 296.2h12.5v0.9h-12.5zM493.0 296.2h13.5v0.9h-13.5zM496.9 299.2h6.1v0.9h-6.1zM481.4 299.2h10.8v0.9h-10.8zM490.8 300.2h11.5v0.9h-11.5zM472.2 308.2h2.5v0.9h-2.5zM475.1 309.2h4.4v0.9h-4.4zM497.3 312.2h6.5v0.9h-6.5zM499.8 314.2h6.3v0.9h-6.3zM477.8 316.2h2.8v0.9h-2.8zM501.8 319.2h4.3v0.9h-4.3zM481.6 320.2h10.8v0.9h-10.8zM488.0 327.2h6.6v0.9h-6.6zM478.5 329.2h6.1v0.9h-6.1zM473.9 351.2h12.9v0.9h-12.9zM474.2 354.2h7.4v0.9h-7.4z" fill="#dc3a2e" fill-opacity="0.18"/><path d="M471.3 248.2h39.0v1.1h-39.0zM471.3 259.2h39.0v1.1h-39.0zM471.3 264.2h39.0v1.1h-39.0zM471.3 265.2h39.0v1.1h-39.0zM471.3 268.2h39.0v1.1h-39.0zM471.3 269.2h39.0v1.1h-39.0zM471.3 279.2h39.0v1.1h-39.0zM471.3 289.2h39.0v1.1h-39.0zM471.3 292.2h39.0v1.1h-39.0zM471.3 295.2h39.0v1.1h-39.0zM471.3 303.2h39.0v1.1h-39.0zM471.3 311.2h39.0v1.1h-39.0zM471.3 313.2h39.0v1.1h-39.0zM471.3 315.2h39.0v1.1h-39.0zM471.3 319.2h39.0v1.1h-39.0zM471.3 320.2h39.0v1.1h-39.0zM471.3 333.2h39.0v1.1h-39.0zM471.3 335.2h39.0v1.1h-39.0zM471.3 346.2h39.0v1.1h-39.0zM471.3 347.2h39.0v1.1h-39.0zM471.3 348.2h39.0v1.1h-39.0zM471.3 352.2h39.0v1.1h-39.0zM471.3 353.2h39.0v1.1h-39.0zM471.3 356.2h39.0v1.1h-39.0zM471.3 364.2h39.0v1.1h-39.0zM471.3 369.2h39.0v1.1h-39.0zM471.3 372.2h39.0v1.1h-39.0zM471.3 373.2h39.0v1.1h-39.0zM471.3 383.2h39.0v1.1h-39.0z" fill="#e6402e" fill-opacity="0.14"/><path d="M497.1 248.2h6.9v0.9h-6.9zM491.6 252.2h10.6v0.9h-10.6z" fill="#dc3a2e" fill-opacity="0.22"/><path d="M486.7 253.2h7.2v1.1h-7.2zM488.2 278.2h6.6v1.1h-6.6zM488.5 283.2h6.5v1.1h-6.5z" fill="#e8463a" fill-opacity="0.42"/><path d="M487.8 257.2h7.1v1.1h-7.1zM487.1 270.2h6.8v1.1h-6.8zM487.9 275.2h6.7v1.1h-6.7zM488.4 276.2h6.7v1.1h-6.7zM486.3 281.2h6.6v1.1h-6.6zM488.6 284.2h6.5v1.1h-6.5zM487.6 287.2h6.4v1.1h-6.4zM487.4 296.2h6.2v1.1h-6.2zM487.5 305.2h6.0v1.1h-6.0zM488.7 323.2h5.6v1.1h-5.6z" fill="#e8463a" fill-opacity="0.34"/><path d="M471.3 261.2h39.0v1.1h-39.0zM471.3 263.2h39.0v1.1h-39.0zM471.3 280.2h39.0v1.1h-39.0zM471.3 286.2h39.0v1.1h-39.0zM471.3 288.2h39.0v1.1h-39.0zM471.3 291.2h39.0v1.1h-39.0zM471.3 301.2h39.0v1.1h-39.0zM471.3 310.2h39.0v1.1h-39.0zM471.3 318.2h39.0v1.1h-39.0zM471.3 323.2h39.0v1.1h-39.0zM471.3 325.2h39.0v1.1h-39.0zM471.3 332.2h39.0v1.1h-39.0zM471.3 336.2h39.0v1.1h-39.0zM471.3 342.2h39.0v1.1h-39.0zM471.3 349.2h39.0v1.1h-39.0zM471.3 363.2h39.0v1.1h-39.0zM471.3 365.2h39.0v1.1h-39.0zM471.3 368.2h39.0v1.1h-39.0zM471.3 371.2h39.0v1.1h-39.0zM471.3 376.2h39.0v1.1h-39.0zM471.3 385.2h39.0v1.1h-39.0zM471.3 388.2h39.0v1.1h-39.0zM471.3 389.2h39.0v1.1h-39.0zM471.3 390.2h39.0v1.1h-39.0zM471.3 391.2h39.0v1.1h-39.0zM471.3 397.2h39.0v1.1h-39.0zM471.3 398.2h39.0v1.1h-39.0zM471.3 408.2h39.0v1.1h-39.0zM471.3 412.2h39.0v1.1h-39.0zM471.3 417.2h39.0v1.1h-39.0zM471.3 418.2h39.0v1.1h-39.0zM471.3 419.2h39.0v1.1h-39.0zM471.3 422.2h39.0v1.1h-39.0zM471.3 423.2h39.0v1.1h-39.0zM471.3 430.2h39.0v1.1h-39.0z" fill="#e6402e" fill-opacity="0.08"/><path d="M489.0 283.2h2.9v0.9h-2.9zM498.4 289.2h10.1v0.9h-10.1zM481.7 305.2h8.4v0.9h-8.4zM479.6 307.2h10.5v0.9h-10.5zM480.7 317.2h8.6v0.9h-8.6zM495.8 336.2h7.5v0.9h-7.5zM494.5 337.2h3.2v0.9h-3.2zM477.7 338.2h9.2v0.9h-9.2zM499.8 338.2h10.5v0.9h-10.5zM488.0 339.2h11.8v0.9h-11.8zM480.3 341.2h2.1v0.9h-2.1zM491.7 343.2h6.8v0.9h-6.8zM474.3 344.2h8.9v0.9h-8.9zM479.8 353.2h6.7v0.9h-6.7zM480.1 360.2h9.2v0.9h-9.2zM472.8 363.2h11.2v0.9h-11.2zM474.9 364.2h9.1v0.9h-9.1zM492.9 370.2h10.3v0.9h-10.3zM482.9 372.2h6.3v0.9h-6.3zM499.9 373.2h10.4v0.9h-10.4zM486.5 373.2h9.0v0.9h-9.0zM482.5 380.2h8.4v0.9h-8.4zM497.6 382.2h3.3v0.9h-3.3zM477.6 390.2h8.4v0.9h-8.4zM488.9 397.2h12.5v0.9h-12.5zM495.1 398.2h11.2v0.9h-11.2zM476.6 404.2h13.1v0.9h-13.1zM495.6 404.2h12.8v0.9h-12.8zM485.7 406.2h12.3v0.9h-12.3zM487.4 407.2h3.5v0.9h-3.5zM489.4 410.2h5.0v0.9h-5.0zM483.2 410.2h4.9v0.9h-4.9zM477.2 411.2h2.3v0.9h-2.3zM500.9 413.2h6.1v0.9h-6.1zM486.4 422.2h11.4v0.9h-11.4zM480.3 426.2h7.6v0.9h-7.6zM476.3 428.2h11.9v0.9h-11.9z" fill="#dc3a2e" fill-opacity="0.08"/><path d="M485.1 301.2h12.2v1.1h-12.2zM485.1 308.2h11.8v1.1h-11.8zM485.2 311.2h11.7v1.1h-11.7zM484.6 315.2h11.5v1.1h-11.5zM484.7 316.2h11.5v1.1h-11.5zM485.3 318.2h11.4v1.1h-11.4zM486.0 319.2h11.3v1.1h-11.3zM485.0 321.2h11.2v1.1h-11.2zM485.7 322.2h11.2v1.1h-11.2zM485.6 324.2h11.1v1.1h-11.1zM485.8 326.2h11.0v1.1h-11.0zM485.8 328.2h10.9v1.1h-10.9zM486.3 329.2h10.9v1.1h-10.9zM485.1 331.2h10.8v1.1h-10.8zM485.4 332.2h10.7v1.1h-10.7zM485.9 333.2h10.7v1.1h-10.7zM485.0 334.2h10.6v1.1h-10.6zM485.1 336.2h10.5v1.1h-10.5zM485.6 337.2h10.5v1.1h-10.5zM486.4 338.2h10.4v1.1h-10.4zM485.3 341.2h10.3v1.1h-10.3zM485.8 342.2h10.2v1.1h-10.2zM485.8 345.2h10.1v1.1h-10.1zM486.7 346.2h10.1v1.1h-10.1zM486.4 347.2h10.0v1.1h-10.0zM485.9 349.2h9.9v1.1h-9.9zM487.0 351.2h9.8v1.1h-9.8zM487.0 352.2h9.8v1.1h-9.8zM486.5 353.2h9.7v1.1h-9.7zM486.6 355.2h9.6v1.1h-9.6zM486.4 358.2h9.5v1.1h-9.5zM486.5 359.2h9.4v1.1h-9.4zM486.0 360.2h9.4v1.1h-9.4zM486.9 361.2h9.3v1.1h-9.3zM485.9 362.2h9.3v1.1h-9.3zM486.7 363.2h9.3v1.1h-9.3zM486.2 364.2h9.2v1.1h-9.2zM487.1 366.2h9.1v1.1h-9.1zM486.9 373.2h8.8v1.1h-8.8zM486.5 374.2h8.7v1.1h-8.7zM489.7 414.2h3.4v1.1h-3.4zM489.5 416.2h3.4v1.1h-3.4zM490.6 417.2h3.4v1.1h-3.4zM488.9 420.2h3.3v1.1h-3.3zM490.9 421.2h3.3v1.1h-3.3zM490.0 423.2h3.2v1.1h-3.2zM490.5 424.2h3.2v1.1h-3.2zM490.9 427.2h3.1v1.1h-3.1zM489.6 428.2h3.1v1.1h-3.1zM489.8 429.2h3.1v1.1h-3.1z" fill="#e8463a" fill-opacity="0.08"/><path d="M488.5 301.2h6.1v1.1h-6.1zM487.0 315.2h5.8v1.1h-5.8zM487.2 316.2h5.7v1.1h-5.7zM488.2 318.2h5.7v1.1h-5.7zM489.3 319.2h5.7v1.1h-5.7zM488.8 322.2h5.6v1.1h-5.6zM488.5 324.2h5.5v1.1h-5.5zM488.6 328.2h5.5v1.1h-5.5zM489.5 329.2h5.4v1.1h-5.4zM489.6 346.2h5.0v1.1h-5.0zM489.9 352.2h4.9v1.1h-4.9zM489.1 355.2h4.8v1.1h-4.8z" fill="#e8463a" fill-opacity="0.28"/><path d="M488.2 308.2h5.9v1.1h-5.9zM488.2 311.2h5.9v1.1h-5.9zM487.5 321.2h5.6v1.1h-5.6zM488.8 326.2h5.5v1.1h-5.5zM487.9 332.2h5.4v1.1h-5.4zM488.7 333.2h5.3v1.1h-5.3zM487.3 336.2h5.3v1.1h-5.3zM488.0 337.2h5.2v1.1h-5.2zM489.3 338.2h5.2v1.1h-5.2zM487.4 341.2h5.1v1.1h-5.1zM488.2 345.2h5.0v1.1h-5.0zM489.1 347.2h5.0v1.1h-5.0zM489.9 351.2h4.9v1.1h-4.9zM489.1 363.2h4.6v1.1h-4.6zM489.7 366.2h4.6v1.1h-4.6z" fill="#e8463a" fill-opacity="0.26"/><path d="M487.5 331.2h5.4v1.1h-5.4zM487.2 334.2h5.3v1.1h-5.3zM488.2 342.2h5.1v1.1h-5.1zM489.1 353.2h4.9v1.1h-4.9zM488.8 358.2h4.7v1.1h-4.7zM488.8 359.2h4.7v1.1h-4.7zM489.5 361.2h4.7v1.1h-4.7zM487.8 362.2h4.6v1.1h-4.6zM488.2 364.2h4.6v1.1h-4.6zM489.1 373.2h4.4v1.1h-4.4zM488.4 374.2h4.4v1.1h-4.4z" fill="#e8463a" fill-opacity="0.24"/><path d="M486.1 339.2h10.4v1.1h-10.4zM486.5 343.2h10.2v1.1h-10.2zM485.5 344.2h10.1v1.1h-10.1zM485.5 348.2h10.0v1.1h-10.0zM485.8 350.2h9.9v1.1h-9.9zM487.0 354.2h9.7v1.1h-9.7zM485.7 356.2h9.6v1.1h-9.6zM486.1 357.2h9.5v1.1h-9.5zM487.2 365.2h9.2v1.1h-9.2zM486.3 367.2h9.1v1.1h-9.1zM486.0 368.2h9.0v1.1h-9.0zM486.7 369.2h9.0v1.1h-9.0zM486.5 370.2h8.9v1.1h-8.9zM487.0 371.2h8.9v1.1h-8.9zM487.6 372.2h8.8v1.1h-8.8zM486.8 375.2h8.7v1.1h-8.7zM486.8 376.2h8.6v1.1h-8.6zM486.8 377.2h8.6v1.1h-8.6zM487.5 378.2h8.5v1.1h-8.5zM487.4 379.2h8.5v1.1h-8.5zM486.5 380.2h8.5v1.1h-8.5zM486.6 381.2h8.4v1.1h-8.4zM486.7 382.2h8.4v1.1h-8.4zM487.1 383.2h8.3v1.1h-8.3zM487.9 385.2h8.2v1.1h-8.2zM486.6 387.2h8.1v1.1h-8.1zM488.2 388.2h8.1v1.1h-8.1zM486.7 389.2h8.0v1.1h-8.0zM486.7 391.2h7.9v1.1h-7.9zM487.0 393.2h7.8v1.1h-7.8zM487.8 399.2h7.6v1.1h-7.6zM490.1 425.2h3.2v1.1h-3.2zM489.0 426.2h3.1v1.1h-3.1zM489.2 430.2h3.0v1.1h-3.0zM490.5 431.2h3.0v1.1h-3.0z" fill="#e8463a" fill-opacity="0.06"/><path d="M488.8 339.2h5.2v1.1h-5.2zM489.4 343.2h5.1v1.1h-5.1zM487.7 344.2h5.1v1.1h-5.1zM488.1 349.2h5.0v1.1h-5.0zM489.8 354.2h4.8v1.1h-4.8zM488.2 357.2h4.8v1.1h-4.8zM488.0 360.2h4.7v1.1h-4.7zM489.8 365.2h4.6v1.1h-4.6zM489.4 371.2h4.4v1.1h-4.4zM488.2 380.2h4.2v1.1h-4.2z" fill="#e8463a" fill-opacity="0.22"/><path d="M471.3 340.2h39.0v1.1h-39.0zM471.3 384.2h39.0v1.1h-39.0zM471.3 400.2h39.0v1.1h-39.0zM471.3 406.2h39.0v1.1h-39.0zM471.3 407.2h39.0v1.1h-39.0zM471.3 409.2h39.0v1.1h-39.0z" fill="#e6402e" fill-opacity="0.06"/><path d="M487.6 348.2h5.0v1.1h-5.0zM488.0 350.2h4.9v1.1h-4.9zM488.2 367.2h4.5v1.1h-4.5zM487.8 368.2h4.5v1.1h-4.5zM488.8 369.2h4.5v1.1h-4.5zM488.2 381.2h4.2v1.1h-4.2z" fill="#e8463a" fill-opacity="0.2"/><path d="M487.7 356.2h4.8v1.1h-4.8zM488.6 370.2h4.5v1.1h-4.5zM488.7 376.2h4.3v1.1h-4.3zM489.6 379.2h4.2v1.1h-4.2zM488.4 382.2h4.2v1.1h-4.2zM489.1 383.2h4.2v1.1h-4.2zM490.4 385.2h4.1v1.1h-4.1zM488.1 387.2h4.1v1.1h-4.1z" fill="#e8463a" fill-opacity="0.18"/><path d="M490.2 372.2h4.4v1.1h-4.4zM488.9 375.2h4.3v1.1h-4.3zM488.8 377.2h4.3v1.1h-4.3zM489.8 378.2h4.3v1.1h-4.3zM489.9 384.2h4.1v1.1h-4.1zM490.7 388.2h4.0v1.1h-4.0zM488.3 389.2h4.0v1.1h-4.0zM488.2 391.2h4.0v1.1h-4.0zM488.6 393.2h3.9v1.1h-3.9zM490.7 394.2h3.9v1.1h-3.9zM489.7 399.2h3.8v1.1h-3.8zM488.6 402.2h3.7v1.1h-3.7z" fill="#e8463a" fill-opacity="0.16"/><path d="M482.1 375.2h2.6v0.9h-2.6zM481.2 383.2h8.6v0.9h-8.6zM481.5 393.2h9.7v0.9h-9.7zM476.3 398.2h7.1v0.9h-7.1zM483.2 420.2h13.1v0.9h-13.1zM488.5 424.2h7.5v0.9h-7.5z" fill="#dc3a2e" fill-opacity="0.06"/><path d="M487.6 384.2h8.3v1.1h-8.3zM487.0 386.2h8.2v1.1h-8.2zM486.9 390.2h8.0v1.1h-8.0zM487.3 392.2h7.9v1.1h-7.9zM488.3 394.2h7.8v1.1h-7.8zM488.2 395.2h7.7v1.1h-7.7zM487.1 396.2h7.7v1.1h-7.7zM487.5 397.2h7.6v1.1h-7.6zM488.4 398.2h7.6v1.1h-7.6zM488.2 400.2h7.5v1.1h-7.5zM487.2 401.2h7.5v1.1h-7.5zM487.2 402.2h7.4v1.1h-7.4zM487.2 403.2h7.4v1.1h-7.4zM487.4 404.2h7.3v1.1h-7.3zM488.5 405.2h7.3v1.1h-7.3zM488.1 406.2h7.2v1.1h-7.2zM488.0 407.2h7.2v1.1h-7.2zM487.4 408.2h7.1v1.1h-7.1zM488.2 410.2h7.0v1.1h-7.0zM488.6 411.2h7.0v1.1h-7.0zM488.3 412.2h6.9v1.1h-6.9zM487.5 413.2h6.9v1.1h-6.9zM487.7 415.2h6.8v1.1h-6.8zM488.4 418.2h6.7v1.1h-6.7zM488.7 419.2h6.6v1.1h-6.6z" fill="#e8463a" fill-opacity="0.04"/><path d="M488.2 409.2h7.1v1.1h-7.1zM488.1 414.2h6.8v1.1h-6.8zM488.0 416.2h6.8v1.1h-6.8zM488.7 417.2h6.7v1.1h-6.7zM487.7 420.2h6.6v1.1h-6.6zM488.9 421.2h6.5v1.1h-6.5zM489.3 422.2h6.5v1.1h-6.5zM488.4 423.2h6.4v1.1h-6.4zM488.8 424.2h6.4v1.1h-6.4zM488.5 425.2h6.3v1.1h-6.3zM487.9 426.2h6.3v1.1h-6.3zM489.0 427.2h6.2v1.1h-6.2zM488.3 428.2h6.2v1.1h-6.2zM488.4 429.2h6.1v1.1h-6.1zM488.1 430.2h6.1v1.1h-6.1zM488.9 431.2h6.0v1.1h-6.0z" fill="#e8463a" fill-opacity="0.02"/><path d="M471.3 434.6h39.0v1.1h-39.0zM471.3 435.6h39.0v1.1h-39.0zM471.3 437.6h39.0v1.1h-39.0zM471.3 439.6h39.0v1.1h-39.0zM471.3 444.6h39.0v1.1h-39.0zM471.3 446.6h39.0v1.1h-39.0zM471.3 449.6h39.0v1.1h-39.0zM471.3 451.6h39.0v1.1h-39.0z" fill="#e6402e" fill-opacity="0.1"/><path d="M495.1 434.6h12.0v0.9h-12.0zM498.9 438.6h11.2v0.9h-11.2zM479.3 439.6h4.0v0.9h-4.0zM500.7 439.6h4.2v0.9h-4.2zM494.9 443.6h3.0v0.9h-3.0zM487.2 445.6h11.6v0.9h-11.6zM492.2 447.6h4.3v0.9h-4.3zM488.2 450.6h9.6v0.9h-9.6zM494.2 453.6h10.5v0.9h-10.5zM500.6 454.6h5.0v0.9h-5.0zM477.2 454.6h3.2v0.9h-3.2zM482.1 455.6h7.8v0.9h-7.8zM476.2 455.6h4.8v0.9h-4.8zM485.3 459.6h8.7v0.9h-8.7z" fill="#dc3a2e" fill-opacity="0.08"/><path d="M484.8 434.6h12.0v1.1h-12.0zM484.7 435.6h11.7v1.1h-11.7zM485.3 438.6h10.9v1.1h-10.9zM485.8 442.6h9.9v1.1h-9.9zM489.1 455.6h3.2v1.1h-3.2zM489.3 456.6h3.1v1.1h-3.1zM489.5 457.6h2.9v1.1h-2.9zM489.6 459.6h2.7v1.1h-2.7z" fill="#e8463a" fill-opacity="0.1"/><path d="M487.8 434.6h6.0v1.1h-6.0zM487.4 435.6h5.9v1.1h-5.9zM488.1 438.6h5.5v1.1h-5.5z" fill="#e8463a" fill-opacity="0.34"/><path d="M472.7 435.6h12.2v0.9h-12.2zM474.1 436.6h10.4v0.9h-10.4zM474.8 441.6h7.6v0.9h-7.6zM502.3 443.6h4.0v0.9h-4.0zM491.9 449.6h8.6v0.9h-8.6zM478.8 450.6h10.8v0.9h-10.8zM487.9 456.6h7.5v0.9h-7.5z" fill="#dc3a2e" fill-opacity="0.06"/><path d="M471.3 436.6h39.0v1.1h-39.0zM471.3 440.6h39.0v1.1h-39.0zM471.3 445.6h39.0v1.1h-39.0zM471.3 452.6h39.0v1.1h-39.0zM471.3 456.6h39.0v1.1h-39.0zM471.3 458.6h39.0v1.1h-39.0zM471.3 459.6h39.0v1.1h-39.0zM471.3 460.6h39.0v1.1h-39.0z" fill="#e6402e" fill-opacity="0.08"/><path d="M482.0 436.6h12.3v0.9h-12.3zM496.1 437.6h3.1v0.9h-3.1zM492.1 443.6h9.1v0.9h-9.1zM487.7 452.6h7.7v0.9h-7.7z" fill="#dc3a2e" fill-opacity="0.1"/><path d="M485.1 436.6h11.5v1.1h-11.5zM484.9 437.6h11.2v1.1h-11.2zM486.0 441.6h10.1v1.1h-10.1zM486.2 444.6h9.3v1.1h-9.3zM489.4 460.6h2.5v1.1h-2.5z" fill="#e8463a" fill-opacity="0.08"/><path d="M488.0 436.6h5.7v1.1h-5.7zM488.6 444.6h4.7v1.1h-4.7z" fill="#e8463a" fill-opacity="0.26"/><path d="M487.4 437.6h5.6v1.1h-5.6z" fill="#e8463a" fill-opacity="0.28"/><path d="M471.3 438.6h39.0v1.1h-39.0zM471.3 447.6h39.0v1.1h-39.0zM471.3 448.6h39.0v1.1h-39.0zM471.3 450.6h39.0v1.1h-39.0zM471.3 453.6h39.0v1.1h-39.0zM471.3 454.6h39.0v1.1h-39.0zM471.3 457.6h39.0v1.1h-39.0zM471.3 461.6h39.0v1.1h-39.0z" fill="#e6402e" fill-opacity="0.06"/><path d="M475.2 439.6h11.3v0.9h-11.3zM496.2 445.6h8.6v0.9h-8.6zM476.7 448.6h3.2v0.9h-3.2zM475.5 457.6h5.9v0.9h-5.9zM474.0 457.6h11.2v0.9h-11.2zM482.4 461.6h2.9v0.9h-2.9zM478.6 461.6h8.9v0.9h-8.9z" fill="#dc3a2e" fill-opacity="0.12"/><path d="M485.9 439.6h10.7v1.1h-10.7zM485.2 440.6h10.4v1.1h-10.4zM485.7 443.6h9.6v1.1h-9.6zM486.0 445.6h9.1v1.1h-9.1zM486.3 446.6h8.8v1.1h-8.8zM486.5 447.6h8.5v1.1h-8.5zM487.1 449.6h8.0v1.1h-8.0zM486.6 450.6h7.7v1.1h-7.7zM487.4 451.6h7.5v1.1h-7.5zM489.0 461.6h2.4v1.1h-2.4z" fill="#e8463a" fill-opacity="0.06"/><path d="M488.8 439.6h5.3v1.1h-5.3zM487.5 440.6h5.2v1.1h-5.2zM487.9 443.6h4.8v1.1h-4.8zM488.4 446.6h4.4v1.1h-4.4zM488.6 447.6h4.3v1.1h-4.3z" fill="#e8463a" fill-opacity="0.22"/><path d="M471.3 441.6h39.0v1.1h-39.0zM471.3 442.6h39.0v1.1h-39.0zM471.3 443.6h39.0v1.1h-39.0zM471.3 455.6h39.0v1.1h-39.0z" fill="#e6402e" fill-opacity="0.12"/><path d="M488.7 441.6h5.1v1.1h-5.1z" fill="#e8463a" fill-opacity="0.24"/><path d="M476.2 442.6h9.6v0.9h-9.6zM493.3 446.6h6.5v0.9h-6.5z" fill="#dc3a2e" fill-opacity="0.14"/><path d="M488.2 442.6h4.9v1.1h-4.9z" fill="#e8463a" fill-opacity="0.3"/><path d="M488.1 445.6h4.5v1.1h-4.5zM489.3 449.6h4.0v1.1h-4.0z" fill="#e8463a" fill-opacity="0.18"/><path d="M486.3 448.6h8.3v1.1h-8.3zM487.5 452.6h7.2v1.1h-7.2zM487.2 453.6h6.9v1.1h-6.9zM487.1 454.6h6.7v1.1h-6.7zM487.5 455.6h6.4v1.1h-6.4zM487.7 456.6h6.1v1.1h-6.1zM487.9 457.6h5.9v1.1h-5.9zM488.3 458.6h5.6v1.1h-5.6zM488.2 459.6h5.4v1.1h-5.4z" fill="#e8463a" fill-opacity="0.04"/><path d="M488.1 448.6h4.1v1.1h-4.1z" fill="#e8463a" fill-opacity="0.16"/><path d="M488.4 450.6h3.9v1.1h-3.9zM489.5 451.6h3.7v1.1h-3.7z" fill="#e8463a" fill-opacity="0.2"/><path d="M489.5 452.6h3.6v1.1h-3.6zM488.6 454.6h3.3v1.1h-3.3z" fill="#e8463a" fill-opacity="0.14"/><path d="M488.9 453.6h3.5v1.1h-3.5zM489.9 458.6h2.8v1.1h-2.8z" fill="#e8463a" fill-opacity="0.12"/><path d="M488.2 460.6h5.1v1.1h-5.1zM488.0 461.6h4.8v1.1h-4.8z" fill="#e8463a" fill-opacity="0.02"/><path d="M497.6 410.8h1.0v1h-1.0zM501.3 318.1h1.1v1h-1.1zM504.2 310.4h1.4v1h-1.4zM488.2 366.2h1.2v1h-1.2zM495.7 430.4h1.4v1h-1.4zM472.2 417.9h0.9v1h-0.9zM486.3 243.1h1.4v1h-1.4zM500.9 447.3h1.3v1h-1.3zM499.6 428.4h1.0v1h-1.0zM477.0 299.2h1.2v1h-1.2zM478.8 354.0h1.4v1h-1.4zM487.6 386.5h1.4v1h-1.4zM491.3 284.9h1.1v1h-1.1zM471.3 254.6h1.0v1h-1.0zM498.1 398.4h1.0v1h-1.0zM490.0 387.9h1.3v1h-1.3zM495.8 449.5h1.4v1h-1.4zM498.5 275.5h0.9v1h-0.9zM472.5 430.9h1.4v1h-1.4zM477.5 369.1h1.5v1h-1.5zM471.9 304.0h1.3v1h-1.3zM471.4 324.6h1.3v1h-1.3zM506.7 407.1h0.8v1h-0.8zM501.7 282.7h1.3v1h-1.3zM490.0 348.3h0.8v1h-0.8zM508.9 316.4h1.2v1h-1.2zM483.0 365.5h1.1v1h-1.1zM496.2 249.5h1.2v1h-1.2zM502.9 247.8h1.4v1h-1.4zM501.2 268.8h0.9v1h-0.9zM506.0 406.2h1.4v1h-1.4zM479.4 428.4h1.1v1h-1.1zM493.9 340.7h1.3v1h-1.3zM478.8 266.1h0.8v1h-0.8zM471.7 291.0h1.1v1h-1.1zM490.0 407.2h1.4v1h-1.4zM492.6 402.9h1.2v1h-1.2zM490.6 263.1h1.3v1h-1.3zM473.6 445.2h1.4v1h-1.4zM472.3 241.4h1.1v1h-1.1zM502.2 425.0h1.3v1h-1.3zM489.3 353.2h1.0v1h-1.0zM488.7 317.6h1.5v1h-1.5zM476.5 305.2h0.9v1h-0.9z" fill="#e04050" fill-opacity="0.1"/><path d="M479.1 276.3h1.0v1h-1.0zM479.8 370.8h1.4v1h-1.4zM492.9 325.1h1.0v1h-1.0zM480.5 363.2h1.2v1h-1.2zM494.6 277.6h1.0v1h-1.0zM483.5 358.9h0.8v1h-0.8zM500.5 257.5h1.2v1h-1.2zM489.8 293.7h1.2v1h-1.2zM478.5 309.7h1.3v1h-1.3zM505.7 285.5h0.9v1h-0.9zM474.7 346.0h1.0v1h-1.0zM475.8 412.4h1.3v1h-1.3zM497.9 362.1h1.5v1h-1.5zM505.3 276.7h1.1v1h-1.1zM504.0 396.6h0.9v1h-0.9zM485.8 331.9h1.0v1h-1.0zM495.6 408.3h1.3v1h-1.3zM494.5 244.0h0.9v1h-0.9zM475.0 372.8h1.0v1h-1.0zM479.7 399.3h1.5v1h-1.5zM504.0 422.7h1.4v1h-1.4zM508.5 364.9h1.1v1h-1.1zM480.0 379.5h0.8v1h-0.8zM503.9 396.4h1.0v1h-1.0zM494.4 284.9h0.9v1h-0.9z" fill="#e04050" fill-opacity="0.18"/><path d="M498.3 329.4h0.9v1h-0.9zM507.6 357.3h1.5v1h-1.5zM482.5 299.9h1.4v1h-1.4zM480.0 405.7h1.5v1h-1.5zM474.6 250.8h1.4v1h-1.4zM472.9 336.7h1.4v1h-1.4zM489.2 379.2h1.0v1h-1.0zM495.2 330.6h1.0v1h-1.0zM475.4 293.2h1.3v1h-1.3zM501.1 373.8h1.2v1h-1.2zM474.4 440.0h1.1v1h-1.1zM491.1 461.4h1.2v1h-1.2zM475.9 341.9h1.2v1h-1.2zM483.6 349.8h1.2v1h-1.2zM493.8 397.9h1.1v1h-1.1zM494.1 357.2h1.4v1h-1.4zM503.7 260.2h1.3v1h-1.3zM482.4 265.7h1.1v1h-1.1zM508.7 311.0h1.5v1h-1.5zM505.3 399.0h1.0v1h-1.0zM487.8 257.0h1.3v1h-1.3zM496.3 241.2h1.4v1h-1.4zM472.8 390.2h0.8v1h-0.8zM473.8 388.6h1.4v1h-1.4zM479.6 269.6h0.9v1h-0.9zM501.4 287.9h1.4v1h-1.4zM471.7 320.9h1.0v1h-1.0zM488.7 406.7h1.4v1h-1.4zM486.7 328.6h1.1v1h-1.1zM474.7 424.4h1.2v1h-1.2zM505.9 417.7h1.0v1h-1.0zM499.3 308.0h1.2v1h-1.2zM492.4 284.2h1.5v1h-1.5zM492.3 388.3h1.4v1h-1.4zM506.6 443.8h1.5v1h-1.5zM472.5 276.3h1.3v1h-1.3zM500.8 423.5h1.4v1h-1.4zM474.5 250.6h0.8v1h-0.8zM479.5 264.5h1.1v1h-1.1z" fill="#e04050" fill-opacity="0.2"/><path d="M507.9 256.0h1.0v1h-1.0zM476.4 419.7h1.0v1h-1.0zM481.4 411.9h1.1v1h-1.1zM506.2 398.5h1.0v1h-1.0zM502.7 274.8h1.1v1h-1.1zM487.1 280.5h1.2v1h-1.2zM471.6 363.5h1.2v1h-1.2zM476.3 362.7h1.2v1h-1.2zM481.5 265.2h1.3v1h-1.3zM483.5 310.6h0.8v1h-0.8zM500.0 298.1h1.1v1h-1.1zM500.5 345.6h1.5v1h-1.5zM481.3 349.0h1.2v1h-1.2zM508.9 328.5h1.4v1h-1.4zM477.9 461.6h1.3v1h-1.3zM495.3 414.3h1.4v1h-1.4zM475.0 368.6h1.3v1h-1.3zM506.8 249.2h1.3v1h-1.3zM502.2 327.7h0.8v1h-0.8zM490.5 386.6h1.1v1h-1.1zM483.5 433.1h1.1v1h-1.1zM476.0 443.3h1.0v1h-1.0zM496.5 428.1h1.2v1h-1.2zM474.4 288.0h1.4v1h-1.4zM481.7 454.2h1.3v1h-1.3zM476.1 246.3h1.3v1h-1.3zM504.6 403.2h0.9v1h-0.9zM496.8 252.7h1.3v1h-1.3zM486.6 327.4h0.9v1h-0.9zM471.7 301.0h1.2v1h-1.2zM485.4 320.1h1.0v1h-1.0zM494.6 383.5h0.8v1h-0.8zM487.3 276.8h0.8v1h-0.8zM491.1 241.7h1.4v1h-1.4zM491.1 294.7h1.1v1h-1.1zM503.2 367.1h0.9v1h-0.9z" fill="#e04050" fill-opacity="0.12"/><path d="M495.7 372.1h1.3v1h-1.3zM496.2 267.8h1.3v1h-1.3zM474.1 265.6h1.0v1h-1.0zM480.4 409.3h0.9v1h-0.9zM500.1 278.8h0.9v1h-0.9zM485.1 260.4h1.4v1h-1.4zM506.4 301.5h1.1v1h-1.1zM479.2 256.9h1.0v1h-1.0zM476.5 280.9h1.0v1h-1.0zM491.8 396.0h1.0v1h-1.0zM503.3 394.3h1.1v1h-1.1zM487.3 264.5h1.1v1h-1.1zM495.3 255.0h0.9v1h-0.9zM480.3 249.1h1.0v1h-1.0zM509.3 288.4h0.9v1h-0.9zM501.2 281.5h1.5v1h-1.5zM502.6 357.4h1.2v1h-1.2zM502.3 384.2h1.4v1h-1.4zM489.7 347.7h1.1v1h-1.1zM501.4 423.5h1.0v1h-1.0zM496.4 266.5h1.0v1h-1.0zM499.1 281.8h1.1v1h-1.1zM497.4 265.7h1.3v1h-1.3zM471.6 460.9h0.9v1h-0.9zM472.2 390.0h1.3v1h-1.3zM478.1 286.0h1.1v1h-1.1zM486.5 272.6h0.9v1h-0.9zM507.3 339.8h1.2v1h-1.2zM493.5 361.8h0.8v1h-0.8z" fill="#e04050" fill-opacity="0.24"/><path d="M479.7 320.1h1.1v1h-1.1zM504.9 298.5h1.3v1h-1.3zM472.2 290.7h1.2v1h-1.2zM474.3 361.1h1.2v1h-1.2zM491.2 324.7h1.0v1h-1.0zM491.3 406.8h1.1v1h-1.1zM479.4 312.9h1.1v1h-1.1zM489.3 383.3h0.9v1h-0.9zM472.6 450.8h0.8v1h-0.8zM507.3 262.7h1.2v1h-1.2zM499.7 265.1h0.8v1h-0.8zM489.9 257.3h0.8v1h-0.8zM488.4 284.0h0.9v1h-0.9zM488.5 265.8h0.9v1h-0.9zM503.5 411.7h1.4v1h-1.4zM495.8 312.2h1.0v1h-1.0zM483.1 322.9h1.4v1h-1.4zM484.8 246.0h0.9v1h-0.9zM488.0 266.6h1.5v1h-1.5zM477.5 398.2h1.3v1h-1.3zM505.7 351.5h1.3v1h-1.3zM493.9 295.5h1.4v1h-1.4zM497.2 442.8h1.5v1h-1.5zM477.1 344.5h1.2v1h-1.2zM500.4 301.6h1.5v1h-1.5zM480.5 261.2h1.2v1h-1.2zM506.7 307.9h1.0v1h-1.0zM478.5 350.2h1.3v1h-1.3zM472.0 297.4h1.5v1h-1.5z" fill="#e04050" fill-opacity="0.14"/><path d="M498.7 357.1h1.1v1h-1.1zM496.9 259.4h1.1v1h-1.1zM475.8 244.6h1.5v1h-1.5zM483.0 243.6h1.4v1h-1.4zM488.3 350.9h1.1v1h-1.1zM477.6 323.5h1.3v1h-1.3zM506.4 437.3h1.2v1h-1.2zM500.6 269.0h1.1v1h-1.1zM477.9 359.0h0.9v1h-0.9zM474.5 248.2h1.1v1h-1.1zM491.1 459.6h1.3v1h-1.3zM472.8 291.3h1.0v1h-1.0zM502.7 297.3h1.2v1h-1.2zM484.8 458.8h1.4v1h-1.4zM486.8 276.4h1.0v1h-1.0zM508.1 381.7h1.1v1h-1.1zM508.8 298.7h1.0v1h-1.0zM495.3 305.0h0.8v1h-0.8zM482.2 312.9h1.2v1h-1.2zM489.9 455.2h1.1v1h-1.1zM471.3 258.2h0.9v1h-0.9zM478.4 253.6h1.4v1h-1.4zM485.6 451.6h1.0v1h-1.0zM485.2 338.7h1.1v1h-1.1zM491.2 393.3h0.9v1h-0.9zM472.9 371.6h0.9v1h-0.9zM483.3 281.8h0.9v1h-0.9zM491.7 265.4h1.2v1h-1.2zM476.8 461.7h0.9v1h-0.9zM503.4 328.6h1.0v1h-1.0zM508.1 294.3h1.3v1h-1.3zM491.0 314.6h1.0v1h-1.0zM502.2 439.3h1.2v1h-1.2zM495.1 434.9h1.0v1h-1.0zM508.7 405.7h1.4v1h-1.4zM485.6 280.9h1.4v1h-1.4zM474.9 372.3h1.0v1h-1.0zM481.5 375.1h0.9v1h-0.9zM501.0 278.8h1.2v1h-1.2zM486.7 366.6h1.2v1h-1.2z" fill="#e04050" fill-opacity="0.26"/><path d="M478.0 298.4h0.9v1h-0.9zM486.0 289.5h1.2v1h-1.2zM508.5 402.1h1.1v1h-1.1zM485.8 383.2h1.2v1h-1.2zM497.7 285.3h1.1v1h-1.1zM491.1 411.9h1.4v1h-1.4zM475.5 380.5h1.1v1h-1.1zM480.7 264.2h1.3v1h-1.3zM475.2 266.1h0.9v1h-0.9zM483.7 263.1h1.1v1h-1.1zM472.6 326.0h1.0v1h-1.0zM502.7 340.4h1.2v1h-1.2zM491.5 338.7h1.3v1h-1.3zM472.4 281.9h1.2v1h-1.2zM491.1 243.0h1.1v1h-1.1zM503.6 340.1h1.1v1h-1.1zM484.8 262.6h1.2v1h-1.2zM502.8 407.3h1.3v1h-1.3zM480.8 398.1h1.3v1h-1.3zM498.9 372.1h1.2v1h-1.2zM508.7 376.3h1.1v1h-1.1zM498.4 386.6h1.2v1h-1.2zM474.9 283.4h1.4v1h-1.4zM488.0 261.8h1.4v1h-1.4zM501.7 317.8h0.8v1h-0.8zM493.7 372.1h0.8v1h-0.8zM505.7 300.2h0.9v1h-0.9zM490.1 452.0h0.9v1h-0.9zM485.2 282.7h1.3v1h-1.3zM507.9 361.0h1.2v1h-1.2zM505.5 304.5h1.3v1h-1.3zM490.9 315.8h1.1v1h-1.1zM498.4 332.2h1.4v1h-1.4zM477.7 283.4h1.0v1h-1.0zM501.2 442.0h1.3v1h-1.3zM491.0 253.9h0.8v1h-0.8zM482.2 456.2h1.1v1h-1.1zM497.9 288.7h1.0v1h-1.0zM502.2 382.4h1.4v1h-1.4z" fill="#e04050" fill-opacity="0.22"/><path d="M498.3 421.0h1.0v1h-1.0zM482.5 453.6h0.8v1h-0.8zM489.7 248.7h1.3v1h-1.3zM480.5 407.5h1.4v1h-1.4zM481.5 244.1h1.3v1h-1.3zM503.1 348.4h1.3v1h-1.3zM486.8 279.4h1.1v1h-1.1zM486.5 380.2h1.3v1h-1.3zM478.5 267.0h0.9v1h-0.9zM472.6 452.6h0.9v1h-0.9zM509.3 293.7h0.8v1h-0.8zM473.4 428.4h1.4v1h-1.4zM492.6 267.2h1.3v1h-1.3zM499.4 310.8h1.2v1h-1.2zM480.2 258.0h1.0v1h-1.0zM509.1 360.8h0.8v1h-0.8zM493.4 378.3h1.1v1h-1.1zM502.0 278.1h1.4v1h-1.4zM496.6 308.5h1.4v1h-1.4zM481.6 365.4h0.9v1h-0.9zM476.3 276.8h1.0v1h-1.0zM505.4 247.1h1.0v1h-1.0z" fill="#e04050" fill-opacity="0.28"/><path d="M487.4 421.0h1.3v1h-1.3zM475.8 334.9h1.5v1h-1.5zM489.6 416.9h1.2v1h-1.2zM483.1 254.2h0.9v1h-0.9zM474.4 295.6h1.3v1h-1.3zM480.4 314.8h1.3v1h-1.3zM506.8 364.1h1.1v1h-1.1zM508.4 285.5h1.2v1h-1.2zM489.4 288.0h1.3v1h-1.3zM485.6 434.1h1.4v1h-1.4zM485.8 330.2h1.2v1h-1.2zM473.1 369.3h1.2v1h-1.2zM483.0 419.2h1.1v1h-1.1zM505.7 351.0h1.3v1h-1.3zM503.8 330.7h1.4v1h-1.4zM472.4 257.7h1.2v1h-1.2zM504.2 261.3h1.3v1h-1.3zM506.3 285.0h1.3v1h-1.3zM488.8 413.7h1.2v1h-1.2zM492.6 325.8h1.1v1h-1.1zM487.0 453.0h1.4v1h-1.4zM490.5 389.8h1.4v1h-1.4zM493.5 320.0h1.0v1h-1.0zM488.9 241.6h0.9v1h-0.9zM478.4 327.6h1.1v1h-1.1zM478.0 242.5h1.2v1h-1.2zM473.0 361.1h1.1v1h-1.1zM497.6 426.5h1.5v1h-1.5zM488.6 316.3h1.0v1h-1.0zM508.8 290.6h1.3v1h-1.3zM508.6 258.9h1.1v1h-1.1zM503.3 445.5h1.5v1h-1.5zM489.3 391.6h1.3v1h-1.3zM505.6 244.0h1.5v1h-1.5zM491.0 378.5h1.4v1h-1.4zM485.0 439.5h1.0v1h-1.0zM507.0 277.6h1.4v1h-1.4zM500.8 387.5h1.4v1h-1.4zM484.7 332.7h1.1v1h-1.1zM502.1 350.6h1.2v1h-1.2z" fill="#e04050" fill-opacity="0.16"/><path d="M497.0 417.2h1.4v1h-1.4zM508.1 243.3h1.0v1h-1.0zM499.7 356.3h1.2v1h-1.2zM493.6 315.5h1.4v1h-1.4zM471.4 345.7h0.9v1h-0.9zM502.7 294.6h1.3v1h-1.3zM496.3 297.0h0.8v1h-0.8zM494.6 322.9h1.4v1h-1.4zM498.6 433.7h1.1v1h-1.1zM476.2 331.1h1.4v1h-1.4zM504.5 266.6h0.8v1h-0.8zM493.5 304.3h1.3v1h-1.3zM491.9 357.3h1.1v1h-1.1z" fill="#e04050" fill-opacity="0.08"/><path d="M483.3 280.9h1.0v1h-1.0zM503.3 459.7h0.9v1h-0.9zM489.7 379.7h1.1v1h-1.1zM487.2 281.2h1.2v1h-1.2zM478.4 304.3h0.8v1h-0.8zM471.4 331.5h1.0v1h-1.0zM486.6 317.0h1.2v1h-1.2zM495.9 261.9h1.1v1h-1.1zM487.9 293.6h0.8v1h-0.8zM480.4 325.5h1.2v1h-1.2zM473.5 250.5h1.3v1h-1.3zM487.6 330.8h1.2v1h-1.2zM477.1 288.9h1.0v1h-1.0zM504.0 410.1h0.9v1h-0.9z" fill="#e04050" fill-opacity="0.3"/><rect x="471.3" y="432.2" width="39.0" height="2.400000000000034" fill="#c2b8b8"/><rect x="471.3" y="241.2" width="39.0" height="221.60000000000002" fill="none" stroke="#a09c9c" stroke-width="0.8"/>
<rect x="417.3" y="467" width="38.7" height="3.2" fill="url(#cbar)" stroke="#999" stroke-width="0.5"/>
<rect x="471.3" y="467" width="39" height="3.2" fill="url(#cbar)" stroke="#999" stroke-width="0.5"/>
<text x="418" y="478.1" font-size="6.3" text-anchor="middle" fill="#333" font-weight="normal" font-style="normal" stroke="#333" stroke-width="0.12" >0</text>
<text x="433.5" y="478.1" font-size="6.3" text-anchor="middle" fill="#333" font-weight="normal" font-style="normal" stroke="#333" stroke-width="0.12" >4</text>
<text x="448.5" y="478.1" font-size="6.3" text-anchor="middle" fill="#333" font-weight="normal" font-style="normal" stroke="#333" stroke-width="0.12" >8</text>
<text x="472.2" y="478.1" font-size="6.3" text-anchor="middle" fill="#333" font-weight="normal" font-style="normal" stroke="#333" stroke-width="0.12" >0</text>
<text x="485" y="478.1" font-size="6.3" text-anchor="middle" fill="#333" font-weight="normal" font-style="normal" stroke="#333" stroke-width="0.12" >5</text>
<text x="498" y="478.1" font-size="6.3" text-anchor="middle" fill="#333" font-weight="normal" font-style="normal" stroke="#333" stroke-width="0.12" >10</text>
<text x="508.5" y="478.1" font-size="6.3" text-anchor="middle" fill="#333" font-weight="normal" font-style="normal" stroke="#333" stroke-width="0.12" >15</text>
<text transform="translate(411.4,299.2) rotate(-90)" font-size="6.3" text-anchor="middle" fill="#333" stroke="#333" stroke-width="0.1">1547 H3K27ac up</text>
<text transform="translate(404.6,447.2) rotate(-90)" font-size="6.3" stroke="#333" stroke-width="0.1" text-anchor="middle" fill="#333">234 H3K27ac</text>
<text transform="translate(411.9,447.8) rotate(-90)" font-size="6.6" stroke="#333" stroke-width="0.1" text-anchor="middle" fill="#333">down</text>
<rect x="0" y="0" width="520" height="1" fill="#505050"/><rect x="0" y="0" width="1" height="486" fill="#505050"/><rect x="518.7" y="0" width="1.3" height="486" fill="#484848"/><rect x="0" y="484.7" width="520" height="1.3" fill="#484848"/>
</svg></body></html>
